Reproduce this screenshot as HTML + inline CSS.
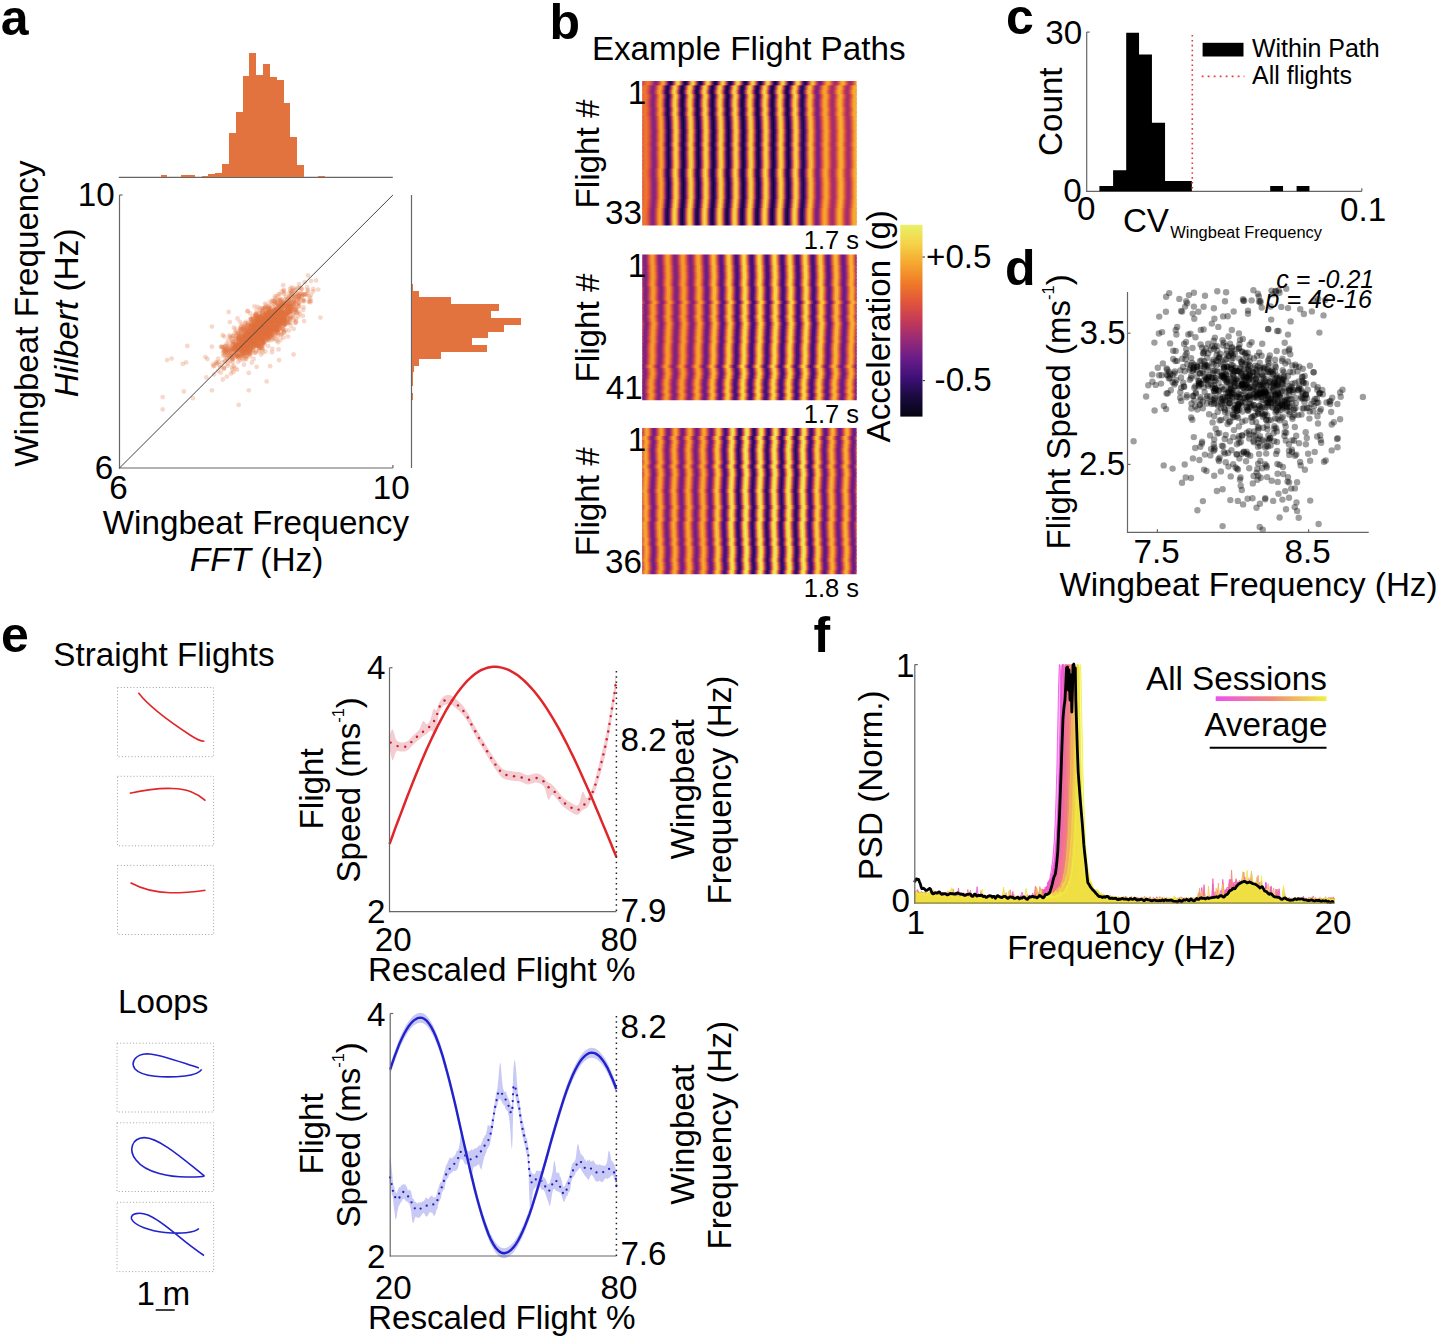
<!DOCTYPE html>
<html><head><meta charset="utf-8"><style>
html,body{margin:0;padding:0;background:#fff;width:1440px;height:1341px;overflow:hidden}
svg{display:block}
text{font-family:"Liberation Sans",sans-serif}
</style></head><body>
<svg width="1440" height="1341" viewBox="0 0 1440 1341" font-family='"Liberation Sans",sans-serif'>
<defs><linearGradient id="cb" x1="0" y1="0" x2="0" y2="1"><stop offset="0.00" stop-color="#e8f268"/><stop offset="0.05" stop-color="#eee258"/><stop offset="0.10" stop-color="#f5d248"/><stop offset="0.15" stop-color="#f5bd3c"/><stop offset="0.20" stop-color="#f5a830"/><stop offset="0.25" stop-color="#f2922c"/><stop offset="0.30" stop-color="#f07c28"/><stop offset="0.35" stop-color="#e96931"/><stop offset="0.40" stop-color="#e2563a"/><stop offset="0.45" stop-color="#d34849"/><stop offset="0.50" stop-color="#c43a58"/><stop offset="0.55" stop-color="#ad3267"/><stop offset="0.60" stop-color="#962a76"/><stop offset="0.65" stop-color="#7f237f"/><stop offset="0.70" stop-color="#681c88"/><stop offset="0.75" stop-color="#53167f"/><stop offset="0.80" stop-color="#3e1076"/><stop offset="0.85" stop-color="#2b0d5a"/><stop offset="0.90" stop-color="#190a3e"/><stop offset="0.95" stop-color="#0f0728"/><stop offset="1.00" stop-color="#050412"/></linearGradient><linearGradient id="hg1"><stop offset="0.0000" stop-color="#ef782a"/><stop offset="0.0079" stop-color="#e96931"/><stop offset="0.0157" stop-color="#d94e43"/><stop offset="0.0236" stop-color="#c23959"/><stop offset="0.0314" stop-color="#b63561"/><stop offset="0.0393" stop-color="#c73d55"/><stop offset="0.0472" stop-color="#df533d"/><stop offset="0.0550" stop-color="#eb6e2e"/><stop offset="0.0629" stop-color="#ee782a"/><stop offset="0.0708" stop-color="#e86533"/><stop offset="0.0786" stop-color="#d34849"/><stop offset="0.0865" stop-color="#a42f6d"/><stop offset="0.0943" stop-color="#81247e"/><stop offset="0.1022" stop-color="#912978"/><stop offset="0.1101" stop-color="#d0454c"/><stop offset="0.1179" stop-color="#f1842a"/><stop offset="0.1258" stop-color="#f5aa31"/><stop offset="0.1336" stop-color="#f18329"/><stop offset="0.1415" stop-color="#b63561"/><stop offset="0.1494" stop-color="#3d1075"/><stop offset="0.1572" stop-color="#140934"/><stop offset="0.1651" stop-color="#47137a"/><stop offset="0.1730" stop-color="#cf444d"/><stop offset="0.1808" stop-color="#f5b437"/><stop offset="0.1887" stop-color="#f1db51"/><stop offset="0.1965" stop-color="#f49e2e"/><stop offset="0.2044" stop-color="#b33463"/><stop offset="0.2123" stop-color="#330e66"/><stop offset="0.2201" stop-color="#130831"/><stop offset="0.2280" stop-color="#47137a"/><stop offset="0.2358" stop-color="#cf444d"/><stop offset="0.2437" stop-color="#f5b437"/><stop offset="0.2516" stop-color="#f1db51"/><stop offset="0.2594" stop-color="#f49e2e"/><stop offset="0.2673" stop-color="#b33463"/><stop offset="0.2752" stop-color="#330e66"/><stop offset="0.2830" stop-color="#130831"/><stop offset="0.2909" stop-color="#47137a"/><stop offset="0.2987" stop-color="#cf444d"/><stop offset="0.3066" stop-color="#f5b437"/><stop offset="0.3145" stop-color="#f1db51"/><stop offset="0.3223" stop-color="#f49e2e"/><stop offset="0.3302" stop-color="#b33463"/><stop offset="0.3381" stop-color="#330e66"/><stop offset="0.3459" stop-color="#130831"/><stop offset="0.3538" stop-color="#47137a"/><stop offset="0.3616" stop-color="#cf444d"/><stop offset="0.3695" stop-color="#f5b437"/><stop offset="0.3774" stop-color="#f1db51"/><stop offset="0.3852" stop-color="#f49e2e"/><stop offset="0.3931" stop-color="#b33463"/><stop offset="0.4009" stop-color="#330e66"/><stop offset="0.4088" stop-color="#130831"/><stop offset="0.4167" stop-color="#47137a"/><stop offset="0.4245" stop-color="#cf444d"/><stop offset="0.4324" stop-color="#f5b437"/><stop offset="0.4403" stop-color="#f1db51"/><stop offset="0.4481" stop-color="#f49e2e"/><stop offset="0.4560" stop-color="#b33463"/><stop offset="0.4638" stop-color="#330e66"/><stop offset="0.4717" stop-color="#130831"/><stop offset="0.4796" stop-color="#47137a"/><stop offset="0.4874" stop-color="#cf444d"/><stop offset="0.4953" stop-color="#f5b437"/><stop offset="0.5031" stop-color="#f1db51"/><stop offset="0.5110" stop-color="#f49e2e"/><stop offset="0.5189" stop-color="#b33463"/><stop offset="0.5267" stop-color="#330e66"/><stop offset="0.5346" stop-color="#130831"/><stop offset="0.5425" stop-color="#47137a"/><stop offset="0.5503" stop-color="#cf444d"/><stop offset="0.5582" stop-color="#f5b437"/><stop offset="0.5660" stop-color="#f1db51"/><stop offset="0.5739" stop-color="#f49e2e"/><stop offset="0.5818" stop-color="#b33463"/><stop offset="0.5896" stop-color="#330e66"/><stop offset="0.5975" stop-color="#130831"/><stop offset="0.6053" stop-color="#47137a"/><stop offset="0.6132" stop-color="#cf444d"/><stop offset="0.6211" stop-color="#f5b437"/><stop offset="0.6289" stop-color="#f1db51"/><stop offset="0.6368" stop-color="#f49e2e"/><stop offset="0.6447" stop-color="#b33463"/><stop offset="0.6525" stop-color="#330e66"/><stop offset="0.6604" stop-color="#130831"/><stop offset="0.6682" stop-color="#47137a"/><stop offset="0.6761" stop-color="#cf444d"/><stop offset="0.6840" stop-color="#f5b437"/><stop offset="0.6918" stop-color="#f1db51"/><stop offset="0.6997" stop-color="#f49e2e"/><stop offset="0.7075" stop-color="#b33463"/><stop offset="0.7154" stop-color="#370f6c"/><stop offset="0.7233" stop-color="#1d0b44"/><stop offset="0.7311" stop-color="#5c1983"/><stop offset="0.7390" stop-color="#d54a47"/><stop offset="0.7469" stop-color="#f5a730"/><stop offset="0.7547" stop-color="#f5c340"/><stop offset="0.7626" stop-color="#f2902c"/><stop offset="0.7704" stop-color="#ce434e"/><stop offset="0.7783" stop-color="#83247d"/><stop offset="0.7862" stop-color="#721f84"/><stop offset="0.7940" stop-color="#a42f6d"/><stop offset="0.8019" stop-color="#e25739"/><stop offset="0.8097" stop-color="#f2922c"/><stop offset="0.8176" stop-color="#f5aa31"/><stop offset="0.8255" stop-color="#f28e2b"/><stop offset="0.8333" stop-color="#e2563a"/><stop offset="0.8412" stop-color="#b33463"/><stop offset="0.8491" stop-color="#9d2d71"/><stop offset="0.8569" stop-color="#be385c"/><stop offset="0.8648" stop-color="#e76433"/><stop offset="0.8726" stop-color="#f49e2e"/><stop offset="0.8805" stop-color="#f5b236"/><stop offset="0.8884" stop-color="#f3932c"/><stop offset="0.8962" stop-color="#e25739"/><stop offset="0.9041" stop-color="#b33463"/><stop offset="0.9119" stop-color="#9d2d71"/><stop offset="0.9198" stop-color="#be385c"/><stop offset="0.9277" stop-color="#e76433"/><stop offset="0.9355" stop-color="#f49e2e"/><stop offset="0.9434" stop-color="#f5b236"/><stop offset="0.9513" stop-color="#f3932c"/><stop offset="0.9591" stop-color="#e25739"/><stop offset="0.9670" stop-color="#b33463"/><stop offset="0.9748" stop-color="#9d2d71"/><stop offset="0.9827" stop-color="#be385c"/><stop offset="0.9906" stop-color="#e76433"/><stop offset="0.9984" stop-color="#f49e2e"/></linearGradient><clipPath id="hc1"><rect x="642.2" y="81" width="214.5" height="144.5"/></clipPath><linearGradient id="hg2"><stop offset="0.0000" stop-color="#7f237f"/><stop offset="0.0080" stop-color="#b73561"/><stop offset="0.0160" stop-color="#e86632"/><stop offset="0.0240" stop-color="#f3992d"/><stop offset="0.0320" stop-color="#f39a2e"/><stop offset="0.0400" stop-color="#e96931"/><stop offset="0.0481" stop-color="#b9365f"/><stop offset="0.0561" stop-color="#81237e"/><stop offset="0.0641" stop-color="#7f237f"/><stop offset="0.0721" stop-color="#b73561"/><stop offset="0.0801" stop-color="#e86632"/><stop offset="0.0881" stop-color="#f3992d"/><stop offset="0.0961" stop-color="#f39a2e"/><stop offset="0.1041" stop-color="#e96931"/><stop offset="0.1121" stop-color="#b9365f"/><stop offset="0.1201" stop-color="#81237e"/><stop offset="0.1281" stop-color="#7f237f"/><stop offset="0.1361" stop-color="#b73561"/><stop offset="0.1442" stop-color="#e86632"/><stop offset="0.1522" stop-color="#f3992d"/><stop offset="0.1602" stop-color="#f39a2e"/><stop offset="0.1682" stop-color="#e96931"/><stop offset="0.1762" stop-color="#b9365f"/><stop offset="0.1842" stop-color="#81237e"/><stop offset="0.1922" stop-color="#7f237f"/><stop offset="0.2002" stop-color="#b73561"/><stop offset="0.2082" stop-color="#e86632"/><stop offset="0.2162" stop-color="#f3992d"/><stop offset="0.2242" stop-color="#f39a2e"/><stop offset="0.2322" stop-color="#e96931"/><stop offset="0.2403" stop-color="#b9365f"/><stop offset="0.2483" stop-color="#81237e"/><stop offset="0.2563" stop-color="#7e237f"/><stop offset="0.2643" stop-color="#b53562"/><stop offset="0.2723" stop-color="#e96931"/><stop offset="0.2803" stop-color="#f4a22f"/><stop offset="0.2883" stop-color="#f5a530"/><stop offset="0.2963" stop-color="#eb6e2f"/><stop offset="0.3043" stop-color="#b33463"/><stop offset="0.3123" stop-color="#6e1e86"/><stop offset="0.3203" stop-color="#6a1d87"/><stop offset="0.3283" stop-color="#ad3267"/><stop offset="0.3364" stop-color="#eb6f2e"/><stop offset="0.3444" stop-color="#f5b437"/><stop offset="0.3524" stop-color="#f5b739"/><stop offset="0.3604" stop-color="#ed742c"/><stop offset="0.3684" stop-color="#ab3168"/><stop offset="0.3764" stop-color="#5c1883"/><stop offset="0.3844" stop-color="#581781"/><stop offset="0.3924" stop-color="#a42f6d"/><stop offset="0.4004" stop-color="#ee752b"/><stop offset="0.4084" stop-color="#f5c541"/><stop offset="0.4164" stop-color="#f5c943"/><stop offset="0.4244" stop-color="#f07b28"/><stop offset="0.4325" stop-color="#a32f6d"/><stop offset="0.4405" stop-color="#4a137b"/><stop offset="0.4485" stop-color="#461279"/><stop offset="0.4565" stop-color="#9c2c72"/><stop offset="0.4645" stop-color="#f07b28"/><stop offset="0.4725" stop-color="#f4d349"/><stop offset="0.4805" stop-color="#f4d54b"/><stop offset="0.4885" stop-color="#f08029"/><stop offset="0.4965" stop-color="#a02d70"/><stop offset="0.5045" stop-color="#451279"/><stop offset="0.5125" stop-color="#431178"/><stop offset="0.5205" stop-color="#9b2c73"/><stop offset="0.5286" stop-color="#f07b28"/><stop offset="0.5366" stop-color="#f4d349"/><stop offset="0.5446" stop-color="#f4d54b"/><stop offset="0.5526" stop-color="#f08029"/><stop offset="0.5606" stop-color="#a02d70"/><stop offset="0.5686" stop-color="#451279"/><stop offset="0.5766" stop-color="#431178"/><stop offset="0.5846" stop-color="#9b2c73"/><stop offset="0.5926" stop-color="#f07b28"/><stop offset="0.6006" stop-color="#f4d349"/><stop offset="0.6086" stop-color="#f4d54b"/><stop offset="0.6166" stop-color="#f08029"/><stop offset="0.6247" stop-color="#a02d70"/><stop offset="0.6327" stop-color="#451279"/><stop offset="0.6407" stop-color="#431178"/><stop offset="0.6487" stop-color="#9b2c73"/><stop offset="0.6567" stop-color="#f07b28"/><stop offset="0.6647" stop-color="#f4d349"/><stop offset="0.6727" stop-color="#f4d54b"/><stop offset="0.6807" stop-color="#f08029"/><stop offset="0.6887" stop-color="#a02d70"/><stop offset="0.6967" stop-color="#451279"/><stop offset="0.7047" stop-color="#431178"/><stop offset="0.7127" stop-color="#9b2c73"/><stop offset="0.7208" stop-color="#f07b28"/><stop offset="0.7288" stop-color="#f4d349"/><stop offset="0.7368" stop-color="#f4d54b"/><stop offset="0.7448" stop-color="#f08029"/><stop offset="0.7528" stop-color="#a02d70"/><stop offset="0.7608" stop-color="#47127a"/><stop offset="0.7688" stop-color="#47137a"/><stop offset="0.7768" stop-color="#9f2d70"/><stop offset="0.7848" stop-color="#ef782a"/><stop offset="0.7928" stop-color="#f5c842"/><stop offset="0.8008" stop-color="#f5c742"/><stop offset="0.8088" stop-color="#ef792a"/><stop offset="0.8169" stop-color="#a8306a"/><stop offset="0.8249" stop-color="#5a1882"/><stop offset="0.8329" stop-color="#5b1883"/><stop offset="0.8409" stop-color="#a8306a"/><stop offset="0.8489" stop-color="#ec712d"/><stop offset="0.8569" stop-color="#f5b437"/><stop offset="0.8649" stop-color="#f5b336"/><stop offset="0.8729" stop-color="#ec712d"/><stop offset="0.8809" stop-color="#b13364"/><stop offset="0.8889" stop-color="#6b1d87"/><stop offset="0.8969" stop-color="#6a1d87"/><stop offset="0.9049" stop-color="#ae3267"/><stop offset="0.9130" stop-color="#eb6d2f"/><stop offset="0.9210" stop-color="#f5ad33"/><stop offset="0.9290" stop-color="#f5af34"/><stop offset="0.9370" stop-color="#ec702e"/><stop offset="0.9450" stop-color="#b13364"/><stop offset="0.9530" stop-color="#6b1d87"/><stop offset="0.9610" stop-color="#6a1d87"/><stop offset="0.9690" stop-color="#ae3267"/><stop offset="0.9770" stop-color="#eb6d2f"/><stop offset="0.9850" stop-color="#f5ad33"/><stop offset="0.9930" stop-color="#f5af34"/></linearGradient><clipPath id="hc2"><rect x="642.2" y="254.3" width="214.5" height="145.9"/></clipPath><linearGradient id="hg3"><stop offset="0.0000" stop-color="#f1882a"/><stop offset="0.0075" stop-color="#f5ac32"/><stop offset="0.0150" stop-color="#f2902c"/><stop offset="0.0225" stop-color="#da4e42"/><stop offset="0.0300" stop-color="#922977"/><stop offset="0.0375" stop-color="#6d1d86"/><stop offset="0.0450" stop-color="#8a267b"/><stop offset="0.0525" stop-color="#d2474a"/><stop offset="0.0600" stop-color="#f1882a"/><stop offset="0.0675" stop-color="#f5ac32"/><stop offset="0.0749" stop-color="#f2902c"/><stop offset="0.0824" stop-color="#da4e42"/><stop offset="0.0899" stop-color="#922977"/><stop offset="0.0974" stop-color="#6d1d86"/><stop offset="0.1049" stop-color="#8a267b"/><stop offset="0.1124" stop-color="#d2474a"/><stop offset="0.1199" stop-color="#f1882a"/><stop offset="0.1274" stop-color="#f5ac32"/><stop offset="0.1349" stop-color="#f2902c"/><stop offset="0.1424" stop-color="#da4e42"/><stop offset="0.1499" stop-color="#922977"/><stop offset="0.1574" stop-color="#6d1d86"/><stop offset="0.1649" stop-color="#8a267b"/><stop offset="0.1724" stop-color="#d2474a"/><stop offset="0.1799" stop-color="#f1882a"/><stop offset="0.1874" stop-color="#f5ac32"/><stop offset="0.1949" stop-color="#f2902c"/><stop offset="0.2024" stop-color="#da4e42"/><stop offset="0.2099" stop-color="#922977"/><stop offset="0.2173" stop-color="#6d1d86"/><stop offset="0.2248" stop-color="#8a267b"/><stop offset="0.2323" stop-color="#d2474a"/><stop offset="0.2398" stop-color="#f1882a"/><stop offset="0.2473" stop-color="#f5ac32"/><stop offset="0.2548" stop-color="#f2902c"/><stop offset="0.2623" stop-color="#da4e42"/><stop offset="0.2698" stop-color="#922977"/><stop offset="0.2773" stop-color="#6d1d86"/><stop offset="0.2848" stop-color="#8a267b"/><stop offset="0.2923" stop-color="#d2474a"/><stop offset="0.2998" stop-color="#f1882a"/><stop offset="0.3073" stop-color="#f5ac32"/><stop offset="0.3148" stop-color="#f2902c"/><stop offset="0.3223" stop-color="#da4e42"/><stop offset="0.3298" stop-color="#8b277a"/><stop offset="0.3373" stop-color="#5f1984"/><stop offset="0.3448" stop-color="#7c2280"/><stop offset="0.3523" stop-color="#d1474b"/><stop offset="0.3597" stop-color="#f49b2e"/><stop offset="0.3672" stop-color="#f5cb44"/><stop offset="0.3747" stop-color="#f5ab32"/><stop offset="0.3822" stop-color="#db5041"/><stop offset="0.3897" stop-color="#721f84"/><stop offset="0.3972" stop-color="#3c1073"/><stop offset="0.4047" stop-color="#601a85"/><stop offset="0.4122" stop-color="#d0454c"/><stop offset="0.4197" stop-color="#f5b336"/><stop offset="0.4272" stop-color="#ece85e"/><stop offset="0.4347" stop-color="#f5c541"/><stop offset="0.4422" stop-color="#dc5140"/><stop offset="0.4497" stop-color="#5d1983"/><stop offset="0.4572" stop-color="#260c52"/><stop offset="0.4647" stop-color="#51157e"/><stop offset="0.4722" stop-color="#d0454c"/><stop offset="0.4797" stop-color="#f5bb3b"/><stop offset="0.4872" stop-color="#eaed63"/><stop offset="0.4947" stop-color="#f5c842"/><stop offset="0.5021" stop-color="#dc5140"/><stop offset="0.5096" stop-color="#5d1983"/><stop offset="0.5171" stop-color="#260c52"/><stop offset="0.5246" stop-color="#51157e"/><stop offset="0.5321" stop-color="#d0454c"/><stop offset="0.5396" stop-color="#f5bb3b"/><stop offset="0.5471" stop-color="#eaed63"/><stop offset="0.5546" stop-color="#f5c842"/><stop offset="0.5621" stop-color="#dc5140"/><stop offset="0.5696" stop-color="#5d1983"/><stop offset="0.5771" stop-color="#260c52"/><stop offset="0.5846" stop-color="#51157e"/><stop offset="0.5921" stop-color="#d0454c"/><stop offset="0.5996" stop-color="#f5bb3b"/><stop offset="0.6071" stop-color="#eaed63"/><stop offset="0.6146" stop-color="#f5c842"/><stop offset="0.6221" stop-color="#dc5140"/><stop offset="0.6296" stop-color="#5d1983"/><stop offset="0.6371" stop-color="#260c52"/><stop offset="0.6445" stop-color="#51157e"/><stop offset="0.6520" stop-color="#d0454c"/><stop offset="0.6595" stop-color="#f5bb3b"/><stop offset="0.6670" stop-color="#eaed63"/><stop offset="0.6745" stop-color="#f5c842"/><stop offset="0.6820" stop-color="#dc5140"/><stop offset="0.6895" stop-color="#5d1983"/><stop offset="0.6970" stop-color="#260c52"/><stop offset="0.7045" stop-color="#51157e"/><stop offset="0.7120" stop-color="#d0454c"/><stop offset="0.7195" stop-color="#f5bb3b"/><stop offset="0.7270" stop-color="#eaed63"/><stop offset="0.7345" stop-color="#f5c742"/><stop offset="0.7420" stop-color="#dc5140"/><stop offset="0.7495" stop-color="#641b86"/><stop offset="0.7570" stop-color="#330e65"/><stop offset="0.7645" stop-color="#5f1984"/><stop offset="0.7720" stop-color="#d1464b"/><stop offset="0.7795" stop-color="#f5a830"/><stop offset="0.7869" stop-color="#f4d44a"/><stop offset="0.7944" stop-color="#f5ac32"/><stop offset="0.8019" stop-color="#db4f41"/><stop offset="0.8094" stop-color="#7e237f"/><stop offset="0.8169" stop-color="#551780"/><stop offset="0.8244" stop-color="#7b2280"/><stop offset="0.8319" stop-color="#d2474a"/><stop offset="0.8394" stop-color="#f2902c"/><stop offset="0.8469" stop-color="#f5b738"/><stop offset="0.8544" stop-color="#f3982d"/><stop offset="0.8619" stop-color="#da4f42"/><stop offset="0.8694" stop-color="#8b277a"/><stop offset="0.8769" stop-color="#621a85"/><stop offset="0.8844" stop-color="#82247e"/><stop offset="0.8919" stop-color="#d2474a"/><stop offset="0.8994" stop-color="#f2902c"/><stop offset="0.9069" stop-color="#f5b738"/><stop offset="0.9144" stop-color="#f3982d"/><stop offset="0.9219" stop-color="#da4f42"/><stop offset="0.9294" stop-color="#8b277a"/><stop offset="0.9368" stop-color="#621a85"/><stop offset="0.9443" stop-color="#82247e"/><stop offset="0.9518" stop-color="#d2474a"/><stop offset="0.9593" stop-color="#f2902c"/><stop offset="0.9668" stop-color="#f5b738"/><stop offset="0.9743" stop-color="#f3982d"/><stop offset="0.9818" stop-color="#da4f42"/><stop offset="0.9893" stop-color="#8b277a"/><stop offset="0.9968" stop-color="#621a85"/></linearGradient><clipPath id="hc3"><rect x="642.2" y="427.8" width="214.5" height="146.5"/></clipPath><linearGradient id="sg"><stop offset="0" stop-color="#f050f0"/><stop offset="0.5" stop-color="#f08a78"/><stop offset="1" stop-color="#f0f040"/></linearGradient></defs>
<rect width="1440" height="1341" fill="#fff"/>
<text x="0.7" y="34.5" font-size="50" font-weight="bold">a</text>
<text x="549.5" y="39" font-size="50" font-weight="bold">b</text>
<text x="1006" y="34" font-size="50" font-weight="bold">c</text>
<text x="1005" y="285" font-size="50" font-weight="bold">d</text>
<text x="1" y="652" font-size="50" font-weight="bold">e</text>
<text x="813.5" y="652" font-size="50" font-weight="bold">f</text>
<line x1="118.8" y1="177.3" x2="392.8" y2="177.3" stroke="#666" stroke-width="1.2"/>
<path d="M160.51 176.8V174.8H167.36V176.8ZM181.02 176.8V175.2H187.87V176.8ZM187.85 176.8V175.2H194.70V176.8ZM201.52 176.8V175.6H208.37V176.8ZM208.35 176.8V174.2H215.21V176.8ZM215.19 176.8V173.4H222.04V176.8ZM222.02 176.8V164.0H228.88V176.8ZM228.86 176.8V132.9H235.71V176.8ZM235.69 176.8V112.2H242.55V176.8ZM242.53 176.8V76.0H249.38V176.8ZM249.37 176.8V52.9H256.22V176.8ZM256.20 176.8V75.1H263.05V176.8ZM263.03 176.8V64.4H269.89V176.8ZM269.87 176.8V77.3H276.72V176.8ZM276.71 176.8V80.0H283.56V176.8ZM283.54 176.8V102.7H290.39V176.8ZM290.38 176.8V137.1H297.23V176.8ZM297.21 176.8V165.1H304.06V176.8ZM317.72 176.8V175.6H324.57V176.8Z" fill="#E2733F" shape-rendering="crispEdges"/>
<line x1="411.5" y1="195" x2="411.5" y2="468" stroke="#666" stroke-width="1.2"/>
<path d="M412.00 392.93H412.8V399.77H412.00ZM412.00 379.27H412.6V386.12H412.00ZM412.00 372.45H413.0V379.29H412.00ZM412.00 365.62H413.5V372.47H412.00ZM412.00 358.80H418.8V365.64H412.00ZM412.00 351.98H440.7V358.82H412.00ZM412.00 345.15H486.9V352.00H412.00ZM412.00 338.33H472.3V345.17H412.00ZM412.00 331.50H488.0V338.34H412.00ZM412.00 324.68H503.7V331.52H412.00ZM412.00 317.85H521.4V324.69H412.00ZM412.00 311.03H490.5V317.87H412.00ZM412.00 304.20H498.7V311.04H412.00ZM412.00 297.38H450.6V304.22H412.00ZM412.00 290.55H418.8V297.39H412.00ZM412.00 283.73H412.6V290.57H412.00Z" fill="#E2733F" shape-rendering="crispEdges"/>
<g fill="#E2733F" fill-opacity="0.27"><circle cx="263.1" cy="331.3" r="2.4"/><circle cx="268.3" cy="321.2" r="2.4"/><circle cx="258.2" cy="333.1" r="2.4"/><circle cx="247.2" cy="347.4" r="2.4"/><circle cx="255.0" cy="326.9" r="2.4"/><circle cx="245.4" cy="345.5" r="2.4"/><circle cx="264.1" cy="331.7" r="2.4"/><circle cx="286.9" cy="323.2" r="2.4"/><circle cx="254.3" cy="341.4" r="2.4"/><circle cx="252.0" cy="330.2" r="2.4"/><circle cx="271.7" cy="336.2" r="2.4"/><circle cx="269.4" cy="324.2" r="2.4"/><circle cx="264.9" cy="320.4" r="2.4"/><circle cx="246.5" cy="343.3" r="2.4"/><circle cx="262.5" cy="326.3" r="2.4"/><circle cx="275.4" cy="329.1" r="2.4"/><circle cx="239.1" cy="333.6" r="2.4"/><circle cx="254.9" cy="324.2" r="2.4"/><circle cx="229.2" cy="350.3" r="2.4"/><circle cx="240.1" cy="360.1" r="2.4"/><circle cx="230.3" cy="360.9" r="2.4"/><circle cx="258.9" cy="322.4" r="2.4"/><circle cx="240.5" cy="329.1" r="2.4"/><circle cx="267.9" cy="322.0" r="2.4"/><circle cx="265.8" cy="315.0" r="2.4"/><circle cx="259.7" cy="335.9" r="2.4"/><circle cx="218.3" cy="361.9" r="2.4"/><circle cx="253.5" cy="335.0" r="2.4"/><circle cx="262.2" cy="325.0" r="2.4"/><circle cx="265.0" cy="340.2" r="2.4"/><circle cx="235.8" cy="339.3" r="2.4"/><circle cx="254.5" cy="322.5" r="2.4"/><circle cx="245.6" cy="350.8" r="2.4"/><circle cx="248.7" cy="350.4" r="2.4"/><circle cx="281.9" cy="311.4" r="2.4"/><circle cx="248.7" cy="344.2" r="2.4"/><circle cx="262.5" cy="349.5" r="2.4"/><circle cx="278.8" cy="309.6" r="2.4"/><circle cx="252.7" cy="334.2" r="2.4"/><circle cx="261.0" cy="333.7" r="2.4"/><circle cx="265.0" cy="307.9" r="2.4"/><circle cx="264.2" cy="326.0" r="2.4"/><circle cx="241.3" cy="350.4" r="2.4"/><circle cx="264.4" cy="326.2" r="2.4"/><circle cx="287.2" cy="320.0" r="2.4"/><circle cx="235.5" cy="354.6" r="2.4"/><circle cx="278.3" cy="313.7" r="2.4"/><circle cx="265.2" cy="331.5" r="2.4"/><circle cx="251.6" cy="340.3" r="2.4"/><circle cx="298.6" cy="287.7" r="2.4"/><circle cx="276.6" cy="310.7" r="2.4"/><circle cx="241.7" cy="336.3" r="2.4"/><circle cx="264.4" cy="322.4" r="2.4"/><circle cx="273.3" cy="316.4" r="2.4"/><circle cx="259.7" cy="317.6" r="2.4"/><circle cx="275.2" cy="319.5" r="2.4"/><circle cx="261.9" cy="312.5" r="2.4"/><circle cx="274.9" cy="328.0" r="2.4"/><circle cx="288.6" cy="312.0" r="2.4"/><circle cx="251.0" cy="349.0" r="2.4"/><circle cx="266.6" cy="328.5" r="2.4"/><circle cx="254.8" cy="329.4" r="2.4"/><circle cx="265.3" cy="313.6" r="2.4"/><circle cx="241.9" cy="349.1" r="2.4"/><circle cx="252.7" cy="335.4" r="2.4"/><circle cx="259.5" cy="333.8" r="2.4"/><circle cx="279.0" cy="323.2" r="2.4"/><circle cx="283.4" cy="324.0" r="2.4"/><circle cx="239.5" cy="344.5" r="2.4"/><circle cx="248.9" cy="353.6" r="2.4"/><circle cx="274.5" cy="318.8" r="2.4"/><circle cx="227.6" cy="353.4" r="2.4"/><circle cx="254.8" cy="339.8" r="2.4"/><circle cx="261.3" cy="338.3" r="2.4"/><circle cx="285.4" cy="324.3" r="2.4"/><circle cx="275.3" cy="302.7" r="2.4"/><circle cx="257.2" cy="344.2" r="2.4"/><circle cx="256.5" cy="319.0" r="2.4"/><circle cx="258.6" cy="326.0" r="2.4"/><circle cx="290.1" cy="311.9" r="2.4"/><circle cx="255.4" cy="343.8" r="2.4"/><circle cx="257.6" cy="322.7" r="2.4"/><circle cx="269.3" cy="308.2" r="2.4"/><circle cx="260.9" cy="337.9" r="2.4"/><circle cx="259.5" cy="333.3" r="2.4"/><circle cx="243.2" cy="333.0" r="2.4"/><circle cx="262.8" cy="325.3" r="2.4"/><circle cx="255.2" cy="316.0" r="2.4"/><circle cx="283.8" cy="318.2" r="2.4"/><circle cx="274.6" cy="314.9" r="2.4"/><circle cx="262.6" cy="339.5" r="2.4"/><circle cx="274.9" cy="301.0" r="2.4"/><circle cx="257.0" cy="338.9" r="2.4"/><circle cx="281.7" cy="334.2" r="2.4"/><circle cx="262.9" cy="329.3" r="2.4"/><circle cx="273.4" cy="321.9" r="2.4"/><circle cx="240.1" cy="327.6" r="2.4"/><circle cx="269.2" cy="326.7" r="2.4"/><circle cx="233.0" cy="349.8" r="2.4"/><circle cx="226.9" cy="348.8" r="2.4"/><circle cx="257.6" cy="317.9" r="2.4"/><circle cx="247.0" cy="340.1" r="2.4"/><circle cx="266.0" cy="316.8" r="2.4"/><circle cx="302.9" cy="294.8" r="2.4"/><circle cx="248.3" cy="341.3" r="2.4"/><circle cx="251.9" cy="335.4" r="2.4"/><circle cx="266.7" cy="325.2" r="2.4"/><circle cx="271.8" cy="329.9" r="2.4"/><circle cx="259.9" cy="319.6" r="2.4"/><circle cx="259.4" cy="343.0" r="2.4"/><circle cx="275.5" cy="308.7" r="2.4"/><circle cx="272.3" cy="313.0" r="2.4"/><circle cx="244.7" cy="342.1" r="2.4"/><circle cx="261.6" cy="335.9" r="2.4"/><circle cx="263.7" cy="329.6" r="2.4"/><circle cx="244.3" cy="337.4" r="2.4"/><circle cx="267.7" cy="318.2" r="2.4"/><circle cx="247.8" cy="336.5" r="2.4"/><circle cx="280.3" cy="306.9" r="2.4"/><circle cx="266.5" cy="330.6" r="2.4"/><circle cx="264.6" cy="324.9" r="2.4"/><circle cx="252.5" cy="349.6" r="2.4"/><circle cx="260.9" cy="322.8" r="2.4"/><circle cx="227.5" cy="352.3" r="2.4"/><circle cx="242.9" cy="346.2" r="2.4"/><circle cx="269.5" cy="313.1" r="2.4"/><circle cx="225.2" cy="349.1" r="2.4"/><circle cx="278.1" cy="342.3" r="2.4"/><circle cx="232.0" cy="350.0" r="2.4"/><circle cx="276.5" cy="331.3" r="2.4"/><circle cx="248.0" cy="329.4" r="2.4"/><circle cx="276.9" cy="296.1" r="2.4"/><circle cx="265.4" cy="331.0" r="2.4"/><circle cx="235.7" cy="347.1" r="2.4"/><circle cx="285.2" cy="314.4" r="2.4"/><circle cx="288.7" cy="306.6" r="2.4"/><circle cx="261.9" cy="323.2" r="2.4"/><circle cx="258.2" cy="320.2" r="2.4"/><circle cx="260.2" cy="338.9" r="2.4"/><circle cx="245.7" cy="326.6" r="2.4"/><circle cx="282.6" cy="322.3" r="2.4"/><circle cx="253.4" cy="332.6" r="2.4"/><circle cx="262.1" cy="318.5" r="2.4"/><circle cx="248.9" cy="331.9" r="2.4"/><circle cx="251.9" cy="344.4" r="2.4"/><circle cx="240.3" cy="350.6" r="2.4"/><circle cx="285.4" cy="316.1" r="2.4"/><circle cx="260.3" cy="330.5" r="2.4"/><circle cx="280.2" cy="305.6" r="2.4"/><circle cx="263.3" cy="339.4" r="2.4"/><circle cx="250.7" cy="332.8" r="2.4"/><circle cx="257.2" cy="326.8" r="2.4"/><circle cx="253.1" cy="330.3" r="2.4"/><circle cx="263.2" cy="323.8" r="2.4"/><circle cx="256.4" cy="319.4" r="2.4"/><circle cx="257.7" cy="327.6" r="2.4"/><circle cx="238.5" cy="338.1" r="2.4"/><circle cx="248.7" cy="333.4" r="2.4"/><circle cx="292.4" cy="291.0" r="2.4"/><circle cx="251.1" cy="353.5" r="2.4"/><circle cx="244.3" cy="330.2" r="2.4"/><circle cx="269.0" cy="326.1" r="2.4"/><circle cx="288.0" cy="312.6" r="2.4"/><circle cx="237.2" cy="355.3" r="2.4"/><circle cx="259.3" cy="347.3" r="2.4"/><circle cx="251.8" cy="339.6" r="2.4"/><circle cx="231.7" cy="356.7" r="2.4"/><circle cx="276.1" cy="314.3" r="2.4"/><circle cx="262.6" cy="341.4" r="2.4"/><circle cx="264.3" cy="314.5" r="2.4"/><circle cx="249.7" cy="335.3" r="2.4"/><circle cx="271.1" cy="324.5" r="2.4"/><circle cx="253.5" cy="341.3" r="2.4"/><circle cx="260.5" cy="336.9" r="2.4"/><circle cx="243.3" cy="352.3" r="2.4"/><circle cx="241.4" cy="348.5" r="2.4"/><circle cx="286.8" cy="311.0" r="2.4"/><circle cx="254.0" cy="336.1" r="2.4"/><circle cx="268.2" cy="336.9" r="2.4"/><circle cx="262.4" cy="330.9" r="2.4"/><circle cx="255.2" cy="341.6" r="2.4"/><circle cx="254.0" cy="333.2" r="2.4"/><circle cx="274.2" cy="303.5" r="2.4"/><circle cx="257.7" cy="326.4" r="2.4"/><circle cx="260.3" cy="332.8" r="2.4"/><circle cx="263.4" cy="342.2" r="2.4"/><circle cx="283.9" cy="325.6" r="2.4"/><circle cx="275.1" cy="334.4" r="2.4"/><circle cx="269.8" cy="316.8" r="2.4"/><circle cx="253.0" cy="342.1" r="2.4"/><circle cx="238.5" cy="345.2" r="2.4"/><circle cx="279.9" cy="321.5" r="2.4"/><circle cx="280.2" cy="314.9" r="2.4"/><circle cx="260.5" cy="317.4" r="2.4"/><circle cx="272.7" cy="327.2" r="2.4"/><circle cx="276.9" cy="321.1" r="2.4"/><circle cx="277.8" cy="324.6" r="2.4"/><circle cx="279.4" cy="308.6" r="2.4"/><circle cx="254.9" cy="343.0" r="2.4"/><circle cx="290.0" cy="318.8" r="2.4"/><circle cx="240.9" cy="356.3" r="2.4"/><circle cx="278.3" cy="329.6" r="2.4"/><circle cx="271.8" cy="317.6" r="2.4"/><circle cx="278.6" cy="294.1" r="2.4"/><circle cx="296.4" cy="312.9" r="2.4"/><circle cx="289.4" cy="300.7" r="2.4"/><circle cx="242.7" cy="340.5" r="2.4"/><circle cx="233.0" cy="359.4" r="2.4"/><circle cx="277.6" cy="320.1" r="2.4"/><circle cx="245.0" cy="343.1" r="2.4"/><circle cx="262.8" cy="334.4" r="2.4"/><circle cx="278.0" cy="300.2" r="2.4"/><circle cx="233.8" cy="366.0" r="2.4"/><circle cx="225.5" cy="351.7" r="2.4"/><circle cx="267.6" cy="321.8" r="2.4"/><circle cx="263.8" cy="332.7" r="2.4"/><circle cx="258.7" cy="329.9" r="2.4"/><circle cx="263.7" cy="319.8" r="2.4"/><circle cx="247.7" cy="337.7" r="2.4"/><circle cx="236.1" cy="343.7" r="2.4"/><circle cx="260.1" cy="324.1" r="2.4"/><circle cx="245.8" cy="358.5" r="2.4"/><circle cx="233.8" cy="336.0" r="2.4"/><circle cx="272.0" cy="301.4" r="2.4"/><circle cx="261.9" cy="320.2" r="2.4"/><circle cx="270.3" cy="313.9" r="2.4"/><circle cx="245.5" cy="353.2" r="2.4"/><circle cx="251.3" cy="337.5" r="2.4"/><circle cx="245.3" cy="348.1" r="2.4"/><circle cx="247.3" cy="344.6" r="2.4"/><circle cx="266.5" cy="317.0" r="2.4"/><circle cx="249.1" cy="345.2" r="2.4"/><circle cx="269.4" cy="324.7" r="2.4"/><circle cx="269.1" cy="340.7" r="2.4"/><circle cx="299.0" cy="303.6" r="2.4"/><circle cx="238.3" cy="345.1" r="2.4"/><circle cx="278.8" cy="323.0" r="2.4"/><circle cx="261.4" cy="335.6" r="2.4"/><circle cx="262.8" cy="311.5" r="2.4"/><circle cx="237.3" cy="357.3" r="2.4"/><circle cx="254.9" cy="343.3" r="2.4"/><circle cx="276.2" cy="325.8" r="2.4"/><circle cx="261.6" cy="318.5" r="2.4"/><circle cx="264.5" cy="308.4" r="2.4"/><circle cx="257.9" cy="328.9" r="2.4"/><circle cx="283.6" cy="319.7" r="2.4"/><circle cx="262.7" cy="332.2" r="2.4"/><circle cx="223.9" cy="346.8" r="2.4"/><circle cx="250.7" cy="345.0" r="2.4"/><circle cx="228.0" cy="340.4" r="2.4"/><circle cx="205.3" cy="357.1" r="2.4"/><circle cx="253.6" cy="334.2" r="2.4"/><circle cx="286.7" cy="305.3" r="2.4"/><circle cx="263.9" cy="320.8" r="2.4"/><circle cx="242.2" cy="329.3" r="2.4"/><circle cx="246.3" cy="349.4" r="2.4"/><circle cx="283.1" cy="303.2" r="2.4"/><circle cx="265.8" cy="329.4" r="2.4"/><circle cx="263.9" cy="334.3" r="2.4"/><circle cx="262.1" cy="327.9" r="2.4"/><circle cx="263.7" cy="329.5" r="2.4"/><circle cx="277.3" cy="326.6" r="2.4"/><circle cx="272.9" cy="335.2" r="2.4"/><circle cx="266.9" cy="333.7" r="2.4"/><circle cx="244.5" cy="328.5" r="2.4"/><circle cx="272.1" cy="304.1" r="2.4"/><circle cx="250.9" cy="331.1" r="2.4"/><circle cx="282.5" cy="303.6" r="2.4"/><circle cx="240.4" cy="348.9" r="2.4"/><circle cx="260.6" cy="330.5" r="2.4"/><circle cx="262.9" cy="325.7" r="2.4"/><circle cx="239.5" cy="354.6" r="2.4"/><circle cx="293.6" cy="314.9" r="2.4"/><circle cx="289.0" cy="308.6" r="2.4"/><circle cx="254.8" cy="336.9" r="2.4"/><circle cx="276.7" cy="327.7" r="2.4"/><circle cx="269.8" cy="319.8" r="2.4"/><circle cx="216.6" cy="363.8" r="2.4"/><circle cx="267.5" cy="315.8" r="2.4"/><circle cx="261.9" cy="328.9" r="2.4"/><circle cx="264.5" cy="329.7" r="2.4"/><circle cx="243.9" cy="340.7" r="2.4"/><circle cx="258.2" cy="333.1" r="2.4"/><circle cx="259.9" cy="336.3" r="2.4"/><circle cx="284.1" cy="316.5" r="2.4"/><circle cx="269.0" cy="317.2" r="2.4"/><circle cx="262.9" cy="322.4" r="2.4"/><circle cx="290.2" cy="297.1" r="2.4"/><circle cx="253.2" cy="350.2" r="2.4"/><circle cx="256.1" cy="336.6" r="2.4"/><circle cx="230.7" cy="355.0" r="2.4"/><circle cx="290.9" cy="306.5" r="2.4"/><circle cx="280.2" cy="319.8" r="2.4"/><circle cx="279.3" cy="320.9" r="2.4"/><circle cx="274.9" cy="312.6" r="2.4"/><circle cx="265.0" cy="325.1" r="2.4"/><circle cx="266.9" cy="335.7" r="2.4"/><circle cx="258.6" cy="319.5" r="2.4"/><circle cx="259.4" cy="321.8" r="2.4"/><circle cx="264.0" cy="332.5" r="2.4"/><circle cx="289.9" cy="301.4" r="2.4"/><circle cx="272.9" cy="327.5" r="2.4"/><circle cx="262.0" cy="318.8" r="2.4"/><circle cx="252.7" cy="337.4" r="2.4"/><circle cx="251.8" cy="343.3" r="2.4"/><circle cx="291.5" cy="310.9" r="2.4"/><circle cx="272.0" cy="328.4" r="2.4"/><circle cx="264.2" cy="325.5" r="2.4"/><circle cx="256.9" cy="331.0" r="2.4"/><circle cx="243.3" cy="341.9" r="2.4"/><circle cx="261.8" cy="333.9" r="2.4"/><circle cx="278.6" cy="349.4" r="2.4"/><circle cx="256.1" cy="332.3" r="2.4"/><circle cx="259.0" cy="347.8" r="2.4"/><circle cx="259.1" cy="328.7" r="2.4"/><circle cx="265.0" cy="316.7" r="2.4"/><circle cx="234.7" cy="346.0" r="2.4"/><circle cx="258.9" cy="334.6" r="2.4"/><circle cx="247.9" cy="340.6" r="2.4"/><circle cx="278.8" cy="318.0" r="2.4"/><circle cx="249.3" cy="342.8" r="2.4"/><circle cx="273.3" cy="325.9" r="2.4"/><circle cx="290.1" cy="316.8" r="2.4"/><circle cx="257.5" cy="321.6" r="2.4"/><circle cx="252.3" cy="335.9" r="2.4"/><circle cx="266.4" cy="317.2" r="2.4"/><circle cx="263.0" cy="330.3" r="2.4"/><circle cx="245.4" cy="340.1" r="2.4"/><circle cx="271.2" cy="323.7" r="2.4"/><circle cx="298.9" cy="298.2" r="2.4"/><circle cx="258.4" cy="324.1" r="2.4"/><circle cx="259.4" cy="328.6" r="2.4"/><circle cx="244.5" cy="347.4" r="2.4"/><circle cx="268.7" cy="330.9" r="2.4"/><circle cx="240.9" cy="329.3" r="2.4"/><circle cx="243.4" cy="344.7" r="2.4"/><circle cx="285.8" cy="314.3" r="2.4"/><circle cx="246.9" cy="326.7" r="2.4"/><circle cx="282.3" cy="304.6" r="2.4"/><circle cx="290.1" cy="303.9" r="2.4"/><circle cx="267.6" cy="328.3" r="2.4"/><circle cx="272.9" cy="300.1" r="2.4"/><circle cx="297.7" cy="299.7" r="2.4"/><circle cx="259.5" cy="325.7" r="2.4"/><circle cx="252.5" cy="337.2" r="2.4"/><circle cx="239.0" cy="357.9" r="2.4"/><circle cx="263.8" cy="339.4" r="2.4"/><circle cx="289.3" cy="305.6" r="2.4"/><circle cx="280.1" cy="312.4" r="2.4"/><circle cx="246.3" cy="342.3" r="2.4"/><circle cx="247.8" cy="349.4" r="2.4"/><circle cx="254.1" cy="347.3" r="2.4"/><circle cx="268.2" cy="327.3" r="2.4"/><circle cx="259.4" cy="343.6" r="2.4"/><circle cx="266.8" cy="317.4" r="2.4"/><circle cx="268.3" cy="314.1" r="2.4"/><circle cx="257.7" cy="306.8" r="2.4"/><circle cx="262.3" cy="320.8" r="2.4"/><circle cx="266.7" cy="330.7" r="2.4"/><circle cx="261.5" cy="336.9" r="2.4"/><circle cx="272.0" cy="352.3" r="2.4"/><circle cx="296.3" cy="309.5" r="2.4"/><circle cx="273.6" cy="322.1" r="2.4"/><circle cx="264.0" cy="318.8" r="2.4"/><circle cx="233.1" cy="344.2" r="2.4"/><circle cx="269.9" cy="317.9" r="2.4"/><circle cx="228.4" cy="351.1" r="2.4"/><circle cx="238.0" cy="340.2" r="2.4"/><circle cx="278.2" cy="304.3" r="2.4"/><circle cx="275.6" cy="328.5" r="2.4"/><circle cx="260.4" cy="334.1" r="2.4"/><circle cx="232.6" cy="362.3" r="2.4"/><circle cx="256.4" cy="318.5" r="2.4"/><circle cx="251.0" cy="325.3" r="2.4"/><circle cx="274.4" cy="313.3" r="2.4"/><circle cx="303.2" cy="309.9" r="2.4"/><circle cx="266.9" cy="323.8" r="2.4"/><circle cx="249.2" cy="340.1" r="2.4"/><circle cx="242.2" cy="342.3" r="2.4"/><circle cx="262.0" cy="330.5" r="2.4"/><circle cx="259.9" cy="325.7" r="2.4"/><circle cx="242.6" cy="346.3" r="2.4"/><circle cx="265.1" cy="319.0" r="2.4"/><circle cx="242.6" cy="340.7" r="2.4"/><circle cx="282.8" cy="316.5" r="2.4"/><circle cx="281.9" cy="315.5" r="2.4"/><circle cx="282.3" cy="318.1" r="2.4"/><circle cx="254.6" cy="326.9" r="2.4"/><circle cx="272.2" cy="323.9" r="2.4"/><circle cx="260.7" cy="327.2" r="2.4"/><circle cx="256.1" cy="336.5" r="2.4"/><circle cx="257.0" cy="345.6" r="2.4"/><circle cx="239.9" cy="336.7" r="2.4"/><circle cx="237.4" cy="355.9" r="2.4"/><circle cx="277.2" cy="311.9" r="2.4"/><circle cx="259.6" cy="326.8" r="2.4"/><circle cx="266.9" cy="340.0" r="2.4"/><circle cx="280.8" cy="323.7" r="2.4"/><circle cx="232.2" cy="354.8" r="2.4"/><circle cx="249.1" cy="345.4" r="2.4"/><circle cx="266.2" cy="336.3" r="2.4"/><circle cx="270.0" cy="316.5" r="2.4"/><circle cx="256.3" cy="335.0" r="2.4"/><circle cx="281.3" cy="311.5" r="2.4"/><circle cx="266.8" cy="329.2" r="2.4"/><circle cx="241.5" cy="340.9" r="2.4"/><circle cx="246.5" cy="346.6" r="2.4"/><circle cx="277.3" cy="318.0" r="2.4"/><circle cx="271.3" cy="317.0" r="2.4"/><circle cx="229.3" cy="352.0" r="2.4"/><circle cx="287.0" cy="314.9" r="2.4"/><circle cx="273.7" cy="330.1" r="2.4"/><circle cx="286.9" cy="309.4" r="2.4"/><circle cx="256.2" cy="329.9" r="2.4"/><circle cx="257.8" cy="334.2" r="2.4"/><circle cx="243.0" cy="349.3" r="2.4"/><circle cx="308.1" cy="290.9" r="2.4"/><circle cx="259.9" cy="308.3" r="2.4"/><circle cx="291.2" cy="310.5" r="2.4"/><circle cx="251.5" cy="333.4" r="2.4"/><circle cx="265.9" cy="322.6" r="2.4"/><circle cx="233.3" cy="372.2" r="2.4"/><circle cx="256.2" cy="331.9" r="2.4"/><circle cx="280.5" cy="321.8" r="2.4"/><circle cx="240.8" cy="331.8" r="2.4"/><circle cx="282.1" cy="316.6" r="2.4"/><circle cx="269.0" cy="330.7" r="2.4"/><circle cx="244.5" cy="343.4" r="2.4"/><circle cx="254.1" cy="333.0" r="2.4"/><circle cx="254.9" cy="338.9" r="2.4"/><circle cx="262.2" cy="329.2" r="2.4"/><circle cx="253.5" cy="347.0" r="2.4"/><circle cx="248.3" cy="340.7" r="2.4"/><circle cx="257.6" cy="325.1" r="2.4"/><circle cx="244.8" cy="323.7" r="2.4"/><circle cx="240.1" cy="338.3" r="2.4"/><circle cx="262.2" cy="326.3" r="2.4"/><circle cx="278.7" cy="306.3" r="2.4"/><circle cx="235.9" cy="338.6" r="2.4"/><circle cx="263.1" cy="313.3" r="2.4"/><circle cx="251.5" cy="326.8" r="2.4"/><circle cx="245.7" cy="341.6" r="2.4"/><circle cx="278.2" cy="314.9" r="2.4"/><circle cx="253.8" cy="333.1" r="2.4"/><circle cx="289.7" cy="306.3" r="2.4"/><circle cx="249.2" cy="336.3" r="2.4"/><circle cx="269.9" cy="330.1" r="2.4"/><circle cx="259.0" cy="349.7" r="2.4"/><circle cx="249.6" cy="343.7" r="2.4"/><circle cx="273.5" cy="338.6" r="2.4"/><circle cx="260.3" cy="329.5" r="2.4"/><circle cx="273.8" cy="320.3" r="2.4"/><circle cx="262.2" cy="343.6" r="2.4"/><circle cx="243.7" cy="335.9" r="2.4"/><circle cx="261.2" cy="321.7" r="2.4"/><circle cx="264.0" cy="326.6" r="2.4"/><circle cx="280.1" cy="301.0" r="2.4"/><circle cx="246.9" cy="323.1" r="2.4"/><circle cx="262.3" cy="339.3" r="2.4"/><circle cx="232.4" cy="340.9" r="2.4"/><circle cx="274.6" cy="315.9" r="2.4"/><circle cx="243.8" cy="338.2" r="2.4"/><circle cx="230.9" cy="342.9" r="2.4"/><circle cx="262.0" cy="335.2" r="2.4"/><circle cx="282.7" cy="319.2" r="2.4"/><circle cx="235.9" cy="354.9" r="2.4"/><circle cx="243.7" cy="348.7" r="2.4"/><circle cx="249.8" cy="338.5" r="2.4"/><circle cx="243.0" cy="355.4" r="2.4"/><circle cx="269.8" cy="332.5" r="2.4"/><circle cx="248.7" cy="333.3" r="2.4"/><circle cx="250.2" cy="337.9" r="2.4"/><circle cx="273.4" cy="317.2" r="2.4"/><circle cx="249.6" cy="354.5" r="2.4"/><circle cx="270.7" cy="329.5" r="2.4"/><circle cx="245.8" cy="345.4" r="2.4"/><circle cx="241.5" cy="343.3" r="2.4"/><circle cx="230.4" cy="356.7" r="2.4"/><circle cx="296.1" cy="296.0" r="2.4"/><circle cx="257.3" cy="332.7" r="2.4"/><circle cx="267.4" cy="324.8" r="2.4"/><circle cx="262.5" cy="328.4" r="2.4"/><circle cx="265.9" cy="319.8" r="2.4"/><circle cx="263.9" cy="331.6" r="2.4"/><circle cx="296.9" cy="293.7" r="2.4"/><circle cx="244.6" cy="337.3" r="2.4"/><circle cx="235.4" cy="346.6" r="2.4"/><circle cx="245.1" cy="340.6" r="2.4"/><circle cx="239.3" cy="340.5" r="2.4"/><circle cx="276.3" cy="309.5" r="2.4"/><circle cx="277.6" cy="309.2" r="2.4"/><circle cx="246.0" cy="337.0" r="2.4"/><circle cx="238.3" cy="338.1" r="2.4"/><circle cx="256.7" cy="331.6" r="2.4"/><circle cx="287.8" cy="299.2" r="2.4"/><circle cx="212.9" cy="364.3" r="2.4"/><circle cx="272.4" cy="339.8" r="2.4"/><circle cx="243.9" cy="330.0" r="2.4"/><circle cx="281.5" cy="313.8" r="2.4"/><circle cx="243.9" cy="352.2" r="2.4"/><circle cx="258.0" cy="333.5" r="2.4"/><circle cx="236.3" cy="355.2" r="2.4"/><circle cx="245.7" cy="321.9" r="2.4"/><circle cx="287.7" cy="306.0" r="2.4"/><circle cx="277.6" cy="331.5" r="2.4"/><circle cx="255.9" cy="328.4" r="2.4"/><circle cx="247.6" cy="342.7" r="2.4"/><circle cx="229.4" cy="335.3" r="2.4"/><circle cx="256.0" cy="342.5" r="2.4"/><circle cx="262.5" cy="348.4" r="2.4"/><circle cx="261.5" cy="328.6" r="2.4"/><circle cx="261.4" cy="332.4" r="2.4"/><circle cx="243.1" cy="346.1" r="2.4"/><circle cx="261.9" cy="347.9" r="2.4"/><circle cx="262.3" cy="324.8" r="2.4"/><circle cx="286.0" cy="296.8" r="2.4"/><circle cx="296.2" cy="321.2" r="2.4"/><circle cx="260.6" cy="319.4" r="2.4"/><circle cx="249.4" cy="342.9" r="2.4"/><circle cx="261.9" cy="308.1" r="2.4"/><circle cx="252.2" cy="332.0" r="2.4"/><circle cx="249.8" cy="339.2" r="2.4"/><circle cx="262.0" cy="319.0" r="2.4"/><circle cx="244.5" cy="336.7" r="2.4"/><circle cx="273.8" cy="325.6" r="2.4"/><circle cx="261.2" cy="323.1" r="2.4"/><circle cx="267.5" cy="329.4" r="2.4"/><circle cx="259.8" cy="346.3" r="2.4"/><circle cx="250.1" cy="319.4" r="2.4"/><circle cx="246.2" cy="343.3" r="2.4"/><circle cx="258.8" cy="336.5" r="2.4"/><circle cx="253.3" cy="332.1" r="2.4"/><circle cx="267.2" cy="338.9" r="2.4"/><circle cx="263.0" cy="340.2" r="2.4"/><circle cx="238.8" cy="349.9" r="2.4"/><circle cx="264.2" cy="331.8" r="2.4"/><circle cx="239.2" cy="344.6" r="2.4"/><circle cx="252.1" cy="326.0" r="2.4"/><circle cx="257.8" cy="336.1" r="2.4"/><circle cx="226.2" cy="350.2" r="2.4"/><circle cx="264.7" cy="321.6" r="2.4"/><circle cx="265.7" cy="335.8" r="2.4"/><circle cx="260.2" cy="328.1" r="2.4"/><circle cx="255.5" cy="341.9" r="2.4"/><circle cx="256.4" cy="323.4" r="2.4"/><circle cx="245.7" cy="336.5" r="2.4"/><circle cx="258.2" cy="331.4" r="2.4"/><circle cx="253.2" cy="347.0" r="2.4"/><circle cx="264.7" cy="325.9" r="2.4"/><circle cx="241.6" cy="350.3" r="2.4"/><circle cx="267.2" cy="318.8" r="2.4"/><circle cx="265.6" cy="327.3" r="2.4"/><circle cx="260.5" cy="337.1" r="2.4"/><circle cx="255.2" cy="325.5" r="2.4"/><circle cx="272.9" cy="314.6" r="2.4"/><circle cx="233.5" cy="354.6" r="2.4"/><circle cx="271.2" cy="311.9" r="2.4"/><circle cx="267.4" cy="327.6" r="2.4"/><circle cx="268.1" cy="327.2" r="2.4"/><circle cx="269.8" cy="322.1" r="2.4"/><circle cx="251.4" cy="343.1" r="2.4"/><circle cx="258.4" cy="335.3" r="2.4"/><circle cx="274.4" cy="321.4" r="2.4"/><circle cx="270.7" cy="309.0" r="2.4"/><circle cx="266.7" cy="312.1" r="2.4"/><circle cx="236.1" cy="349.7" r="2.4"/><circle cx="272.6" cy="306.9" r="2.4"/><circle cx="283.8" cy="313.5" r="2.4"/><circle cx="281.0" cy="311.8" r="2.4"/><circle cx="267.2" cy="317.3" r="2.4"/><circle cx="235.4" cy="345.4" r="2.4"/><circle cx="279.8" cy="294.6" r="2.4"/><circle cx="260.4" cy="327.8" r="2.4"/><circle cx="218.0" cy="371.1" r="2.4"/><circle cx="269.7" cy="311.7" r="2.4"/><circle cx="236.5" cy="350.8" r="2.4"/><circle cx="240.0" cy="347.4" r="2.4"/><circle cx="251.8" cy="362.7" r="2.4"/><circle cx="285.7" cy="302.9" r="2.4"/><circle cx="256.4" cy="325.6" r="2.4"/><circle cx="267.9" cy="317.5" r="2.4"/><circle cx="294.1" cy="297.1" r="2.4"/><circle cx="291.4" cy="292.7" r="2.4"/><circle cx="261.2" cy="329.8" r="2.4"/><circle cx="258.7" cy="322.9" r="2.4"/><circle cx="240.6" cy="350.8" r="2.4"/><circle cx="250.7" cy="340.1" r="2.4"/><circle cx="270.6" cy="313.3" r="2.4"/><circle cx="270.1" cy="319.6" r="2.4"/><circle cx="265.0" cy="338.5" r="2.4"/><circle cx="280.7" cy="312.2" r="2.4"/><circle cx="249.3" cy="339.6" r="2.4"/><circle cx="262.0" cy="336.1" r="2.4"/><circle cx="276.0" cy="314.9" r="2.4"/><circle cx="273.4" cy="324.2" r="2.4"/><circle cx="282.1" cy="328.3" r="2.4"/><circle cx="270.1" cy="332.9" r="2.4"/><circle cx="257.5" cy="316.3" r="2.4"/><circle cx="269.5" cy="336.9" r="2.4"/><circle cx="245.2" cy="338.9" r="2.4"/><circle cx="233.9" cy="343.6" r="2.4"/><circle cx="273.4" cy="315.0" r="2.4"/><circle cx="262.1" cy="339.7" r="2.4"/><circle cx="268.5" cy="327.0" r="2.4"/><circle cx="232.9" cy="348.5" r="2.4"/><circle cx="256.5" cy="325.7" r="2.4"/><circle cx="252.4" cy="341.5" r="2.4"/><circle cx="247.7" cy="349.5" r="2.4"/><circle cx="223.0" cy="348.0" r="2.4"/><circle cx="257.1" cy="322.6" r="2.4"/><circle cx="279.0" cy="313.3" r="2.4"/><circle cx="269.8" cy="328.6" r="2.4"/><circle cx="252.4" cy="332.2" r="2.4"/><circle cx="262.8" cy="327.3" r="2.4"/><circle cx="276.5" cy="311.0" r="2.4"/><circle cx="214.0" cy="374.4" r="2.4"/><circle cx="260.8" cy="328.6" r="2.4"/><circle cx="272.7" cy="322.6" r="2.4"/><circle cx="275.2" cy="329.2" r="2.4"/><circle cx="293.3" cy="304.4" r="2.4"/><circle cx="283.2" cy="313.3" r="2.4"/><circle cx="268.6" cy="327.7" r="2.4"/><circle cx="268.4" cy="320.7" r="2.4"/><circle cx="277.0" cy="330.6" r="2.4"/><circle cx="253.5" cy="335.5" r="2.4"/><circle cx="262.3" cy="324.8" r="2.4"/><circle cx="279.1" cy="314.0" r="2.4"/><circle cx="297.8" cy="293.5" r="2.4"/><circle cx="260.2" cy="340.8" r="2.4"/><circle cx="262.2" cy="342.1" r="2.4"/><circle cx="266.6" cy="323.4" r="2.4"/><circle cx="286.9" cy="306.9" r="2.4"/><circle cx="262.5" cy="309.7" r="2.4"/><circle cx="289.1" cy="303.8" r="2.4"/><circle cx="245.9" cy="348.2" r="2.4"/><circle cx="259.7" cy="323.3" r="2.4"/><circle cx="259.5" cy="338.1" r="2.4"/><circle cx="277.0" cy="331.2" r="2.4"/><circle cx="281.6" cy="291.6" r="2.4"/><circle cx="236.2" cy="344.5" r="2.4"/><circle cx="246.8" cy="333.4" r="2.4"/><circle cx="269.0" cy="318.8" r="2.4"/><circle cx="251.3" cy="320.4" r="2.4"/><circle cx="236.0" cy="345.0" r="2.4"/><circle cx="281.5" cy="304.0" r="2.4"/><circle cx="271.8" cy="330.9" r="2.4"/><circle cx="271.8" cy="334.1" r="2.4"/><circle cx="254.6" cy="321.5" r="2.4"/><circle cx="281.3" cy="301.9" r="2.4"/><circle cx="258.8" cy="326.6" r="2.4"/><circle cx="282.5" cy="312.1" r="2.4"/><circle cx="246.8" cy="338.3" r="2.4"/><circle cx="247.9" cy="345.1" r="2.4"/><circle cx="266.7" cy="311.8" r="2.4"/><circle cx="250.6" cy="331.2" r="2.4"/><circle cx="275.0" cy="315.0" r="2.4"/><circle cx="267.7" cy="321.4" r="2.4"/><circle cx="246.6" cy="330.6" r="2.4"/><circle cx="264.3" cy="322.7" r="2.4"/><circle cx="256.8" cy="326.0" r="2.4"/><circle cx="279.3" cy="326.8" r="2.4"/><circle cx="251.8" cy="331.6" r="2.4"/><circle cx="255.2" cy="314.3" r="2.4"/><circle cx="284.6" cy="317.2" r="2.4"/><circle cx="302.8" cy="300.6" r="2.4"/><circle cx="298.6" cy="294.6" r="2.4"/><circle cx="264.2" cy="318.8" r="2.4"/><circle cx="266.9" cy="319.8" r="2.4"/><circle cx="290.3" cy="322.8" r="2.4"/><circle cx="260.8" cy="325.2" r="2.4"/><circle cx="245.7" cy="351.1" r="2.4"/><circle cx="265.1" cy="333.9" r="2.4"/><circle cx="271.1" cy="317.5" r="2.4"/><circle cx="248.3" cy="341.3" r="2.4"/><circle cx="233.8" cy="341.9" r="2.4"/><circle cx="237.5" cy="318.5" r="2.4"/><circle cx="274.9" cy="312.7" r="2.4"/><circle cx="249.6" cy="331.4" r="2.4"/><circle cx="260.5" cy="337.8" r="2.4"/><circle cx="266.8" cy="331.1" r="2.4"/><circle cx="274.0" cy="329.6" r="2.4"/><circle cx="257.1" cy="337.1" r="2.4"/><circle cx="271.9" cy="331.4" r="2.4"/><circle cx="247.2" cy="345.3" r="2.4"/><circle cx="256.6" cy="334.6" r="2.4"/><circle cx="244.8" cy="350.1" r="2.4"/><circle cx="283.1" cy="326.2" r="2.4"/><circle cx="262.6" cy="340.5" r="2.4"/><circle cx="249.9" cy="333.5" r="2.4"/><circle cx="256.8" cy="332.1" r="2.4"/><circle cx="259.1" cy="321.8" r="2.4"/><circle cx="275.5" cy="309.9" r="2.4"/><circle cx="234.7" cy="351.5" r="2.4"/><circle cx="244.6" cy="335.4" r="2.4"/><circle cx="256.3" cy="345.7" r="2.4"/><circle cx="308.0" cy="275.5" r="2.4"/><circle cx="280.0" cy="305.3" r="2.4"/><circle cx="261.1" cy="331.4" r="2.4"/><circle cx="275.7" cy="329.3" r="2.4"/><circle cx="299.6" cy="298.4" r="2.4"/><circle cx="258.9" cy="347.7" r="2.4"/><circle cx="256.5" cy="339.7" r="2.4"/><circle cx="284.6" cy="306.0" r="2.4"/><circle cx="271.8" cy="321.1" r="2.4"/><circle cx="275.0" cy="323.9" r="2.4"/><circle cx="254.0" cy="326.1" r="2.4"/><circle cx="297.2" cy="312.7" r="2.4"/><circle cx="293.4" cy="303.7" r="2.4"/><circle cx="273.1" cy="325.3" r="2.4"/><circle cx="275.2" cy="326.9" r="2.4"/><circle cx="227.0" cy="349.9" r="2.4"/><circle cx="274.4" cy="328.7" r="2.4"/><circle cx="259.6" cy="313.7" r="2.4"/><circle cx="270.7" cy="327.7" r="2.4"/><circle cx="275.2" cy="301.7" r="2.4"/><circle cx="257.0" cy="342.2" r="2.4"/><circle cx="233.0" cy="344.3" r="2.4"/><circle cx="269.6" cy="334.0" r="2.4"/><circle cx="249.9" cy="349.5" r="2.4"/><circle cx="257.2" cy="330.9" r="2.4"/><circle cx="252.3" cy="329.8" r="2.4"/><circle cx="257.0" cy="343.8" r="2.4"/><circle cx="222.0" cy="347.1" r="2.4"/><circle cx="284.7" cy="319.6" r="2.4"/><circle cx="267.5" cy="323.7" r="2.4"/><circle cx="282.8" cy="310.5" r="2.4"/><circle cx="298.2" cy="297.5" r="2.4"/><circle cx="263.4" cy="343.7" r="2.4"/><circle cx="231.0" cy="336.8" r="2.4"/><circle cx="247.1" cy="334.5" r="2.4"/><circle cx="241.6" cy="347.3" r="2.4"/><circle cx="254.1" cy="343.6" r="2.4"/><circle cx="264.5" cy="342.1" r="2.4"/><circle cx="227.5" cy="365.7" r="2.4"/><circle cx="269.1" cy="318.9" r="2.4"/><circle cx="236.2" cy="350.4" r="2.4"/><circle cx="268.3" cy="334.3" r="2.4"/><circle cx="261.1" cy="334.2" r="2.4"/><circle cx="257.5" cy="318.2" r="2.4"/><circle cx="261.7" cy="332.0" r="2.4"/><circle cx="253.4" cy="340.2" r="2.4"/><circle cx="252.2" cy="323.9" r="2.4"/><circle cx="233.1" cy="345.5" r="2.4"/><circle cx="262.5" cy="328.1" r="2.4"/><circle cx="295.8" cy="309.9" r="2.4"/><circle cx="298.2" cy="316.6" r="2.4"/><circle cx="286.5" cy="321.6" r="2.4"/><circle cx="275.6" cy="323.3" r="2.4"/><circle cx="251.0" cy="338.7" r="2.4"/><circle cx="288.7" cy="306.5" r="2.4"/><circle cx="262.0" cy="323.9" r="2.4"/><circle cx="261.8" cy="327.0" r="2.4"/><circle cx="257.9" cy="329.9" r="2.4"/><circle cx="264.7" cy="335.9" r="2.4"/><circle cx="255.3" cy="352.8" r="2.4"/><circle cx="261.5" cy="333.8" r="2.4"/><circle cx="243.8" cy="350.4" r="2.4"/><circle cx="256.4" cy="338.7" r="2.4"/><circle cx="303.6" cy="301.4" r="2.4"/><circle cx="261.8" cy="340.0" r="2.4"/><circle cx="258.8" cy="341.0" r="2.4"/><circle cx="272.5" cy="322.2" r="2.4"/><circle cx="275.6" cy="318.0" r="2.4"/><circle cx="243.2" cy="348.1" r="2.4"/><circle cx="259.4" cy="326.3" r="2.4"/><circle cx="279.4" cy="318.3" r="2.4"/><circle cx="267.8" cy="333.7" r="2.4"/><circle cx="265.2" cy="326.2" r="2.4"/><circle cx="290.7" cy="291.5" r="2.4"/><circle cx="251.0" cy="342.7" r="2.4"/><circle cx="264.5" cy="316.7" r="2.4"/><circle cx="253.8" cy="322.5" r="2.4"/><circle cx="289.5" cy="295.8" r="2.4"/><circle cx="228.3" cy="360.3" r="2.4"/><circle cx="251.1" cy="318.8" r="2.4"/><circle cx="253.6" cy="333.8" r="2.4"/><circle cx="274.8" cy="321.9" r="2.4"/><circle cx="273.8" cy="322.4" r="2.4"/><circle cx="287.8" cy="304.9" r="2.4"/><circle cx="235.1" cy="347.7" r="2.4"/><circle cx="276.4" cy="320.1" r="2.4"/><circle cx="257.8" cy="320.4" r="2.4"/><circle cx="251.2" cy="343.0" r="2.4"/><circle cx="272.6" cy="330.4" r="2.4"/><circle cx="246.7" cy="332.8" r="2.4"/><circle cx="226.1" cy="348.4" r="2.4"/><circle cx="256.5" cy="323.1" r="2.4"/><circle cx="236.4" cy="356.7" r="2.4"/><circle cx="251.5" cy="326.8" r="2.4"/><circle cx="269.6" cy="319.1" r="2.4"/><circle cx="268.6" cy="308.5" r="2.4"/><circle cx="291.2" cy="318.9" r="2.4"/><circle cx="259.5" cy="328.7" r="2.4"/><circle cx="235.8" cy="350.1" r="2.4"/><circle cx="249.6" cy="351.9" r="2.4"/><circle cx="246.7" cy="346.2" r="2.4"/><circle cx="241.4" cy="333.6" r="2.4"/><circle cx="270.8" cy="326.7" r="2.4"/><circle cx="251.6" cy="342.7" r="2.4"/><circle cx="227.9" cy="345.6" r="2.4"/><circle cx="275.4" cy="310.4" r="2.4"/><circle cx="261.1" cy="320.8" r="2.4"/><circle cx="269.4" cy="330.5" r="2.4"/><circle cx="264.9" cy="327.3" r="2.4"/><circle cx="274.3" cy="310.9" r="2.4"/><circle cx="263.7" cy="333.4" r="2.4"/><circle cx="285.0" cy="318.9" r="2.4"/><circle cx="270.6" cy="315.3" r="2.4"/><circle cx="270.0" cy="309.2" r="2.4"/><circle cx="270.3" cy="333.1" r="2.4"/><circle cx="237.1" cy="369.7" r="2.4"/><circle cx="260.1" cy="343.1" r="2.4"/><circle cx="258.4" cy="340.4" r="2.4"/><circle cx="266.7" cy="326.7" r="2.4"/><circle cx="238.9" cy="340.0" r="2.4"/><circle cx="292.1" cy="308.5" r="2.4"/><circle cx="264.9" cy="333.0" r="2.4"/><circle cx="241.5" cy="342.2" r="2.4"/><circle cx="232.7" cy="358.5" r="2.4"/><circle cx="258.0" cy="332.1" r="2.4"/><circle cx="261.4" cy="334.9" r="2.4"/><circle cx="250.3" cy="313.5" r="2.4"/><circle cx="264.7" cy="319.7" r="2.4"/><circle cx="251.6" cy="343.7" r="2.4"/><circle cx="272.8" cy="329.9" r="2.4"/><circle cx="250.2" cy="341.2" r="2.4"/><circle cx="262.4" cy="343.2" r="2.4"/><circle cx="280.4" cy="322.1" r="2.4"/><circle cx="308.7" cy="301.8" r="2.4"/><circle cx="245.1" cy="333.1" r="2.4"/><circle cx="254.8" cy="337.8" r="2.4"/><circle cx="248.1" cy="345.8" r="2.4"/><circle cx="277.0" cy="330.0" r="2.4"/><circle cx="242.6" cy="353.2" r="2.4"/><circle cx="254.4" cy="334.9" r="2.4"/><circle cx="262.5" cy="330.4" r="2.4"/><circle cx="245.6" cy="330.5" r="2.4"/><circle cx="246.0" cy="345.9" r="2.4"/><circle cx="254.6" cy="324.8" r="2.4"/><circle cx="225.7" cy="352.6" r="2.4"/><circle cx="237.3" cy="346.6" r="2.4"/><circle cx="255.7" cy="351.2" r="2.4"/><circle cx="265.7" cy="337.6" r="2.4"/><circle cx="259.7" cy="323.9" r="2.4"/><circle cx="231.5" cy="338.4" r="2.4"/><circle cx="254.8" cy="332.2" r="2.4"/><circle cx="277.2" cy="311.1" r="2.4"/><circle cx="272.9" cy="324.6" r="2.4"/><circle cx="261.6" cy="332.4" r="2.4"/><circle cx="247.3" cy="345.3" r="2.4"/><circle cx="274.3" cy="311.4" r="2.4"/><circle cx="252.7" cy="332.4" r="2.4"/><circle cx="242.3" cy="345.1" r="2.4"/><circle cx="248.8" cy="341.3" r="2.4"/><circle cx="288.8" cy="304.6" r="2.4"/><circle cx="266.9" cy="322.4" r="2.4"/><circle cx="283.6" cy="320.7" r="2.4"/><circle cx="254.5" cy="319.0" r="2.4"/><circle cx="279.7" cy="313.8" r="2.4"/><circle cx="252.3" cy="335.7" r="2.4"/><circle cx="260.2" cy="317.0" r="2.4"/><circle cx="307.2" cy="287.2" r="2.4"/><circle cx="276.7" cy="319.1" r="2.4"/><circle cx="254.1" cy="329.7" r="2.4"/><circle cx="261.5" cy="338.7" r="2.4"/><circle cx="268.8" cy="329.6" r="2.4"/><circle cx="284.5" cy="332.7" r="2.4"/><circle cx="254.3" cy="323.5" r="2.4"/><circle cx="232.1" cy="367.2" r="2.4"/><circle cx="258.1" cy="325.6" r="2.4"/><circle cx="263.3" cy="335.3" r="2.4"/><circle cx="265.0" cy="335.4" r="2.4"/><circle cx="286.4" cy="313.0" r="2.4"/><circle cx="268.7" cy="321.7" r="2.4"/><circle cx="277.5" cy="312.3" r="2.4"/><circle cx="243.5" cy="326.4" r="2.4"/><circle cx="278.5" cy="313.8" r="2.4"/><circle cx="300.3" cy="293.5" r="2.4"/><circle cx="276.8" cy="323.5" r="2.4"/><circle cx="267.5" cy="318.5" r="2.4"/><circle cx="265.8" cy="324.8" r="2.4"/><circle cx="294.8" cy="309.4" r="2.4"/><circle cx="246.6" cy="340.8" r="2.4"/><circle cx="261.1" cy="330.1" r="2.4"/><circle cx="271.2" cy="320.5" r="2.4"/><circle cx="276.3" cy="315.0" r="2.4"/><circle cx="255.3" cy="338.2" r="2.4"/><circle cx="268.5" cy="330.7" r="2.4"/><circle cx="258.1" cy="325.0" r="2.4"/><circle cx="265.2" cy="341.6" r="2.4"/><circle cx="260.7" cy="335.3" r="2.4"/><circle cx="242.7" cy="328.9" r="2.4"/><circle cx="262.7" cy="352.4" r="2.4"/><circle cx="278.6" cy="323.0" r="2.4"/><circle cx="245.9" cy="334.3" r="2.4"/><circle cx="258.8" cy="345.8" r="2.4"/><circle cx="274.8" cy="296.5" r="2.4"/><circle cx="244.0" cy="364.7" r="2.4"/><circle cx="266.3" cy="313.0" r="2.4"/><circle cx="244.2" cy="327.8" r="2.4"/><circle cx="283.2" cy="305.5" r="2.4"/><circle cx="304.1" cy="300.5" r="2.4"/><circle cx="299.0" cy="299.1" r="2.4"/><circle cx="259.1" cy="338.8" r="2.4"/><circle cx="276.2" cy="311.4" r="2.4"/><circle cx="265.2" cy="336.5" r="2.4"/><circle cx="264.8" cy="329.2" r="2.4"/><circle cx="290.5" cy="299.5" r="2.4"/><circle cx="239.6" cy="354.8" r="2.4"/><circle cx="281.8" cy="317.8" r="2.4"/><circle cx="262.2" cy="327.3" r="2.4"/><circle cx="288.1" cy="322.0" r="2.4"/><circle cx="266.4" cy="315.4" r="2.4"/><circle cx="251.1" cy="333.7" r="2.4"/><circle cx="268.0" cy="338.0" r="2.4"/><circle cx="276.1" cy="319.1" r="2.4"/><circle cx="263.7" cy="334.5" r="2.4"/><circle cx="271.7" cy="327.7" r="2.4"/><circle cx="253.8" cy="334.1" r="2.4"/><circle cx="225.1" cy="361.6" r="2.4"/><circle cx="279.0" cy="308.0" r="2.4"/><circle cx="275.5" cy="325.4" r="2.4"/><circle cx="265.7" cy="317.5" r="2.4"/><circle cx="264.3" cy="327.6" r="2.4"/><circle cx="281.5" cy="307.3" r="2.4"/><circle cx="254.9" cy="338.7" r="2.4"/><circle cx="250.5" cy="341.6" r="2.4"/><circle cx="259.7" cy="340.7" r="2.4"/><circle cx="284.2" cy="307.8" r="2.4"/><circle cx="238.4" cy="337.5" r="2.4"/><circle cx="284.2" cy="294.1" r="2.4"/><circle cx="251.7" cy="324.8" r="2.4"/><circle cx="243.5" cy="339.9" r="2.4"/><circle cx="285.4" cy="313.9" r="2.4"/><circle cx="261.3" cy="325.9" r="2.4"/><circle cx="239.9" cy="344.9" r="2.4"/><circle cx="256.7" cy="319.7" r="2.4"/><circle cx="279.6" cy="307.8" r="2.4"/><circle cx="284.2" cy="320.3" r="2.4"/><circle cx="255.4" cy="339.6" r="2.4"/><circle cx="270.3" cy="310.8" r="2.4"/><circle cx="275.7" cy="316.2" r="2.4"/><circle cx="251.6" cy="338.4" r="2.4"/><circle cx="269.3" cy="313.0" r="2.4"/><circle cx="262.5" cy="331.9" r="2.4"/><circle cx="253.5" cy="337.4" r="2.4"/><circle cx="254.3" cy="338.5" r="2.4"/><circle cx="264.2" cy="344.6" r="2.4"/><circle cx="263.6" cy="320.0" r="2.4"/><circle cx="253.0" cy="346.0" r="2.4"/><circle cx="255.5" cy="338.6" r="2.4"/><circle cx="282.8" cy="320.5" r="2.4"/><circle cx="266.8" cy="318.9" r="2.4"/><circle cx="278.8" cy="317.4" r="2.4"/><circle cx="284.4" cy="312.6" r="2.4"/><circle cx="273.5" cy="335.5" r="2.4"/><circle cx="303.4" cy="299.8" r="2.4"/><circle cx="248.4" cy="351.7" r="2.4"/><circle cx="277.4" cy="315.0" r="2.4"/><circle cx="257.4" cy="328.9" r="2.4"/><circle cx="296.0" cy="304.5" r="2.4"/><circle cx="293.3" cy="288.2" r="2.4"/><circle cx="228.3" cy="348.4" r="2.4"/><circle cx="245.8" cy="335.2" r="2.4"/><circle cx="274.8" cy="318.3" r="2.4"/><circle cx="277.1" cy="319.7" r="2.4"/><circle cx="276.1" cy="310.1" r="2.4"/><circle cx="261.8" cy="319.2" r="2.4"/><circle cx="271.1" cy="333.8" r="2.4"/><circle cx="274.6" cy="310.4" r="2.4"/><circle cx="261.7" cy="324.5" r="2.4"/><circle cx="281.3" cy="306.4" r="2.4"/><circle cx="222.9" cy="352.8" r="2.4"/><circle cx="274.3" cy="331.0" r="2.4"/><circle cx="244.7" cy="351.7" r="2.4"/><circle cx="280.1" cy="299.7" r="2.4"/><circle cx="259.0" cy="328.8" r="2.4"/><circle cx="247.2" cy="352.0" r="2.4"/><circle cx="269.7" cy="320.2" r="2.4"/><circle cx="246.8" cy="342.9" r="2.4"/><circle cx="246.8" cy="356.1" r="2.4"/><circle cx="235.2" cy="368.4" r="2.4"/><circle cx="262.6" cy="342.6" r="2.4"/><circle cx="271.9" cy="319.3" r="2.4"/><circle cx="281.2" cy="315.4" r="2.4"/><circle cx="260.5" cy="332.1" r="2.4"/><circle cx="281.7" cy="312.2" r="2.4"/><circle cx="263.4" cy="322.5" r="2.4"/><circle cx="261.4" cy="347.9" r="2.4"/><circle cx="273.2" cy="323.4" r="2.4"/><circle cx="281.8" cy="321.9" r="2.4"/><circle cx="257.0" cy="343.4" r="2.4"/><circle cx="258.7" cy="336.1" r="2.4"/><circle cx="260.2" cy="331.2" r="2.4"/><circle cx="264.5" cy="329.4" r="2.4"/><circle cx="247.0" cy="352.5" r="2.4"/><circle cx="281.3" cy="319.2" r="2.4"/><circle cx="255.9" cy="315.3" r="2.4"/><circle cx="271.3" cy="331.5" r="2.4"/><circle cx="248.4" cy="353.6" r="2.4"/><circle cx="269.4" cy="321.1" r="2.4"/><circle cx="270.0" cy="317.8" r="2.4"/><circle cx="255.6" cy="329.3" r="2.4"/><circle cx="298.9" cy="312.2" r="2.4"/><circle cx="269.6" cy="314.5" r="2.4"/><circle cx="294.6" cy="312.4" r="2.4"/><circle cx="280.1" cy="325.9" r="2.4"/><circle cx="251.3" cy="341.9" r="2.4"/><circle cx="256.2" cy="333.9" r="2.4"/><circle cx="270.8" cy="316.2" r="2.4"/><circle cx="264.1" cy="321.8" r="2.4"/><circle cx="263.9" cy="327.7" r="2.4"/><circle cx="257.9" cy="323.5" r="2.4"/><circle cx="230.9" cy="350.5" r="2.4"/><circle cx="259.0" cy="323.0" r="2.4"/><circle cx="223.6" cy="368.9" r="2.4"/><circle cx="269.6" cy="337.3" r="2.4"/><circle cx="250.1" cy="330.5" r="2.4"/><circle cx="250.3" cy="349.6" r="2.4"/><circle cx="259.1" cy="333.6" r="2.4"/><circle cx="267.9" cy="325.5" r="2.4"/><circle cx="237.6" cy="350.7" r="2.4"/><circle cx="232.0" cy="354.5" r="2.4"/><circle cx="244.1" cy="329.4" r="2.4"/><circle cx="226.8" cy="376.6" r="2.4"/><circle cx="245.9" cy="332.6" r="2.4"/><circle cx="291.3" cy="287.4" r="2.4"/><circle cx="244.3" cy="341.4" r="2.4"/><circle cx="274.6" cy="319.9" r="2.4"/><circle cx="238.7" cy="339.2" r="2.4"/><circle cx="268.4" cy="308.0" r="2.4"/><circle cx="257.4" cy="342.7" r="2.4"/><circle cx="262.0" cy="328.1" r="2.4"/><circle cx="273.1" cy="322.5" r="2.4"/><circle cx="294.2" cy="300.7" r="2.4"/><circle cx="266.5" cy="324.2" r="2.4"/><circle cx="265.2" cy="320.6" r="2.4"/><circle cx="245.7" cy="344.3" r="2.4"/><circle cx="273.4" cy="320.2" r="2.4"/><circle cx="258.7" cy="337.2" r="2.4"/><circle cx="277.8" cy="323.4" r="2.4"/><circle cx="262.3" cy="329.9" r="2.4"/><circle cx="294.0" cy="307.1" r="2.4"/><circle cx="227.8" cy="363.8" r="2.4"/><circle cx="257.8" cy="317.9" r="2.4"/><circle cx="278.7" cy="318.0" r="2.4"/><circle cx="256.8" cy="344.8" r="2.4"/><circle cx="249.0" cy="328.4" r="2.4"/><circle cx="258.3" cy="338.1" r="2.4"/><circle cx="238.5" cy="341.2" r="2.4"/><circle cx="265.1" cy="326.7" r="2.4"/><circle cx="306.4" cy="294.7" r="2.4"/><circle cx="283.4" cy="311.9" r="2.4"/><circle cx="243.3" cy="347.4" r="2.4"/><circle cx="247.5" cy="338.9" r="2.4"/><circle cx="255.8" cy="315.2" r="2.4"/><circle cx="280.9" cy="335.1" r="2.4"/><circle cx="248.4" cy="338.0" r="2.4"/><circle cx="250.8" cy="333.0" r="2.4"/><circle cx="278.8" cy="326.1" r="2.4"/><circle cx="278.4" cy="329.2" r="2.4"/><circle cx="256.4" cy="313.7" r="2.4"/><circle cx="243.2" cy="345.7" r="2.4"/><circle cx="235.5" cy="329.4" r="2.4"/><circle cx="250.6" cy="332.3" r="2.4"/><circle cx="223.4" cy="355.9" r="2.4"/><circle cx="276.4" cy="314.3" r="2.4"/><circle cx="251.8" cy="330.5" r="2.4"/><circle cx="271.6" cy="311.5" r="2.4"/><circle cx="296.2" cy="300.4" r="2.4"/><circle cx="283.9" cy="311.8" r="2.4"/><circle cx="242.6" cy="341.2" r="2.4"/><circle cx="278.5" cy="305.0" r="2.4"/><circle cx="283.6" cy="306.0" r="2.4"/><circle cx="249.8" cy="346.5" r="2.4"/><circle cx="246.1" cy="345.9" r="2.4"/><circle cx="261.1" cy="326.6" r="2.4"/><circle cx="234.6" cy="354.1" r="2.4"/><circle cx="289.2" cy="312.6" r="2.4"/><circle cx="220.3" cy="367.3" r="2.4"/><circle cx="243.4" cy="344.5" r="2.4"/><circle cx="258.2" cy="327.8" r="2.4"/><circle cx="259.0" cy="322.2" r="2.4"/><circle cx="266.0" cy="325.9" r="2.4"/><circle cx="267.9" cy="306.2" r="2.4"/><circle cx="259.2" cy="331.5" r="2.4"/><circle cx="283.2" cy="285.2" r="2.4"/><circle cx="225.0" cy="346.5" r="2.4"/><circle cx="263.0" cy="323.7" r="2.4"/><circle cx="250.3" cy="341.6" r="2.4"/><circle cx="265.4" cy="351.5" r="2.4"/><circle cx="267.0" cy="326.6" r="2.4"/><circle cx="246.8" cy="338.2" r="2.4"/><circle cx="251.6" cy="319.2" r="2.4"/><circle cx="277.1" cy="330.2" r="2.4"/><circle cx="269.2" cy="306.7" r="2.4"/><circle cx="250.9" cy="339.0" r="2.4"/><circle cx="299.3" cy="295.6" r="2.4"/><circle cx="304.1" cy="321.1" r="2.4"/><circle cx="237.0" cy="345.5" r="2.4"/><circle cx="268.4" cy="327.3" r="2.4"/><circle cx="307.6" cy="290.0" r="2.4"/><circle cx="277.0" cy="317.3" r="2.4"/><circle cx="267.0" cy="335.4" r="2.4"/><circle cx="259.3" cy="322.3" r="2.4"/><circle cx="253.4" cy="328.8" r="2.4"/><circle cx="259.3" cy="325.5" r="2.4"/><circle cx="253.2" cy="326.2" r="2.4"/><circle cx="276.3" cy="308.8" r="2.4"/><circle cx="256.0" cy="333.4" r="2.4"/><circle cx="255.2" cy="345.8" r="2.4"/><circle cx="241.7" cy="355.7" r="2.4"/><circle cx="262.2" cy="316.7" r="2.4"/><circle cx="247.1" cy="333.2" r="2.4"/><circle cx="259.8" cy="329.5" r="2.4"/><circle cx="281.5" cy="318.6" r="2.4"/><circle cx="269.5" cy="323.1" r="2.4"/><circle cx="272.0" cy="321.4" r="2.4"/><circle cx="269.4" cy="326.5" r="2.4"/><circle cx="264.1" cy="333.5" r="2.4"/><circle cx="260.8" cy="310.5" r="2.4"/><circle cx="257.6" cy="330.0" r="2.4"/><circle cx="276.5" cy="323.8" r="2.4"/><circle cx="243.8" cy="353.5" r="2.4"/><circle cx="286.9" cy="317.4" r="2.4"/><circle cx="263.6" cy="321.3" r="2.4"/><circle cx="249.7" cy="330.9" r="2.4"/><circle cx="254.3" cy="336.3" r="2.4"/><circle cx="251.0" cy="336.3" r="2.4"/><circle cx="265.9" cy="328.7" r="2.4"/><circle cx="250.3" cy="347.1" r="2.4"/><circle cx="283.3" cy="301.9" r="2.4"/><circle cx="249.1" cy="334.8" r="2.4"/><circle cx="222.7" cy="335.2" r="2.4"/><circle cx="250.0" cy="344.1" r="2.4"/><circle cx="227.3" cy="355.0" r="2.4"/><circle cx="262.3" cy="320.8" r="2.4"/><circle cx="281.9" cy="316.7" r="2.4"/><circle cx="274.5" cy="332.1" r="2.4"/><circle cx="239.3" cy="353.6" r="2.4"/><circle cx="249.5" cy="336.9" r="2.4"/><circle cx="294.6" cy="302.3" r="2.4"/><circle cx="268.7" cy="324.9" r="2.4"/><circle cx="263.1" cy="319.1" r="2.4"/><circle cx="281.8" cy="305.8" r="2.4"/><circle cx="306.6" cy="293.9" r="2.4"/><circle cx="286.1" cy="311.3" r="2.4"/><circle cx="265.5" cy="328.6" r="2.4"/><circle cx="269.3" cy="318.7" r="2.4"/><circle cx="274.0" cy="312.0" r="2.4"/><circle cx="252.1" cy="335.4" r="2.4"/><circle cx="244.2" cy="337.6" r="2.4"/><circle cx="264.0" cy="330.3" r="2.4"/><circle cx="246.2" cy="352.7" r="2.4"/><circle cx="261.9" cy="337.8" r="2.4"/><circle cx="264.7" cy="320.1" r="2.4"/><circle cx="304.6" cy="294.2" r="2.4"/><circle cx="247.9" cy="324.9" r="2.4"/><circle cx="260.9" cy="329.1" r="2.4"/><circle cx="260.1" cy="322.5" r="2.4"/><circle cx="270.8" cy="310.8" r="2.4"/><circle cx="281.6" cy="305.9" r="2.4"/><circle cx="254.3" cy="339.8" r="2.4"/><circle cx="248.4" cy="340.2" r="2.4"/><circle cx="233.9" cy="347.9" r="2.4"/><circle cx="246.6" cy="348.7" r="2.4"/><circle cx="272.6" cy="317.0" r="2.4"/><circle cx="263.8" cy="318.4" r="2.4"/><circle cx="245.0" cy="345.3" r="2.4"/><circle cx="256.4" cy="315.3" r="2.4"/><circle cx="263.6" cy="330.3" r="2.4"/><circle cx="272.0" cy="323.5" r="2.4"/><circle cx="252.5" cy="337.8" r="2.4"/><circle cx="258.6" cy="337.6" r="2.4"/><circle cx="230.7" cy="347.6" r="2.4"/><circle cx="242.6" cy="342.6" r="2.4"/><circle cx="291.8" cy="292.7" r="2.4"/><circle cx="224.1" cy="350.7" r="2.4"/><circle cx="257.0" cy="327.6" r="2.4"/><circle cx="266.9" cy="327.3" r="2.4"/><circle cx="256.4" cy="345.4" r="2.4"/><circle cx="248.7" cy="339.2" r="2.4"/><circle cx="261.9" cy="336.4" r="2.4"/><circle cx="262.9" cy="319.7" r="2.4"/><circle cx="261.6" cy="329.4" r="2.4"/><circle cx="229.7" cy="337.3" r="2.4"/><circle cx="260.4" cy="323.4" r="2.4"/><circle cx="247.8" cy="331.6" r="2.4"/><circle cx="253.3" cy="333.0" r="2.4"/><circle cx="267.1" cy="323.3" r="2.4"/><circle cx="274.4" cy="314.1" r="2.4"/><circle cx="279.0" cy="308.4" r="2.4"/><circle cx="254.2" cy="340.7" r="2.4"/><circle cx="279.5" cy="311.9" r="2.4"/><circle cx="283.9" cy="289.8" r="2.4"/><circle cx="283.2" cy="314.4" r="2.4"/><circle cx="287.7" cy="312.6" r="2.4"/><circle cx="260.4" cy="336.1" r="2.4"/><circle cx="259.9" cy="343.2" r="2.4"/><circle cx="277.7" cy="307.0" r="2.4"/><circle cx="238.8" cy="345.0" r="2.4"/><circle cx="266.8" cy="322.8" r="2.4"/><circle cx="253.6" cy="318.5" r="2.4"/><circle cx="256.5" cy="310.5" r="2.4"/><circle cx="232.1" cy="358.2" r="2.4"/><circle cx="247.2" cy="330.1" r="2.4"/><circle cx="262.7" cy="322.8" r="2.4"/><circle cx="278.8" cy="313.2" r="2.4"/><circle cx="280.6" cy="311.2" r="2.4"/><circle cx="261.6" cy="329.3" r="2.4"/><circle cx="259.7" cy="316.4" r="2.4"/><circle cx="248.3" cy="333.2" r="2.4"/><circle cx="270.2" cy="319.9" r="2.4"/><circle cx="258.6" cy="320.2" r="2.4"/><circle cx="273.8" cy="312.4" r="2.4"/><circle cx="294.2" cy="301.6" r="2.4"/><circle cx="262.5" cy="325.6" r="2.4"/><circle cx="236.4" cy="331.6" r="2.4"/><circle cx="247.7" cy="334.5" r="2.4"/><circle cx="237.1" cy="347.5" r="2.4"/><circle cx="241.8" cy="351.0" r="2.4"/><circle cx="286.2" cy="314.4" r="2.4"/><circle cx="267.1" cy="334.5" r="2.4"/><circle cx="236.0" cy="346.5" r="2.4"/><circle cx="274.7" cy="317.4" r="2.4"/><circle cx="285.4" cy="330.2" r="2.4"/><circle cx="256.6" cy="332.5" r="2.4"/><circle cx="251.0" cy="330.9" r="2.4"/><circle cx="257.0" cy="330.9" r="2.4"/><circle cx="268.1" cy="332.9" r="2.4"/><circle cx="274.4" cy="308.6" r="2.4"/><circle cx="284.0" cy="319.1" r="2.4"/><circle cx="284.6" cy="323.5" r="2.4"/><circle cx="284.1" cy="322.5" r="2.4"/><circle cx="287.2" cy="310.8" r="2.4"/><circle cx="274.8" cy="310.9" r="2.4"/><circle cx="235.8" cy="337.3" r="2.4"/><circle cx="260.7" cy="327.9" r="2.4"/><circle cx="268.6" cy="334.6" r="2.4"/><circle cx="256.2" cy="338.8" r="2.4"/><circle cx="279.2" cy="324.4" r="2.4"/><circle cx="256.6" cy="334.3" r="2.4"/><circle cx="246.6" cy="355.6" r="2.4"/><circle cx="288.7" cy="308.6" r="2.4"/><circle cx="274.9" cy="313.8" r="2.4"/><circle cx="266.9" cy="326.6" r="2.4"/><circle cx="279.5" cy="312.2" r="2.4"/><circle cx="281.9" cy="322.8" r="2.4"/><circle cx="269.1" cy="336.6" r="2.4"/><circle cx="219.4" cy="365.1" r="2.4"/><circle cx="251.0" cy="326.4" r="2.4"/><circle cx="254.9" cy="324.8" r="2.4"/><circle cx="245.5" cy="344.7" r="2.4"/><circle cx="266.6" cy="314.9" r="2.4"/><circle cx="284.2" cy="315.7" r="2.4"/><circle cx="254.4" cy="320.9" r="2.4"/><circle cx="242.9" cy="338.3" r="2.4"/><circle cx="299.1" cy="306.2" r="2.4"/><circle cx="255.0" cy="326.8" r="2.4"/><circle cx="241.1" cy="350.7" r="2.4"/><circle cx="267.3" cy="333.3" r="2.4"/><circle cx="270.6" cy="335.5" r="2.4"/><circle cx="250.5" cy="334.8" r="2.4"/><circle cx="277.1" cy="318.5" r="2.4"/><circle cx="254.4" cy="335.0" r="2.4"/><circle cx="246.6" cy="343.5" r="2.4"/><circle cx="266.2" cy="313.0" r="2.4"/><circle cx="276.7" cy="322.0" r="2.4"/><circle cx="251.8" cy="342.6" r="2.4"/><circle cx="268.9" cy="312.8" r="2.4"/><circle cx="261.4" cy="316.7" r="2.4"/><circle cx="313.2" cy="289.0" r="2.4"/><circle cx="250.4" cy="352.6" r="2.4"/><circle cx="287.6" cy="315.7" r="2.4"/><circle cx="262.1" cy="323.3" r="2.4"/><circle cx="260.8" cy="329.5" r="2.4"/><circle cx="275.9" cy="305.1" r="2.4"/><circle cx="278.9" cy="328.8" r="2.4"/><circle cx="285.6" cy="305.9" r="2.4"/><circle cx="268.9" cy="329.5" r="2.4"/><circle cx="252.4" cy="324.0" r="2.4"/><circle cx="253.5" cy="335.6" r="2.4"/><circle cx="272.1" cy="312.4" r="2.4"/><circle cx="273.4" cy="326.4" r="2.4"/><circle cx="287.9" cy="322.7" r="2.4"/><circle cx="270.5" cy="332.6" r="2.4"/><circle cx="281.9" cy="319.9" r="2.4"/><circle cx="290.0" cy="317.8" r="2.4"/><circle cx="266.0" cy="315.3" r="2.4"/><circle cx="236.6" cy="335.2" r="2.4"/><circle cx="242.1" cy="340.7" r="2.4"/><circle cx="237.5" cy="355.6" r="2.4"/><circle cx="291.3" cy="308.8" r="2.4"/><circle cx="248.0" cy="345.0" r="2.4"/><circle cx="284.9" cy="299.4" r="2.4"/><circle cx="273.4" cy="317.8" r="2.4"/><circle cx="293.5" cy="301.8" r="2.4"/><circle cx="280.9" cy="318.8" r="2.4"/><circle cx="261.2" cy="347.2" r="2.4"/><circle cx="259.5" cy="337.5" r="2.4"/><circle cx="264.5" cy="336.9" r="2.4"/><circle cx="266.1" cy="322.6" r="2.4"/><circle cx="253.6" cy="334.0" r="2.4"/><circle cx="262.5" cy="335.6" r="2.4"/><circle cx="291.6" cy="311.0" r="2.4"/><circle cx="232.8" cy="335.9" r="2.4"/><circle cx="267.6" cy="333.3" r="2.4"/><circle cx="246.9" cy="347.8" r="2.4"/><circle cx="266.4" cy="327.7" r="2.4"/><circle cx="278.0" cy="323.6" r="2.4"/><circle cx="262.0" cy="332.6" r="2.4"/><circle cx="276.8" cy="313.5" r="2.4"/><circle cx="234.8" cy="333.0" r="2.4"/><circle cx="282.7" cy="329.7" r="2.4"/><circle cx="252.3" cy="336.0" r="2.4"/><circle cx="274.1" cy="319.8" r="2.4"/><circle cx="266.3" cy="326.5" r="2.4"/><circle cx="217.1" cy="362.8" r="2.4"/><circle cx="249.6" cy="340.8" r="2.4"/><circle cx="267.0" cy="316.4" r="2.4"/><circle cx="290.7" cy="312.4" r="2.4"/><circle cx="268.1" cy="325.5" r="2.4"/><circle cx="267.6" cy="324.8" r="2.4"/><circle cx="237.9" cy="345.2" r="2.4"/><circle cx="288.5" cy="311.3" r="2.4"/><circle cx="295.1" cy="296.1" r="2.4"/><circle cx="263.5" cy="327.8" r="2.4"/><circle cx="259.1" cy="329.4" r="2.4"/><circle cx="234.3" cy="349.2" r="2.4"/><circle cx="278.7" cy="325.7" r="2.4"/><circle cx="311.1" cy="300.9" r="2.4"/><circle cx="275.8" cy="328.2" r="2.4"/><circle cx="285.5" cy="310.2" r="2.4"/><circle cx="272.7" cy="327.5" r="2.4"/><circle cx="245.5" cy="350.1" r="2.4"/><circle cx="286.8" cy="308.9" r="2.4"/><circle cx="241.1" cy="339.2" r="2.4"/><circle cx="259.3" cy="346.4" r="2.4"/><circle cx="268.0" cy="309.5" r="2.4"/><circle cx="278.7" cy="316.5" r="2.4"/><circle cx="270.4" cy="323.7" r="2.4"/><circle cx="269.9" cy="313.7" r="2.4"/><circle cx="249.5" cy="337.2" r="2.4"/><circle cx="240.1" cy="349.9" r="2.4"/><circle cx="264.1" cy="307.8" r="2.4"/><circle cx="250.4" cy="346.7" r="2.4"/><circle cx="239.8" cy="345.7" r="2.4"/><circle cx="240.5" cy="336.7" r="2.4"/><circle cx="254.3" cy="343.8" r="2.4"/><circle cx="230.1" cy="352.7" r="2.4"/><circle cx="239.1" cy="341.9" r="2.4"/><circle cx="234.0" cy="327.7" r="2.4"/><circle cx="266.3" cy="333.7" r="2.4"/><circle cx="270.3" cy="323.3" r="2.4"/><circle cx="298.7" cy="296.6" r="2.4"/><circle cx="236.4" cy="346.5" r="2.4"/><circle cx="251.0" cy="347.4" r="2.4"/><circle cx="279.3" cy="312.8" r="2.4"/><circle cx="259.2" cy="329.9" r="2.4"/><circle cx="257.2" cy="328.3" r="2.4"/><circle cx="293.4" cy="296.2" r="2.4"/><circle cx="257.0" cy="323.4" r="2.4"/><circle cx="242.5" cy="339.2" r="2.4"/><circle cx="239.6" cy="342.2" r="2.4"/><circle cx="269.0" cy="333.5" r="2.4"/><circle cx="268.5" cy="325.4" r="2.4"/><circle cx="238.7" cy="343.7" r="2.4"/><circle cx="245.5" cy="344.2" r="2.4"/><circle cx="272.5" cy="320.4" r="2.4"/><circle cx="273.3" cy="328.0" r="2.4"/><circle cx="251.6" cy="322.7" r="2.4"/><circle cx="274.1" cy="301.0" r="2.4"/><circle cx="273.2" cy="324.2" r="2.4"/><circle cx="231.3" cy="347.3" r="2.4"/><circle cx="257.5" cy="334.2" r="2.4"/><circle cx="270.4" cy="311.6" r="2.4"/><circle cx="252.9" cy="331.5" r="2.4"/><circle cx="225.0" cy="354.7" r="2.4"/><circle cx="258.0" cy="333.7" r="2.4"/><circle cx="276.4" cy="317.4" r="2.4"/><circle cx="291.1" cy="316.8" r="2.4"/><circle cx="224.1" cy="350.1" r="2.4"/><circle cx="309.5" cy="301.0" r="2.4"/><circle cx="243.0" cy="337.7" r="2.4"/><circle cx="280.0" cy="314.7" r="2.4"/><circle cx="285.0" cy="302.6" r="2.4"/><circle cx="280.5" cy="315.7" r="2.4"/><circle cx="265.7" cy="317.1" r="2.4"/><circle cx="242.4" cy="351.1" r="2.4"/><circle cx="274.2" cy="314.7" r="2.4"/><circle cx="250.3" cy="339.2" r="2.4"/><circle cx="218.2" cy="358.6" r="2.4"/><circle cx="313.3" cy="291.3" r="2.4"/><circle cx="275.6" cy="310.7" r="2.4"/><circle cx="295.3" cy="322.8" r="2.4"/><circle cx="246.8" cy="336.9" r="2.4"/><circle cx="289.1" cy="322.6" r="2.4"/><circle cx="291.3" cy="297.1" r="2.4"/><circle cx="290.7" cy="325.7" r="2.4"/><circle cx="262.7" cy="337.3" r="2.4"/><circle cx="241.7" cy="358.3" r="2.4"/><circle cx="259.9" cy="315.8" r="2.4"/><circle cx="223.9" cy="367.7" r="2.4"/><circle cx="232.8" cy="348.8" r="2.4"/><circle cx="264.7" cy="331.7" r="2.4"/><circle cx="245.4" cy="356.7" r="2.4"/><circle cx="260.1" cy="333.2" r="2.4"/><circle cx="261.1" cy="323.6" r="2.4"/><circle cx="297.3" cy="305.1" r="2.4"/><circle cx="286.1" cy="303.2" r="2.4"/><circle cx="262.2" cy="331.9" r="2.4"/><circle cx="284.5" cy="312.6" r="2.4"/><circle cx="249.2" cy="341.5" r="2.4"/><circle cx="257.0" cy="329.3" r="2.4"/><circle cx="279.2" cy="299.6" r="2.4"/><circle cx="241.0" cy="340.7" r="2.4"/><circle cx="258.1" cy="329.9" r="2.4"/><circle cx="239.6" cy="350.5" r="2.4"/><circle cx="265.1" cy="333.3" r="2.4"/><circle cx="292.0" cy="294.2" r="2.4"/><circle cx="249.7" cy="347.6" r="2.4"/><circle cx="267.0" cy="333.3" r="2.4"/><circle cx="247.1" cy="340.4" r="2.4"/><circle cx="242.6" cy="346.6" r="2.4"/><circle cx="241.1" cy="326.5" r="2.4"/><circle cx="288.9" cy="330.5" r="2.4"/><circle cx="305.0" cy="294.7" r="2.4"/><circle cx="271.6" cy="315.6" r="2.4"/><circle cx="250.3" cy="347.2" r="2.4"/><circle cx="275.6" cy="324.8" r="2.4"/><circle cx="257.1" cy="328.5" r="2.4"/><circle cx="277.3" cy="303.4" r="2.4"/><circle cx="268.2" cy="332.5" r="2.4"/><circle cx="268.0" cy="338.5" r="2.4"/><circle cx="273.8" cy="311.7" r="2.4"/><circle cx="252.7" cy="322.0" r="2.4"/><circle cx="255.8" cy="336.2" r="2.4"/><circle cx="232.4" cy="369.7" r="2.4"/><circle cx="255.2" cy="320.9" r="2.4"/><circle cx="237.8" cy="348.0" r="2.4"/><circle cx="260.5" cy="320.0" r="2.4"/><circle cx="246.0" cy="340.7" r="2.4"/><circle cx="264.8" cy="330.1" r="2.4"/><circle cx="271.1" cy="326.3" r="2.4"/><circle cx="237.8" cy="333.2" r="2.4"/><circle cx="248.6" cy="325.8" r="2.4"/><circle cx="246.3" cy="359.1" r="2.4"/><circle cx="276.3" cy="326.9" r="2.4"/><circle cx="293.4" cy="290.5" r="2.4"/><circle cx="278.2" cy="320.5" r="2.4"/><circle cx="256.8" cy="344.6" r="2.4"/><circle cx="289.1" cy="309.3" r="2.4"/><circle cx="236.1" cy="348.4" r="2.4"/><circle cx="289.7" cy="309.8" r="2.4"/><circle cx="251.4" cy="340.7" r="2.4"/><circle cx="213.6" cy="366.4" r="2.4"/><circle cx="310.1" cy="298.3" r="2.4"/><circle cx="291.1" cy="305.0" r="2.4"/><circle cx="244.7" cy="348.5" r="2.4"/><circle cx="266.0" cy="328.5" r="2.4"/><circle cx="259.2" cy="332.1" r="2.4"/><circle cx="264.9" cy="315.2" r="2.4"/><circle cx="236.7" cy="343.7" r="2.4"/><circle cx="250.9" cy="337.8" r="2.4"/><circle cx="271.4" cy="317.4" r="2.4"/><circle cx="267.0" cy="321.6" r="2.4"/><circle cx="284.3" cy="303.1" r="2.4"/><circle cx="264.5" cy="322.6" r="2.4"/><circle cx="304.8" cy="282.2" r="2.4"/><circle cx="250.3" cy="325.3" r="2.4"/><circle cx="267.6" cy="325.1" r="2.4"/><circle cx="229.0" cy="356.2" r="2.4"/><circle cx="240.8" cy="336.3" r="2.4"/><circle cx="286.6" cy="306.5" r="2.4"/><circle cx="246.3" cy="341.0" r="2.4"/><circle cx="272.5" cy="334.4" r="2.4"/><circle cx="261.9" cy="345.1" r="2.4"/><circle cx="244.5" cy="338.3" r="2.4"/><circle cx="256.8" cy="325.7" r="2.4"/><circle cx="253.9" cy="327.5" r="2.4"/><circle cx="254.4" cy="345.7" r="2.4"/><circle cx="276.4" cy="309.3" r="2.4"/><circle cx="274.6" cy="324.5" r="2.4"/><circle cx="252.8" cy="332.0" r="2.4"/><circle cx="246.9" cy="336.0" r="2.4"/><circle cx="268.1" cy="331.6" r="2.4"/><circle cx="261.3" cy="334.6" r="2.4"/><circle cx="281.3" cy="333.3" r="2.4"/><circle cx="310.2" cy="302.3" r="2.4"/><circle cx="278.0" cy="333.3" r="2.4"/><circle cx="262.4" cy="324.7" r="2.4"/><circle cx="260.0" cy="329.7" r="2.4"/><circle cx="247.8" cy="330.9" r="2.4"/><circle cx="246.9" cy="336.5" r="2.4"/><circle cx="245.2" cy="346.5" r="2.4"/><circle cx="256.0" cy="330.1" r="2.4"/><circle cx="255.4" cy="337.0" r="2.4"/><circle cx="276.3" cy="313.2" r="2.4"/><circle cx="255.9" cy="330.4" r="2.4"/><circle cx="259.5" cy="339.4" r="2.4"/><circle cx="241.4" cy="343.6" r="2.4"/><circle cx="292.3" cy="306.6" r="2.4"/><circle cx="272.0" cy="324.3" r="2.4"/><circle cx="294.8" cy="297.3" r="2.4"/><circle cx="277.2" cy="302.7" r="2.4"/><circle cx="289.5" cy="312.3" r="2.4"/><circle cx="258.6" cy="334.4" r="2.4"/><circle cx="275.8" cy="338.9" r="2.4"/><circle cx="311.1" cy="294.7" r="2.4"/><circle cx="241.3" cy="347.6" r="2.4"/><circle cx="283.9" cy="332.2" r="2.4"/><circle cx="293.2" cy="303.8" r="2.4"/><circle cx="270.5" cy="317.5" r="2.4"/><circle cx="276.6" cy="324.8" r="2.4"/><circle cx="285.8" cy="315.0" r="2.4"/><circle cx="251.1" cy="345.2" r="2.4"/><circle cx="270.5" cy="316.0" r="2.4"/><circle cx="247.3" cy="352.9" r="2.4"/><circle cx="250.8" cy="339.7" r="2.4"/><circle cx="251.8" cy="318.8" r="2.4"/><circle cx="260.4" cy="329.5" r="2.4"/><circle cx="265.7" cy="322.0" r="2.4"/><circle cx="271.3" cy="323.5" r="2.4"/><circle cx="237.3" cy="357.0" r="2.4"/><circle cx="299.1" cy="302.5" r="2.4"/><circle cx="284.1" cy="309.4" r="2.4"/><circle cx="276.2" cy="327.7" r="2.4"/><circle cx="256.5" cy="329.7" r="2.4"/><circle cx="261.4" cy="318.2" r="2.4"/><circle cx="273.0" cy="311.4" r="2.4"/><circle cx="270.5" cy="336.7" r="2.4"/><circle cx="232.4" cy="358.7" r="2.4"/><circle cx="276.5" cy="332.7" r="2.4"/><circle cx="316.1" cy="280.4" r="2.4"/><circle cx="229.4" cy="346.9" r="2.4"/><circle cx="281.2" cy="308.8" r="2.4"/><circle cx="269.8" cy="331.0" r="2.4"/><circle cx="261.0" cy="339.9" r="2.4"/><circle cx="288.0" cy="309.4" r="2.4"/><circle cx="241.5" cy="342.7" r="2.4"/><circle cx="266.0" cy="333.5" r="2.4"/><circle cx="289.7" cy="307.6" r="2.4"/><circle cx="259.4" cy="325.0" r="2.4"/><circle cx="255.4" cy="331.5" r="2.4"/><circle cx="265.1" cy="335.8" r="2.4"/><circle cx="254.9" cy="352.7" r="2.4"/><circle cx="291.3" cy="310.1" r="2.4"/><circle cx="246.5" cy="338.5" r="2.4"/><circle cx="279.0" cy="318.9" r="2.4"/><circle cx="240.2" cy="348.3" r="2.4"/><circle cx="275.3" cy="325.4" r="2.4"/><circle cx="261.1" cy="323.1" r="2.4"/><circle cx="215.9" cy="362.5" r="2.4"/><circle cx="262.9" cy="327.1" r="2.4"/><circle cx="243.5" cy="350.7" r="2.4"/><circle cx="254.9" cy="339.4" r="2.4"/><circle cx="291.1" cy="306.4" r="2.4"/><circle cx="242.6" cy="351.7" r="2.4"/><circle cx="243.7" cy="353.2" r="2.4"/><circle cx="289.4" cy="312.1" r="2.4"/><circle cx="265.2" cy="315.9" r="2.4"/><circle cx="291.2" cy="306.1" r="2.4"/><circle cx="268.9" cy="310.9" r="2.4"/><circle cx="246.9" cy="340.8" r="2.4"/><circle cx="261.8" cy="331.7" r="2.4"/><circle cx="285.5" cy="324.3" r="2.4"/><circle cx="280.2" cy="320.8" r="2.4"/><circle cx="263.1" cy="315.3" r="2.4"/><circle cx="263.9" cy="324.5" r="2.4"/><circle cx="261.0" cy="323.1" r="2.4"/><circle cx="252.5" cy="329.4" r="2.4"/><circle cx="298.3" cy="302.8" r="2.4"/><circle cx="263.2" cy="329.8" r="2.4"/><circle cx="242.4" cy="341.9" r="2.4"/><circle cx="254.3" cy="328.4" r="2.4"/><circle cx="276.3" cy="314.5" r="2.4"/><circle cx="274.8" cy="315.3" r="2.4"/><circle cx="260.5" cy="328.5" r="2.4"/><circle cx="250.8" cy="343.7" r="2.4"/><circle cx="263.5" cy="330.1" r="2.4"/><circle cx="232.5" cy="358.4" r="2.4"/><circle cx="239.2" cy="336.3" r="2.4"/><circle cx="277.6" cy="336.2" r="2.4"/><circle cx="254.3" cy="336.3" r="2.4"/><circle cx="269.9" cy="302.0" r="2.4"/><circle cx="285.3" cy="315.1" r="2.4"/><circle cx="274.9" cy="329.6" r="2.4"/><circle cx="263.4" cy="328.0" r="2.4"/><circle cx="301.9" cy="288.7" r="2.4"/><circle cx="275.2" cy="320.7" r="2.4"/><circle cx="256.6" cy="327.3" r="2.4"/><circle cx="276.4" cy="317.6" r="2.4"/><circle cx="270.5" cy="326.0" r="2.4"/><circle cx="247.4" cy="311.4" r="2.4"/><circle cx="264.4" cy="326.5" r="2.4"/><circle cx="260.0" cy="335.0" r="2.4"/><circle cx="227.1" cy="358.3" r="2.4"/><circle cx="259.9" cy="327.0" r="2.4"/><circle cx="257.9" cy="328.2" r="2.4"/><circle cx="255.0" cy="327.0" r="2.4"/><circle cx="233.0" cy="348.4" r="2.4"/><circle cx="256.6" cy="345.4" r="2.4"/><circle cx="262.3" cy="323.9" r="2.4"/><circle cx="264.9" cy="329.5" r="2.4"/><circle cx="242.3" cy="345.5" r="2.4"/><circle cx="274.6" cy="332.9" r="2.4"/><circle cx="240.8" cy="349.1" r="2.4"/><circle cx="258.9" cy="337.5" r="2.4"/><circle cx="286.9" cy="311.3" r="2.4"/><circle cx="250.4" cy="350.1" r="2.4"/><circle cx="253.7" cy="334.3" r="2.4"/><circle cx="282.6" cy="312.9" r="2.4"/><circle cx="256.0" cy="343.1" r="2.4"/><circle cx="257.6" cy="337.5" r="2.4"/><circle cx="267.1" cy="332.8" r="2.4"/><circle cx="282.2" cy="306.3" r="2.4"/><circle cx="222.8" cy="379.5" r="2.4"/><circle cx="247.9" cy="342.0" r="2.4"/><circle cx="244.6" cy="356.0" r="2.4"/><circle cx="243.2" cy="346.2" r="2.4"/><circle cx="247.4" cy="331.8" r="2.4"/><circle cx="247.7" cy="344.7" r="2.4"/><circle cx="268.5" cy="322.9" r="2.4"/><circle cx="246.8" cy="347.2" r="2.4"/><circle cx="265.3" cy="309.3" r="2.4"/><circle cx="270.3" cy="314.7" r="2.4"/><circle cx="249.7" cy="327.6" r="2.4"/><circle cx="265.4" cy="338.2" r="2.4"/><circle cx="292.8" cy="316.4" r="2.4"/><circle cx="268.9" cy="314.3" r="2.4"/><circle cx="251.4" cy="338.2" r="2.4"/><circle cx="261.9" cy="331.2" r="2.4"/><circle cx="246.4" cy="337.1" r="2.4"/><circle cx="268.0" cy="335.7" r="2.4"/><circle cx="278.7" cy="310.0" r="2.4"/><circle cx="248.1" cy="338.6" r="2.4"/><circle cx="259.2" cy="326.6" r="2.4"/><circle cx="283.2" cy="319.5" r="2.4"/><circle cx="254.0" cy="330.0" r="2.4"/><circle cx="266.4" cy="331.9" r="2.4"/><circle cx="244.4" cy="333.0" r="2.4"/><circle cx="248.2" cy="328.8" r="2.4"/><circle cx="253.7" cy="326.7" r="2.4"/><circle cx="301.7" cy="295.7" r="2.4"/><circle cx="255.8" cy="327.7" r="2.4"/><circle cx="253.6" cy="358.9" r="2.4"/><circle cx="253.0" cy="327.9" r="2.4"/><circle cx="260.1" cy="332.6" r="2.4"/><circle cx="274.7" cy="318.9" r="2.4"/><circle cx="266.4" cy="328.2" r="2.4"/><circle cx="299.6" cy="314.1" r="2.4"/><circle cx="266.8" cy="330.1" r="2.4"/><circle cx="288.8" cy="303.8" r="2.4"/><circle cx="268.0" cy="312.0" r="2.4"/><circle cx="273.8" cy="325.9" r="2.4"/><circle cx="237.4" cy="354.6" r="2.4"/><circle cx="260.8" cy="316.8" r="2.4"/><circle cx="261.8" cy="336.8" r="2.4"/><circle cx="258.7" cy="312.8" r="2.4"/><circle cx="224.8" cy="355.1" r="2.4"/><circle cx="278.7" cy="324.7" r="2.4"/><circle cx="256.2" cy="324.3" r="2.4"/><circle cx="255.3" cy="318.7" r="2.4"/><circle cx="258.5" cy="344.1" r="2.4"/><circle cx="259.0" cy="317.2" r="2.4"/><circle cx="270.3" cy="325.4" r="2.4"/><circle cx="240.4" cy="331.1" r="2.4"/><circle cx="246.5" cy="343.4" r="2.4"/><circle cx="268.2" cy="338.4" r="2.4"/><circle cx="265.6" cy="321.8" r="2.4"/><circle cx="256.3" cy="324.7" r="2.4"/><circle cx="252.8" cy="316.8" r="2.4"/><circle cx="248.2" cy="323.5" r="2.4"/><circle cx="262.0" cy="322.7" r="2.4"/><circle cx="284.0" cy="315.1" r="2.4"/><circle cx="244.2" cy="346.2" r="2.4"/><circle cx="290.1" cy="311.2" r="2.4"/><circle cx="278.0" cy="324.7" r="2.4"/><circle cx="255.0" cy="336.3" r="2.4"/><circle cx="277.0" cy="340.7" r="2.4"/><circle cx="237.0" cy="345.2" r="2.4"/><circle cx="232.3" cy="350.5" r="2.4"/><circle cx="240.1" cy="321.8" r="2.4"/><circle cx="255.8" cy="326.6" r="2.4"/><circle cx="257.3" cy="336.5" r="2.4"/><circle cx="253.9" cy="329.7" r="2.4"/><circle cx="264.8" cy="337.7" r="2.4"/><circle cx="225.1" cy="360.7" r="2.4"/><circle cx="271.8" cy="338.3" r="2.4"/><circle cx="237.8" cy="333.5" r="2.4"/><circle cx="251.3" cy="331.3" r="2.4"/><circle cx="255.7" cy="343.8" r="2.4"/><circle cx="242.5" cy="343.4" r="2.4"/><circle cx="238.7" cy="337.2" r="2.4"/><circle cx="245.2" cy="336.5" r="2.4"/><circle cx="262.8" cy="324.8" r="2.4"/><circle cx="273.5" cy="328.2" r="2.4"/><circle cx="273.1" cy="326.5" r="2.4"/><circle cx="245.4" cy="339.9" r="2.4"/><circle cx="249.0" cy="330.0" r="2.4"/><circle cx="246.7" cy="347.2" r="2.4"/><circle cx="271.0" cy="332.3" r="2.4"/><circle cx="226.8" cy="344.0" r="2.4"/><circle cx="285.0" cy="320.5" r="2.4"/><circle cx="254.4" cy="324.7" r="2.4"/><circle cx="249.1" cy="335.9" r="2.4"/><circle cx="269.1" cy="315.9" r="2.4"/><circle cx="281.4" cy="299.4" r="2.4"/><circle cx="269.1" cy="317.6" r="2.4"/><circle cx="281.7" cy="307.8" r="2.4"/><circle cx="265.4" cy="334.5" r="2.4"/><circle cx="284.9" cy="318.5" r="2.4"/><circle cx="285.2" cy="306.5" r="2.4"/><circle cx="261.3" cy="315.7" r="2.4"/><circle cx="288.6" cy="297.3" r="2.4"/><circle cx="266.0" cy="305.4" r="2.4"/><circle cx="264.6" cy="324.2" r="2.4"/><circle cx="246.7" cy="338.1" r="2.4"/><circle cx="257.9" cy="322.8" r="2.4"/><circle cx="276.9" cy="318.0" r="2.4"/><circle cx="239.7" cy="345.4" r="2.4"/><circle cx="274.6" cy="329.1" r="2.4"/><circle cx="269.2" cy="314.8" r="2.4"/><circle cx="268.0" cy="334.1" r="2.4"/><circle cx="223.8" cy="351.7" r="2.4"/><circle cx="261.2" cy="342.0" r="2.4"/><circle cx="274.6" cy="310.1" r="2.4"/><circle cx="249.5" cy="347.0" r="2.4"/><circle cx="264.6" cy="319.4" r="2.4"/><circle cx="220.8" cy="372.6" r="2.4"/><circle cx="275.0" cy="323.4" r="2.4"/><circle cx="251.3" cy="326.1" r="2.4"/><circle cx="278.5" cy="324.1" r="2.4"/><circle cx="230.3" cy="351.0" r="2.4"/><circle cx="275.3" cy="323.5" r="2.4"/><circle cx="258.8" cy="351.6" r="2.4"/><circle cx="277.4" cy="315.0" r="2.4"/><circle cx="246.6" cy="336.1" r="2.4"/><circle cx="252.0" cy="345.8" r="2.4"/><circle cx="302.9" cy="294.3" r="2.4"/><circle cx="248.3" cy="345.8" r="2.4"/><circle cx="250.5" cy="346.0" r="2.4"/><circle cx="258.1" cy="331.6" r="2.4"/><circle cx="244.9" cy="347.2" r="2.4"/><circle cx="284.2" cy="292.5" r="2.4"/><circle cx="293.7" cy="319.8" r="2.4"/><circle cx="250.5" cy="330.5" r="2.4"/><circle cx="232.4" cy="341.4" r="2.4"/><circle cx="283.9" cy="330.7" r="2.4"/><circle cx="282.7" cy="329.3" r="2.4"/><circle cx="277.6" cy="312.6" r="2.4"/><circle cx="283.6" cy="317.6" r="2.4"/><circle cx="247.6" cy="335.8" r="2.4"/><circle cx="260.0" cy="320.1" r="2.4"/><circle cx="238.4" cy="349.1" r="2.4"/><circle cx="237.8" cy="355.6" r="2.4"/><circle cx="280.5" cy="339.8" r="2.4"/><circle cx="251.1" cy="334.9" r="2.4"/><circle cx="303.5" cy="307.2" r="2.4"/><circle cx="264.4" cy="324.4" r="2.4"/><circle cx="251.7" cy="334.2" r="2.4"/><circle cx="277.2" cy="330.2" r="2.4"/><circle cx="295.0" cy="289.8" r="2.4"/><circle cx="271.7" cy="312.3" r="2.4"/><circle cx="241.4" cy="336.1" r="2.4"/><circle cx="269.6" cy="333.9" r="2.4"/><circle cx="287.5" cy="314.1" r="2.4"/><circle cx="254.3" cy="339.2" r="2.4"/><circle cx="249.3" cy="341.7" r="2.4"/><circle cx="281.1" cy="325.1" r="2.4"/><circle cx="265.5" cy="322.4" r="2.4"/><circle cx="243.4" cy="340.1" r="2.4"/><circle cx="256.3" cy="329.7" r="2.4"/><circle cx="249.6" cy="342.2" r="2.4"/><circle cx="268.3" cy="312.8" r="2.4"/><circle cx="265.0" cy="325.0" r="2.4"/><circle cx="283.5" cy="337.7" r="2.4"/><circle cx="275.6" cy="324.7" r="2.4"/><circle cx="235.2" cy="348.6" r="2.4"/><circle cx="270.3" cy="314.3" r="2.4"/><circle cx="279.0" cy="319.3" r="2.4"/><circle cx="271.1" cy="324.5" r="2.4"/><circle cx="281.3" cy="320.8" r="2.4"/><circle cx="253.3" cy="329.2" r="2.4"/><circle cx="246.1" cy="344.2" r="2.4"/><circle cx="279.6" cy="321.6" r="2.4"/><circle cx="244.1" cy="348.3" r="2.4"/><circle cx="224.7" cy="350.7" r="2.4"/><circle cx="281.3" cy="319.7" r="2.4"/><circle cx="250.2" cy="352.2" r="2.4"/><circle cx="257.6" cy="326.5" r="2.4"/><circle cx="238.2" cy="352.2" r="2.4"/><circle cx="239.5" cy="341.9" r="2.4"/><circle cx="242.5" cy="339.5" r="2.4"/><circle cx="256.6" cy="322.0" r="2.4"/><circle cx="269.6" cy="314.1" r="2.4"/><circle cx="222.2" cy="362.5" r="2.4"/><circle cx="276.4" cy="320.0" r="2.4"/><circle cx="242.0" cy="354.6" r="2.4"/><circle cx="244.1" cy="326.8" r="2.4"/><circle cx="275.1" cy="315.5" r="2.4"/><circle cx="261.7" cy="316.7" r="2.4"/><circle cx="235.7" cy="350.5" r="2.4"/><circle cx="295.8" cy="322.7" r="2.4"/><circle cx="247.7" cy="325.5" r="2.4"/><circle cx="267.4" cy="324.1" r="2.4"/><circle cx="266.6" cy="324.4" r="2.4"/><circle cx="288.1" cy="309.6" r="2.4"/><circle cx="254.9" cy="328.2" r="2.4"/><circle cx="280.9" cy="310.5" r="2.4"/><circle cx="249.9" cy="351.7" r="2.4"/><circle cx="283.0" cy="304.1" r="2.4"/><circle cx="249.5" cy="342.5" r="2.4"/><circle cx="256.6" cy="336.9" r="2.4"/><circle cx="296.7" cy="288.5" r="2.4"/><circle cx="268.7" cy="315.9" r="2.4"/><circle cx="265.0" cy="329.7" r="2.4"/><circle cx="302.9" cy="315.9" r="2.4"/><circle cx="269.5" cy="322.0" r="2.4"/><circle cx="248.5" cy="333.7" r="2.4"/><circle cx="276.1" cy="319.4" r="2.4"/><circle cx="242.0" cy="354.2" r="2.4"/><circle cx="283.1" cy="320.7" r="2.4"/><circle cx="284.5" cy="323.8" r="2.4"/><circle cx="252.9" cy="333.5" r="2.4"/><circle cx="251.9" cy="328.8" r="2.4"/><circle cx="266.2" cy="316.7" r="2.4"/><circle cx="263.3" cy="334.4" r="2.4"/><circle cx="245.7" cy="338.5" r="2.4"/><circle cx="273.1" cy="315.9" r="2.4"/><circle cx="226.7" cy="358.7" r="2.4"/><circle cx="255.3" cy="334.9" r="2.4"/><circle cx="255.9" cy="314.4" r="2.4"/><circle cx="258.2" cy="329.8" r="2.4"/><circle cx="268.5" cy="316.3" r="2.4"/><circle cx="241.2" cy="347.6" r="2.4"/><circle cx="273.5" cy="320.2" r="2.4"/><circle cx="259.8" cy="345.6" r="2.4"/><circle cx="251.5" cy="336.6" r="2.4"/><circle cx="238.7" cy="335.0" r="2.4"/><circle cx="242.0" cy="324.6" r="2.4"/><circle cx="269.4" cy="312.9" r="2.4"/><circle cx="245.9" cy="334.3" r="2.4"/><circle cx="264.2" cy="326.8" r="2.4"/><circle cx="281.9" cy="319.8" r="2.4"/><circle cx="281.4" cy="316.3" r="2.4"/><circle cx="290.8" cy="302.7" r="2.4"/><circle cx="257.8" cy="338.8" r="2.4"/><circle cx="243.8" cy="333.7" r="2.4"/><circle cx="281.2" cy="323.8" r="2.4"/><circle cx="268.5" cy="339.9" r="2.4"/><circle cx="283.0" cy="322.7" r="2.4"/><circle cx="263.2" cy="342.7" r="2.4"/><circle cx="284.3" cy="325.0" r="2.4"/><circle cx="278.1" cy="307.2" r="2.4"/><circle cx="275.8" cy="320.7" r="2.4"/><circle cx="272.0" cy="319.7" r="2.4"/><circle cx="270.1" cy="312.7" r="2.4"/><circle cx="267.2" cy="313.9" r="2.4"/><circle cx="267.0" cy="329.7" r="2.4"/><circle cx="280.6" cy="303.6" r="2.4"/><circle cx="253.9" cy="331.2" r="2.4"/><circle cx="293.9" cy="305.9" r="2.4"/><circle cx="261.1" cy="325.5" r="2.4"/><circle cx="280.5" cy="328.1" r="2.4"/><circle cx="261.4" cy="336.2" r="2.4"/><circle cx="258.7" cy="332.2" r="2.4"/><circle cx="299.1" cy="296.7" r="2.4"/><circle cx="257.5" cy="335.3" r="2.4"/><circle cx="240.3" cy="345.5" r="2.4"/><circle cx="250.3" cy="328.6" r="2.4"/><circle cx="257.4" cy="319.6" r="2.4"/><circle cx="301.3" cy="293.7" r="2.4"/><circle cx="266.7" cy="314.2" r="2.4"/><circle cx="279.6" cy="319.7" r="2.4"/><circle cx="245.2" cy="343.6" r="2.4"/><circle cx="269.3" cy="320.8" r="2.4"/><circle cx="275.0" cy="322.2" r="2.4"/><circle cx="295.1" cy="309.6" r="2.4"/><circle cx="250.7" cy="322.3" r="2.4"/><circle cx="273.8" cy="322.2" r="2.4"/><circle cx="268.4" cy="332.8" r="2.4"/><circle cx="244.9" cy="336.8" r="2.4"/><circle cx="262.7" cy="312.0" r="2.4"/><circle cx="258.4" cy="330.7" r="2.4"/><circle cx="221.7" cy="346.9" r="2.4"/><circle cx="273.7" cy="324.3" r="2.4"/><circle cx="272.6" cy="325.5" r="2.4"/><circle cx="255.2" cy="339.8" r="2.4"/><circle cx="239.2" cy="346.5" r="2.4"/><circle cx="289.3" cy="292.9" r="2.4"/><circle cx="267.8" cy="334.9" r="2.4"/><circle cx="281.1" cy="300.6" r="2.4"/><circle cx="288.1" cy="319.0" r="2.4"/><circle cx="253.8" cy="336.8" r="2.4"/><circle cx="277.5" cy="310.3" r="2.4"/><circle cx="258.7" cy="325.6" r="2.4"/><circle cx="261.9" cy="326.4" r="2.4"/><circle cx="261.5" cy="343.8" r="2.4"/><circle cx="263.0" cy="324.9" r="2.4"/><circle cx="282.8" cy="322.9" r="2.4"/><circle cx="265.2" cy="303.7" r="2.4"/><circle cx="260.3" cy="331.9" r="2.4"/><circle cx="258.1" cy="329.9" r="2.4"/><circle cx="269.1" cy="333.9" r="2.4"/><circle cx="247.1" cy="343.8" r="2.4"/><circle cx="254.1" cy="346.0" r="2.4"/><circle cx="262.1" cy="320.0" r="2.4"/><circle cx="253.0" cy="337.6" r="2.4"/><circle cx="260.9" cy="324.6" r="2.4"/><circle cx="252.2" cy="342.0" r="2.4"/><circle cx="298.6" cy="306.9" r="2.4"/><circle cx="286.7" cy="299.7" r="2.4"/><circle cx="271.0" cy="331.0" r="2.4"/><circle cx="262.1" cy="344.8" r="2.4"/><circle cx="302.0" cy="296.5" r="2.4"/><circle cx="268.8" cy="334.1" r="2.4"/><circle cx="261.5" cy="333.1" r="2.4"/><circle cx="268.4" cy="316.1" r="2.4"/><circle cx="268.5" cy="331.4" r="2.4"/><circle cx="288.1" cy="302.3" r="2.4"/><circle cx="262.7" cy="334.4" r="2.4"/><circle cx="300.3" cy="288.0" r="2.4"/><circle cx="247.4" cy="327.6" r="2.4"/><circle cx="275.4" cy="323.4" r="2.4"/><circle cx="245.2" cy="342.8" r="2.4"/><circle cx="295.3" cy="312.3" r="2.4"/><circle cx="257.2" cy="330.5" r="2.4"/><circle cx="262.0" cy="318.6" r="2.4"/><circle cx="279.5" cy="329.1" r="2.4"/><circle cx="285.3" cy="303.9" r="2.4"/><circle cx="243.3" cy="354.0" r="2.4"/><circle cx="256.9" cy="340.1" r="2.4"/><circle cx="238.2" cy="361.8" r="2.4"/><circle cx="265.5" cy="307.7" r="2.4"/><circle cx="261.2" cy="328.9" r="2.4"/><circle cx="256.8" cy="330.4" r="2.4"/><circle cx="250.9" cy="342.8" r="2.4"/><circle cx="256.2" cy="323.6" r="2.4"/><circle cx="249.8" cy="356.3" r="2.4"/><circle cx="272.4" cy="321.1" r="2.4"/><circle cx="290.0" cy="289.1" r="2.4"/><circle cx="228.7" cy="356.1" r="2.4"/><circle cx="261.0" cy="329.4" r="2.4"/><circle cx="255.6" cy="327.5" r="2.4"/><circle cx="271.8" cy="329.0" r="2.4"/><circle cx="246.1" cy="340.0" r="2.4"/><circle cx="260.4" cy="321.4" r="2.4"/><circle cx="244.6" cy="339.6" r="2.4"/><circle cx="275.4" cy="315.9" r="2.4"/><circle cx="264.8" cy="329.9" r="2.4"/><circle cx="260.2" cy="327.4" r="2.4"/><circle cx="269.6" cy="322.9" r="2.4"/><circle cx="258.7" cy="318.3" r="2.4"/><circle cx="235.4" cy="341.5" r="2.4"/><circle cx="273.6" cy="322.6" r="2.4"/><circle cx="268.2" cy="346.1" r="2.4"/><circle cx="260.3" cy="323.7" r="2.4"/><circle cx="280.5" cy="308.8" r="2.4"/><circle cx="284.7" cy="320.7" r="2.4"/><circle cx="243.6" cy="359.8" r="2.4"/><circle cx="249.2" cy="348.2" r="2.4"/><circle cx="290.5" cy="300.1" r="2.4"/><circle cx="288.2" cy="319.4" r="2.4"/><circle cx="249.9" cy="341.6" r="2.4"/><circle cx="242.1" cy="341.2" r="2.4"/><circle cx="251.7" cy="325.4" r="2.4"/><circle cx="254.2" cy="334.6" r="2.4"/><circle cx="234.9" cy="349.2" r="2.4"/><circle cx="263.6" cy="332.6" r="2.4"/><circle cx="240.3" cy="330.0" r="2.4"/><circle cx="241.5" cy="334.1" r="2.4"/><circle cx="279.3" cy="317.2" r="2.4"/><circle cx="250.9" cy="349.2" r="2.4"/><circle cx="261.8" cy="336.0" r="2.4"/><circle cx="274.2" cy="314.9" r="2.4"/><circle cx="277.5" cy="324.1" r="2.4"/><circle cx="257.0" cy="324.5" r="2.4"/><circle cx="263.8" cy="324.3" r="2.4"/><circle cx="248.4" cy="336.0" r="2.4"/><circle cx="294.1" cy="300.0" r="2.4"/><circle cx="274.6" cy="315.4" r="2.4"/><circle cx="243.4" cy="349.8" r="2.4"/><circle cx="263.1" cy="330.9" r="2.4"/><circle cx="275.7" cy="298.2" r="2.4"/><circle cx="271.6" cy="332.7" r="2.4"/><circle cx="295.5" cy="308.9" r="2.4"/><circle cx="287.4" cy="301.1" r="2.4"/><circle cx="253.5" cy="336.4" r="2.4"/><circle cx="261.5" cy="336.4" r="2.4"/><circle cx="240.3" cy="356.2" r="2.4"/><circle cx="267.5" cy="320.1" r="2.4"/><circle cx="265.7" cy="317.1" r="2.4"/><circle cx="311.1" cy="281.1" r="2.4"/><circle cx="264.8" cy="326.4" r="2.4"/><circle cx="225.8" cy="345.6" r="2.4"/><circle cx="251.1" cy="345.8" r="2.4"/><circle cx="265.0" cy="325.2" r="2.4"/><circle cx="240.7" cy="350.1" r="2.4"/><circle cx="247.6" cy="337.6" r="2.4"/><circle cx="162.7" cy="397.1" r="2.4"/><circle cx="162.7" cy="409.4" r="2.4"/><circle cx="167.1" cy="360.1" r="2.4"/><circle cx="171.6" cy="358.6" r="2.4"/><circle cx="182.8" cy="363.9" r="2.4"/><circle cx="186.1" cy="362.4" r="2.4"/><circle cx="187.3" cy="346.0" r="2.4"/><circle cx="183.9" cy="391.5" r="2.4"/><circle cx="192.9" cy="398.2" r="2.4"/><circle cx="206.3" cy="377.4" r="2.4"/><circle cx="207.4" cy="359.0" r="2.4"/><circle cx="211.9" cy="326.6" r="2.4"/><circle cx="211.9" cy="346.7" r="2.4"/><circle cx="211.9" cy="390.3" r="2.4"/><circle cx="214.1" cy="365.7" r="2.4"/><circle cx="220.8" cy="346.7" r="2.4"/><circle cx="224.2" cy="368.0" r="2.4"/><circle cx="228.7" cy="312.0" r="2.4"/><circle cx="229.8" cy="322.1" r="2.4"/><circle cx="230.9" cy="373.6" r="2.4"/><circle cx="238.7" cy="404.9" r="2.4"/><circle cx="247.7" cy="310.9" r="2.4"/><circle cx="248.8" cy="390.3" r="2.4"/><circle cx="248.8" cy="372.9" r="2.4"/><circle cx="256.6" cy="366.8" r="2.4"/><circle cx="266.7" cy="381.4" r="2.4"/><circle cx="270.1" cy="366.2" r="2.4"/><circle cx="272.3" cy="348.9" r="2.4"/><circle cx="277.9" cy="333.3" r="2.4"/><circle cx="279.0" cy="360.1" r="2.4"/><circle cx="293.6" cy="354.5" r="2.4"/><circle cx="293.6" cy="328.8" r="2.4"/><circle cx="295.8" cy="318.7" r="2.4"/><circle cx="299.1" cy="284.1" r="2.4"/><circle cx="309.2" cy="296.4" r="2.4"/><circle cx="318.2" cy="289.6" r="2.4"/><circle cx="320.4" cy="317.6" r="2.4"/><circle cx="301.4" cy="289.6" r="2.4"/><circle cx="283.5" cy="290.8" r="2.4"/><circle cx="254.4" cy="306.4" r="2.4"/><circle cx="224.2" cy="336.6" r="2.4"/><circle cx="234.3" cy="350.1" r="2.4"/><circle cx="261.1" cy="354.5" r="2.4"/><circle cx="288.0" cy="336.6" r="2.4"/></g>
<line x1="119.5" y1="195" x2="119.5" y2="468.5" stroke="#666" stroke-width="1.2"/>
<line x1="119" y1="468" x2="392.9" y2="468" stroke="#666" stroke-width="1.2"/>
<line x1="119.5" y1="195" x2="122.5" y2="195" stroke="#666" stroke-width="1.2"/>
<line x1="392.9" y1="468" x2="392.9" y2="465" stroke="#666" stroke-width="1.2"/>
<line x1="119.5" y1="468" x2="392.9" y2="195" stroke="#444" stroke-width="1"/>
<text x="77.7" y="206.3" font-size="33.2">10</text>
<text x="94.8" y="478.7" font-size="33.2">6</text>
<text x="109.3" y="499.2" font-size="33.2">6</text>
<text x="372.7" y="499.4" font-size="33.2">10</text>
<text x="102.8" y="534.4" font-size="33.2">Wingbeat Frequency</text>
<text x="189.8" y="571" font-size="33.4"><tspan font-style="italic">FFT</tspan> (Hz)</text>
<text x="38.3" y="466.7" font-size="33.2" transform="rotate(-90 38.3 466.7)">Wingbeat Frequency</text>
<text x="78.3" y="397.3" font-size="33.4" transform="rotate(-90 78.3 397.3)"><tspan font-style="italic">Hilbert</tspan> (Hz)</text>
<rect x="900.3" y="224.8" width="22.2" height="191.8" fill="url(#cb)"/>
<line x1="922.5" y1="257" x2="925" y2="257" stroke="#333" stroke-width="1"/>
<line x1="922.5" y1="380.6" x2="925" y2="380.6" stroke="#333" stroke-width="1"/>
<text x="926" y="268.1" font-size="33.2">+0.5</text>
<text x="934.6" y="391.2" font-size="33.2">-0.5</text>
<text x="889.5" y="442.5" font-size="33.2" transform="rotate(-90 889.5 442.5)">Acceleration (g)</text>
<g clip-path="url(#hc1)" fill="url(#hg1)"><rect x="633.0" y="81.00" width="238.5" height="5.38"/><rect x="630.2" y="85.38" width="238.5" height="5.38"/><rect x="629.6" y="89.76" width="238.5" height="5.38"/><rect x="630.6" y="94.14" width="238.5" height="5.38"/><rect x="630.1" y="98.52" width="238.5" height="5.38"/><rect x="630.0" y="102.89" width="238.5" height="5.38"/><rect x="630.5" y="107.27" width="238.5" height="5.38"/><rect x="630.1" y="111.65" width="238.5" height="5.38"/><rect x="630.7" y="116.03" width="238.5" height="5.38"/><rect x="630.9" y="120.41" width="238.5" height="5.38"/><rect x="630.9" y="124.79" width="238.5" height="5.38"/><rect x="631.2" y="129.17" width="238.5" height="5.38"/><rect x="631.0" y="133.55" width="238.5" height="5.38"/><rect x="631.1" y="137.92" width="238.5" height="5.38"/><rect x="630.7" y="142.30" width="238.5" height="5.38"/><rect x="631.2" y="146.68" width="238.5" height="5.38"/><rect x="630.9" y="151.06" width="238.5" height="5.38"/><rect x="631.0" y="155.44" width="238.5" height="5.38"/><rect x="631.2" y="159.82" width="238.5" height="5.38"/><rect x="631.2" y="164.20" width="238.5" height="5.38"/><rect x="630.5" y="168.58" width="238.5" height="5.38"/><rect x="630.5" y="172.95" width="238.5" height="5.38"/><rect x="630.9" y="177.33" width="238.5" height="5.38"/><rect x="631.1" y="181.71" width="238.5" height="5.38"/><rect x="631.0" y="186.09" width="238.5" height="5.38"/><rect x="631.0" y="190.47" width="238.5" height="5.38"/><rect x="631.1" y="194.85" width="238.5" height="5.38"/><rect x="630.7" y="199.23" width="238.5" height="5.38"/><rect x="630.4" y="203.61" width="238.5" height="5.38"/><rect x="629.9" y="207.98" width="238.5" height="5.38"/><rect x="629.8" y="212.36" width="238.5" height="5.38"/><rect x="629.8" y="216.74" width="238.5" height="5.38"/><rect x="629.9" y="221.12" width="238.5" height="5.38"/></g>
<g clip-path="url(#hc2)" fill="url(#hg2)"><rect x="630.3" y="254.30" width="238.5" height="4.56"/><rect x="630.3" y="257.86" width="238.5" height="4.56"/><rect x="630.4" y="261.42" width="238.5" height="4.56"/><rect x="630.8" y="264.98" width="238.5" height="4.56"/><rect x="630.7" y="268.53" width="238.5" height="4.56"/><rect x="630.9" y="272.09" width="238.5" height="4.56"/><rect x="631.0" y="275.65" width="238.5" height="4.56"/><rect x="630.7" y="279.21" width="238.5" height="4.56"/><rect x="630.5" y="282.77" width="238.5" height="4.56"/><rect x="631.3" y="286.33" width="238.5" height="4.56"/><rect x="631.3" y="289.89" width="238.5" height="4.56"/><rect x="631.1" y="293.44" width="238.5" height="4.56"/><rect x="631.0" y="297.00" width="238.5" height="4.56"/><rect x="632.2" y="300.56" width="238.5" height="4.56"/><rect x="630.9" y="304.12" width="238.5" height="4.56"/><rect x="631.1" y="307.68" width="238.5" height="4.56"/><rect x="631.3" y="311.24" width="238.5" height="4.56"/><rect x="630.6" y="314.80" width="238.5" height="4.56"/><rect x="631.1" y="318.35" width="238.5" height="4.56"/><rect x="631.8" y="321.91" width="238.5" height="4.56"/><rect x="631.4" y="325.47" width="238.5" height="4.56"/><rect x="631.1" y="329.03" width="238.5" height="4.56"/><rect x="631.0" y="332.59" width="238.5" height="4.56"/><rect x="630.7" y="336.15" width="238.5" height="4.56"/><rect x="631.0" y="339.70" width="238.5" height="4.56"/><rect x="630.4" y="343.26" width="238.5" height="4.56"/><rect x="630.2" y="346.82" width="238.5" height="4.56"/><rect x="630.3" y="350.38" width="238.5" height="4.56"/><rect x="630.5" y="353.94" width="238.5" height="4.56"/><rect x="630.2" y="357.50" width="238.5" height="4.56"/><rect x="630.2" y="361.06" width="238.5" height="4.56"/><rect x="628.9" y="364.61" width="238.5" height="4.56"/><rect x="630.2" y="368.17" width="238.5" height="4.56"/><rect x="630.6" y="371.73" width="238.5" height="4.56"/><rect x="630.1" y="375.29" width="238.5" height="4.56"/><rect x="629.3" y="378.85" width="238.5" height="4.56"/><rect x="629.0" y="382.41" width="238.5" height="4.56"/><rect x="629.4" y="385.97" width="238.5" height="4.56"/><rect x="628.8" y="389.52" width="238.5" height="4.56"/><rect x="629.6" y="393.08" width="238.5" height="4.56"/><rect x="629.0" y="396.64" width="238.5" height="4.56"/></g>
<g clip-path="url(#hc3)" fill="url(#hg3)"><rect x="630.6" y="427.80" width="238.5" height="5.07"/><rect x="630.7" y="431.87" width="238.5" height="5.07"/><rect x="629.2" y="435.94" width="238.5" height="5.07"/><rect x="630.1" y="440.01" width="238.5" height="5.07"/><rect x="629.6" y="444.08" width="238.5" height="5.07"/><rect x="629.2" y="448.15" width="238.5" height="5.07"/><rect x="629.5" y="452.22" width="238.5" height="5.07"/><rect x="629.5" y="456.29" width="238.5" height="5.07"/><rect x="630.0" y="460.36" width="238.5" height="5.07"/><rect x="628.9" y="464.43" width="238.5" height="5.07"/><rect x="629.9" y="468.49" width="238.5" height="5.07"/><rect x="630.2" y="472.56" width="238.5" height="5.07"/><rect x="629.6" y="476.63" width="238.5" height="5.07"/><rect x="629.5" y="480.70" width="238.5" height="5.07"/><rect x="629.3" y="484.77" width="238.5" height="5.07"/><rect x="628.8" y="488.84" width="238.5" height="5.07"/><rect x="629.4" y="492.91" width="238.5" height="5.07"/><rect x="629.4" y="496.98" width="238.5" height="5.07"/><rect x="629.5" y="501.05" width="238.5" height="5.07"/><rect x="630.2" y="505.12" width="238.5" height="5.07"/><rect x="629.5" y="509.19" width="238.5" height="5.07"/><rect x="629.4" y="513.26" width="238.5" height="5.07"/><rect x="629.9" y="517.33" width="238.5" height="5.07"/><rect x="628.8" y="521.40" width="238.5" height="5.07"/><rect x="628.9" y="525.47" width="238.5" height="5.07"/><rect x="629.2" y="529.54" width="238.5" height="5.07"/><rect x="629.2" y="533.61" width="238.5" height="5.07"/><rect x="629.8" y="537.67" width="238.5" height="5.07"/><rect x="629.4" y="541.74" width="238.5" height="5.07"/><rect x="630.3" y="545.81" width="238.5" height="5.07"/><rect x="630.3" y="549.88" width="238.5" height="5.07"/><rect x="630.1" y="553.95" width="238.5" height="5.07"/><rect x="629.7" y="558.02" width="238.5" height="5.07"/><rect x="630.2" y="562.09" width="238.5" height="5.07"/><rect x="630.4" y="566.16" width="238.5" height="5.07"/><rect x="629.7" y="570.23" width="238.5" height="5.07"/></g>
<text x="591.9" y="60.2" font-size="33.2">Example Flight Paths</text>
<text x="627.8" y="103.7" font-size="33.2">1</text>
<text x="605.1" y="224.3" font-size="33.2">33</text>
<text x="598.7" y="208.4" font-size="33.2" transform="rotate(-90 598.7 208.4)">Flight #</text>
<text x="627.8" y="277" font-size="33.2">1</text>
<text x="605.7" y="399" font-size="33.2">41</text>
<text x="598.7" y="382.4" font-size="33.2" transform="rotate(-90 598.7 382.4)">Flight #</text>
<text x="627.8" y="450.5" font-size="33.2">1</text>
<text x="605.1" y="573.1" font-size="33.2">36</text>
<text x="598.7" y="556.2" font-size="33.2" transform="rotate(-90 598.7 556.2)">Flight #</text>
<text x="803.8" y="248.6" font-size="25.5">1.7 s</text>
<text x="803.8" y="422.5" font-size="25.5">1.7 s</text>
<text x="803.8" y="596.7" font-size="25.5">1.8 s</text>
<line x1="1086.7" y1="32.1" x2="1086.7" y2="191.8" stroke="#666" stroke-width="1.2"/>
<line x1="1086.2" y1="191.3" x2="1361.8" y2="191.3" stroke="#666" stroke-width="1.2"/>
<line x1="1086.7" y1="32.1" x2="1089.7" y2="32.1" stroke="#666" stroke-width="1.2"/>
<line x1="1361.8" y1="191.3" x2="1361.8" y2="188.3" stroke="#666" stroke-width="1.2"/>
<path d="M1099.4 191.3V186H1113.15V191.3ZM1113.1 191.3V170.2H1126.25V191.3ZM1126.2 191.3V32.7H1139.05V191.3ZM1139 191.3V54.4H1151.95V191.3ZM1151.9 191.3V122.8H1165.05V191.3ZM1165 191.3V180.9H1191.85V191.3ZM1270.2 191.3V186H1283.05V191.3ZM1296.6 191.3V186H1309.45V191.3Z" fill="#000"/>
<line x1="1192.3" y1="35" x2="1192.3" y2="191" stroke="#e83a3a" stroke-width="1.6" stroke-dasharray="1.6 3.3"/>
<rect x="1202.6" y="42.8" width="40.9" height="13.7" fill="#000"/>
<line x1="1201.7" y1="76.4" x2="1244.4" y2="76.4" stroke="#e83a3a" stroke-width="1.8" stroke-dasharray="1.8 4.2"/>
<text x="1251.9" y="57.1" font-size="25">Within Path</text>
<text x="1252" y="84" font-size="25">All flights</text>
<text x="1045.2" y="43.7" font-size="33.2">30</text>
<text x="1063.3" y="201.6" font-size="33.2">0</text>
<text x="1077" y="220" font-size="33.2">0</text>
<text x="1340" y="220.5" font-size="33.2">0.1</text>
<text x="1122.9" y="231.5" font-size="33.2">CV</text>
<text x="1170.3" y="237.5" font-size="16.45">Wingbeat Frequency</text>
<text x="1061.5" y="156" font-size="33.2" transform="rotate(-90 1061.5 156)">Count</text>
<g fill="#000" fill-opacity="0.38"><circle cx="1261.8" cy="413.6" r="3.2"/><circle cx="1275.9" cy="367.1" r="3.2"/><circle cx="1256.6" cy="391.9" r="3.2"/><circle cx="1309.9" cy="365.8" r="3.2"/><circle cx="1295.9" cy="403.1" r="3.2"/><circle cx="1215.7" cy="428.8" r="3.2"/><circle cx="1253.0" cy="372.2" r="3.2"/><circle cx="1215.3" cy="388.4" r="3.2"/><circle cx="1270.9" cy="398.3" r="3.2"/><circle cx="1214.0" cy="348.7" r="3.2"/><circle cx="1284.4" cy="401.8" r="3.2"/><circle cx="1263.4" cy="368.1" r="3.2"/><circle cx="1286.3" cy="397.0" r="3.2"/><circle cx="1242.4" cy="402.3" r="3.2"/><circle cx="1190.9" cy="365.1" r="3.2"/><circle cx="1317.5" cy="416.2" r="3.2"/><circle cx="1241.3" cy="361.8" r="3.2"/><circle cx="1302.2" cy="381.0" r="3.2"/><circle cx="1265.0" cy="390.8" r="3.2"/><circle cx="1274.6" cy="381.9" r="3.2"/><circle cx="1320.1" cy="393.1" r="3.2"/><circle cx="1261.5" cy="396.9" r="3.2"/><circle cx="1303.2" cy="382.5" r="3.2"/><circle cx="1189.8" cy="379.8" r="3.2"/><circle cx="1282.4" cy="383.5" r="3.2"/><circle cx="1238.6" cy="405.5" r="3.2"/><circle cx="1242.8" cy="385.0" r="3.2"/><circle cx="1248.5" cy="379.9" r="3.2"/><circle cx="1261.7" cy="407.4" r="3.2"/><circle cx="1313.3" cy="411.4" r="3.2"/><circle cx="1175.2" cy="382.7" r="3.2"/><circle cx="1249.9" cy="373.8" r="3.2"/><circle cx="1220.0" cy="396.5" r="3.2"/><circle cx="1294.0" cy="389.7" r="3.2"/><circle cx="1231.5" cy="353.5" r="3.2"/><circle cx="1266.1" cy="385.0" r="3.2"/><circle cx="1232.5" cy="417.5" r="3.2"/><circle cx="1274.4" cy="391.6" r="3.2"/><circle cx="1288.0" cy="376.0" r="3.2"/><circle cx="1232.5" cy="390.5" r="3.2"/><circle cx="1250.0" cy="366.0" r="3.2"/><circle cx="1192.3" cy="363.0" r="3.2"/><circle cx="1260.1" cy="382.3" r="3.2"/><circle cx="1281.8" cy="401.1" r="3.2"/><circle cx="1226.3" cy="393.6" r="3.2"/><circle cx="1292.2" cy="403.3" r="3.2"/><circle cx="1166.6" cy="368.5" r="3.2"/><circle cx="1175.3" cy="361.1" r="3.2"/><circle cx="1193.5" cy="367.3" r="3.2"/><circle cx="1229.1" cy="389.9" r="3.2"/><circle cx="1248.9" cy="386.9" r="3.2"/><circle cx="1245.0" cy="379.5" r="3.2"/><circle cx="1245.5" cy="420.5" r="3.2"/><circle cx="1276.6" cy="410.1" r="3.2"/><circle cx="1229.6" cy="400.1" r="3.2"/><circle cx="1198.4" cy="381.0" r="3.2"/><circle cx="1199.2" cy="382.6" r="3.2"/><circle cx="1331.2" cy="412.0" r="3.2"/><circle cx="1155.7" cy="384.9" r="3.2"/><circle cx="1241.2" cy="372.8" r="3.2"/><circle cx="1305.4" cy="395.3" r="3.2"/><circle cx="1267.1" cy="425.7" r="3.2"/><circle cx="1215.5" cy="380.4" r="3.2"/><circle cx="1248.2" cy="410.9" r="3.2"/><circle cx="1282.1" cy="361.0" r="3.2"/><circle cx="1295.6" cy="408.0" r="3.2"/><circle cx="1212.8" cy="388.0" r="3.2"/><circle cx="1278.0" cy="393.0" r="3.2"/><circle cx="1258.0" cy="394.3" r="3.2"/><circle cx="1291.5" cy="399.0" r="3.2"/><circle cx="1302.8" cy="368.8" r="3.2"/><circle cx="1234.6" cy="380.3" r="3.2"/><circle cx="1191.1" cy="358.1" r="3.2"/><circle cx="1263.7" cy="368.6" r="3.2"/><circle cx="1318.0" cy="423.5" r="3.2"/><circle cx="1275.1" cy="359.7" r="3.2"/><circle cx="1257.2" cy="376.0" r="3.2"/><circle cx="1342.5" cy="389.8" r="3.2"/><circle cx="1207.2" cy="396.3" r="3.2"/><circle cx="1283.6" cy="379.3" r="3.2"/><circle cx="1225.7" cy="374.5" r="3.2"/><circle cx="1250.1" cy="399.3" r="3.2"/><circle cx="1251.6" cy="342.3" r="3.2"/><circle cx="1307.7" cy="389.8" r="3.2"/><circle cx="1211.3" cy="384.5" r="3.2"/><circle cx="1227.1" cy="379.2" r="3.2"/><circle cx="1185.5" cy="355.3" r="3.2"/><circle cx="1267.3" cy="369.3" r="3.2"/><circle cx="1230.1" cy="372.0" r="3.2"/><circle cx="1264.7" cy="366.9" r="3.2"/><circle cx="1205.9" cy="348.5" r="3.2"/><circle cx="1234.0" cy="409.8" r="3.2"/><circle cx="1289.0" cy="407.0" r="3.2"/><circle cx="1241.3" cy="405.5" r="3.2"/><circle cx="1272.7" cy="391.5" r="3.2"/><circle cx="1268.9" cy="363.2" r="3.2"/><circle cx="1234.2" cy="371.5" r="3.2"/><circle cx="1186.8" cy="395.3" r="3.2"/><circle cx="1286.9" cy="402.6" r="3.2"/><circle cx="1254.8" cy="368.5" r="3.2"/><circle cx="1286.8" cy="407.4" r="3.2"/><circle cx="1169.0" cy="372.0" r="3.2"/><circle cx="1183.1" cy="367.0" r="3.2"/><circle cx="1163.9" cy="405.9" r="3.2"/><circle cx="1213.6" cy="364.3" r="3.2"/><circle cx="1289.1" cy="390.2" r="3.2"/><circle cx="1270.4" cy="381.4" r="3.2"/><circle cx="1246.8" cy="407.5" r="3.2"/><circle cx="1253.3" cy="404.7" r="3.2"/><circle cx="1278.0" cy="406.8" r="3.2"/><circle cx="1236.2" cy="380.1" r="3.2"/><circle cx="1263.7" cy="390.0" r="3.2"/><circle cx="1253.6" cy="386.5" r="3.2"/><circle cx="1162.1" cy="332.1" r="3.2"/><circle cx="1233.0" cy="357.9" r="3.2"/><circle cx="1301.5" cy="414.6" r="3.2"/><circle cx="1232.6" cy="397.7" r="3.2"/><circle cx="1242.5" cy="351.7" r="3.2"/><circle cx="1224.3" cy="389.0" r="3.2"/><circle cx="1229.1" cy="355.6" r="3.2"/><circle cx="1292.3" cy="365.4" r="3.2"/><circle cx="1237.6" cy="396.5" r="3.2"/><circle cx="1207.9" cy="384.3" r="3.2"/><circle cx="1225.6" cy="400.4" r="3.2"/><circle cx="1170.8" cy="390.3" r="3.2"/><circle cx="1176.4" cy="379.9" r="3.2"/><circle cx="1279.4" cy="377.6" r="3.2"/><circle cx="1276.0" cy="403.3" r="3.2"/><circle cx="1172.8" cy="375.1" r="3.2"/><circle cx="1281.6" cy="404.9" r="3.2"/><circle cx="1266.2" cy="419.7" r="3.2"/><circle cx="1217.3" cy="350.8" r="3.2"/><circle cx="1277.0" cy="442.0" r="3.2"/><circle cx="1184.2" cy="386.8" r="3.2"/><circle cx="1200.8" cy="365.9" r="3.2"/><circle cx="1191.5" cy="403.5" r="3.2"/><circle cx="1204.4" cy="365.7" r="3.2"/><circle cx="1282.7" cy="370.2" r="3.2"/><circle cx="1195.7" cy="393.6" r="3.2"/><circle cx="1202.9" cy="373.4" r="3.2"/><circle cx="1210.7" cy="402.0" r="3.2"/><circle cx="1255.8" cy="379.3" r="3.2"/><circle cx="1234.8" cy="383.1" r="3.2"/><circle cx="1282.0" cy="391.2" r="3.2"/><circle cx="1220.2" cy="353.8" r="3.2"/><circle cx="1197.4" cy="366.9" r="3.2"/><circle cx="1228.3" cy="356.1" r="3.2"/><circle cx="1249.5" cy="375.3" r="3.2"/><circle cx="1211.4" cy="404.0" r="3.2"/><circle cx="1258.9" cy="385.0" r="3.2"/><circle cx="1319.3" cy="394.0" r="3.2"/><circle cx="1225.0" cy="412.1" r="3.2"/><circle cx="1249.5" cy="361.1" r="3.2"/><circle cx="1300.9" cy="398.4" r="3.2"/><circle cx="1222.3" cy="374.6" r="3.2"/><circle cx="1214.4" cy="398.5" r="3.2"/><circle cx="1204.7" cy="376.6" r="3.2"/><circle cx="1263.3" cy="385.2" r="3.2"/><circle cx="1267.8" cy="399.0" r="3.2"/><circle cx="1241.7" cy="384.8" r="3.2"/><circle cx="1249.2" cy="431.3" r="3.2"/><circle cx="1297.5" cy="371.4" r="3.2"/><circle cx="1281.5" cy="418.1" r="3.2"/><circle cx="1192.3" cy="419.7" r="3.2"/><circle cx="1247.0" cy="407.2" r="3.2"/><circle cx="1251.4" cy="405.6" r="3.2"/><circle cx="1275.6" cy="383.1" r="3.2"/><circle cx="1238.4" cy="404.3" r="3.2"/><circle cx="1221.8" cy="376.2" r="3.2"/><circle cx="1229.1" cy="403.2" r="3.2"/><circle cx="1177.2" cy="327.0" r="3.2"/><circle cx="1246.1" cy="376.4" r="3.2"/><circle cx="1223.6" cy="342.6" r="3.2"/><circle cx="1265.4" cy="412.5" r="3.2"/><circle cx="1206.6" cy="365.1" r="3.2"/><circle cx="1229.8" cy="403.3" r="3.2"/><circle cx="1208.4" cy="367.2" r="3.2"/><circle cx="1205.0" cy="364.4" r="3.2"/><circle cx="1274.4" cy="426.3" r="3.2"/><circle cx="1228.5" cy="406.6" r="3.2"/><circle cx="1264.2" cy="415.3" r="3.2"/><circle cx="1202.8" cy="408.3" r="3.2"/><circle cx="1250.5" cy="403.4" r="3.2"/><circle cx="1180.3" cy="392.2" r="3.2"/><circle cx="1227.9" cy="412.8" r="3.2"/><circle cx="1226.9" cy="381.2" r="3.2"/><circle cx="1269.5" cy="381.7" r="3.2"/><circle cx="1253.6" cy="416.0" r="3.2"/><circle cx="1239.7" cy="397.4" r="3.2"/><circle cx="1279.4" cy="394.9" r="3.2"/><circle cx="1254.0" cy="394.1" r="3.2"/><circle cx="1267.6" cy="406.7" r="3.2"/><circle cx="1276.6" cy="378.0" r="3.2"/><circle cx="1243.8" cy="369.8" r="3.2"/><circle cx="1234.9" cy="371.2" r="3.2"/><circle cx="1259.3" cy="394.8" r="3.2"/><circle cx="1230.0" cy="343.6" r="3.2"/><circle cx="1261.6" cy="355.7" r="3.2"/><circle cx="1289.9" cy="405.7" r="3.2"/><circle cx="1279.9" cy="397.7" r="3.2"/><circle cx="1231.4" cy="360.1" r="3.2"/><circle cx="1195.9" cy="392.5" r="3.2"/><circle cx="1244.2" cy="379.1" r="3.2"/><circle cx="1241.4" cy="385.6" r="3.2"/><circle cx="1289.7" cy="411.8" r="3.2"/><circle cx="1231.3" cy="389.0" r="3.2"/><circle cx="1238.1" cy="417.8" r="3.2"/><circle cx="1275.2" cy="405.2" r="3.2"/><circle cx="1227.6" cy="424.0" r="3.2"/><circle cx="1240.0" cy="339.9" r="3.2"/><circle cx="1313.6" cy="372.2" r="3.2"/><circle cx="1304.7" cy="375.9" r="3.2"/><circle cx="1271.0" cy="387.1" r="3.2"/><circle cx="1256.8" cy="369.8" r="3.2"/><circle cx="1208.2" cy="353.3" r="3.2"/><circle cx="1268.2" cy="372.0" r="3.2"/><circle cx="1248.5" cy="369.6" r="3.2"/><circle cx="1254.9" cy="408.2" r="3.2"/><circle cx="1225.9" cy="374.4" r="3.2"/><circle cx="1245.8" cy="398.5" r="3.2"/><circle cx="1239.0" cy="410.1" r="3.2"/><circle cx="1258.6" cy="413.8" r="3.2"/><circle cx="1302.3" cy="391.7" r="3.2"/><circle cx="1260.4" cy="369.6" r="3.2"/><circle cx="1181.2" cy="400.9" r="3.2"/><circle cx="1208.2" cy="343.7" r="3.2"/><circle cx="1184.1" cy="343.9" r="3.2"/><circle cx="1215.1" cy="388.5" r="3.2"/><circle cx="1268.2" cy="402.2" r="3.2"/><circle cx="1262.0" cy="392.8" r="3.2"/><circle cx="1222.7" cy="362.5" r="3.2"/><circle cx="1256.7" cy="398.0" r="3.2"/><circle cx="1216.5" cy="403.6" r="3.2"/><circle cx="1190.5" cy="368.3" r="3.2"/><circle cx="1191.1" cy="417.4" r="3.2"/><circle cx="1212.5" cy="377.4" r="3.2"/><circle cx="1302.0" cy="376.8" r="3.2"/><circle cx="1193.6" cy="369.8" r="3.2"/><circle cx="1295.0" cy="383.0" r="3.2"/><circle cx="1298.3" cy="389.6" r="3.2"/><circle cx="1239.1" cy="371.4" r="3.2"/><circle cx="1244.3" cy="384.5" r="3.2"/><circle cx="1222.1" cy="399.3" r="3.2"/><circle cx="1245.2" cy="392.2" r="3.2"/><circle cx="1272.0" cy="395.2" r="3.2"/><circle cx="1246.5" cy="362.3" r="3.2"/><circle cx="1285.3" cy="363.6" r="3.2"/><circle cx="1292.7" cy="389.8" r="3.2"/><circle cx="1259.6" cy="406.2" r="3.2"/><circle cx="1259.0" cy="405.6" r="3.2"/><circle cx="1243.7" cy="391.1" r="3.2"/><circle cx="1259.7" cy="362.7" r="3.2"/><circle cx="1202.4" cy="371.2" r="3.2"/><circle cx="1262.0" cy="392.6" r="3.2"/><circle cx="1254.1" cy="405.2" r="3.2"/><circle cx="1212.3" cy="362.3" r="3.2"/><circle cx="1330.5" cy="401.0" r="3.2"/><circle cx="1208.0" cy="380.3" r="3.2"/><circle cx="1212.0" cy="378.1" r="3.2"/><circle cx="1257.0" cy="356.0" r="3.2"/><circle cx="1170.1" cy="374.0" r="3.2"/><circle cx="1215.0" cy="346.5" r="3.2"/><circle cx="1186.2" cy="349.1" r="3.2"/><circle cx="1208.1" cy="378.2" r="3.2"/><circle cx="1240.8" cy="368.7" r="3.2"/><circle cx="1258.6" cy="393.2" r="3.2"/><circle cx="1289.3" cy="414.5" r="3.2"/><circle cx="1277.7" cy="400.4" r="3.2"/><circle cx="1292.5" cy="416.8" r="3.2"/><circle cx="1269.1" cy="382.6" r="3.2"/><circle cx="1227.6" cy="383.4" r="3.2"/><circle cx="1289.8" cy="386.2" r="3.2"/><circle cx="1226.9" cy="366.7" r="3.2"/><circle cx="1221.9" cy="445.8" r="3.2"/><circle cx="1306.0" cy="395.0" r="3.2"/><circle cx="1276.9" cy="431.4" r="3.2"/><circle cx="1254.6" cy="386.4" r="3.2"/><circle cx="1275.5" cy="412.3" r="3.2"/><circle cx="1280.5" cy="393.5" r="3.2"/><circle cx="1192.5" cy="348.0" r="3.2"/><circle cx="1242.3" cy="421.7" r="3.2"/><circle cx="1199.7" cy="373.5" r="3.2"/><circle cx="1250.8" cy="390.5" r="3.2"/><circle cx="1219.6" cy="420.4" r="3.2"/><circle cx="1299.3" cy="386.7" r="3.2"/><circle cx="1266.3" cy="391.7" r="3.2"/><circle cx="1214.1" cy="391.0" r="3.2"/><circle cx="1245.2" cy="402.3" r="3.2"/><circle cx="1198.4" cy="311.8" r="3.2"/><circle cx="1247.5" cy="396.2" r="3.2"/><circle cx="1267.4" cy="429.3" r="3.2"/><circle cx="1256.3" cy="409.1" r="3.2"/><circle cx="1170.1" cy="378.2" r="3.2"/><circle cx="1232.8" cy="392.7" r="3.2"/><circle cx="1265.9" cy="393.9" r="3.2"/><circle cx="1257.9" cy="411.8" r="3.2"/><circle cx="1291.4" cy="387.1" r="3.2"/><circle cx="1195.4" cy="386.3" r="3.2"/><circle cx="1266.5" cy="420.1" r="3.2"/><circle cx="1220.3" cy="398.6" r="3.2"/><circle cx="1253.6" cy="397.4" r="3.2"/><circle cx="1261.8" cy="374.1" r="3.2"/><circle cx="1272.9" cy="384.0" r="3.2"/><circle cx="1223.2" cy="389.6" r="3.2"/><circle cx="1253.1" cy="389.0" r="3.2"/><circle cx="1200.0" cy="373.1" r="3.2"/><circle cx="1190.5" cy="333.8" r="3.2"/><circle cx="1267.7" cy="405.3" r="3.2"/><circle cx="1243.7" cy="377.8" r="3.2"/><circle cx="1182.3" cy="358.7" r="3.2"/><circle cx="1212.5" cy="399.6" r="3.2"/><circle cx="1246.6" cy="384.1" r="3.2"/><circle cx="1307.0" cy="398.3" r="3.2"/><circle cx="1286.9" cy="406.6" r="3.2"/><circle cx="1277.2" cy="383.3" r="3.2"/><circle cx="1175.7" cy="351.0" r="3.2"/><circle cx="1242.0" cy="363.9" r="3.2"/><circle cx="1264.6" cy="395.9" r="3.2"/><circle cx="1261.3" cy="387.4" r="3.2"/><circle cx="1262.2" cy="343.7" r="3.2"/><circle cx="1236.7" cy="408.2" r="3.2"/><circle cx="1314.9" cy="398.9" r="3.2"/><circle cx="1303.8" cy="382.8" r="3.2"/><circle cx="1242.1" cy="383.9" r="3.2"/><circle cx="1207.3" cy="365.8" r="3.2"/><circle cx="1326.5" cy="402.5" r="3.2"/><circle cx="1224.1" cy="367.6" r="3.2"/><circle cx="1292.9" cy="372.3" r="3.2"/><circle cx="1320.9" cy="409.2" r="3.2"/><circle cx="1208.7" cy="375.4" r="3.2"/><circle cx="1257.2" cy="391.5" r="3.2"/><circle cx="1232.2" cy="392.9" r="3.2"/><circle cx="1266.1" cy="392.7" r="3.2"/><circle cx="1258.4" cy="413.6" r="3.2"/><circle cx="1322.3" cy="389.9" r="3.2"/><circle cx="1269.0" cy="358.4" r="3.2"/><circle cx="1245.5" cy="353.0" r="3.2"/><circle cx="1290.1" cy="371.8" r="3.2"/><circle cx="1235.1" cy="405.0" r="3.2"/><circle cx="1231.5" cy="353.6" r="3.2"/><circle cx="1333.8" cy="422.2" r="3.2"/><circle cx="1213.5" cy="381.6" r="3.2"/><circle cx="1226.6" cy="345.9" r="3.2"/><circle cx="1247.5" cy="410.0" r="3.2"/><circle cx="1204.3" cy="361.3" r="3.2"/><circle cx="1162.9" cy="363.4" r="3.2"/><circle cx="1287.3" cy="400.2" r="3.2"/><circle cx="1215.0" cy="398.6" r="3.2"/><circle cx="1224.5" cy="374.4" r="3.2"/><circle cx="1231.2" cy="393.9" r="3.2"/><circle cx="1207.2" cy="357.8" r="3.2"/><circle cx="1203.6" cy="353.4" r="3.2"/><circle cx="1252.1" cy="417.3" r="3.2"/><circle cx="1340.1" cy="419.3" r="3.2"/><circle cx="1274.8" cy="400.8" r="3.2"/><circle cx="1275.2" cy="418.4" r="3.2"/><circle cx="1186.6" cy="397.2" r="3.2"/><circle cx="1244.9" cy="385.8" r="3.2"/><circle cx="1199.3" cy="381.5" r="3.2"/><circle cx="1276.2" cy="428.2" r="3.2"/><circle cx="1236.8" cy="396.7" r="3.2"/><circle cx="1247.3" cy="377.6" r="3.2"/><circle cx="1242.3" cy="411.5" r="3.2"/><circle cx="1222.9" cy="401.4" r="3.2"/><circle cx="1186.0" cy="342.0" r="3.2"/><circle cx="1268.6" cy="366.1" r="3.2"/><circle cx="1191.4" cy="408.5" r="3.2"/><circle cx="1199.4" cy="404.8" r="3.2"/><circle cx="1234.1" cy="377.5" r="3.2"/><circle cx="1218.0" cy="405.7" r="3.2"/><circle cx="1256.1" cy="395.2" r="3.2"/><circle cx="1285.5" cy="405.9" r="3.2"/><circle cx="1255.6" cy="378.6" r="3.2"/><circle cx="1253.5" cy="441.0" r="3.2"/><circle cx="1246.7" cy="432.8" r="3.2"/><circle cx="1279.5" cy="420.3" r="3.2"/><circle cx="1173.2" cy="350.8" r="3.2"/><circle cx="1260.2" cy="394.2" r="3.2"/><circle cx="1209.1" cy="414.2" r="3.2"/><circle cx="1197.3" cy="366.8" r="3.2"/><circle cx="1246.0" cy="373.4" r="3.2"/><circle cx="1230.6" cy="389.3" r="3.2"/><circle cx="1268.7" cy="399.7" r="3.2"/><circle cx="1289.1" cy="388.6" r="3.2"/><circle cx="1154.4" cy="342.6" r="3.2"/><circle cx="1243.0" cy="384.0" r="3.2"/><circle cx="1322.8" cy="394.3" r="3.2"/><circle cx="1279.9" cy="396.5" r="3.2"/><circle cx="1302.7" cy="408.4" r="3.2"/><circle cx="1249.8" cy="407.3" r="3.2"/><circle cx="1189.4" cy="369.8" r="3.2"/><circle cx="1201.6" cy="383.9" r="3.2"/><circle cx="1273.8" cy="399.0" r="3.2"/><circle cx="1283.5" cy="377.4" r="3.2"/><circle cx="1217.0" cy="371.4" r="3.2"/><circle cx="1235.3" cy="367.7" r="3.2"/><circle cx="1256.1" cy="422.1" r="3.2"/><circle cx="1177.0" cy="360.9" r="3.2"/><circle cx="1232.0" cy="396.7" r="3.2"/><circle cx="1309.4" cy="418.6" r="3.2"/><circle cx="1331.7" cy="424.5" r="3.2"/><circle cx="1241.5" cy="362.2" r="3.2"/><circle cx="1317.8" cy="387.2" r="3.2"/><circle cx="1225.2" cy="397.7" r="3.2"/><circle cx="1214.0" cy="403.7" r="3.2"/><circle cx="1157.8" cy="367.7" r="3.2"/><circle cx="1283.4" cy="405.6" r="3.2"/><circle cx="1231.1" cy="350.7" r="3.2"/><circle cx="1337.8" cy="438.3" r="3.2"/><circle cx="1258.8" cy="427.9" r="3.2"/><circle cx="1253.2" cy="394.7" r="3.2"/><circle cx="1174.8" cy="371.5" r="3.2"/><circle cx="1304.8" cy="398.4" r="3.2"/><circle cx="1231.6" cy="369.2" r="3.2"/><circle cx="1239.5" cy="344.2" r="3.2"/><circle cx="1159.1" cy="375.2" r="3.2"/><circle cx="1282.3" cy="407.1" r="3.2"/><circle cx="1284.7" cy="432.3" r="3.2"/><circle cx="1222.0" cy="377.5" r="3.2"/><circle cx="1249.5" cy="371.3" r="3.2"/><circle cx="1261.3" cy="396.6" r="3.2"/><circle cx="1283.7" cy="372.3" r="3.2"/><circle cx="1250.0" cy="388.1" r="3.2"/><circle cx="1313.6" cy="372.3" r="3.2"/><circle cx="1236.4" cy="378.9" r="3.2"/><circle cx="1222.1" cy="403.9" r="3.2"/><circle cx="1227.5" cy="396.6" r="3.2"/><circle cx="1146.1" cy="396.5" r="3.2"/><circle cx="1214.2" cy="416.0" r="3.2"/><circle cx="1285.5" cy="391.3" r="3.2"/><circle cx="1256.3" cy="372.5" r="3.2"/><circle cx="1213.7" cy="340.8" r="3.2"/><circle cx="1259.7" cy="392.0" r="3.2"/><circle cx="1166.6" cy="374.7" r="3.2"/><circle cx="1234.8" cy="407.8" r="3.2"/><circle cx="1266.6" cy="372.4" r="3.2"/><circle cx="1273.4" cy="386.1" r="3.2"/><circle cx="1215.5" cy="393.1" r="3.2"/><circle cx="1281.9" cy="381.9" r="3.2"/><circle cx="1319.5" cy="393.0" r="3.2"/><circle cx="1229.2" cy="422.1" r="3.2"/><circle cx="1275.1" cy="379.3" r="3.2"/><circle cx="1184.8" cy="371.2" r="3.2"/><circle cx="1168.9" cy="378.4" r="3.2"/><circle cx="1270.1" cy="401.7" r="3.2"/><circle cx="1247.7" cy="352.7" r="3.2"/><circle cx="1253.9" cy="358.4" r="3.2"/><circle cx="1223.1" cy="345.5" r="3.2"/><circle cx="1234.5" cy="408.6" r="3.2"/><circle cx="1277.9" cy="408.3" r="3.2"/><circle cx="1313.6" cy="384.7" r="3.2"/><circle cx="1237.5" cy="410.5" r="3.2"/><circle cx="1181.2" cy="387.8" r="3.2"/><circle cx="1296.2" cy="435.8" r="3.2"/><circle cx="1269.8" cy="355.5" r="3.2"/><circle cx="1272.9" cy="372.3" r="3.2"/><circle cx="1253.2" cy="380.1" r="3.2"/><circle cx="1337.4" cy="404.0" r="3.2"/><circle cx="1249.1" cy="397.0" r="3.2"/><circle cx="1266.3" cy="400.5" r="3.2"/><circle cx="1173.2" cy="358.9" r="3.2"/><circle cx="1223.3" cy="397.2" r="3.2"/><circle cx="1219.1" cy="356.8" r="3.2"/><circle cx="1244.9" cy="397.6" r="3.2"/><circle cx="1259.8" cy="408.7" r="3.2"/><circle cx="1216.6" cy="354.8" r="3.2"/><circle cx="1314.2" cy="406.1" r="3.2"/><circle cx="1204.2" cy="367.1" r="3.2"/><circle cx="1228.4" cy="392.3" r="3.2"/><circle cx="1255.5" cy="435.7" r="3.2"/><circle cx="1196.9" cy="365.6" r="3.2"/><circle cx="1268.6" cy="420.3" r="3.2"/><circle cx="1271.0" cy="371.5" r="3.2"/><circle cx="1234.6" cy="416.8" r="3.2"/><circle cx="1321.2" cy="442.7" r="3.2"/><circle cx="1249.3" cy="382.3" r="3.2"/><circle cx="1257.2" cy="381.7" r="3.2"/><circle cx="1208.3" cy="377.2" r="3.2"/><circle cx="1180.2" cy="397.7" r="3.2"/><circle cx="1221.3" cy="364.2" r="3.2"/><circle cx="1233.5" cy="414.8" r="3.2"/><circle cx="1228.2" cy="393.2" r="3.2"/><circle cx="1276.3" cy="410.7" r="3.2"/><circle cx="1152.2" cy="374.4" r="3.2"/><circle cx="1201.5" cy="360.4" r="3.2"/><circle cx="1174.3" cy="384.5" r="3.2"/><circle cx="1298.9" cy="388.3" r="3.2"/><circle cx="1223.9" cy="368.7" r="3.2"/><circle cx="1225.9" cy="418.1" r="3.2"/><circle cx="1202.8" cy="401.8" r="3.2"/><circle cx="1281.5" cy="403.6" r="3.2"/><circle cx="1229.9" cy="396.2" r="3.2"/><circle cx="1254.9" cy="383.6" r="3.2"/><circle cx="1166.1" cy="409.1" r="3.2"/><circle cx="1292.2" cy="383.6" r="3.2"/><circle cx="1261.7" cy="376.2" r="3.2"/><circle cx="1267.8" cy="396.2" r="3.2"/><circle cx="1294.8" cy="427.0" r="3.2"/><circle cx="1238.5" cy="386.0" r="3.2"/><circle cx="1239.6" cy="397.3" r="3.2"/><circle cx="1274.4" cy="382.7" r="3.2"/><circle cx="1263.0" cy="393.4" r="3.2"/><circle cx="1236.5" cy="370.9" r="3.2"/><circle cx="1247.9" cy="397.1" r="3.2"/><circle cx="1226.3" cy="354.0" r="3.2"/><circle cx="1274.3" cy="441.1" r="3.2"/><circle cx="1282.9" cy="416.8" r="3.2"/><circle cx="1246.4" cy="377.9" r="3.2"/><circle cx="1320.2" cy="435.3" r="3.2"/><circle cx="1185.6" cy="359.2" r="3.2"/><circle cx="1237.0" cy="410.5" r="3.2"/><circle cx="1313.6" cy="401.2" r="3.2"/><circle cx="1229.6" cy="402.7" r="3.2"/><circle cx="1183.2" cy="382.6" r="3.2"/><circle cx="1301.2" cy="396.7" r="3.2"/><circle cx="1267.7" cy="394.9" r="3.2"/><circle cx="1199.2" cy="385.0" r="3.2"/><circle cx="1276.7" cy="351.0" r="3.2"/><circle cx="1205.9" cy="378.6" r="3.2"/><circle cx="1193.4" cy="395.7" r="3.2"/><circle cx="1240.2" cy="367.7" r="3.2"/><circle cx="1227.3" cy="366.9" r="3.2"/><circle cx="1203.0" cy="353.3" r="3.2"/><circle cx="1231.8" cy="348.3" r="3.2"/><circle cx="1206.7" cy="398.1" r="3.2"/><circle cx="1248.6" cy="366.9" r="3.2"/><circle cx="1245.3" cy="364.5" r="3.2"/><circle cx="1275.6" cy="394.5" r="3.2"/><circle cx="1228.3" cy="378.9" r="3.2"/><circle cx="1193.8" cy="437.1" r="3.2"/><circle cx="1194.3" cy="387.8" r="3.2"/><circle cx="1236.6" cy="349.3" r="3.2"/><circle cx="1306.8" cy="437.9" r="3.2"/><circle cx="1279.7" cy="406.3" r="3.2"/><circle cx="1221.0" cy="376.3" r="3.2"/><circle cx="1283.4" cy="384.6" r="3.2"/><circle cx="1200.6" cy="344.4" r="3.2"/><circle cx="1286.2" cy="432.7" r="3.2"/><circle cx="1231.2" cy="383.6" r="3.2"/><circle cx="1276.6" cy="377.2" r="3.2"/><circle cx="1270.8" cy="420.1" r="3.2"/><circle cx="1235.3" cy="386.2" r="3.2"/><circle cx="1259.2" cy="352.5" r="3.2"/><circle cx="1204.2" cy="351.6" r="3.2"/><circle cx="1243.4" cy="376.3" r="3.2"/><circle cx="1289.0" cy="450.7" r="3.2"/><circle cx="1274.0" cy="386.3" r="3.2"/><circle cx="1249.8" cy="394.9" r="3.2"/><circle cx="1206.4" cy="380.2" r="3.2"/><circle cx="1288.0" cy="334.6" r="3.2"/><circle cx="1181.0" cy="377.5" r="3.2"/><circle cx="1214.6" cy="400.5" r="3.2"/><circle cx="1260.4" cy="386.1" r="3.2"/><circle cx="1198.8" cy="383.6" r="3.2"/><circle cx="1307.0" cy="407.9" r="3.2"/><circle cx="1289.4" cy="399.4" r="3.2"/><circle cx="1223.9" cy="367.1" r="3.2"/><circle cx="1224.4" cy="378.1" r="3.2"/><circle cx="1194.3" cy="400.6" r="3.2"/><circle cx="1191.1" cy="378.1" r="3.2"/><circle cx="1263.8" cy="382.2" r="3.2"/><circle cx="1270.9" cy="403.0" r="3.2"/><circle cx="1260.2" cy="367.7" r="3.2"/><circle cx="1256.8" cy="374.5" r="3.2"/><circle cx="1224.2" cy="403.1" r="3.2"/><circle cx="1260.5" cy="384.6" r="3.2"/><circle cx="1188.3" cy="334.5" r="3.2"/><circle cx="1246.6" cy="356.2" r="3.2"/><circle cx="1304.4" cy="402.2" r="3.2"/><circle cx="1298.5" cy="381.4" r="3.2"/><circle cx="1228.0" cy="397.5" r="3.2"/><circle cx="1233.1" cy="414.4" r="3.2"/><circle cx="1300.7" cy="388.9" r="3.2"/><circle cx="1316.8" cy="398.8" r="3.2"/><circle cx="1187.3" cy="364.1" r="3.2"/><circle cx="1229.5" cy="384.6" r="3.2"/><circle cx="1255.6" cy="383.4" r="3.2"/><circle cx="1294.4" cy="409.2" r="3.2"/><circle cx="1213.3" cy="370.8" r="3.2"/><circle cx="1271.7" cy="376.7" r="3.2"/><circle cx="1234.5" cy="386.4" r="3.2"/><circle cx="1340.1" cy="392.5" r="3.2"/><circle cx="1263.3" cy="427.7" r="3.2"/><circle cx="1241.0" cy="402.7" r="3.2"/><circle cx="1233.1" cy="355.5" r="3.2"/><circle cx="1288.0" cy="361.5" r="3.2"/><circle cx="1273.1" cy="388.9" r="3.2"/><circle cx="1203.6" cy="380.4" r="3.2"/><circle cx="1254.9" cy="415.6" r="3.2"/><circle cx="1193.5" cy="368.6" r="3.2"/><circle cx="1216.5" cy="365.3" r="3.2"/><circle cx="1195.2" cy="406.5" r="3.2"/><circle cx="1194.0" cy="364.7" r="3.2"/><circle cx="1219.2" cy="371.8" r="3.2"/><circle cx="1207.7" cy="370.2" r="3.2"/><circle cx="1267.2" cy="415.5" r="3.2"/><circle cx="1277.8" cy="384.0" r="3.2"/><circle cx="1236.9" cy="416.2" r="3.2"/><circle cx="1202.2" cy="347.7" r="3.2"/><circle cx="1278.1" cy="392.3" r="3.2"/><circle cx="1166.5" cy="393.5" r="3.2"/><circle cx="1170.1" cy="343.4" r="3.2"/><circle cx="1275.1" cy="370.9" r="3.2"/><circle cx="1272.3" cy="407.0" r="3.2"/><circle cx="1284.8" cy="351.8" r="3.2"/><circle cx="1237.8" cy="406.4" r="3.2"/><circle cx="1196.6" cy="370.3" r="3.2"/><circle cx="1226.3" cy="359.3" r="3.2"/><circle cx="1268.7" cy="439.1" r="3.2"/><circle cx="1216.1" cy="360.7" r="3.2"/><circle cx="1218.6" cy="383.0" r="3.2"/><circle cx="1191.3" cy="375.8" r="3.2"/><circle cx="1200.4" cy="399.4" r="3.2"/><circle cx="1279.6" cy="388.7" r="3.2"/><circle cx="1264.3" cy="414.5" r="3.2"/><circle cx="1200.5" cy="397.3" r="3.2"/><circle cx="1203.7" cy="387.4" r="3.2"/><circle cx="1224.2" cy="407.9" r="3.2"/><circle cx="1268.0" cy="360.8" r="3.2"/><circle cx="1200.2" cy="404.5" r="3.2"/><circle cx="1239.7" cy="401.8" r="3.2"/><circle cx="1161.7" cy="375.2" r="3.2"/><circle cx="1196.7" cy="376.6" r="3.2"/><circle cx="1263.0" cy="375.5" r="3.2"/><circle cx="1281.8" cy="379.3" r="3.2"/><circle cx="1200.7" cy="383.8" r="3.2"/><circle cx="1215.8" cy="388.8" r="3.2"/><circle cx="1277.9" cy="394.3" r="3.2"/><circle cx="1231.0" cy="367.7" r="3.2"/><circle cx="1225.0" cy="368.9" r="3.2"/><circle cx="1266.9" cy="403.0" r="3.2"/><circle cx="1254.1" cy="431.5" r="3.2"/><circle cx="1290.3" cy="354.2" r="3.2"/><circle cx="1277.7" cy="375.6" r="3.2"/><circle cx="1223.6" cy="377.4" r="3.2"/><circle cx="1241.7" cy="379.9" r="3.2"/><circle cx="1244.0" cy="398.0" r="3.2"/><circle cx="1192.9" cy="396.2" r="3.2"/><circle cx="1208.0" cy="386.0" r="3.2"/><circle cx="1284.8" cy="401.1" r="3.2"/><circle cx="1183.8" cy="386.5" r="3.2"/><circle cx="1285.7" cy="426.4" r="3.2"/><circle cx="1257.7" cy="396.8" r="3.2"/><circle cx="1240.9" cy="375.0" r="3.2"/><circle cx="1267.7" cy="402.8" r="3.2"/><circle cx="1265.2" cy="391.7" r="3.2"/><circle cx="1294.1" cy="440.8" r="3.2"/><circle cx="1230.6" cy="388.6" r="3.2"/><circle cx="1237.4" cy="388.4" r="3.2"/><circle cx="1236.7" cy="410.7" r="3.2"/><circle cx="1320.7" cy="439.9" r="3.2"/><circle cx="1283.8" cy="388.0" r="3.2"/><circle cx="1210.0" cy="396.2" r="3.2"/><circle cx="1233.3" cy="375.0" r="3.2"/><circle cx="1218.6" cy="390.2" r="3.2"/><circle cx="1247.0" cy="375.4" r="3.2"/><circle cx="1254.9" cy="396.7" r="3.2"/><circle cx="1337.0" cy="439.0" r="3.2"/><circle cx="1174.5" cy="373.5" r="3.2"/><circle cx="1287.1" cy="403.8" r="3.2"/><circle cx="1263.7" cy="378.5" r="3.2"/><circle cx="1218.8" cy="390.9" r="3.2"/><circle cx="1240.6" cy="394.6" r="3.2"/><circle cx="1227.0" cy="366.1" r="3.2"/><circle cx="1248.5" cy="364.7" r="3.2"/><circle cx="1286.3" cy="381.5" r="3.2"/><circle cx="1186.7" cy="353.3" r="3.2"/><circle cx="1298.4" cy="390.4" r="3.2"/><circle cx="1231.9" cy="369.0" r="3.2"/><circle cx="1305.9" cy="383.5" r="3.2"/><circle cx="1262.9" cy="383.4" r="3.2"/><circle cx="1295.3" cy="397.7" r="3.2"/><circle cx="1269.0" cy="390.1" r="3.2"/><circle cx="1289.4" cy="348.7" r="3.2"/><circle cx="1248.9" cy="388.2" r="3.2"/><circle cx="1213.9" cy="385.4" r="3.2"/><circle cx="1273.2" cy="401.4" r="3.2"/><circle cx="1274.7" cy="395.0" r="3.2"/><circle cx="1329.4" cy="401.7" r="3.2"/><circle cx="1167.7" cy="393.2" r="3.2"/><circle cx="1238.9" cy="426.5" r="3.2"/><circle cx="1288.6" cy="391.4" r="3.2"/><circle cx="1197.3" cy="409.5" r="3.2"/><circle cx="1237.8" cy="380.7" r="3.2"/><circle cx="1330.2" cy="404.0" r="3.2"/><circle cx="1302.6" cy="377.2" r="3.2"/><circle cx="1212.1" cy="346.2" r="3.2"/><circle cx="1303.0" cy="393.2" r="3.2"/><circle cx="1293.5" cy="409.8" r="3.2"/><circle cx="1277.5" cy="418.8" r="3.2"/><circle cx="1261.9" cy="407.5" r="3.2"/><circle cx="1256.2" cy="389.3" r="3.2"/><circle cx="1212.6" cy="422.4" r="3.2"/><circle cx="1226.5" cy="381.9" r="3.2"/><circle cx="1275.8" cy="394.8" r="3.2"/><circle cx="1252.4" cy="376.2" r="3.2"/><circle cx="1319.8" cy="411.3" r="3.2"/><circle cx="1233.8" cy="383.0" r="3.2"/><circle cx="1152.4" cy="381.7" r="3.2"/><circle cx="1233.8" cy="394.5" r="3.2"/><circle cx="1257.9" cy="426.6" r="3.2"/><circle cx="1262.0" cy="388.9" r="3.2"/><circle cx="1249.6" cy="357.2" r="3.2"/><circle cx="1214.6" cy="377.4" r="3.2"/><circle cx="1305.8" cy="393.9" r="3.2"/><circle cx="1220.8" cy="402.1" r="3.2"/><circle cx="1275.0" cy="365.3" r="3.2"/><circle cx="1235.7" cy="401.1" r="3.2"/><circle cx="1199.9" cy="361.1" r="3.2"/><circle cx="1302.7" cy="398.4" r="3.2"/><circle cx="1148.3" cy="385.3" r="3.2"/><circle cx="1213.5" cy="359.6" r="3.2"/><circle cx="1264.1" cy="391.6" r="3.2"/><circle cx="1233.1" cy="381.3" r="3.2"/><circle cx="1276.6" cy="385.5" r="3.2"/><circle cx="1243.2" cy="387.6" r="3.2"/><circle cx="1229.3" cy="391.8" r="3.2"/><circle cx="1332.2" cy="397.8" r="3.2"/><circle cx="1238.5" cy="394.4" r="3.2"/><circle cx="1241.0" cy="385.4" r="3.2"/><circle cx="1204.6" cy="392.1" r="3.2"/><circle cx="1217.8" cy="411.8" r="3.2"/><circle cx="1272.8" cy="407.6" r="3.2"/><circle cx="1269.4" cy="403.2" r="3.2"/><circle cx="1247.3" cy="387.8" r="3.2"/><circle cx="1219.7" cy="357.8" r="3.2"/><circle cx="1274.3" cy="428.6" r="3.2"/><circle cx="1180.3" cy="370.4" r="3.2"/><circle cx="1233.9" cy="430.1" r="3.2"/><circle cx="1237.4" cy="407.2" r="3.2"/><circle cx="1214.1" cy="390.9" r="3.2"/><circle cx="1253.4" cy="435.3" r="3.2"/><circle cx="1221.1" cy="420.0" r="3.2"/><circle cx="1215.8" cy="377.9" r="3.2"/><circle cx="1318.3" cy="402.6" r="3.2"/><circle cx="1276.6" cy="397.0" r="3.2"/><circle cx="1294.7" cy="415.1" r="3.2"/><circle cx="1249.5" cy="344.8" r="3.2"/><circle cx="1285.5" cy="400.0" r="3.2"/><circle cx="1278.3" cy="412.6" r="3.2"/><circle cx="1295.3" cy="364.8" r="3.2"/><circle cx="1340.7" cy="396.7" r="3.2"/><circle cx="1238.7" cy="393.7" r="3.2"/><circle cx="1257.8" cy="366.2" r="3.2"/><circle cx="1245.7" cy="384.6" r="3.2"/><circle cx="1192.8" cy="371.1" r="3.2"/><circle cx="1248.5" cy="409.3" r="3.2"/><circle cx="1272.7" cy="374.1" r="3.2"/><circle cx="1225.1" cy="379.9" r="3.2"/><circle cx="1292.5" cy="418.8" r="3.2"/><circle cx="1298.3" cy="415.1" r="3.2"/><circle cx="1231.6" cy="365.1" r="3.2"/><circle cx="1303.9" cy="408.4" r="3.2"/><circle cx="1316.8" cy="402.8" r="3.2"/><circle cx="1266.2" cy="379.1" r="3.2"/><circle cx="1209.3" cy="376.9" r="3.2"/><circle cx="1305.7" cy="432.3" r="3.2"/><circle cx="1241.5" cy="373.9" r="3.2"/><circle cx="1233.1" cy="365.8" r="3.2"/><circle cx="1252.6" cy="371.7" r="3.2"/><circle cx="1226.9" cy="350.6" r="3.2"/><circle cx="1290.2" cy="390.4" r="3.2"/><circle cx="1278.6" cy="379.4" r="3.2"/><circle cx="1296.0" cy="366.8" r="3.2"/><circle cx="1270.9" cy="399.4" r="3.2"/><circle cx="1216.9" cy="345.9" r="3.2"/><circle cx="1241.8" cy="351.6" r="3.2"/><circle cx="1282.5" cy="380.1" r="3.2"/><circle cx="1232.1" cy="347.3" r="3.2"/><circle cx="1362.9" cy="396.9" r="3.2"/><circle cx="1238.6" cy="404.1" r="3.2"/><circle cx="1225.1" cy="360.0" r="3.2"/><circle cx="1293.3" cy="391.9" r="3.2"/><circle cx="1277.5" cy="386.5" r="3.2"/><circle cx="1247.0" cy="384.9" r="3.2"/><circle cx="1239.1" cy="358.6" r="3.2"/><circle cx="1264.9" cy="380.9" r="3.2"/><circle cx="1281.0" cy="409.9" r="3.2"/><circle cx="1278.1" cy="385.2" r="3.2"/><circle cx="1236.3" cy="370.8" r="3.2"/><circle cx="1265.1" cy="406.9" r="3.2"/><circle cx="1281.3" cy="404.6" r="3.2"/><circle cx="1278.2" cy="402.9" r="3.2"/><circle cx="1213.1" cy="373.3" r="3.2"/><circle cx="1217.6" cy="360.7" r="3.2"/><circle cx="1239.1" cy="347.8" r="3.2"/><circle cx="1255.2" cy="365.6" r="3.2"/><circle cx="1284.3" cy="375.7" r="3.2"/><circle cx="1272.4" cy="370.5" r="3.2"/><circle cx="1243.1" cy="360.0" r="3.2"/><circle cx="1249.0" cy="396.2" r="3.2"/><circle cx="1317.3" cy="389.8" r="3.2"/><circle cx="1224.0" cy="376.3" r="3.2"/><circle cx="1260.1" cy="393.6" r="3.2"/><circle cx="1309.7" cy="411.4" r="3.2"/><circle cx="1261.7" cy="401.6" r="3.2"/><circle cx="1167.8" cy="375.6" r="3.2"/><circle cx="1262.9" cy="416.7" r="3.2"/><circle cx="1232.9" cy="374.3" r="3.2"/><circle cx="1243.7" cy="387.7" r="3.2"/><circle cx="1289.4" cy="395.5" r="3.2"/><circle cx="1266.6" cy="385.6" r="3.2"/><circle cx="1237.7" cy="371.2" r="3.2"/><circle cx="1283.2" cy="408.2" r="3.2"/><circle cx="1265.2" cy="394.3" r="3.2"/><circle cx="1252.3" cy="421.9" r="3.2"/><circle cx="1260.0" cy="436.1" r="3.2"/><circle cx="1258.1" cy="430.0" r="3.2"/><circle cx="1234.8" cy="354.0" r="3.2"/><circle cx="1230.1" cy="421.4" r="3.2"/><circle cx="1249.1" cy="378.9" r="3.2"/><circle cx="1210.6" cy="349.8" r="3.2"/><circle cx="1198.6" cy="386.4" r="3.2"/><circle cx="1299.3" cy="366.7" r="3.2"/><circle cx="1238.7" cy="348.6" r="3.2"/><circle cx="1247.2" cy="368.9" r="3.2"/><circle cx="1242.8" cy="338.9" r="3.2"/><circle cx="1249.0" cy="375.8" r="3.2"/><circle cx="1249.0" cy="403.3" r="3.2"/><circle cx="1250.7" cy="378.2" r="3.2"/><circle cx="1216.5" cy="390.1" r="3.2"/><circle cx="1284.8" cy="423.0" r="3.2"/><circle cx="1220.9" cy="408.0" r="3.2"/><circle cx="1288.8" cy="350.4" r="3.2"/><circle cx="1172.7" cy="382.2" r="3.2"/><circle cx="1206.4" cy="379.3" r="3.2"/><circle cx="1287.1" cy="410.5" r="3.2"/><circle cx="1242.3" cy="384.0" r="3.2"/><circle cx="1221.7" cy="387.0" r="3.2"/><circle cx="1262.9" cy="399.8" r="3.2"/><circle cx="1207.0" cy="403.5" r="3.2"/><circle cx="1251.1" cy="417.5" r="3.2"/><circle cx="1161.0" cy="383.6" r="3.2"/><circle cx="1230.3" cy="378.1" r="3.2"/><circle cx="1222.6" cy="340.1" r="3.2"/><circle cx="1269.3" cy="371.4" r="3.2"/><circle cx="1282.5" cy="358.7" r="3.2"/><circle cx="1214.5" cy="370.6" r="3.2"/><circle cx="1311.4" cy="404.0" r="3.2"/><circle cx="1224.8" cy="409.7" r="3.2"/><circle cx="1167.3" cy="369.7" r="3.2"/><circle cx="1154.6" cy="410.5" r="3.2"/><circle cx="1308.6" cy="407.7" r="3.2"/><circle cx="1244.7" cy="354.1" r="3.2"/><circle cx="1222.7" cy="375.5" r="3.2"/><circle cx="1218.7" cy="358.4" r="3.2"/><circle cx="1226.1" cy="292.2" r="3.2"/><circle cx="1176.4" cy="334.5" r="3.2"/><circle cx="1188.9" cy="295.1" r="3.2"/><circle cx="1248.0" cy="310.6" r="3.2"/><circle cx="1279.5" cy="292.7" r="3.2"/><circle cx="1278.7" cy="290.3" r="3.2"/><circle cx="1271.2" cy="319.6" r="3.2"/><circle cx="1271.5" cy="290.6" r="3.2"/><circle cx="1158.9" cy="333.5" r="3.2"/><circle cx="1194.3" cy="318.7" r="3.2"/><circle cx="1214.4" cy="318.7" r="3.2"/><circle cx="1200.8" cy="329.9" r="3.2"/><circle cx="1223.1" cy="316.4" r="3.2"/><circle cx="1225.0" cy="301.2" r="3.2"/><circle cx="1214.9" cy="337.6" r="3.2"/><circle cx="1159.2" cy="316.6" r="3.2"/><circle cx="1303.9" cy="314.0" r="3.2"/><circle cx="1319.4" cy="332.6" r="3.2"/><circle cx="1261.7" cy="307.5" r="3.2"/><circle cx="1203.6" cy="329.4" r="3.2"/><circle cx="1233.7" cy="311.5" r="3.2"/><circle cx="1311.9" cy="311.4" r="3.2"/><circle cx="1259.0" cy="301.5" r="3.2"/><circle cx="1275.4" cy="291.0" r="3.2"/><circle cx="1275.9" cy="291.4" r="3.2"/><circle cx="1323.5" cy="315.4" r="3.2"/><circle cx="1268.3" cy="328.9" r="3.2"/><circle cx="1175.7" cy="330.0" r="3.2"/><circle cx="1243.0" cy="299.3" r="3.2"/><circle cx="1313.6" cy="300.8" r="3.2"/><circle cx="1179.3" cy="298.9" r="3.2"/><circle cx="1166.1" cy="296.7" r="3.2"/><circle cx="1165.9" cy="311.8" r="3.2"/><circle cx="1169.2" cy="293.1" r="3.2"/><circle cx="1185.1" cy="306.6" r="3.2"/><circle cx="1288.0" cy="308.1" r="3.2"/><circle cx="1258.9" cy="296.5" r="3.2"/><circle cx="1281.3" cy="306.9" r="3.2"/><circle cx="1251.6" cy="300.4" r="3.2"/><circle cx="1217.3" cy="291.2" r="3.2"/><circle cx="1290.6" cy="321.4" r="3.2"/><circle cx="1186.2" cy="301.3" r="3.2"/><circle cx="1218.3" cy="326.9" r="3.2"/><circle cx="1227.7" cy="316.3" r="3.2"/><circle cx="1272.6" cy="294.4" r="3.2"/><circle cx="1286.3" cy="288.8" r="3.2"/><circle cx="1253.4" cy="290.2" r="3.2"/><circle cx="1260.4" cy="301.0" r="3.2"/><circle cx="1205.0" cy="295.8" r="3.2"/><circle cx="1257.9" cy="293.8" r="3.2"/><circle cx="1300.2" cy="309.3" r="3.2"/><circle cx="1231.8" cy="330.0" r="3.2"/><circle cx="1284.7" cy="342.7" r="3.2"/><circle cx="1243.4" cy="300.8" r="3.2"/><circle cx="1244.2" cy="300.8" r="3.2"/><circle cx="1260.4" cy="302.5" r="3.2"/><circle cx="1181.1" cy="311.0" r="3.2"/><circle cx="1193.9" cy="306.6" r="3.2"/><circle cx="1187.1" cy="303.2" r="3.2"/><circle cx="1248.0" cy="313.7" r="3.2"/><circle cx="1270.7" cy="306.5" r="3.2"/><circle cx="1277.2" cy="331.0" r="3.2"/><circle cx="1192.7" cy="313.6" r="3.2"/><circle cx="1213.9" cy="308.2" r="3.2"/><circle cx="1182.1" cy="311.6" r="3.2"/><circle cx="1268.1" cy="329.2" r="3.2"/><circle cx="1228.6" cy="336.5" r="3.2"/><circle cx="1203.6" cy="306.8" r="3.2"/><circle cx="1195.5" cy="337.3" r="3.2"/><circle cx="1318.1" cy="298.9" r="3.2"/><circle cx="1239.0" cy="333.4" r="3.2"/><circle cx="1325.2" cy="300.1" r="3.2"/><circle cx="1211.8" cy="323.6" r="3.2"/><circle cx="1193.9" cy="292.8" r="3.2"/><circle cx="1278.6" cy="331.0" r="3.2"/><circle cx="1229.9" cy="441.2" r="3.2"/><circle cx="1214.6" cy="449.4" r="3.2"/><circle cx="1268.4" cy="435.5" r="3.2"/><circle cx="1195.2" cy="448.0" r="3.2"/><circle cx="1172.6" cy="468.6" r="3.2"/><circle cx="1237.0" cy="468.6" r="3.2"/><circle cx="1228.1" cy="453.0" r="3.2"/><circle cx="1243.1" cy="504.4" r="3.2"/><circle cx="1233.2" cy="464.1" r="3.2"/><circle cx="1265.3" cy="447.5" r="3.2"/><circle cx="1231.5" cy="450.2" r="3.2"/><circle cx="1236.6" cy="454.5" r="3.2"/><circle cx="1276.1" cy="453.9" r="3.2"/><circle cx="1288.0" cy="477.2" r="3.2"/><circle cx="1286.0" cy="509.2" r="3.2"/><circle cx="1278.5" cy="493.7" r="3.2"/><circle cx="1133.6" cy="441.2" r="3.2"/><circle cx="1216.9" cy="491.0" r="3.2"/><circle cx="1241.8" cy="490.0" r="3.2"/><circle cx="1260.7" cy="477.8" r="3.2"/><circle cx="1304.9" cy="469.7" r="3.2"/><circle cx="1264.3" cy="441.5" r="3.2"/><circle cx="1230.7" cy="476.4" r="3.2"/><circle cx="1259.2" cy="438.6" r="3.2"/><circle cx="1240.7" cy="485.7" r="3.2"/><circle cx="1225.7" cy="435.0" r="3.2"/><circle cx="1271.7" cy="480.7" r="3.2"/><circle cx="1236.9" cy="444.2" r="3.2"/><circle cx="1202.1" cy="441.7" r="3.2"/><circle cx="1230.3" cy="500.1" r="3.2"/><circle cx="1249.2" cy="468.2" r="3.2"/><circle cx="1214.2" cy="475.8" r="3.2"/><circle cx="1299.1" cy="443.3" r="3.2"/><circle cx="1213.8" cy="444.2" r="3.2"/><circle cx="1317.1" cy="436.5" r="3.2"/><circle cx="1285.8" cy="440.5" r="3.2"/><circle cx="1219.2" cy="433.0" r="3.2"/><circle cx="1258.1" cy="463.6" r="3.2"/><circle cx="1296.3" cy="454.6" r="3.2"/><circle cx="1246.5" cy="453.6" r="3.2"/><circle cx="1210.1" cy="435.4" r="3.2"/><circle cx="1257.5" cy="479.7" r="3.2"/><circle cx="1325.7" cy="460.5" r="3.2"/><circle cx="1199.4" cy="460.0" r="3.2"/><circle cx="1273.6" cy="433.3" r="3.2"/><circle cx="1253.8" cy="442.3" r="3.2"/><circle cx="1249.2" cy="438.6" r="3.2"/><circle cx="1239.4" cy="458.5" r="3.2"/><circle cx="1241.9" cy="435.5" r="3.2"/><circle cx="1291.2" cy="488.6" r="3.2"/><circle cx="1217.4" cy="433.5" r="3.2"/><circle cx="1310.2" cy="500.6" r="3.2"/><circle cx="1206.5" cy="471.0" r="3.2"/><circle cx="1277.7" cy="481.9" r="3.2"/><circle cx="1260.3" cy="460.9" r="3.2"/><circle cx="1297.1" cy="482.2" r="3.2"/><circle cx="1266.6" cy="446.0" r="3.2"/><circle cx="1292.0" cy="452.0" r="3.2"/><circle cx="1252.8" cy="483.4" r="3.2"/><circle cx="1289.0" cy="497.7" r="3.2"/><circle cx="1266.2" cy="453.6" r="3.2"/><circle cx="1331.7" cy="450.4" r="3.2"/><circle cx="1228.5" cy="466.6" r="3.2"/><circle cx="1297.1" cy="510.9" r="3.2"/><circle cx="1270.6" cy="445.4" r="3.2"/><circle cx="1260.1" cy="445.8" r="3.2"/><circle cx="1233.2" cy="437.1" r="3.2"/><circle cx="1270.0" cy="438.3" r="3.2"/><circle cx="1200.3" cy="446.7" r="3.2"/><circle cx="1204.1" cy="469.6" r="3.2"/><circle cx="1279.6" cy="517.5" r="3.2"/><circle cx="1197.4" cy="510.3" r="3.2"/><circle cx="1305.9" cy="444.3" r="3.2"/><circle cx="1243.9" cy="452.2" r="3.2"/><circle cx="1262.9" cy="439.9" r="3.2"/><circle cx="1256.6" cy="472.6" r="3.2"/><circle cx="1269.1" cy="440.4" r="3.2"/><circle cx="1243.7" cy="451.7" r="3.2"/><circle cx="1240.5" cy="477.5" r="3.2"/><circle cx="1249.3" cy="434.4" r="3.2"/><circle cx="1291.9" cy="449.6" r="3.2"/><circle cx="1295.0" cy="455.7" r="3.2"/><circle cx="1300.1" cy="461.9" r="3.2"/><circle cx="1267.1" cy="477.1" r="3.2"/><circle cx="1246.6" cy="451.6" r="3.2"/><circle cx="1192.9" cy="458.4" r="3.2"/><circle cx="1277.2" cy="451.0" r="3.2"/><circle cx="1284.4" cy="435.9" r="3.2"/><circle cx="1239.3" cy="443.1" r="3.2"/><circle cx="1283.2" cy="474.0" r="3.2"/><circle cx="1300.7" cy="465.4" r="3.2"/><circle cx="1257.3" cy="468.9" r="3.2"/><circle cx="1292.3" cy="440.1" r="3.2"/><circle cx="1265.1" cy="464.1" r="3.2"/><circle cx="1191.0" cy="478.0" r="3.2"/><circle cx="1236.8" cy="454.1" r="3.2"/><circle cx="1239.0" cy="436.3" r="3.2"/><circle cx="1273.1" cy="500.9" r="3.2"/><circle cx="1222.6" cy="526.1" r="3.2"/><circle cx="1238.0" cy="469.5" r="3.2"/><circle cx="1219.0" cy="461.1" r="3.2"/><circle cx="1252.5" cy="498.3" r="3.2"/><circle cx="1256.5" cy="507.8" r="3.2"/><circle cx="1289.3" cy="454.9" r="3.2"/><circle cx="1282.9" cy="467.0" r="3.2"/><circle cx="1259.9" cy="503.8" r="3.2"/><circle cx="1262.7" cy="529.7" r="3.2"/><circle cx="1257.9" cy="439.6" r="3.2"/><circle cx="1258.0" cy="446.8" r="3.2"/><circle cx="1310.1" cy="460.7" r="3.2"/><circle cx="1163.7" cy="465.4" r="3.2"/><circle cx="1247.6" cy="498.7" r="3.2"/><circle cx="1265.3" cy="498.1" r="3.2"/><circle cx="1294.9" cy="488.4" r="3.2"/><circle cx="1214.2" cy="439.5" r="3.2"/><circle cx="1266.5" cy="465.8" r="3.2"/><circle cx="1285.2" cy="491.1" r="3.2"/><circle cx="1237.8" cy="500.9" r="3.2"/><circle cx="1184.7" cy="464.5" r="3.2"/><circle cx="1240.9" cy="441.9" r="3.2"/><circle cx="1210.4" cy="455.4" r="3.2"/><circle cx="1277.6" cy="473.8" r="3.2"/><circle cx="1223.1" cy="446.2" r="3.2"/><circle cx="1318.6" cy="524.0" r="3.2"/><circle cx="1259.1" cy="454.0" r="3.2"/><circle cx="1224.7" cy="439.0" r="3.2"/><circle cx="1235.6" cy="467.5" r="3.2"/><circle cx="1214.3" cy="447.4" r="3.2"/><circle cx="1268.1" cy="446.5" r="3.2"/><circle cx="1308.1" cy="453.7" r="3.2"/><circle cx="1246.1" cy="461.3" r="3.2"/><circle cx="1287.5" cy="481.6" r="3.2"/><circle cx="1219.7" cy="457.6" r="3.2"/><circle cx="1265.1" cy="499.2" r="3.2"/><circle cx="1337.5" cy="447.3" r="3.2"/><circle cx="1202.9" cy="501.1" r="3.2"/><circle cx="1298.7" cy="517.7" r="3.2"/><circle cx="1296.5" cy="502.4" r="3.2"/><circle cx="1185.7" cy="477.5" r="3.2"/><circle cx="1201.9" cy="443.5" r="3.2"/><circle cx="1218.5" cy="459.2" r="3.2"/><circle cx="1289.1" cy="482.4" r="3.2"/><circle cx="1238.4" cy="438.7" r="3.2"/><circle cx="1247.9" cy="454.5" r="3.2"/><circle cx="1279.6" cy="464.9" r="3.2"/><circle cx="1258.2" cy="475.7" r="3.2"/><circle cx="1262.1" cy="468.2" r="3.2"/><circle cx="1242.3" cy="435.5" r="3.2"/><circle cx="1294.7" cy="507.2" r="3.2"/><circle cx="1225.7" cy="462.3" r="3.2"/><circle cx="1314.7" cy="451.9" r="3.2"/><circle cx="1241.6" cy="453.7" r="3.2"/><circle cx="1225.0" cy="453.6" r="3.2"/><circle cx="1277.4" cy="463.9" r="3.2"/><circle cx="1270.3" cy="438.0" r="3.2"/><circle cx="1182.0" cy="482.8" r="3.2"/><circle cx="1204.9" cy="454.6" r="3.2"/><circle cx="1223.8" cy="452.0" r="3.2"/><circle cx="1282.4" cy="499.6" r="3.2"/><circle cx="1222.6" cy="489.3" r="3.2"/><circle cx="1266.7" cy="467.5" r="3.2"/><circle cx="1240.0" cy="479.7" r="3.2"/><circle cx="1324.0" cy="461.7" r="3.2"/><circle cx="1250.3" cy="455.8" r="3.2"/><circle cx="1211.1" cy="449.0" r="3.2"/><circle cx="1213.7" cy="450.7" r="3.2"/><circle cx="1220.9" cy="471.4" r="3.2"/><circle cx="1258.4" cy="443.1" r="3.2"/><circle cx="1253.6" cy="476.0" r="3.2"/><circle cx="1288.9" cy="444.3" r="3.2"/><circle cx="1259.7" cy="526.9" r="3.2"/></g>
<line x1="1127.5" y1="292" x2="1127.5" y2="532.8" stroke="#666" stroke-width="1.2"/>
<line x1="1127" y1="532.3" x2="1368.7" y2="532.3" stroke="#666" stroke-width="1.2"/>
<line x1="1127.5" y1="464.4" x2="1130.5" y2="464.4" stroke="#666" stroke-width="1.2"/>
<line x1="1127.5" y1="333.2" x2="1130.5" y2="333.2" stroke="#666" stroke-width="1.2"/>
<line x1="1157.4" y1="532.3" x2="1157.4" y2="529.3" stroke="#666" stroke-width="1.2"/>
<line x1="1308.6" y1="532.3" x2="1308.6" y2="529.3" stroke="#666" stroke-width="1.2"/>
<text x="1079.5" y="344" font-size="33.2">3.5</text>
<text x="1079.1" y="474.6" font-size="33.2">2.5</text>
<text x="1133.6" y="563" font-size="33.2">7.5</text>
<text x="1284.6" y="563" font-size="33.2">8.5</text>
<text x="1059.4" y="595.5" font-size="33.2">Wingbeat Frequency (Hz)</text>
<text x="1070.3" y="549.4" font-size="33" transform="rotate(-90 1070.3 549.4)">Flight Speed (ms<tspan font-size="16.5" dy="-16">-1</tspan><tspan dy="16">)</tspan></text>
<text x="1276.3" y="287.6" font-size="25" font-style="italic">c = -0.21</text>
<text x="1265.6" y="308" font-size="25" font-style="italic">p = 4e-16</text>
<text x="53.3" y="666" font-size="33.2">Straight Flights</text>
<text x="118" y="1012.6" font-size="33.2">Loops</text>
<text x="136.5" y="1305.2" font-size="33.2">1</text>
<text x="162.6" y="1305.2" font-size="33.2">m</text>
<line x1="155.7" y1="1310" x2="174.7" y2="1310" stroke="#000" stroke-width="1.5"/>
<rect x="117.5" y="687.5" width="96.1" height="69.2" fill="none" stroke="#999" stroke-width="0.9" stroke-dasharray="1 2.2"/>
<rect x="117.5" y="776.3" width="96.1" height="69.5" fill="none" stroke="#999" stroke-width="0.9" stroke-dasharray="1 2.2"/>
<rect x="117.5" y="865.4" width="96.1" height="69.1" fill="none" stroke="#999" stroke-width="0.9" stroke-dasharray="1 2.2"/>
<rect x="117" y="1043.2" width="96.6" height="68.8" fill="none" stroke="#999" stroke-width="0.9" stroke-dasharray="1 2.2"/>
<rect x="117" y="1122.8" width="96.6" height="68.7" fill="none" stroke="#999" stroke-width="0.9" stroke-dasharray="1 2.2"/>
<rect x="117" y="1202.3" width="96.6" height="69.3" fill="none" stroke="#999" stroke-width="0.9" stroke-dasharray="1 2.2"/>
<path d="M138.4 692.8 C150 708, 170 722, 190 735 C196 739, 200 741, 204.4 741.3" stroke="#E0262A" fill="none" stroke-width="1.6"/>
<path d="M129.8 793.3 C145 790, 160 788, 172 788.5 C188 789, 197 793, 205.5 800.6" stroke="#E0262A" fill="none" stroke-width="1.6"/>
<path d="M130.5 882.8 C142 889, 155 892.5, 170 892.8 C185 893, 196 891.5, 205.5 890.2" stroke="#E0262A" fill="none" stroke-width="1.6"/>
<path d="M198.9 1068 C180 1062, 160 1054, 147 1053.7 C136 1054, 130 1062, 135 1069 C142 1077, 165 1078, 185 1076 C195 1075, 200 1072, 201.7 1069.4" stroke="#2222CC" fill="none" stroke-width="1.6"/>
<path d="M204.5 1175.9 C190 1165, 160 1137, 144 1137.6 C132 1138, 128 1150, 136 1160 C146 1173, 170 1177.5, 190 1177 C198 1177, 203 1176.5, 204.5 1175.9" stroke="#2222CC" fill="none" stroke-width="1.6"/>
<path d="M198.9 1228.5 C195 1233, 180 1234, 165 1232.5 C150 1231, 135 1226, 131.5 1219 C130 1213, 140 1212, 148 1215 C165 1222, 180 1240, 204 1255.5" stroke="#2222CC" fill="none" stroke-width="1.6"/>
<path d="M388.8 736.1 L389.3 735.7 L389.9 734.6 L390.6 732.8 L391.4 730.6 L392.2 729.2 L393.1 729.9 L394 732.7 L394.9 736 L395.7 738.5 L396.4 740 L397 740.8 L397.6 741.3 L398.2 741.6 L398.8 741.9 L399.3 742 L399.8 742.2 L400.4 742.3 L400.9 742.3 L401.4 742.4 L402 742.4 L402.6 742.4 L403.1 742.4 L403.7 742.3 L404.3 742.3 L404.9 742.1 L405.5 742 L406.1 741.8 L406.6 741.6 L407.2 741.3 L407.8 741 L408.4 740.6 L408.9 740.1 L409.5 739.6 L410 739 L410.5 738.4 L411.1 737.8 L411.7 737.1 L412.2 736.5 L412.9 735.8 L413.5 735.2 L414.2 734.6 L414.9 733.9 L415.6 733.2 L416.4 732.6 L417.2 731.9 L418 731.1 L418.8 730.2 L419.5 729 L420.3 727.3 L421.1 725.2 L421.9 723.1 L422.6 721.6 L423.4 721.1 L424.2 721.6 L425 722.6 L425.7 723.5 L426.5 723.9 L427.2 723.9 L428 723.4 L428.7 722.7 L429.4 721.6 L430.1 720.1 L430.9 718 L431.6 715.4 L432.3 712.6 L433 710.4 L433.6 709.2 L434.3 709 L434.9 709.3 L435.4 709.8 L435.9 710.1 L436.3 709.9 L436.7 709.4 L437.1 708.7 L437.4 707.8 L437.8 706.8 L438.1 705.8 L438.4 704.8 L438.8 703.8 L439.2 702.9 L439.6 702 L440.1 701.2 L440.5 700.4 L440.9 699.6 L441.4 698.9 L441.8 698.3 L442.3 697.7 L442.8 697.2 L443.3 696.7 L443.9 696.3 L444.5 695.9 L445.1 695.6 L445.8 695.4 L446.4 695.2 L447.1 695.1 L447.8 695 L448.5 695 L449.2 695 L449.9 695.1 L450.6 695.3 L451.3 695.5 L451.9 695.9 L452.6 696.3 L453.3 696.8 L454 697.3 L454.6 697.8 L455.3 698.4 L455.9 699 L456.6 699.6 L457.2 700.1 L457.8 700.6 L458.4 701.1 L459 701.7 L459.5 702.2 L460.1 702.7 L460.7 703.3 L461.2 703.9 L461.8 704.5 L462.3 705.1 L462.9 705.8 L463.5 706.5 L464.1 707.3 L464.7 708.2 L465.3 709 L465.9 709.9 L466.5 710.8 L467.1 711.7 L467.7 712.6 L468.2 713.5 L468.7 714.3 L469.2 715.1 L469.6 715.9 L470 716.7 L470.4 717.4 L470.7 718.2 L471.1 719 L471.4 719.7 L471.8 720.5 L472.1 721.2 L472.5 721.9 L472.9 722.6 L473.3 723.3 L473.6 724 L474 724.6 L474.4 725.3 L474.8 726 L475.2 726.6 L475.5 727.3 L475.9 727.9 L476.3 728.6 L476.7 729.3 L477 729.9 L477.4 730.6 L477.8 731.2 L478.1 731.8 L478.5 732.5 L478.9 733.1 L479.3 733.8 L479.7 734.5 L480.1 735.2 L480.5 735.9 L481 736.6 L481.4 737.4 L481.9 738.1 L482.3 738.9 L482.8 739.6 L483.3 740.4 L483.8 741.2 L484.3 742.1 L484.8 742.9 L485.3 743.8 L485.8 744.7 L486.4 745.6 L486.9 746.5 L487.5 747.4 L488 748.4 L488.6 749.4 L489.2 750.3 L489.8 751.4 L490.5 752.4 L491.2 753.5 L491.9 754.6 L492.7 755.9 L493.5 757.1 L494.3 758.3 L495.1 759.6 L495.9 760.7 L496.7 761.9 L497.4 762.9 L498.1 763.8 L498.7 764.6 L499.3 765.4 L499.9 766 L500.4 766.7 L500.9 767.2 L501.4 767.8 L501.9 768.2 L502.5 768.7 L503.1 769.1 L503.8 769.5 L504.5 769.8 L505.4 770.1 L506.2 770.4 L507.1 770.6 L508 770.8 L508.9 770.9 L509.8 771 L510.7 771.1 L511.6 771.3 L512.4 771.4 L513.2 771.5 L514 771.6 L514.8 771.7 L515.5 771.7 L516.3 771.8 L517 771.8 L517.8 771.9 L518.5 772 L519.2 772.1 L520 772.3 L520.8 772.5 L521.5 772.8 L522.3 773.2 L523 773.5 L523.7 773.9 L524.5 774.3 L525.3 774.6 L526 774.9 L526.8 775.1 L527.6 775.2 L528.4 775.2 L529.3 775.1 L530.1 774.8 L531 774.6 L531.9 774.3 L532.8 774 L533.7 773.7 L534.5 773.5 L535.3 773.3 L536.1 773.3 L536.9 773.4 L537.6 773.5 L538.3 773.7 L539 773.9 L539.7 774.2 L540.4 774.5 L541 774.9 L541.6 775.3 L542.2 775.7 L542.8 776.1 L543.4 776.6 L543.9 777.1 L544.4 777.7 L544.8 778.3 L545.3 778.9 L545.7 779.6 L546.1 780.2 L546.6 780.8 L547 781.3 L547.5 781.8 L548 782.2 L548.4 782.5 L548.9 782.8 L549.4 783 L549.8 783.2 L550.3 783.4 L550.8 783.6 L551.3 783.9 L551.8 784.3 L552.3 784.7 L552.8 785.2 L553.4 785.8 L554 786.4 L554.6 787.1 L555.1 787.8 L555.7 788.5 L556.3 789.3 L556.9 790 L557.5 790.7 L558 791.3 L558.5 791.9 L559 792.5 L559.4 793.1 L559.9 793.7 L560.3 794.3 L560.8 794.8 L561.3 795.4 L561.7 795.9 L562.3 796.5 L562.8 797 L563.4 797.5 L564 798 L564.6 798.5 L565.3 799 L565.9 799.5 L566.6 800 L567.3 800.5 L568 800.9 L568.7 801.4 L569.4 801.8 L570.1 802.3 L570.9 802.8 L571.7 803.3 L572.5 803.8 L573.3 804.3 L574 804.7 L574.8 805.1 L575.6 805.4 L576.3 805.6 L577 805.6 L577.7 805.3 L578.3 804.8 L578.9 803.9 L579.5 802.5 L580 800.7 L580.6 798.6 L581.1 796.3 L581.6 794.2 L582.2 792.6 L582.7 791.8 L583.2 791.8 L583.7 792.6 L584.2 793.8 L584.7 795.1 L585.2 796.3 L585.7 797.2 L586.2 797.8 L586.6 798.1 L587.1 798 L587.5 797.8 L587.9 797.3 L588.3 796.8 L588.7 796.1 L589.1 795.4 L589.5 794.6 L589.8 793.8 L590.2 793 L590.6 792.1 L590.9 791.3 L591.3 790.4 L591.7 789.6 L592 788.7 L592.4 787.8 L592.8 786.8 L593.1 785.8 L593.5 784.7 L593.9 783.6 L594.3 782.4 L594.7 781.1 L595.1 779.7 L595.5 778.1 L596 776.4 L596.4 774.6 L596.9 772.7 L597.4 770.8 L597.9 768.8 L598.4 766.8 L598.8 764.7 L599.3 762.7 L599.8 760.7 L600.3 758.7 L600.8 756.6 L601.3 754.5 L601.8 752.4 L602.3 750.4 L602.7 748.5 L603.2 746.6 L603.7 744.6 L604.2 742.7 L604.6 740.8 L605 738.9 L605.4 737 L605.8 735 L606.2 733.1 L606.6 731.1 L607 729.2 L607.4 727.3 L607.7 725.4 L608.1 723.5 L608.4 721.7 L608.7 719.9 L609 718.2 L609.3 716.4 L609.6 714.7 L609.9 713 L610.1 711.3 L610.4 709.7 L610.6 708 L610.9 706.3 L611.2 704.6 L611.5 702.9 L611.8 701.1 L612.1 699.4 L612.4 697.6 L612.7 695.9 L613 694.1 L613.3 692.4 L613.6 690.7 L613.9 689.1 L614.1 687.5 L614.3 685.9 L614.6 684.2 L614.8 682.6 L615 680.9 L615.2 679.3 L615.4 677.8 L615.6 676.4 L615.8 675.2 L615.9 674.1 L616 673.3 L616 690.5 L615.9 691.3 L615.8 692.4 L615.6 693.6 L615.4 695 L615.2 696.5 L615 698.1 L614.8 699.8 L614.6 701.4 L614.3 703.1 L614.1 704.7 L613.9 706.3 L613.6 707.9 L613.3 709.6 L613 711.3 L612.7 713.1 L612.4 714.8 L612.1 716.6 L611.8 718.3 L611.5 720.1 L611.2 721.8 L610.9 723.5 L610.6 725.2 L610.4 726.9 L610.1 728.5 L609.9 730.2 L609.6 731.9 L609.3 733.6 L609 735.4 L608.7 737.1 L608.4 738.9 L608.1 740.7 L607.7 742.6 L607.4 744.5 L607 746.4 L606.6 748.3 L606.2 750.3 L605.8 752.2 L605.4 754.2 L605 756.1 L604.6 758 L604.2 759.9 L603.7 761.8 L603.2 763.8 L602.7 765.7 L602.3 767.6 L601.8 769.4 L601.3 771.1 L600.8 772.8 L600.3 774.5 L599.8 776.1 L599.3 777.7 L598.8 779.4 L598.4 781.1 L597.9 782.7 L597.4 784.3 L596.9 785.9 L596.4 787.4 L596 788.8 L595.5 790.1 L595.1 791.3 L594.7 792.4 L594.3 793.4 L593.9 794.3 L593.5 795.1 L593.1 795.9 L592.8 796.6 L592.4 797.3 L592 798 L591.7 798.8 L591.3 799.6 L590.9 800.5 L590.6 801.3 L590.2 802.2 L589.8 803 L589.5 803.8 L589.1 804.6 L588.7 805.3 L588.3 806 L587.9 806.6 L587.5 807.2 L587.1 807.7 L586.6 808 L586.2 808.3 L585.7 808.6 L585.2 808.8 L584.7 809 L584.2 809.2 L583.7 809.4 L583.2 809.7 L582.7 810 L582.2 810.4 L581.6 811 L581.1 811.6 L580.6 812.2 L580 812.8 L579.5 813.4 L578.9 813.9 L578.3 814.4 L577.7 814.7 L577 814.8 L576.3 814.8 L575.6 814.6 L574.8 814.3 L574 813.9 L573.3 813.5 L572.5 813 L571.7 812.5 L570.9 812 L570.1 811.5 L569.4 811 L568.7 810.6 L568 810.1 L567.3 809.7 L566.6 809.2 L565.9 808.7 L565.3 808.2 L564.6 807.7 L564 807.2 L563.4 806.7 L562.8 806.2 L562.3 805.7 L561.7 805.1 L561.3 804.6 L560.8 804 L560.3 803.5 L559.9 802.9 L559.4 802.3 L559 801.7 L558.5 801.1 L558 800.5 L557.5 799.9 L556.9 799.2 L556.3 798.5 L555.7 797.7 L555.1 797 L554.6 796.3 L554 795.7 L553.4 795.2 L552.8 794.8 L552.3 794.7 L551.8 794.9 L551.3 795.4 L550.8 796.3 L550.3 797.3 L549.8 798.4 L549.4 799.3 L548.9 799.8 L548.4 799.7 L548 799 L547.5 797.8 L547 796.2 L546.6 794.4 L546.1 792.7 L545.7 791.1 L545.3 789.6 L544.8 788.4 L544.4 787.4 L543.9 786.6 L543.4 785.9 L542.8 785.3 L542.2 784.9 L541.6 784.5 L541 784.1 L540.4 783.7 L539.7 783.4 L539 783.1 L538.3 782.9 L537.6 782.7 L536.9 782.6 L536.1 782.5 L535.3 782.5 L534.5 782.7 L533.7 782.9 L532.8 783.2 L531.9 783.5 L531 783.8 L530.1 784 L529.3 784.3 L528.4 784.4 L527.6 784.4 L526.8 784.3 L526 784.1 L525.3 783.8 L524.5 783.5 L523.7 783.1 L523 782.7 L522.3 782.4 L521.5 782 L520.8 781.7 L520 781.5 L519.2 781.3 L518.5 781.2 L517.8 781.1 L517 781 L516.3 781 L515.5 780.9 L514.8 780.9 L514 780.8 L513.2 780.7 L512.4 780.6 L511.6 780.5 L510.7 780.3 L509.8 780.2 L508.9 780.1 L508 780 L507.1 779.8 L506.2 779.6 L505.4 779.3 L504.5 779 L503.8 778.7 L503.1 778.3 L502.5 777.9 L501.9 777.4 L501.4 777 L500.9 776.4 L500.4 775.9 L499.9 775.2 L499.3 774.6 L498.7 773.8 L498.1 773 L497.4 772.1 L496.7 771.1 L495.9 769.9 L495.1 768.8 L494.3 767.5 L493.5 766.3 L492.7 765.1 L491.9 763.8 L491.2 762.7 L490.5 761.6 L489.8 760.6 L489.2 759.5 L488.6 758.6 L488 757.6 L487.5 756.6 L486.9 755.7 L486.4 754.8 L485.8 753.9 L485.3 753 L484.8 752.1 L484.3 751.3 L483.8 750.4 L483.3 749.6 L482.8 748.8 L482.3 748.1 L481.9 747.3 L481.4 746.6 L481 745.8 L480.5 745.1 L480.1 744.4 L479.7 743.7 L479.3 743 L478.9 742.3 L478.5 741.7 L478.1 741 L477.8 740.4 L477.4 739.8 L477 739.1 L476.7 738.5 L476.3 737.8 L475.9 737.1 L475.5 736.5 L475.2 735.8 L474.8 735.2 L474.4 734.5 L474 733.8 L473.6 733.2 L473.3 732.5 L472.9 731.8 L472.5 731.1 L472.1 730.4 L471.8 729.7 L471.4 728.9 L471.1 728.2 L470.7 727.4 L470.4 726.6 L470 725.9 L469.6 725.1 L469.2 724.3 L468.7 723.5 L468.2 722.7 L467.7 721.8 L467.1 720.9 L466.5 720 L465.9 719.1 L465.3 718.2 L464.7 717.4 L464.1 716.5 L463.5 715.7 L462.9 715 L462.3 714.3 L461.8 713.7 L461.2 713.1 L460.7 712.5 L460.1 711.9 L459.5 711.4 L459 710.9 L458.4 710.3 L457.8 709.8 L457.2 709.3 L456.6 708.8 L455.9 708.2 L455.3 707.6 L454.6 707 L454 706.5 L453.3 706 L452.6 705.5 L451.9 705.1 L451.3 704.7 L450.6 704.5 L449.9 704.3 L449.2 704.2 L448.5 704.2 L447.8 704.2 L447.1 704.3 L446.4 704.4 L445.8 704.6 L445.1 704.8 L444.5 705.1 L443.9 705.5 L443.3 705.9 L442.8 706.4 L442.3 706.9 L441.8 707.5 L441.4 708.2 L440.9 708.9 L440.5 709.7 L440.1 710.6 L439.6 711.5 L439.2 712.7 L438.8 714.1 L438.4 715.6 L438.1 717.4 L437.8 719.4 L437.4 721.6 L437.1 723.9 L436.7 726.3 L436.3 728.9 L435.9 731.3 L435.4 733.2 L434.9 734.5 L434.3 734.6 L433.6 733.8 L433 732.5 L432.3 731.2 L431.6 730.5 L430.9 730.5 L430.1 730.8 L429.4 731.4 L428.7 732.1 L428 732.8 L427.2 733.4 L426.5 734 L425.7 734.5 L425 735.1 L424.2 735.6 L423.4 736.1 L422.6 736.6 L421.9 737.2 L421.1 737.8 L420.3 738.4 L419.5 739.1 L418.8 739.7 L418 740.4 L417.2 741.1 L416.4 741.8 L415.6 742.5 L414.9 743.1 L414.2 743.8 L413.5 744.4 L412.9 745 L412.2 745.7 L411.7 746.3 L411.1 747 L410.5 747.6 L410 748.2 L409.5 748.8 L408.9 749.3 L408.4 749.8 L407.8 750.2 L407.2 750.5 L406.6 750.8 L406.1 751 L405.5 751.2 L404.9 751.4 L404.3 751.5 L403.7 751.5 L403.1 751.6 L402.6 751.6 L402 751.6 L401.4 751.6 L400.9 751.5 L400.4 751.5 L399.8 751.4 L399.3 751.2 L398.8 751.1 L398.2 751 L397.6 750.9 L397 751 L396.4 751.4 L395.7 752.5 L394.9 754.7 L394 757.8 L393.1 760.1 L392.2 759.9 L391.4 757.2 L390.6 753.5 L389.9 750.5 L389.3 748.6 L388.8 747.5Z" stroke="none" fill="#F3CDD1" stroke-width="1"/>
<g fill="#D01C28"><circle cx="390.6" cy="742.6" r="1.2"/><circle cx="397.6" cy="746.1" r="1.2"/><circle cx="405.2" cy="746.7" r="1.2"/><circle cx="411.3" cy="742.1" r="1.2"/><circle cx="416.9" cy="736.7" r="1.2"/><circle cx="423.0" cy="731.8" r="1.2"/><circle cx="429.2" cy="727.0" r="1.2"/><circle cx="434.1" cy="721.0" r="1.2"/><circle cx="437.2" cy="713.9" r="1.2"/><circle cx="439.7" cy="706.5" r="1.2"/><circle cx="444.5" cy="700.5" r="1.2"/><circle cx="452.0" cy="700.5" r="1.2"/><circle cx="458.0" cy="705.4" r="1.2"/><circle cx="463.4" cy="711.0" r="1.2"/><circle cx="467.8" cy="717.5" r="1.2"/><circle cx="471.4" cy="724.4" r="1.2"/><circle cx="475.2" cy="731.2" r="1.2"/><circle cx="479.0" cy="738.0" r="1.2"/><circle cx="483.1" cy="744.7" r="1.2"/><circle cx="487.1" cy="751.3" r="1.2"/><circle cx="491.1" cy="758.0" r="1.2"/><circle cx="495.4" cy="764.6" r="1.2"/><circle cx="500.0" cy="770.8" r="1.2"/><circle cx="506.4" cy="775.0" r="1.2"/><circle cx="514.1" cy="776.2" r="1.2"/><circle cx="521.7" cy="777.5" r="1.2"/><circle cx="529.1" cy="779.7" r="1.2"/><circle cx="536.6" cy="778.0" r="1.2"/><circle cx="543.5" cy="781.3" r="1.2"/><circle cx="548.6" cy="787.2" r="1.2"/><circle cx="554.7" cy="791.9" r="1.2"/><circle cx="559.6" cy="797.9" r="1.2"/><circle cx="565.0" cy="803.5" r="1.2"/><circle cx="571.5" cy="807.8" r="1.2"/><circle cx="578.6" cy="809.6" r="1.2"/><circle cx="584.4" cy="804.5" r="1.2"/><circle cx="589.5" cy="799.0" r="1.2"/><circle cx="592.7" cy="791.9" r="1.2"/><circle cx="595.4" cy="784.6" r="1.2"/><circle cx="597.5" cy="777.1" r="1.2"/><circle cx="599.5" cy="769.5" r="1.2"/><circle cx="601.5" cy="762.0" r="1.2"/><circle cx="603.4" cy="754.4" r="1.2"/><circle cx="605.2" cy="746.8" r="1.2"/><circle cx="606.7" cy="739.2" r="1.2"/><circle cx="608.2" cy="731.5" r="1.2"/><circle cx="609.5" cy="723.9" r="1.2"/><circle cx="610.7" cy="716.1" r="1.2"/><circle cx="612.0" cy="708.5" r="1.2"/><circle cx="613.3" cy="700.8" r="1.2"/><circle cx="614.5" cy="693.1" r="1.2"/><circle cx="615.6" cy="685.3" r="1.2"/></g>
<path d="M389.5 844 L392.4 836.2 L395.2 828.4 L398.1 820.7 L401 813.1 L403.9 805.5 L406.7 798 L409.6 790.6 L412.5 783.3 L415.3 776.2 L418.2 769.2 L421.1 762.3 L424 755.6 L426.8 749 L429.7 742.7 L432.6 736.5 L435.5 730.6 L438.3 724.8 L441.2 719.3 L444.1 714 L446.9 709 L449.8 704.2 L452.7 699.7 L455.6 695.4 L458.4 691.4 L461.3 687.7 L464.2 684.3 L467 681.1 L469.9 678.3 L472.8 675.8 L475.7 673.5 L478.5 671.6 L481.4 670 L484.3 668.8 L487.2 667.8 L490 667.2 L492.9 666.8 L495.8 666.8 L498.6 667.1 L501.5 667.6 L504.4 668.4 L507.3 669.4 L510.1 670.7 L513 672.3 L515.9 674.1 L518.7 676.1 L521.6 678.4 L524.5 681 L527.4 683.8 L530.2 686.8 L533.1 690 L536 693.5 L538.9 697.2 L541.7 701.1 L544.6 705.3 L547.5 709.6 L550.3 714.2 L553.2 718.9 L556.1 723.8 L559 728.9 L561.8 734.2 L564.7 739.7 L567.6 745.3 L570.4 751 L573.3 756.9 L576.2 763 L579.1 769.2 L581.9 775.4 L584.8 781.9 L587.7 788.4 L590.6 795 L593.4 801.6 L596.3 808.4 L599.2 815.2 L602 822.1 L604.9 829 L607.8 836 L610.7 843 L613.5 850 L616.4 857" stroke="#E0262A" fill="none" stroke-width="2.5"/>
<line x1="389.5" y1="667.7" x2="389.5" y2="912.1" stroke="#666" stroke-width="1.2"/>
<line x1="389" y1="911.6" x2="616.4" y2="911.6" stroke="#666" stroke-width="1.2"/>
<line x1="389.5" y1="667.7" x2="392.5" y2="667.7" stroke="#666" stroke-width="1.2"/>
<line x1="616.4" y1="671" x2="616.4" y2="911.6" stroke="#222" stroke-width="1.5" stroke-dasharray="1.5 3.8"/>
<text x="367" y="679.4" font-size="33.2">4</text>
<text x="367" y="923.2" font-size="33.2">2</text>
<text x="374.8" y="951.4" font-size="33.2">20</text>
<text x="600.5" y="951.4" font-size="33.2">80</text>
<text x="620.6" y="750.7" font-size="33.2">8.2</text>
<text x="620.4" y="921.9" font-size="33.2">7.9</text>
<text x="368" y="980.6" font-size="33.2">Rescaled Flight %</text>
<text x="322.8" y="829.4" font-size="33.2" transform="rotate(-90 322.8 829.4)">Flight</text>
<text x="359.6" y="882.4" font-size="33" transform="rotate(-90 359.6 882.4)">Speed (ms<tspan font-size="16.5" dy="-16">-1</tspan><tspan dy="16">)</tspan></text>
<text x="693.6" y="859.6" font-size="33.2" transform="rotate(-90 693.6 859.6)">Wingbeat</text>
<text x="730.9" y="904.4" font-size="33.2" transform="rotate(-90 730.9 904.4)">Frequency (Hz)</text>
<path d="M389.7 1159.6 L389.8 1158.6 L390 1159.5 L390.1 1158.7 L390.3 1159.2 L390.5 1158.2 L390.7 1159.9 L391 1161 L391.2 1163.8 L391.4 1165.2 L391.6 1168 L391.8 1169.4 L392 1171.1 L392.1 1172.8 L392.3 1174.5 L392.5 1176.8 L392.7 1179.7 L392.9 1181.3 L393.1 1182.6 L393.3 1183.9 L393.6 1185.4 L393.9 1186.7 L394.2 1186.4 L394.6 1188.8 L394.9 1190.1 L395.3 1191 L395.7 1192 L396.1 1193.3 L396.6 1193 L397 1192.6 L397.5 1190.8 L398 1189.7 L398.5 1188.5 L399.1 1186.9 L399.7 1187.1 L400.3 1187.8 L400.9 1185.6 L401.5 1185.4 L402.1 1185.2 L402.7 1184.4 L403.3 1183.7 L403.9 1185 L404.4 1184.5 L405 1184.1 L405.6 1184.7 L406.1 1186.1 L406.7 1186.4 L407.3 1188.5 L407.9 1190.5 L408.5 1190.4 L409.1 1189.1 L409.7 1189.9 L410.4 1190.8 L411.1 1191.3 L411.7 1194.8 L412.4 1198 L413.1 1198.7 L413.8 1198.9 L414.5 1201.3 L415.2 1201.9 L415.9 1201.6 L416.6 1202.9 L417.3 1203.8 L417.9 1202.7 L418.6 1201.9 L419.3 1203.2 L420 1202.3 L420.7 1201.9 L421.3 1202.3 L422 1202.4 L422.7 1200.8 L423.4 1201.5 L424.1 1200.5 L424.7 1199.7 L425.4 1198 L426.1 1198 L426.8 1197.6 L427.5 1198.8 L428.1 1199 L428.8 1199 L429.5 1196.7 L430.2 1196.9 L430.9 1196.3 L431.7 1195.4 L432.4 1195.6 L433.1 1197.9 L433.9 1197 L434.5 1197.3 L435.2 1197.6 L435.7 1197.1 L436.2 1195.3 L436.6 1195 L436.9 1193.6 L437.1 1192.5 L437.2 1191.6 L437.4 1191.5 L437.5 1191 L437.6 1189.7 L437.8 1188.5 L437.9 1188.7 L438.2 1188.9 L438.5 1187.3 L438.8 1186.4 L439.2 1185.5 L439.6 1184.2 L440 1182.8 L440.4 1182.4 L440.8 1182.3 L441.2 1182.4 L441.7 1181.7 L442.1 1180.4 L442.5 1178.3 L443 1177 L443.4 1175.1 L443.9 1173.6 L444.4 1170.9 L444.9 1170 L445.4 1168 L445.9 1166.1 L446.4 1164.5 L446.9 1164.6 L447.4 1162.9 L448 1161.4 L448.6 1160.1 L449.2 1158.8 L449.8 1157.4 L450.4 1157.7 L451 1158.2 L451.6 1158.2 L452.2 1158.2 L452.7 1157.6 L453.2 1157 L453.8 1156.1 L454.3 1156.5 L454.8 1155.5 L455.3 1154.4 L455.8 1153.9 L456.2 1152.6 L456.7 1150.4 L457.2 1150.6 L457.6 1150.9 L458 1150.5 L458.4 1148.9 L458.8 1148.2 L459.1 1146.1 L459.5 1144.6 L459.9 1141.2 L460.2 1137.9 L460.6 1134.7 L461 1131.7 L461.5 1129 L462 1131 L462.5 1135.5 L463.1 1139.6 L463.7 1143.6 L464.3 1146.9 L464.9 1147.4 L465.5 1148.6 L466.1 1149.9 L466.7 1150 L467.3 1149.9 L467.9 1151 L468.5 1151.6 L469 1151.4 L469.6 1151.1 L470.2 1150.5 L470.8 1150.6 L471.4 1149.5 L471.9 1149.3 L472.5 1149.9 L473.1 1150.2 L473.7 1149 L474.3 1148.3 L474.8 1149 L475.4 1148.2 L476 1148.1 L476.6 1148.2 L477.2 1148 L477.7 1146.3 L478.3 1146.6 L478.9 1146 L479.5 1145 L480.1 1145.8 L480.7 1144.9 L481.3 1143.4 L481.9 1142.2 L482.5 1141.1 L483.1 1138.3 L483.7 1137.9 L484.2 1137.2 L484.7 1135.4 L485.2 1134.9 L485.6 1135.2 L486 1134.6 L486.4 1131.9 L486.8 1130.6 L487.2 1128 L487.6 1125.9 L487.9 1124 L488.3 1124.6 L488.6 1125.4 L488.9 1125.9 L489.3 1126.4 L489.6 1125.8 L489.9 1125.9 L490.2 1125.5 L490.5 1125.9 L490.7 1124.5 L491 1125.3 L491.3 1123.4 L491.5 1121.2 L491.7 1119.5 L491.9 1118.7 L492.1 1118 L492.3 1117.3 L492.5 1117.8 L492.7 1116.2 L492.9 1115.2 L493.1 1113 L493.3 1110.7 L493.5 1108.1 L493.8 1107 L494 1105.7 L494.3 1104.5 L494.6 1103.5 L494.9 1100.8 L495.2 1099.3 L495.5 1097.2 L495.8 1095.1 L496.1 1093 L496.4 1092.7 L496.7 1091 L496.9 1090.8 L497.2 1089.2 L497.5 1087.3 L497.7 1085.7 L498 1082.8 L498.3 1079.2 L498.6 1076.5 L498.9 1072.8 L499.3 1067.8 L499.7 1064.5 L500.2 1062.7 L500.6 1063.3 L501.1 1069.2 L501.6 1075.8 L502.2 1081.2 L502.7 1086.2 L503.2 1088.6 L503.6 1089.9 L504.1 1091.5 L504.5 1091.8 L504.9 1091.5 L505.3 1091.8 L505.7 1091.6 L506.1 1091.8 L506.5 1093.7 L506.9 1094.7 L507.2 1095.3 L507.6 1096.9 L508 1098.2 L508.4 1098.3 L508.8 1098.7 L509.2 1100.4 L509.7 1101.3 L510.1 1102.6 L510.5 1103.8 L510.9 1105 L511.2 1105.5 L511.6 1106.9 L511.9 1105.6 L512.2 1104.2 L512.4 1100.3 L512.6 1095.6 L512.7 1089.2 L512.8 1084.1 L513 1079 L513.1 1074.8 L513.3 1071.4 L513.5 1067.9 L513.8 1065.2 L514.1 1062.1 L514.5 1060.5 L514.8 1059.3 L515.2 1062 L515.6 1064.8 L516 1068.6 L516.5 1075.4 L516.9 1081.4 L517.3 1085.7 L517.7 1090.1 L518.1 1094.5 L518.5 1096.3 L518.9 1098.3 L519.3 1099.9 L519.7 1102.4 L520 1104.8 L520.4 1107.4 L520.8 1110.6 L521.2 1113.2 L521.6 1115.7 L522 1117.4 L522.4 1120.3 L522.8 1121.8 L523.2 1122.9 L523.6 1124.5 L524 1127.3 L524.4 1127.3 L524.8 1129.6 L525.2 1134 L525.5 1135.8 L525.8 1136.1 L526.2 1138.1 L526.5 1138.5 L526.8 1137.7 L527.1 1138.8 L527.4 1141.6 L527.7 1143.8 L528 1145.7 L528.2 1147.1 L528.4 1149.2 L528.6 1149.9 L528.7 1150.5 L528.8 1153.3 L528.8 1156.4 L528.8 1157.6 L528.9 1158.7 L528.9 1160.8 L529 1162.6 L529.1 1162.9 L529.3 1165 L529.5 1166.2 L529.7 1167.5 L530 1167.6 L530.2 1168.7 L530.5 1169.8 L530.8 1171 L531.1 1171.5 L531.5 1172.5 L531.8 1172.9 L532.2 1173.5 L532.6 1173.6 L533 1174 L533.5 1174.3 L534 1174.5 L534.5 1173.7 L535 1173.7 L535.5 1173 L536 1171.1 L536.6 1170.8 L537.1 1170.2 L537.6 1170.8 L538.2 1170.9 L538.8 1171 L539.4 1170.7 L539.9 1170.9 L540.5 1170.8 L541.1 1172 L541.7 1173.3 L542.3 1175.2 L542.9 1176.8 L543.5 1176.7 L544.1 1177.6 L544.6 1177.6 L545.2 1178.9 L545.8 1179.1 L546.4 1181.5 L547 1181.8 L547.5 1184.3 L548.1 1183.9 L548.7 1184.3 L549.3 1183.5 L549.9 1182.5 L550.5 1179.8 L551.1 1178.8 L551.6 1176.3 L552.2 1173.6 L552.8 1170.3 L553.4 1165.2 L554 1161.8 L554.6 1160.8 L555.2 1163.4 L555.8 1167.5 L556.4 1172.9 L557 1172.2 L557.6 1173.3 L558.2 1172.4 L558.8 1172.5 L559.4 1173.5 L559.9 1176.4 L560.4 1176.4 L560.9 1178.1 L561.3 1179.6 L561.7 1180.1 L562.1 1182.2 L562.4 1184.6 L562.8 1185.4 L563.1 1185.9 L563.5 1187.3 L563.9 1186.8 L564.3 1186.3 L564.8 1186.2 L565.2 1185.3 L565.7 1183.7 L566.2 1182.2 L566.8 1181.6 L567.3 1180.7 L567.8 1179.4 L568.2 1179 L568.7 1177.6 L569.1 1176 L569.5 1174.7 L569.8 1173.5 L570.1 1171.9 L570.3 1171.6 L570.6 1170.6 L570.9 1169.1 L571.1 1166.9 L571.4 1166.9 L571.7 1165.5 L572 1164.4 L572.3 1163.1 L572.7 1164.1 L573.1 1163.6 L573.5 1162.1 L573.9 1161.9 L574.3 1161.8 L574.7 1161.6 L575.1 1159.8 L575.5 1159.6 L575.9 1156.7 L576.3 1153.9 L576.6 1150.9 L577 1147.4 L577.4 1145.2 L577.7 1144.3 L578.1 1144.5 L578.5 1144.6 L578.9 1147 L579.3 1149 L579.8 1150.8 L580.3 1152.4 L580.8 1154.4 L581.4 1154 L582 1155.2 L582.6 1155.8 L583.2 1156.8 L583.8 1156.6 L584.4 1159.8 L585 1159 L585.6 1160.1 L586.2 1161.3 L586.8 1162.1 L587.3 1159.4 L587.9 1160.3 L588.5 1160.8 L589.1 1160.2 L589.7 1159.3 L590.2 1161.4 L590.8 1161.8 L591.4 1161.4 L592 1160.1 L592.5 1161.4 L593.1 1160.2 L593.6 1161 L594.2 1161.8 L594.7 1163 L595.3 1162.9 L595.9 1165.1 L596.5 1164.6 L597.2 1164 L597.9 1165.1 L598.7 1165.3 L599.5 1164.1 L600.3 1164.7 L601.1 1165.3 L601.9 1165.2 L602.7 1165.3 L603.5 1166.1 L604.3 1165.6 L605 1165.9 L605.7 1165.1 L606.3 1164.1 L606.9 1162.2 L607.5 1158.9 L608.1 1153.7 L608.6 1150.7 L609.2 1151.2 L609.7 1151.5 L610.3 1154.3 L610.8 1157.8 L611.3 1160.5 L611.9 1160.8 L612.4 1161.5 L613 1162 L613.5 1163 L614 1163.9 L614.5 1165.1 L614.9 1166.6 L615.3 1166.9 L615.6 1168.4 L615.9 1169.3 L616.1 1170.9 L616.2 1173.4 L616.3 1176.1 L616.4 1177 L616.5 1179.6 L616.5 1181.7 L616.5 1182.1 L616.6 1183.4 L616.6 1184.4 L616.6 1202.5 L616.6 1200.2 L616.5 1198 L616.5 1197.1 L616.5 1194.6 L616.4 1191.4 L616.3 1188.7 L616.2 1187.3 L616.1 1185.3 L615.9 1182.9 L615.6 1182.7 L615.3 1182.2 L614.9 1181.6 L614.5 1179.8 L614 1178.4 L613.5 1176.8 L613 1175.9 L612.4 1175.2 L611.9 1174.8 L611.3 1176 L610.8 1176.8 L610.3 1176.6 L609.7 1177.4 L609.2 1178.2 L608.6 1177.9 L608.1 1178.2 L607.5 1179.2 L606.9 1178.5 L606.3 1178.2 L605.7 1178.3 L605 1178.8 L604.3 1179.8 L603.5 1181 L602.7 1181.6 L601.9 1182.4 L601.1 1181.9 L600.3 1181.1 L599.5 1180.6 L598.7 1181.3 L597.9 1181.8 L597.2 1181.6 L596.5 1181.4 L595.9 1181.4 L595.3 1180.5 L594.7 1179.2 L594.2 1178.3 L593.6 1177.4 L593.1 1176.2 L592.5 1175.7 L592 1175 L591.4 1174.4 L590.8 1175.7 L590.2 1175.9 L589.7 1178 L589.1 1179 L588.5 1180.4 L587.9 1178.9 L587.3 1178.9 L586.8 1177.5 L586.2 1177.3 L585.6 1176.5 L585 1176.1 L584.4 1174.7 L583.8 1174.2 L583.2 1172.9 L582.6 1172.2 L582 1171.5 L581.4 1170.5 L580.8 1168.3 L580.3 1168.5 L579.8 1168.1 L579.3 1168.6 L578.9 1168.9 L578.5 1169.6 L578.1 1170.5 L577.7 1170.8 L577.4 1170.4 L577 1171.2 L576.6 1172.7 L576.3 1171.1 L575.9 1172.1 L575.5 1173 L575.1 1175 L574.7 1175.2 L574.3 1175.5 L573.9 1176.2 L573.5 1177.5 L573.1 1177 L572.7 1177.2 L572.3 1179.3 L572 1180 L571.7 1180.5 L571.4 1181.4 L571.1 1183.2 L570.9 1184.4 L570.6 1186.2 L570.3 1188.8 L570.1 1190 L569.8 1190.6 L569.5 1191.2 L569.1 1192.2 L568.7 1192 L568.2 1193.2 L567.8 1194.5 L567.3 1195.9 L566.8 1196.2 L566.2 1196.7 L565.7 1198.4 L565.2 1199.3 L564.8 1201.1 L564.3 1201.4 L563.9 1202 L563.5 1201.5 L563.1 1200.8 L562.8 1199.6 L562.4 1198.5 L562.1 1197.3 L561.7 1196.3 L561.3 1194.7 L560.9 1193.4 L560.4 1192.6 L559.9 1192.8 L559.4 1192 L558.8 1191.9 L558.2 1191.5 L557.6 1191.8 L557 1191.1 L556.4 1191.1 L555.8 1190.7 L555.2 1189.4 L554.6 1189 L554 1189.1 L553.4 1189.3 L552.8 1190.9 L552.2 1193.2 L551.6 1197.1 L551.1 1200.7 L550.5 1203.9 L549.9 1205.5 L549.3 1206.1 L548.7 1203.3 L548.1 1201.3 L547.5 1200 L547 1198.6 L546.4 1196.8 L545.8 1195 L545.2 1193.1 L544.6 1191.5 L544.1 1190.7 L543.5 1189.7 L542.9 1190.3 L542.3 1189.7 L541.7 1189.8 L541.1 1188.7 L540.5 1187.4 L539.9 1186.2 L539.4 1187 L538.8 1188 L538.2 1187.2 L537.6 1187.3 L537.1 1187.6 L536.6 1187.6 L536 1186.1 L535.5 1187 L535 1188.2 L534.5 1188.4 L534 1188.7 L533.5 1190.5 L533 1191.7 L532.6 1194.5 L532.2 1198 L531.8 1201.4 L531.5 1205.8 L531.1 1209.5 L530.8 1211.9 L530.5 1212.3 L530.2 1211.9 L530 1208.7 L529.7 1206.4 L529.5 1200.6 L529.3 1195.5 L529.1 1192 L529 1189.2 L528.9 1186 L528.9 1184.5 L528.8 1182.6 L528.8 1180.5 L528.8 1178.4 L528.7 1175.3 L528.6 1173 L528.4 1170.4 L528.2 1166.2 L528 1162.4 L527.7 1160.7 L527.4 1157.8 L527.1 1155.7 L526.8 1155.1 L526.5 1154.1 L526.2 1153.2 L525.8 1151.3 L525.5 1149.3 L525.2 1147.7 L524.8 1146.2 L524.4 1143.4 L524 1142.2 L523.6 1141.4 L523.2 1138.7 L522.8 1137.7 L522.4 1136.7 L522 1134.7 L521.6 1132.2 L521.2 1130.3 L520.8 1127 L520.4 1124.9 L520 1122.4 L519.7 1119.7 L519.3 1117.2 L518.9 1114.3 L518.5 1111.7 L518.1 1108.6 L517.7 1107.6 L517.3 1106.8 L516.9 1105.1 L516.5 1101.6 L516 1100.4 L515.6 1097.9 L515.2 1094.5 L514.8 1093.4 L514.5 1093.6 L514.1 1095.2 L513.8 1097.8 L513.5 1102.5 L513.3 1107.3 L513.1 1113.7 L513 1119.7 L512.8 1125.4 L512.7 1131.8 L512.6 1137.9 L512.4 1141.7 L512.2 1145.9 L511.9 1149.1 L511.6 1147.9 L511.2 1143.9 L510.9 1140.1 L510.5 1132.9 L510.1 1127.3 L509.7 1122.6 L509.2 1119.4 L508.8 1115.4 L508.4 1114.7 L508 1112.1 L507.6 1110.7 L507.2 1110.3 L506.9 1111.7 L506.5 1110.2 L506.1 1108.9 L505.7 1108.7 L505.3 1108.9 L504.9 1105.5 L504.5 1105.4 L504.1 1105.6 L503.6 1105.4 L503.2 1103.1 L502.7 1104.6 L502.2 1102.6 L501.6 1101.7 L501.1 1100.7 L500.6 1100.3 L500.2 1098.5 L499.7 1099.2 L499.3 1099.3 L498.9 1099.5 L498.6 1099.9 L498.3 1101.3 L498 1101.5 L497.7 1102.9 L497.5 1104.5 L497.2 1105.7 L496.9 1106 L496.7 1106.8 L496.4 1107.6 L496.1 1107.7 L495.8 1110.2 L495.5 1110.9 L495.2 1113.1 L494.9 1115.4 L494.6 1117.5 L494.3 1118.4 L494 1120.2 L493.8 1123.6 L493.5 1124.6 L493.3 1125.8 L493.1 1126.8 L492.9 1129.1 L492.7 1129.2 L492.5 1130.1 L492.3 1131.5 L492.1 1133.5 L491.9 1134.2 L491.7 1135.3 L491.5 1136.3 L491.3 1137 L491 1138.1 L490.7 1140.1 L490.5 1141.4 L490.2 1142.9 L489.9 1144.6 L489.6 1145.2 L489.3 1145.5 L488.9 1146.2 L488.6 1147.3 L488.3 1147.6 L487.9 1147.5 L487.6 1149 L487.2 1149.3 L486.8 1149.7 L486.4 1151.7 L486 1153.4 L485.6 1153.4 L485.2 1154.7 L484.7 1156.4 L484.2 1156.5 L483.7 1159.7 L483.1 1162 L482.5 1164.5 L481.9 1167 L481.3 1170.5 L480.7 1168.5 L480.1 1168.3 L479.5 1165.5 L478.9 1164.3 L478.3 1164.3 L477.7 1165.2 L477.2 1165.2 L476.6 1166.1 L476 1166.3 L475.4 1166.2 L474.8 1167 L474.3 1166.1 L473.7 1167.2 L473.1 1169.1 L472.5 1173.3 L471.9 1176.7 L471.4 1181 L470.8 1179.6 L470.2 1177.1 L469.6 1171.8 L469 1168.7 L468.5 1165.8 L467.9 1164.9 L467.3 1163.5 L466.7 1164 L466.1 1164.6 L465.5 1164.5 L464.9 1164.2 L464.3 1162.7 L463.7 1161.6 L463.1 1160.2 L462.5 1159.5 L462 1159.1 L461.5 1159.5 L461 1159.3 L460.6 1159.9 L460.2 1159.3 L459.9 1160.2 L459.5 1162 L459.1 1163 L458.8 1164.8 L458.4 1166.6 L458 1168.1 L457.6 1168.8 L457.2 1169.6 L456.7 1169.9 L456.2 1170.5 L455.8 1170.4 L455.3 1171 L454.8 1171.2 L454.3 1171.5 L453.8 1170.6 L453.2 1171.1 L452.7 1171.5 L452.2 1172.8 L451.6 1172.2 L451 1173 L450.4 1174.2 L449.8 1174.2 L449.2 1174.4 L448.6 1176.6 L448 1178.6 L447.4 1178.5 L446.9 1178.6 L446.4 1180.4 L445.9 1181.6 L445.4 1183.6 L444.9 1185.9 L444.4 1188.9 L443.9 1190.2 L443.4 1189.6 L443 1190.1 L442.5 1192 L442.1 1192 L441.7 1193.4 L441.2 1197.3 L440.8 1199 L440.4 1198.4 L440 1200.5 L439.6 1201.3 L439.2 1201.5 L438.8 1202 L438.5 1203.8 L438.2 1204.3 L437.9 1205.4 L437.8 1206.5 L437.6 1207.9 L437.5 1208.6 L437.4 1209.2 L437.2 1209.7 L437.1 1209.4 L436.9 1209.4 L436.6 1209.3 L436.2 1211.8 L435.7 1213.5 L435.2 1214.3 L434.5 1215.5 L433.9 1216.6 L433.1 1214.6 L432.4 1212.8 L431.7 1213.1 L430.9 1212 L430.2 1212.3 L429.5 1212.5 L428.8 1213.8 L428.1 1214.7 L427.5 1216 L426.8 1216.5 L426.1 1216.4 L425.4 1216.1 L424.7 1214.1 L424.1 1213.5 L423.4 1212.8 L422.7 1213.7 L422 1213.7 L421.3 1215.7 L420.7 1216.3 L420 1217.1 L419.3 1217.6 L418.6 1218 L417.9 1217.6 L417.3 1218.1 L416.6 1217.3 L415.9 1216.4 L415.2 1217.4 L414.5 1219.8 L413.8 1222.1 L413.1 1223.2 L412.4 1221.9 L411.7 1216.5 L411.1 1211 L410.4 1207.6 L409.7 1204.8 L409.1 1203.3 L408.5 1203.1 L407.9 1202.2 L407.3 1201.6 L406.7 1202 L406.1 1201.1 L405.6 1200.4 L405 1200.5 L404.4 1198.9 L403.9 1198.6 L403.3 1199.3 L402.7 1199.3 L402.1 1200.4 L401.5 1202.1 L400.9 1202.3 L400.3 1203 L399.7 1204.5 L399.1 1205.4 L398.5 1206.5 L398 1209.2 L397.5 1210.9 L397 1214.5 L396.6 1216.9 L396.1 1218.9 L395.7 1219.4 L395.3 1218.8 L394.9 1215.4 L394.6 1212.8 L394.2 1209.8 L393.9 1206.9 L393.6 1204.8 L393.3 1201.5 L393.1 1199.2 L392.9 1197 L392.7 1196.2 L392.5 1195 L392.3 1195.8 L392.1 1195.5 L392 1195 L391.8 1194.5 L391.6 1193 L391.4 1191 L391.2 1189.1 L391 1189.7 L390.7 1188 L390.5 1187.8 L390.3 1186.7 L390.1 1185.8 L390 1183.9 L389.8 1183.3 L389.7 1182.8Z" stroke="none" fill="#C9C9F6" stroke-width="1"/>
<g fill="#2020C0"><circle cx="390.1" cy="1177.5" r="1.15"/><circle cx="391.6" cy="1184.1" r="1.15"/><circle cx="392.9" cy="1190.8" r="1.15"/><circle cx="395.2" cy="1197.2" r="1.15"/><circle cx="399.5" cy="1197.5" r="1.15"/><circle cx="403.3" cy="1192.0" r="1.15"/><circle cx="408.1" cy="1196.4" r="1.15"/><circle cx="411.5" cy="1202.3" r="1.15"/><circle cx="414.8" cy="1208.3" r="1.15"/><circle cx="420.6" cy="1208.6" r="1.15"/><circle cx="426.7" cy="1205.7" r="1.15"/><circle cx="433.3" cy="1204.4" r="1.15"/><circle cx="437.4" cy="1200.2" r="1.15"/><circle cx="439.1" cy="1193.6" r="1.15"/><circle cx="441.7" cy="1187.3" r="1.15"/><circle cx="443.9" cy="1180.9" r="1.15"/><circle cx="446.1" cy="1174.5" r="1.15"/><circle cx="449.7" cy="1168.8" r="1.15"/><circle cx="454.3" cy="1163.8" r="1.15"/><circle cx="458.1" cy="1158.1" r="1.15"/><circle cx="460.7" cy="1151.9" r="1.15"/><circle cx="465.2" cy="1155.5" r="1.15"/><circle cx="470.6" cy="1159.3" r="1.15"/><circle cx="476.6" cy="1156.7" r="1.15"/><circle cx="480.9" cy="1151.4" r="1.15"/><circle cx="484.6" cy="1145.7" r="1.15"/><circle cx="488.4" cy="1140.1" r="1.15"/><circle cx="490.6" cy="1133.7" r="1.15"/><circle cx="492.0" cy="1127.0" r="1.15"/><circle cx="492.9" cy="1120.3" r="1.15"/><circle cx="494.0" cy="1113.6" r="1.15"/><circle cx="495.2" cy="1106.9" r="1.15"/><circle cx="496.6" cy="1100.2" r="1.15"/><circle cx="498.0" cy="1093.6" r="1.15"/><circle cx="502.1" cy="1093.8" r="1.15"/><circle cx="505.6" cy="1099.6" r="1.15"/><circle cx="508.5" cy="1105.8" r="1.15"/><circle cx="510.6" cy="1112.2" r="1.15"/><circle cx="512.4" cy="1107.9" r="1.15"/><circle cx="512.7" cy="1101.1" r="1.15"/><circle cx="513.0" cy="1094.3" r="1.15"/><circle cx="513.4" cy="1087.5" r="1.15"/><circle cx="515.6" cy="1088.7" r="1.15"/><circle cx="517.0" cy="1095.3" r="1.15"/><circle cx="518.3" cy="1102.0" r="1.15"/><circle cx="519.3" cy="1108.7" r="1.15"/><circle cx="520.2" cy="1115.5" r="1.15"/><circle cx="521.3" cy="1122.2" r="1.15"/><circle cx="522.5" cy="1128.9" r="1.15"/><circle cx="524.1" cy="1135.5" r="1.15"/><circle cx="525.6" cy="1142.1" r="1.15"/><circle cx="527.2" cy="1148.7" r="1.15"/><circle cx="528.4" cy="1155.4" r="1.15"/><circle cx="528.8" cy="1162.2" r="1.15"/><circle cx="529.1" cy="1169.0" r="1.15"/><circle cx="530.0" cy="1175.7" r="1.15"/><circle cx="531.6" cy="1182.3" r="1.15"/><circle cx="535.8" cy="1179.4" r="1.15"/><circle cx="541.4" cy="1180.8" r="1.15"/><circle cx="545.2" cy="1186.4" r="1.15"/><circle cx="549.3" cy="1190.6" r="1.15"/><circle cx="552.2" cy="1184.4" r="1.15"/><circle cx="556.4" cy="1181.1" r="1.15"/><circle cx="560.1" cy="1186.8" r="1.15"/><circle cx="562.9" cy="1193.0" r="1.15"/><circle cx="566.6" cy="1189.7" r="1.15"/><circle cx="568.8" cy="1183.3" r="1.15"/><circle cx="570.7" cy="1176.8" r="1.15"/><circle cx="573.0" cy="1170.4" r="1.15"/><circle cx="576.6" cy="1164.6" r="1.15"/><circle cx="581.0" cy="1162.1" r="1.15"/><circle cx="584.7" cy="1167.8" r="1.15"/><circle cx="591.0" cy="1168.6" r="1.15"/><circle cx="596.5" cy="1172.4" r="1.15"/><circle cx="603.2" cy="1172.1" r="1.15"/><circle cx="609.1" cy="1168.9" r="1.15"/><circle cx="614.1" cy="1172.5" r="1.15"/><circle cx="616.0" cy="1178.9" r="1.15"/><circle cx="616.4" cy="1185.7" r="1.15"/></g>
<path d="M390.2 1064.5 L392.5 1057.5 L394.8 1050.9 L397.1 1044.8 L399.3 1039.1 L401.6 1033.9 L403.9 1029.2 L406.2 1025.1 L408.5 1021.5 L410.8 1018.5 L413 1016.1 L415.3 1014.4 L417.6 1013.2 L419.9 1012.7 L422.2 1012.9 L424.5 1014 L426.8 1015.9 L429 1018.6 L431.3 1022.2 L433.6 1026.6 L435.9 1031.8 L438.2 1037.7 L440.5 1044.3 L442.8 1051.5 L445 1059.4 L447.3 1067.7 L449.6 1076.5 L451.9 1085.8 L454.2 1095.3 L456.5 1105.1 L458.7 1115.1 L461 1125.3 L463.3 1135.4 L465.6 1145.5 L467.9 1155.5 L470.2 1165.4 L472.5 1174.9 L474.7 1184.1 L477 1193 L479.3 1201.3 L481.6 1209.2 L483.9 1216.4 L486.2 1223 L488.4 1229 L490.7 1234.2 L493 1238.6 L495.3 1242.2 L497.6 1245 L499.9 1246.9 L502.2 1248 L504.4 1248.2 L506.7 1247.7 L509 1246.5 L511.3 1244.6 L513.6 1242.2 L515.9 1239.1 L518.2 1235.4 L520.4 1231.1 L522.7 1226.2 L525 1220.9 L527.3 1215 L529.6 1208.8 L531.9 1202.1 L534.1 1195 L536.4 1187.7 L538.7 1180 L541 1172.2 L543.3 1164.2 L545.6 1156.1 L547.9 1147.9 L550.1 1139.8 L552.4 1131.7 L554.7 1123.7 L557 1115.8 L559.3 1108.2 L561.6 1100.9 L563.8 1093.8 L566.1 1087.1 L568.4 1080.8 L570.7 1075 L573 1069.6 L575.3 1064.8 L577.6 1060.5 L579.8 1056.8 L582.1 1053.7 L584.4 1051.3 L586.7 1049.4 L589 1048.2 L591.3 1047.7 L593.6 1047.9 L595.8 1048.7 L598.1 1050.2 L600.4 1052.4 L602.7 1055.2 L605 1058.6 L607.3 1062.6 L609.5 1067.2 L611.8 1072.4 L614.1 1078 L616.4 1084.1 L616.4 1094.1 L614.1 1088 L611.8 1082.4 L609.5 1077.2 L607.3 1072.6 L605 1068.6 L602.7 1065.2 L600.4 1062.4 L598.1 1060.2 L595.8 1058.7 L593.6 1057.9 L591.3 1057.7 L589 1058.2 L586.7 1059.4 L584.4 1061.3 L582.1 1063.7 L579.8 1066.8 L577.6 1070.5 L575.3 1074.8 L573 1079.6 L570.7 1085 L568.4 1090.8 L566.1 1097.1 L563.8 1103.8 L561.6 1110.9 L559.3 1118.2 L557 1125.8 L554.7 1133.7 L552.4 1141.7 L550.1 1149.8 L547.9 1157.9 L545.6 1166.1 L543.3 1174.2 L541 1182.2 L538.7 1190 L536.4 1197.7 L534.1 1205 L531.9 1212.1 L529.6 1218.8 L527.3 1225 L525 1230.9 L522.7 1236.2 L520.4 1241.1 L518.2 1245.4 L515.9 1249.1 L513.6 1252.2 L511.3 1254.6 L509 1256.5 L506.7 1257.7 L504.4 1258.2 L502.2 1258 L499.9 1256.9 L497.6 1255 L495.3 1252.2 L493 1248.6 L490.7 1244.2 L488.4 1239 L486.2 1233 L483.9 1226.4 L481.6 1219.2 L479.3 1211.3 L477 1203 L474.7 1194.1 L472.5 1184.9 L470.2 1175.4 L467.9 1165.5 L465.6 1155.5 L463.3 1145.4 L461 1135.3 L458.7 1125.1 L456.5 1115.1 L454.2 1105.3 L451.9 1095.8 L449.6 1086.5 L447.3 1077.7 L445 1069.4 L442.8 1061.5 L440.5 1054.3 L438.2 1047.7 L435.9 1041.8 L433.6 1036.6 L431.3 1032.2 L429 1028.6 L426.8 1025.9 L424.5 1024 L422.2 1022.9 L419.9 1022.7 L417.6 1023.2 L415.3 1024.4 L413 1026.1 L410.8 1028.5 L408.5 1031.5 L406.2 1035.1 L403.9 1039.2 L401.6 1043.9 L399.3 1049.1 L397.1 1054.8 L394.8 1060.9 L392.5 1067.5 L390.2 1074.5Z" stroke="none" fill="#C8C8F5" stroke-width="1"/>
<path d="M390.2 1069.5 L392.5 1062.5 L394.8 1055.9 L397.1 1049.8 L399.3 1044.1 L401.6 1038.9 L403.9 1034.2 L406.2 1030.1 L408.5 1026.5 L410.8 1023.5 L413 1021.1 L415.3 1019.4 L417.6 1018.2 L419.9 1017.7 L422.2 1017.9 L424.5 1019 L426.8 1020.9 L429 1023.6 L431.3 1027.2 L433.6 1031.6 L435.9 1036.8 L438.2 1042.7 L440.5 1049.3 L442.8 1056.5 L445 1064.4 L447.3 1072.7 L449.6 1081.5 L451.9 1090.8 L454.2 1100.3 L456.5 1110.1 L458.7 1120.1 L461 1130.3 L463.3 1140.4 L465.6 1150.5 L467.9 1160.5 L470.2 1170.4 L472.5 1179.9 L474.7 1189.1 L477 1198 L479.3 1206.3 L481.6 1214.2 L483.9 1221.4 L486.2 1228 L488.4 1234 L490.7 1239.2 L493 1243.6 L495.3 1247.2 L497.6 1250 L499.9 1251.9 L502.2 1253 L504.4 1253.2 L506.7 1252.7 L509 1251.5 L511.3 1249.6 L513.6 1247.2 L515.9 1244.1 L518.2 1240.4 L520.4 1236.1 L522.7 1231.2 L525 1225.9 L527.3 1220 L529.6 1213.8 L531.9 1207.1 L534.1 1200 L536.4 1192.7 L538.7 1185 L541 1177.2 L543.3 1169.2 L545.6 1161.1 L547.9 1152.9 L550.1 1144.8 L552.4 1136.7 L554.7 1128.7 L557 1120.8 L559.3 1113.2 L561.6 1105.9 L563.8 1098.8 L566.1 1092.1 L568.4 1085.8 L570.7 1080 L573 1074.6 L575.3 1069.8 L577.6 1065.5 L579.8 1061.8 L582.1 1058.7 L584.4 1056.3 L586.7 1054.4 L589 1053.2 L591.3 1052.7 L593.6 1052.9 L595.8 1053.7 L598.1 1055.2 L600.4 1057.4 L602.7 1060.2 L605 1063.6 L607.3 1067.6 L609.5 1072.2 L611.8 1077.4 L614.1 1083 L616.4 1089.1" stroke="#2222CC" fill="none" stroke-width="2.4"/>
<line x1="390.2" y1="1013.5" x2="390.2" y2="1256.5" stroke="#666" stroke-width="1.2"/>
<line x1="389.7" y1="1256" x2="616.4" y2="1256" stroke="#666" stroke-width="1.2"/>
<line x1="390.2" y1="1013.5" x2="393.2" y2="1013.5" stroke="#666" stroke-width="1.2"/>
<line x1="616.4" y1="1016" x2="616.4" y2="1256" stroke="#222" stroke-width="1.5" stroke-dasharray="1.5 3.8"/>
<text x="367" y="1025.9" font-size="33.2">4</text>
<text x="367" y="1268.2" font-size="33.2">2</text>
<text x="374.8" y="1299.3" font-size="33.2">20</text>
<text x="600.5" y="1299.3" font-size="33.2">80</text>
<text x="620.6" y="1038.3" font-size="33.2">8.2</text>
<text x="620.4" y="1265" font-size="33.2">7.6</text>
<text x="368" y="1328.5" font-size="33.2">Rescaled Flight %</text>
<text x="322.8" y="1174.4" font-size="33.2" transform="rotate(-90 322.8 1174.4)">Flight</text>
<text x="359.6" y="1227.4" font-size="33" transform="rotate(-90 359.6 1227.4)">Speed (ms<tspan font-size="16.5" dy="-16">-1</tspan><tspan dy="16">)</tspan></text>
<text x="693.6" y="1204.7" font-size="33.2" transform="rotate(-90 693.6 1204.7)">Wingbeat</text>
<text x="730.9" y="1249.5" font-size="33.2" transform="rotate(-90 730.9 1249.5)">Frequency (Hz)</text>
<g><path d="M914.8 903 L914.8 892.4 L916.1 892.4 L917.4 893.8 L918.8 894.4 L920.1 893.7 L921.4 894.5 L922.7 894.3 L924.1 894 L925.4 892 L926.7 894.1 L928 893.7 L929.4 895.3 L930.7 893.6 L932 895.6 L933.3 895.4 L934.7 896.1 L936 895.5 L937.3 896.6 L938.6 896.1 L940 895 L941.3 896.7 L942.6 895.3 L943.9 896.8 L945.3 896.5 L946.6 895.9 L947.9 896.4 L949.2 896.5 L950.6 894.8 L951.9 897 L953.2 896.9 L954.5 895.7 L955.9 897.5 L957.2 897.9 L958.5 897.6 L959.8 898.2 L961.2 898.3 L962.5 897.6 L963.8 892.7 L965.1 898.1 L966.5 897.8 L967.8 897.7 L969.1 897.3 L970.4 897.1 L971.8 896.4 L973.1 898.2 L974.4 898.7 L975.7 898.1 L977.1 897.5 L978.4 898 L979.7 899 L981 898.9 L982.4 897.4 L983.7 898.7 L985 898.8 L986.3 898 L987.7 898.6 L989 897.3 L990.3 898.8 L991.6 898.3 L993 898.6 L994.3 898.1 L995.6 899.4 L996.9 895.8 L998.3 898.8 L999.6 898 L1000.9 899.3 L1002.2 899.1 L1003.6 897.9 L1004.9 899.4 L1006.2 898 L1007.5 896.3 L1008.9 898.3 L1010.2 898 L1011.5 898.6 L1012.8 898.9 L1014.2 898.8 L1015.5 899 L1016.8 897.6 L1018.1 896.9 L1019.5 898.7 L1020.8 898 L1022.1 897.7 L1023.4 898.6 L1024.8 897.7 L1026.1 897.8 L1027.4 897.1 L1028.7 896.1 L1030.1 897.2 L1031.4 896.7 L1032.7 897 L1034 896.3 L1035.4 894.8 L1036.2 893.5 L1036.6 895.8 L1036.9 893.7 L1037.2 895.1 L1037.6 895.3 L1037.9 895.1 L1038.2 894.4 L1038.6 895 L1038.9 894.5 L1039.2 894.7 L1039.6 893.3 L1039.9 894.7 L1040.2 894.6 L1040.5 892.8 L1040.9 892.6 L1041.2 893.4 L1041.5 892.8 L1041.9 892.9 L1042.2 892.1 L1042.5 892.7 L1042.9 890.9 L1043.2 891.3 L1043.5 890.1 L1043.9 889.6 L1044.2 890.1 L1044.5 890.2 L1044.9 888.4 L1045.2 886.9 L1045.5 887.7 L1045.8 887.2 L1046.2 887.9 L1046.5 887.5 L1046.8 886 L1047.2 886.1 L1047.5 884.9 L1047.8 882.1 L1048.2 884.3 L1048.5 883.2 L1048.8 881.5 L1049.2 880 L1049.5 879.9 L1049.8 878.6 L1050.2 876.6 L1050.5 873.8 L1050.8 873.7 L1051.1 871.1 L1051.5 869.5 L1051.8 865.4 L1052.1 865.5 L1052.5 860.6 L1052.8 858.7 L1053.1 855 L1053.5 851 L1053.8 846.1 L1054.1 843.1 L1054.5 836.9 L1054.8 830.1 L1055.1 824.1 L1055.4 815.6 L1055.8 806 L1056.1 795.6 L1056.4 785.7 L1056.8 772.6 L1057.1 758.1 L1057.4 740.3 L1057.8 725.3 L1058.1 710.2 L1058.4 695.6 L1058.8 680.3 L1059.1 670.4 L1059.4 664.6 L1059.8 664.6 L1060.1 665.8 L1060.4 673.1 L1060.7 685.1 L1061.1 700.4 L1061.4 716.9 L1061.7 730.7 L1062.1 747.4 L1062.4 763.8 L1062.7 777 L1063.1 789.7 L1063.4 800.2 L1063.7 810.7 L1064.1 819.2 L1064.4 826.8 L1064.7 833.2 L1065.1 839.7 L1065.4 843 L1065.7 849.4 L1066 853 L1066.4 857.5 L1066.7 860.1 L1067 863.5 L1067.4 866.1 L1067.7 867.6 L1068 868 L1068.4 872.7 L1068.7 875 L1069 876.5 L1069.4 876.4 L1069.7 878.7 L1070 879.1 L1070.4 880.4 L1070.7 882.8 L1071 883 L1071.3 883.5 L1071.7 883.1 L1072 884.7 L1072.3 886.9 L1072.7 887.6 L1073 888.1 L1073.3 888.6 L1073.7 888.8 L1074 888.9 L1074.3 889.5 L1074.7 889.8 L1075 890.8 L1075.3 890.9 L1075.7 891.7 L1076 889.5 L1076.3 891.6 L1076.6 893 L1077 893.1 L1077.3 892.9 L1077.6 893.5 L1078 893.1 L1078.3 891.6 L1078.6 893.9 L1079 893.4 L1079.3 892.5 L1079.6 894.3 L1080 895.2 L1080.3 894.4 L1080.6 894.2 L1081 895.4 L1081.3 894.5 L1081.6 894.3 L1081.9 895 L1082.3 895.2 L1082.6 894.9 L1082.9 896.4 L1083.3 893.1 L1083.6 894.6 L1083.9 896.3 L1084.3 896.7 L1084.6 896 L1084.9 897.1 L1085.3 897.3 L1085.6 896.5 L1085.9 897.5 L1086.3 895.7 L1086.6 896.6 L1086.9 895.9 L1087.2 896.3 L1087.6 897.7 L1087.9 897.9 L1088.2 897.9 L1088.6 898.1 L1088.9 895.9 L1089.2 897.1 L1089.6 897.5 L1089.9 898.2 L1090.2 895 L1090.6 898.2 L1090.9 896.7 L1091.2 895.6 L1091.6 896.6 L1091.9 898.1 L1092.2 897.8 L1092.5 896.6 L1092.9 897.3 L1093.2 898.5 L1093.5 898.1 L1093.9 898.6 L1094.2 897.9 L1094.5 897.9 L1094.9 897.8 L1095.2 897.9 L1095.5 896.9 L1095.9 897.9 L1096.2 897.2 L1096.5 897.5 L1096.8 896.9 L1097.2 897.8 L1097.5 898.4 L1097.8 899.1 L1098.2 896.4 L1098.5 896.9 L1098.8 898.6 L1099.2 898.5 L1099.5 897 L1099.8 898.3 L1100.2 899.1 L1100.5 899.3 L1100.8 897.7 L1101.2 898.4 L1101.5 898.5 L1101.8 898.2 L1102.1 899.1 L1102.5 899.3 L1102.8 899.4 L1103.1 899.4 L1103.5 898.8 L1103.8 899.4 L1104.1 897.5 L1104.5 898.9 L1104.8 898.5 L1105.1 899.4 L1105.5 899.2 L1105.8 899.4 L1106.1 897.1 L1106.5 899.7 L1106.8 898.1 L1107.1 898.5 L1107.4 899 L1107.8 898.5 L1108.1 899 L1108.4 898.9 L1108.8 899.8 L1109.1 898 L1109.4 899.1 L1109.8 897.6 L1110.1 899.6 L1110.4 898.2 L1110.8 900 L1111.1 899.9 L1111.4 897.5 L1111.8 899.1 L1112.1 899.1 L1112.4 898.3 L1112.7 900 L1113.1 899.2 L1113.4 899.8 L1113.5 899 L1114.6 900 L1115.7 898.8 L1116.8 900.1 L1117.9 900.1 L1119 899.7 L1120.1 899.3 L1121.2 900.1 L1122.4 899.8 L1123.5 899.4 L1124.6 899.9 L1125.7 899.7 L1126.8 900.2 L1127.9 900.3 L1129 900.4 L1130.1 900.5 L1131.2 900.4 L1132.3 898.5 L1133.4 899 L1134.5 899.8 L1135.6 900.1 L1136.7 900.2 L1137.8 900.5 L1138.9 900.3 L1140 899.8 L1141.1 898.8 L1142.2 897.3 L1143.3 900.5 L1144.4 899.1 L1145.5 899.5 L1146.6 900.1 L1147.7 900.2 L1148.8 900.4 L1150 899.6 L1151.1 900.4 L1152.2 900.6 L1153.3 897.5 L1154.4 900.5 L1155.5 900.6 L1156.6 897.4 L1157.7 899.9 L1158.8 900.8 L1159.9 900.6 L1161 900.4 L1162.1 900.2 L1163.2 899.3 L1164.3 900.2 L1165.4 900.2 L1166.5 897.8 L1167.6 898.4 L1168.7 900.2 L1169.8 900.3 L1170.9 900.5 L1172 900.1 L1173.1 899.9 L1174.2 899.5 L1175.3 898.3 L1176.4 899.5 L1177.6 898.7 L1178.7 898.4 L1179.8 899.7 L1180.9 900.6 L1182 900.2 L1183.1 900.4 L1184.2 898.6 L1185.3 900.7 L1186.4 900.1 L1187.5 900.9 L1188.6 900.2 L1189.7 900.2 L1190.8 900.8 L1191.9 899.3 L1193 900.8 L1194.1 899.1 L1195.2 899.6 L1196.3 900.3 L1197.4 899.4 L1198.5 900.6 L1199.6 899.1 L1200.7 897.7 L1201.8 887.6 L1202.9 898.4 L1204 898.4 L1205.2 900.2 L1206.3 898.3 L1207.4 900 L1208.5 896.6 L1209.6 897.5 L1210.7 898.7 L1211.8 899.1 L1212.9 898.4 L1214 897.9 L1215.1 896.5 L1216.2 896.6 L1217.3 896 L1218.4 895 L1219.5 895.5 L1220.6 890.6 L1221.7 891.1 L1222.8 892.3 L1223.9 891.5 L1225 890.3 L1226.1 890.1 L1227.2 887 L1228.3 888.2 L1229.4 887.7 L1230.5 883.9 L1231.6 883.1 L1232.8 884.8 L1233.9 882.1 L1235 882.9 L1236.1 879.6 L1237.2 882.3 L1238.3 882.3 L1239.4 881.2 L1240.5 882.1 L1241.6 880.6 L1242.7 881.9 L1243.8 880.8 L1244.9 882.3 L1246 881.9 L1247.1 883.4 L1248.2 884.5 L1249.3 885.4 L1250.4 885.1 L1251.5 887.5 L1252.6 883.8 L1253.7 888.9 L1254.8 886.3 L1255.9 891.1 L1257 891.7 L1258.1 891.2 L1259.2 894 L1260.4 894.4 L1261.5 880.7 L1262.6 895.6 L1263.7 894.2 L1264.8 895.6 L1265.9 882.2 L1267 897.2 L1268.1 892.8 L1269.2 899 L1270.3 899.3 L1271.4 899.4 L1272.5 898.2 L1273.6 899.6 L1274.7 899 L1275.8 898.3 L1276.9 900.1 L1278 898.2 L1279.1 898.5 L1280.2 900.7 L1281.3 900.7 L1282.4 900.2 L1283.5 899.1 L1284.6 900.6 L1285.7 900.3 L1286.8 900.4 L1288 899.4 L1289.1 897.4 L1290.2 900.1 L1291.3 898.1 L1292.4 899.9 L1293.5 900.9 L1294.6 900.9 L1295.7 899.3 L1296.8 901 L1297.9 899.1 L1299 898.2 L1300.1 900.9 L1301.2 899.4 L1302.3 900.7 L1303.4 899.2 L1304.5 900.5 L1305.6 898.9 L1306.7 900.5 L1307.8 900.4 L1308.9 900.2 L1310 899.2 L1311.1 900.8 L1312.2 899.8 L1313.3 898.3 L1314.4 900.6 L1315.6 900.2 L1316.7 900.2 L1317.8 899 L1318.9 899.7 L1320 900.1 L1321.1 900 L1322.2 899.8 L1323.3 900.2 L1324.4 900.9 L1325.5 901 L1326.6 901 L1327.7 900.7 L1328.8 901.1 L1329.9 900.4 L1331 898.7 L1332.1 899.9 L1333.2 900.3 L1334.3 899.8 L1334.3 903Z" fill="#f046eb" fill-opacity="0.4" stroke="#f046eb" stroke-width="0.8"/><path d="M914.8 903 L914.8 893.3 L916.1 892.7 L917.4 892.2 L918.8 894.3 L920.1 893.8 L921.4 892.3 L922.7 894.5 L924.1 895 L925.4 894.7 L926.7 895.2 L928 893.8 L929.4 894.5 L930.7 894.4 L932 896 L933.3 895.8 L934.7 895.9 L936 896 L937.3 894.3 L938.6 896.2 L940 895.6 L941.3 896.9 L942.6 896.4 L943.9 897.1 L945.3 896.9 L946.6 896.9 L947.9 894.8 L949.2 896.4 L950.6 897.1 L951.9 896.7 L953.2 897.7 L954.5 897.7 L955.9 896.6 L957.2 897.3 L958.5 897.1 L959.8 896.1 L961.2 897.4 L962.5 897.7 L963.8 897.7 L965.1 897 L966.5 898.2 L967.8 897.9 L969.1 897.3 L970.4 897.1 L971.8 898.7 L973.1 896.3 L974.4 896.1 L975.7 897.8 L977.1 896.8 L978.4 898.2 L979.7 897.6 L981 898.7 L982.4 899 L983.7 898.9 L985 898.9 L986.3 899 L987.7 898.7 L989 898.7 L990.3 898.2 L991.6 898.6 L993 898.1 L994.3 898.8 L995.6 897.2 L996.9 899.1 L998.3 897.3 L999.6 897.7 L1000.9 898.4 L1002.2 898.6 L1003.6 898.6 L1004.9 899.2 L1006.2 896.4 L1007.5 899.2 L1008.9 898.9 L1010.2 898.5 L1011.5 896.8 L1012.8 894 L1014.2 898.6 L1015.5 896.9 L1016.8 898.5 L1018.1 898.4 L1019.5 898.4 L1020.8 897.6 L1022.1 897.8 L1023.4 898.4 L1024.8 897.3 L1026.1 898.3 L1027.4 898 L1028.7 896.8 L1030.1 897.2 L1031.4 896.1 L1032.7 896.2 L1034 897.2 L1035.4 895.4 L1036.2 896.8 L1036.6 895 L1036.9 892 L1037.2 894.8 L1037.6 894.7 L1037.9 894.3 L1038.2 895.3 L1038.6 895.8 L1038.9 895.5 L1039.2 894.7 L1039.6 895.1 L1039.9 895.3 L1040.2 894.7 L1040.5 895 L1040.9 894.9 L1041.2 894 L1041.5 894.8 L1041.9 892.3 L1042.2 892.4 L1042.5 891.8 L1042.9 894 L1043.2 893.3 L1043.5 893 L1043.9 893 L1044.2 891.3 L1044.5 891.3 L1044.9 892.5 L1045.2 892 L1045.5 891.3 L1045.8 890.8 L1046.2 889.4 L1046.5 889.9 L1046.8 889.9 L1047.2 889.8 L1047.5 889.4 L1047.8 888.9 L1048.2 888.4 L1048.5 887.6 L1048.8 887.3 L1049.2 886.2 L1049.5 884.3 L1049.8 884.4 L1050.2 882.5 L1050.5 883.4 L1050.8 882.2 L1051.1 882 L1051.5 880.8 L1051.8 877.4 L1052.1 876.6 L1052.5 876.6 L1052.8 875.1 L1053.1 873.1 L1053.5 872.9 L1053.8 868.4 L1054.1 866.7 L1054.5 865.9 L1054.8 864.1 L1055.1 860.6 L1055.4 856.9 L1055.8 855.1 L1056.1 851.5 L1056.4 846.9 L1056.8 842.5 L1057.1 835.7 L1057.4 830.6 L1057.8 823.5 L1058.1 816.2 L1058.4 809.6 L1058.8 798.3 L1059.1 789.6 L1059.4 777.3 L1059.8 764.8 L1060.1 751.2 L1060.4 735.2 L1060.7 721.1 L1061.1 707.4 L1061.4 692 L1061.7 680 L1062.1 670 L1062.4 664.6 L1062.7 664.6 L1063.1 664.6 L1063.4 672.2 L1063.7 682.8 L1064.1 694.6 L1064.4 710.8 L1064.7 725.8 L1065.1 739.8 L1065.4 754.2 L1065.7 768 L1066 780 L1066.4 791.7 L1066.7 802.5 L1067 811.8 L1067.4 817.4 L1067.7 826.8 L1068 832.9 L1068.4 837.8 L1068.7 843.9 L1069 848.1 L1069.4 851.5 L1069.7 856.2 L1070 859.3 L1070.4 860.7 L1070.7 865.1 L1071 866.8 L1071.3 869.6 L1071.7 871 L1072 873.2 L1072.3 872.1 L1072.7 874.4 L1073 876.4 L1073.3 878.6 L1073.7 880.4 L1074 881.4 L1074.3 880.9 L1074.7 882.1 L1075 882.7 L1075.3 884.6 L1075.7 884.9 L1076 884.5 L1076.3 885.3 L1076.6 886.3 L1077 888.2 L1077.3 888.4 L1077.6 889.2 L1078 886.9 L1078.3 890 L1078.6 890.7 L1079 887.6 L1079.3 889.6 L1079.6 891.7 L1080 890.7 L1080.3 892.1 L1080.6 891.2 L1081 892.8 L1081.3 892.9 L1081.6 893.1 L1081.9 893.5 L1082.3 893.7 L1082.6 893.6 L1082.9 892.4 L1083.3 893.9 L1083.6 894.5 L1083.9 894.1 L1084.3 895 L1084.6 894.6 L1084.9 894.4 L1085.3 893.7 L1085.6 895.3 L1085.9 894.5 L1086.3 893.3 L1086.6 894.7 L1086.9 895.3 L1087.2 894.7 L1087.6 894.6 L1087.9 896.3 L1088.2 896.2 L1088.6 895.3 L1088.9 895.5 L1089.2 896.8 L1089.6 895.1 L1089.9 896.4 L1090.2 896.9 L1090.6 894.9 L1090.9 895.8 L1091.2 897 L1091.6 897.5 L1091.9 897.1 L1092.2 897.6 L1092.5 896.8 L1092.9 897.7 L1093.2 896.3 L1093.5 897.4 L1093.9 897.8 L1094.2 897 L1094.5 897.7 L1094.9 897.5 L1095.2 897.9 L1095.5 896.8 L1095.9 895.7 L1096.2 898.4 L1096.5 897.8 L1096.8 896.7 L1097.2 897.5 L1097.5 897.9 L1097.8 897.7 L1098.2 898 L1098.5 896.5 L1098.8 897.6 L1099.2 897.8 L1099.5 895.8 L1099.8 897.5 L1100.2 897.4 L1100.5 896.7 L1100.8 897.4 L1101.2 897.4 L1101.5 896.4 L1101.8 898.1 L1102.1 899 L1102.5 898.2 L1102.8 898.8 L1103.1 898.3 L1103.5 896.9 L1103.8 898.1 L1104.1 899.4 L1104.5 899 L1104.8 898.5 L1105.1 898.1 L1105.5 898.1 L1105.8 898.3 L1106.1 898.9 L1106.5 899.4 L1106.8 898.1 L1107.1 899.6 L1107.4 898.6 L1107.8 897.2 L1108.1 899.7 L1108.4 899.7 L1108.8 898.6 L1109.1 899.4 L1109.4 898.4 L1109.8 898.9 L1110.1 896.3 L1110.4 898.3 L1110.8 898 L1111.1 897.7 L1111.4 898.8 L1111.8 899.5 L1112.1 899.1 L1112.4 899.2 L1112.7 897.5 L1113.1 898.7 L1113.4 898.3 L1113.5 898.3 L1114.6 899.7 L1115.7 899.6 L1116.8 899.6 L1117.9 899.4 L1119 898.9 L1120.1 897.5 L1121.2 900 L1122.4 899.6 L1123.5 900 L1124.6 897.9 L1125.7 899.5 L1126.8 899.4 L1127.9 899.6 L1129 898.3 L1130.1 899 L1131.2 900.1 L1132.3 900.2 L1133.4 899.7 L1134.5 898.5 L1135.6 899.9 L1136.7 899.2 L1137.8 897.6 L1138.9 900.6 L1140 898.5 L1141.1 899.7 L1142.2 900.1 L1143.3 899.7 L1144.4 899.7 L1145.5 900.3 L1146.6 899.7 L1147.7 898.5 L1148.8 900.2 L1150 897.8 L1151.1 900.4 L1152.2 899.4 L1153.3 899 L1154.4 899.9 L1155.5 900.1 L1156.6 900.7 L1157.7 899.6 L1158.8 898.1 L1159.9 900 L1161 899.5 L1162.1 898.9 L1163.2 899.9 L1164.3 900.2 L1165.4 900.2 L1166.5 900.4 L1167.6 899.8 L1168.7 900.3 L1169.8 899.4 L1170.9 900.2 L1172 898.9 L1173.1 899.9 L1174.2 899.2 L1175.3 897.8 L1176.4 899.6 L1177.6 899.4 L1178.7 898.4 L1179.8 900 L1180.9 899.8 L1182 898 L1183.1 900.7 L1184.2 900.1 L1185.3 900.8 L1186.4 897 L1187.5 900.6 L1188.6 899.7 L1189.7 899 L1190.8 900.3 L1191.9 898.5 L1193 900.6 L1194.1 899.6 L1195.2 899.7 L1196.3 900.1 L1197.4 900.2 L1198.5 900.7 L1199.6 899.8 L1200.7 899.8 L1201.8 896.7 L1202.9 900.5 L1204 900.2 L1205.2 899.6 L1206.3 900.5 L1207.4 900.1 L1208.5 898.3 L1209.6 898 L1210.7 899.6 L1211.8 899.7 L1212.9 895.9 L1214 896.3 L1215.1 898.6 L1216.2 898.6 L1217.3 897.4 L1218.4 896.1 L1219.5 896.5 L1220.6 896.4 L1221.7 895.5 L1222.8 895.4 L1223.9 893.5 L1225 893.5 L1226.1 892.2 L1227.2 891.8 L1228.3 891.6 L1229.4 889.5 L1230.5 889.6 L1231.6 889.1 L1232.8 888.3 L1233.9 887.2 L1235 887 L1236.1 886 L1237.2 886.4 L1238.3 884.6 L1239.4 885.7 L1240.5 884.3 L1241.6 884.8 L1242.7 884.5 L1243.8 885.6 L1244.9 884.1 L1246 884.1 L1247.1 883.8 L1248.2 886.5 L1249.3 887 L1250.4 888.1 L1251.5 888.3 L1252.6 885.6 L1253.7 888.9 L1254.8 891.2 L1255.9 892 L1257 891.2 L1258.1 891.8 L1259.2 893.3 L1260.4 894.5 L1261.5 895 L1262.6 895.2 L1263.7 895.2 L1264.8 896.9 L1265.9 895.8 L1267 897.1 L1268.1 897.1 L1269.2 894.9 L1270.3 898.2 L1271.4 899 L1272.5 899.1 L1273.6 898.3 L1274.7 899.7 L1275.8 900.3 L1276.9 899.1 L1278 900.2 L1279.1 900.1 L1280.2 900.1 L1281.3 899.3 L1282.4 900.6 L1283.5 898.8 L1284.6 900 L1285.7 899.8 L1286.8 899.8 L1288 900.4 L1289.1 900.9 L1290.2 900.7 L1291.3 900.8 L1292.4 900.1 L1293.5 900.3 L1294.6 898.1 L1295.7 900 L1296.8 900.3 L1297.9 898.2 L1299 897.6 L1300.1 901 L1301.2 900.8 L1302.3 899.5 L1303.4 899.4 L1304.5 900.8 L1305.6 899.8 L1306.7 900.5 L1307.8 899.1 L1308.9 900.1 L1310 897.9 L1311.1 899.4 L1312.2 900.4 L1313.3 901 L1314.4 900.3 L1315.6 899.3 L1316.7 899.8 L1317.8 899.5 L1318.9 900.7 L1320 900 L1321.1 899.3 L1322.2 900.8 L1323.3 899.2 L1324.4 898.6 L1325.5 900.2 L1326.6 900.4 L1327.7 900.7 L1328.8 900.7 L1329.9 898.6 L1331 900.8 L1332.1 899 L1333.2 900.8 L1334.3 900.9 L1334.3 903Z" fill="#f04be0" fill-opacity="0.4" stroke="#f04be0" stroke-width="0.8"/><path d="M914.8 903 L914.8 893.2 L916.1 892.7 L917.4 889.7 L918.8 893.6 L920.1 893.2 L921.4 893.1 L922.7 894.5 L924.1 894.3 L925.4 894.7 L926.7 895.3 L928 894.9 L929.4 894.3 L930.7 894.8 L932 895.8 L933.3 894.4 L934.7 896.3 L936 894.4 L937.3 896.4 L938.6 893.4 L940 896.1 L941.3 895.7 L942.6 896.4 L943.9 894.1 L945.3 896.7 L946.6 897.3 L947.9 895.9 L949.2 896.9 L950.6 897.4 L951.9 895.9 L953.2 895.5 L954.5 897.2 L955.9 896.6 L957.2 896.5 L958.5 897.5 L959.8 896.9 L961.2 897 L962.5 897.6 L963.8 895.3 L965.1 898.2 L966.5 896.4 L967.8 896.1 L969.1 896.9 L970.4 897.9 L971.8 896.7 L973.1 897.5 L974.4 898.2 L975.7 898.9 L977.1 886.7 L978.4 898.1 L979.7 895.6 L981 897.5 L982.4 896.6 L983.7 899 L985 897.2 L986.3 898.5 L987.7 899.1 L989 897.8 L990.3 899.1 L991.6 897.9 L993 897.9 L994.3 897.3 L995.6 898.5 L996.9 896.8 L998.3 899.2 L999.6 899.1 L1000.9 896.3 L1002.2 898.4 L1003.6 897.9 L1004.9 898.6 L1006.2 897.6 L1007.5 898.9 L1008.9 897.7 L1010.2 897.7 L1011.5 898.5 L1012.8 896.9 L1014.2 897.7 L1015.5 898.1 L1016.8 898.8 L1018.1 898.5 L1019.5 897.7 L1020.8 896.7 L1022.1 897.9 L1023.4 898.2 L1024.8 898 L1026.1 898.1 L1027.4 896.4 L1028.7 896.9 L1030.1 897.3 L1031.4 896 L1032.7 895.9 L1034 896.5 L1035.4 896.3 L1036.2 896.5 L1036.6 895.6 L1036.9 896.2 L1037.2 894.5 L1037.6 896.2 L1037.9 892.5 L1038.2 895.8 L1038.6 894 L1038.9 894.6 L1039.2 894.5 L1039.6 894.9 L1039.9 894.7 L1040.2 894.6 L1040.5 894.9 L1040.9 894.7 L1041.2 890 L1041.5 893.3 L1041.9 893.7 L1042.2 893 L1042.5 892.6 L1042.9 892.8 L1043.2 892.8 L1043.5 890.1 L1043.9 890.5 L1044.2 892.6 L1044.5 891.5 L1044.9 892 L1045.2 890.9 L1045.5 889.4 L1045.8 888.4 L1046.2 888.8 L1046.5 888.9 L1046.8 888 L1047.2 888.6 L1047.5 888.9 L1047.8 886.6 L1048.2 887.5 L1048.5 885.6 L1048.8 885.3 L1049.2 883.4 L1049.5 883.9 L1049.8 884.6 L1050.2 881.4 L1050.5 882 L1050.8 879.5 L1051.1 880.7 L1051.5 877 L1051.8 877.1 L1052.1 877.2 L1052.5 875.3 L1052.8 874.3 L1053.1 871.6 L1053.5 869.5 L1053.8 868.1 L1054.1 865.6 L1054.5 864.5 L1054.8 861.8 L1055.1 857.1 L1055.4 854.3 L1055.8 851.1 L1056.1 848 L1056.4 841.4 L1056.8 838.8 L1057.1 832.7 L1057.4 824.6 L1057.8 817.9 L1058.1 809.5 L1058.4 802.8 L1058.8 792.5 L1059.1 780.9 L1059.4 770.8 L1059.8 756.6 L1060.1 743.5 L1060.4 727.3 L1060.7 713.2 L1061.1 699.1 L1061.4 685.1 L1061.7 675.2 L1062.1 665.8 L1062.4 664.6 L1062.7 664.6 L1063.1 664.7 L1063.4 672.1 L1063.7 686.7 L1064.1 700.4 L1064.4 713.6 L1064.7 728.7 L1065.1 744.5 L1065.4 756.8 L1065.7 771 L1066 783.2 L1066.4 793.8 L1066.7 803.2 L1067 810.7 L1067.4 819.4 L1067.7 825.7 L1068 833.1 L1068.4 837.4 L1068.7 842.9 L1069 848.4 L1069.4 851.9 L1069.7 855.7 L1070 858.2 L1070.4 859.3 L1070.7 863.8 L1071 866.2 L1071.3 869.3 L1071.7 871.2 L1072 872.8 L1072.3 873.8 L1072.7 876.2 L1073 876.5 L1073.3 878.7 L1073.7 878.8 L1074 880.7 L1074.3 882.2 L1074.7 882.9 L1075 883.3 L1075.3 884.2 L1075.7 883 L1076 886 L1076.3 885.6 L1076.6 887 L1077 886.9 L1077.3 887.4 L1077.6 889 L1078 889.5 L1078.3 889.5 L1078.6 889.6 L1079 890.9 L1079.3 890.2 L1079.6 889.3 L1080 891.9 L1080.3 891.3 L1080.6 892.4 L1081 891.3 L1081.3 891.2 L1081.6 891.6 L1081.9 893.5 L1082.3 891.2 L1082.6 893.2 L1082.9 894.2 L1083.3 892.8 L1083.6 893 L1083.9 894.5 L1084.3 894.8 L1084.6 894.6 L1084.9 894.2 L1085.3 893.7 L1085.6 895.5 L1085.9 893 L1086.3 895.2 L1086.6 893.1 L1086.9 894.9 L1087.2 896.1 L1087.6 896.1 L1087.9 896.1 L1088.2 895.5 L1088.6 896.2 L1088.9 894.6 L1089.2 896.6 L1089.6 896.1 L1089.9 896.2 L1090.2 897.3 L1090.6 895.8 L1090.9 896.9 L1091.2 896.3 L1091.6 897.1 L1091.9 897.7 L1092.2 896.8 L1092.5 894.3 L1092.9 897.1 L1093.2 897.9 L1093.5 895.4 L1093.9 895.4 L1094.2 897 L1094.5 897 L1094.9 898.3 L1095.2 897.2 L1095.5 897.9 L1095.9 898.4 L1096.2 897.3 L1096.5 898.4 L1096.8 898 L1097.2 896.9 L1097.5 898 L1097.8 898.6 L1098.2 897.1 L1098.5 898.7 L1098.8 898.3 L1099.2 898.5 L1099.5 898 L1099.8 894.9 L1100.2 898.1 L1100.5 897.5 L1100.8 898.1 L1101.2 896.7 L1101.5 897.4 L1101.8 898 L1102.1 899.1 L1102.5 898.6 L1102.8 897.7 L1103.1 899.2 L1103.5 899.1 L1103.8 897.4 L1104.1 896.5 L1104.5 899 L1104.8 898.9 L1105.1 896.4 L1105.5 899.4 L1105.8 899.4 L1106.1 899.4 L1106.5 898.9 L1106.8 898.6 L1107.1 898.8 L1107.4 899.5 L1107.8 897.1 L1108.1 897.5 L1108.4 899.1 L1108.8 899.3 L1109.1 899.4 L1109.4 898.3 L1109.8 899.1 L1110.1 899.6 L1110.4 899.2 L1110.8 899 L1111.1 899.8 L1111.4 899.8 L1111.8 899.1 L1112.1 899.8 L1112.4 899.8 L1112.7 899.3 L1113.1 899 L1113.4 899.8 L1113.5 899 L1114.6 898.5 L1115.7 899.8 L1116.8 899.7 L1117.9 900.1 L1119 897.5 L1120.1 898.9 L1121.2 898.9 L1122.4 900.2 L1123.5 899.6 L1124.6 899.8 L1125.7 898.1 L1126.8 900.3 L1127.9 898.6 L1129 899.6 L1130.1 898.3 L1131.2 899.1 L1132.3 899.3 L1133.4 899.1 L1134.5 899.3 L1135.6 898 L1136.7 899.2 L1137.8 900.2 L1138.9 899.2 L1140 899.5 L1141.1 900.6 L1142.2 899.9 L1143.3 898.2 L1144.4 899.6 L1145.5 900.5 L1146.6 898.1 L1147.7 898.9 L1148.8 899.7 L1150 900.2 L1151.1 900.1 L1152.2 898.8 L1153.3 898.1 L1154.4 898.7 L1155.5 899 L1156.6 900 L1157.7 898.5 L1158.8 899.3 L1159.9 900.7 L1161 900.4 L1162.1 899 L1163.2 900.8 L1164.3 900.5 L1165.4 899.5 L1166.5 900.4 L1167.6 899.6 L1168.7 900.8 L1169.8 899.7 L1170.9 899.9 L1172 899.7 L1173.1 899.5 L1174.2 898.2 L1175.3 900.7 L1176.4 898.4 L1177.6 900.1 L1178.7 900.5 L1179.8 900.5 L1180.9 899.3 L1182 900.3 L1183.1 900.3 L1184.2 898.8 L1185.3 900.3 L1186.4 900.6 L1187.5 900.8 L1188.6 898.4 L1189.7 900.2 L1190.8 899.6 L1191.9 898.2 L1193 900.7 L1194.1 897.8 L1195.2 899.9 L1196.3 900.2 L1197.4 900.2 L1198.5 900.7 L1199.6 900.2 L1200.7 898.1 L1201.8 899.4 L1202.9 899.1 L1204 900.3 L1205.2 896.8 L1206.3 899.8 L1207.4 899.3 L1208.5 899.8 L1209.6 899.6 L1210.7 899.4 L1211.8 899.4 L1212.9 897.7 L1214 898.5 L1215.1 898 L1216.2 891.8 L1217.3 897.6 L1218.4 897 L1219.5 896.5 L1220.6 895.6 L1221.7 892.2 L1222.8 894.2 L1223.9 891.7 L1225 891.7 L1226.1 889.6 L1227.2 891.2 L1228.3 889.2 L1229.4 888.6 L1230.5 887.7 L1231.6 887.6 L1232.8 885.6 L1233.9 885 L1235 885.4 L1236.1 884.8 L1237.2 882.2 L1238.3 883.5 L1239.4 882.2 L1240.5 881.8 L1241.6 881.8 L1242.7 882.7 L1243.8 881 L1244.9 881.9 L1246 881.9 L1247.1 884.5 L1248.2 883.5 L1249.3 883.6 L1250.4 886.2 L1251.5 878.4 L1252.6 886.1 L1253.7 888.1 L1254.8 889.5 L1255.9 890.8 L1257 891.4 L1258.1 892.4 L1259.2 892.5 L1260.4 893 L1261.5 893.5 L1262.6 895.7 L1263.7 895.3 L1264.8 895.7 L1265.9 883 L1267 897.2 L1268.1 897.7 L1269.2 897.1 L1270.3 890.8 L1271.4 888.4 L1272.5 898.5 L1273.6 898.4 L1274.7 899.8 L1275.8 899.8 L1276.9 899.7 L1278 900.5 L1279.1 888.7 L1280.2 898.6 L1281.3 900 L1282.4 899.4 L1283.5 898.9 L1284.6 900.8 L1285.7 900.3 L1286.8 899.1 L1288 900.8 L1289.1 899.4 L1290.2 900.9 L1291.3 900 L1292.4 898.8 L1293.5 900.4 L1294.6 900.3 L1295.7 900.6 L1296.8 899.4 L1297.9 900.7 L1299 900.7 L1300.1 899.7 L1301.2 900.6 L1302.3 900.6 L1303.4 896 L1304.5 899.8 L1305.6 901 L1306.7 900.8 L1307.8 900.6 L1308.9 901 L1310 900.7 L1311.1 899.2 L1312.2 900.9 L1313.3 900.9 L1314.4 901 L1315.6 899 L1316.7 900.9 L1317.8 899.3 L1318.9 900.6 L1320 899.2 L1321.1 899.8 L1322.2 900.6 L1323.3 900.3 L1324.4 900.3 L1325.5 900.6 L1326.6 900.1 L1327.7 900.3 L1328.8 897.6 L1329.9 899.9 L1331 900 L1332.1 900.3 L1333.2 899.4 L1334.3 899.2 L1334.3 903Z" fill="#f051d5" fill-opacity="0.4" stroke="#f051d5" stroke-width="0.8"/><path d="M914.8 903 L914.8 891.3 L916.1 893.6 L917.4 891.8 L918.8 893.6 L920.1 893.3 L921.4 892.3 L922.7 894.1 L924.1 894.4 L925.4 893.8 L926.7 894.6 L928 895.1 L929.4 895.2 L930.7 894.2 L932 893.2 L933.3 891.5 L934.7 896.3 L936 895.6 L937.3 896.1 L938.6 895.5 L940 895.8 L941.3 894.7 L942.6 896 L943.9 894.3 L945.3 896.3 L946.6 897 L947.9 896.7 L949.2 896 L950.6 894.5 L951.9 897.3 L953.2 895.1 L954.5 896.6 L955.9 896.9 L957.2 898 L958.5 897.1 L959.8 897.8 L961.2 898 L962.5 898.1 L963.8 897.5 L965.1 897.7 L966.5 895.7 L967.8 894.1 L969.1 897.4 L970.4 897.7 L971.8 897.7 L973.1 898.6 L974.4 897.8 L975.7 896.7 L977.1 898.4 L978.4 898.2 L979.7 898.8 L981 898.3 L982.4 898.8 L983.7 896.9 L985 895.9 L986.3 897 L987.7 898.9 L989 897.8 L990.3 898.4 L991.6 899.1 L993 897.6 L994.3 897.9 L995.6 898 L996.9 897.8 L998.3 898.9 L999.6 898.4 L1000.9 899 L1002.2 898.5 L1003.6 898.2 L1004.9 897.8 L1006.2 898.3 L1007.5 898 L1008.9 898.8 L1010.2 898.9 L1011.5 897.7 L1012.8 891.5 L1014.2 898.6 L1015.5 898.2 L1016.8 896.6 L1018.1 896.7 L1019.5 898.2 L1020.8 897 L1022.1 898.2 L1023.4 897.7 L1024.8 896.8 L1026.1 896.2 L1027.4 897 L1028.7 896.6 L1030.1 896.9 L1031.4 896.4 L1032.7 896.4 L1034 895 L1035.4 894.6 L1036.2 895.6 L1036.6 895.4 L1036.9 893.7 L1037.2 895.4 L1037.6 894.7 L1037.9 895.2 L1038.2 894.1 L1038.6 894.2 L1038.9 894.3 L1039.2 892.9 L1039.6 892.7 L1039.9 894.1 L1040.2 893.9 L1040.5 893.8 L1040.9 893.2 L1041.2 890.8 L1041.5 892.2 L1041.9 893 L1042.2 892.3 L1042.5 892.6 L1042.9 889.2 L1043.2 891.2 L1043.5 891.6 L1043.9 890.2 L1044.2 889.2 L1044.5 890.6 L1044.9 889.8 L1045.2 889.1 L1045.5 888.6 L1045.8 889.5 L1046.2 888.6 L1046.5 886.7 L1046.8 886.8 L1047.2 887.4 L1047.5 887 L1047.8 883.6 L1048.2 884.6 L1048.5 885.1 L1048.8 880.9 L1049.2 882.6 L1049.5 879.7 L1049.8 881.2 L1050.2 880.4 L1050.5 878.2 L1050.8 878.5 L1051.1 877.6 L1051.5 875.3 L1051.8 873.4 L1052.1 873.7 L1052.5 872.4 L1052.8 868 L1053.1 867.5 L1053.5 864.7 L1053.8 862.6 L1054.1 861.7 L1054.5 858.9 L1054.8 856 L1055.1 852 L1055.4 849.1 L1055.8 843.2 L1056.1 840 L1056.4 835 L1056.8 829.1 L1057.1 824.2 L1057.4 816.4 L1057.8 808.2 L1058.1 801.3 L1058.4 789.2 L1058.8 780.4 L1059.1 770.2 L1059.4 757.7 L1059.8 745 L1060.1 730.8 L1060.4 718 L1060.7 704.4 L1061.1 689.1 L1061.4 679.6 L1061.7 669.1 L1062.1 664.6 L1062.4 664.6 L1062.7 664.6 L1063.1 667.6 L1063.4 676.6 L1063.7 687.9 L1064.1 700.2 L1064.4 714.7 L1064.7 727.2 L1065.1 741.4 L1065.4 754.5 L1065.7 766.9 L1066 778.9 L1066.4 789.6 L1066.7 796.9 L1067 808 L1067.4 814.9 L1067.7 820.1 L1068 828.9 L1068.4 834.1 L1068.7 839.4 L1069 843.6 L1069.4 847.5 L1069.7 850.8 L1070 855.4 L1070.4 857.8 L1070.7 858.4 L1071 862.1 L1071.3 865.8 L1071.7 867.2 L1072 870.1 L1072.3 871.6 L1072.7 873.4 L1073 874.9 L1073.3 875.5 L1073.7 877.3 L1074 877.3 L1074.3 879 L1074.7 879.6 L1075 881.2 L1075.3 881.5 L1075.7 881.8 L1076 884.5 L1076.3 885 L1076.6 884.2 L1077 886 L1077.3 886.7 L1077.6 886.8 L1078 887.4 L1078.3 887.2 L1078.6 885.9 L1079 889 L1079.3 888.2 L1079.6 890.1 L1080 889.7 L1080.3 891.1 L1080.6 890.5 L1081 888.6 L1081.3 891 L1081.6 889.7 L1081.9 891.9 L1082.3 892 L1082.6 891.2 L1082.9 892.4 L1083.3 892.5 L1083.6 893.1 L1083.9 892.9 L1084.3 893.3 L1084.6 894.2 L1084.9 894.3 L1085.3 893.1 L1085.6 895.1 L1085.9 892.6 L1086.3 894.3 L1086.6 894.6 L1086.9 894.7 L1087.2 895.8 L1087.6 895.1 L1087.9 895.9 L1088.2 895.2 L1088.6 896 L1088.9 895.1 L1089.2 895.5 L1089.6 895.4 L1089.9 894.7 L1090.2 894.3 L1090.6 896.3 L1090.9 897 L1091.2 896.8 L1091.6 897.2 L1091.9 894.4 L1092.2 895.8 L1092.5 897 L1092.9 896.8 L1093.2 896.3 L1093.5 895.8 L1093.9 897.7 L1094.2 896.1 L1094.5 896.2 L1094.9 895.3 L1095.2 894.8 L1095.5 896.8 L1095.9 898.1 L1096.2 898 L1096.5 897.5 L1096.8 896.4 L1097.2 897.7 L1097.5 897.4 L1097.8 897.5 L1098.2 895.2 L1098.5 897.5 L1098.8 898 L1099.2 897.6 L1099.5 897.7 L1099.8 897 L1100.2 897.9 L1100.5 898.3 L1100.8 897.8 L1101.2 898.8 L1101.5 897.4 L1101.8 898.2 L1102.1 896.4 L1102.5 898.8 L1102.8 898 L1103.1 899 L1103.5 897 L1103.8 898.5 L1104.1 898.2 L1104.5 897.4 L1104.8 899.2 L1105.1 898.4 L1105.5 897.8 L1105.8 897.4 L1106.1 899 L1106.5 898.8 L1106.8 898.4 L1107.1 897.6 L1107.4 898.1 L1107.8 898.4 L1108.1 897.7 L1108.4 897.9 L1108.8 897.1 L1109.1 899.2 L1109.4 898.6 L1109.8 897.9 L1110.1 899 L1110.4 898.5 L1110.8 897.6 L1111.1 898.4 L1111.4 899.5 L1111.8 899 L1112.1 899.1 L1112.4 899.4 L1112.7 899.7 L1113.1 898.1 L1113.4 896.7 L1113.5 898.6 L1114.6 899.1 L1115.7 899.8 L1116.8 899.5 L1117.9 899.8 L1119 899 L1120.1 899.8 L1121.2 898 L1122.4 900 L1123.5 900 L1124.6 899.7 L1125.7 900.2 L1126.8 900.1 L1127.9 898.8 L1129 898.7 L1130.1 897.2 L1131.2 899.5 L1132.3 898.9 L1133.4 899.3 L1134.5 898.9 L1135.6 898.7 L1136.7 898.4 L1137.8 899.8 L1138.9 900.4 L1140 900 L1141.1 900.5 L1142.2 899.8 L1143.3 898.3 L1144.4 898 L1145.5 900.6 L1146.6 900.3 L1147.7 899.9 L1148.8 898.2 L1150 899.7 L1151.1 899.9 L1152.2 900.6 L1153.3 899.2 L1154.4 898 L1155.5 899.8 L1156.6 898.2 L1157.7 897.7 L1158.8 900.5 L1159.9 899.5 L1161 899.1 L1162.1 898.7 L1163.2 900.7 L1164.3 900.4 L1165.4 899.9 L1166.5 898.4 L1167.6 898.6 L1168.7 899.8 L1169.8 900.7 L1170.9 900.3 L1172 899.5 L1173.1 900.5 L1174.2 898.7 L1175.3 899 L1176.4 900 L1177.6 899.7 L1178.7 898.6 L1179.8 899.9 L1180.9 899.5 L1182 900.5 L1183.1 900.4 L1184.2 900.7 L1185.3 900.8 L1186.4 900.4 L1187.5 899.6 L1188.6 898.9 L1189.7 900.1 L1190.8 898.8 L1191.9 900.3 L1193 900.8 L1194.1 900.2 L1195.2 899.9 L1196.3 900.4 L1197.4 899.6 L1198.5 899.2 L1199.6 898.3 L1200.7 899.5 L1201.8 897.1 L1202.9 900.1 L1204 900 L1205.2 900.2 L1206.3 900.4 L1207.4 899.6 L1208.5 896.3 L1209.6 899.4 L1210.7 899.5 L1211.8 899 L1212.9 884 L1214 898 L1215.1 891.6 L1216.2 896.6 L1217.3 897 L1218.4 896.9 L1219.5 895.9 L1220.6 894.7 L1221.7 895.3 L1222.8 882.8 L1223.9 893.8 L1225 893.9 L1226.1 889.7 L1227.2 889.6 L1228.3 889.2 L1229.4 879.4 L1230.5 889.3 L1231.6 889.2 L1232.8 887.8 L1233.9 886.5 L1235 885 L1236.1 883.5 L1237.2 884.6 L1238.3 884.5 L1239.4 884.7 L1240.5 882.5 L1241.6 884.8 L1242.7 884.7 L1243.8 883.4 L1244.9 884.1 L1246 885.2 L1247.1 886 L1248.2 886.5 L1249.3 886.3 L1250.4 887.3 L1251.5 888.4 L1252.6 886.9 L1253.7 888.3 L1254.8 887.7 L1255.9 890.7 L1257 890.8 L1258.1 887.9 L1259.2 893.6 L1260.4 892.2 L1261.5 895.1 L1262.6 893.9 L1263.7 896.2 L1264.8 895.8 L1265.9 897.8 L1267 896.1 L1268.1 896 L1269.2 897.9 L1270.3 886.6 L1271.4 899.3 L1272.5 898.7 L1273.6 899.1 L1274.7 899.3 L1275.8 899.6 L1276.9 899 L1278 900 L1279.1 897.9 L1280.2 899.4 L1281.3 898.4 L1282.4 900 L1283.5 899.7 L1284.6 898.5 L1285.7 899.8 L1286.8 899.6 L1288 898.9 L1289.1 900.6 L1290.2 899.7 L1291.3 899.4 L1292.4 900.4 L1293.5 900.6 L1294.6 899.8 L1295.7 899.4 L1296.8 900.3 L1297.9 900 L1299 899.7 L1300.1 900.9 L1301.2 900.8 L1302.3 900.2 L1303.4 899.2 L1304.5 900.9 L1305.6 899.1 L1306.7 899.8 L1307.8 900.4 L1308.9 899.6 L1310 900.5 L1311.1 899.9 L1312.2 900.8 L1313.3 900 L1314.4 899.9 L1315.6 898.7 L1316.7 901 L1317.8 900.1 L1318.9 900.5 L1320 899.9 L1321.1 899.7 L1322.2 900.8 L1323.3 899.8 L1324.4 900 L1325.5 900.2 L1326.6 899.2 L1327.7 900.3 L1328.8 900.8 L1329.9 900 L1331 900.1 L1332.1 900.4 L1333.2 901 L1334.3 899 L1334.3 903Z" fill="#f056ca" fill-opacity="0.4" stroke="#f056ca" stroke-width="0.8"/><path d="M914.8 903 L914.8 892 L916.1 892.5 L917.4 892.5 L918.8 893.2 L920.1 893.4 L921.4 893.1 L922.7 894.3 L924.1 895.1 L925.4 893 L926.7 894.7 L928 894.7 L929.4 895 L930.7 894.9 L932 894 L933.3 895.5 L934.7 896.2 L936 896.5 L937.3 895.1 L938.6 896.3 L940 895.5 L941.3 896.7 L942.6 896.9 L943.9 896.6 L945.3 896.9 L946.6 897.2 L947.9 896.8 L949.2 896.9 L950.6 896.8 L951.9 897 L953.2 896.3 L954.5 897 L955.9 898.1 L957.2 897.4 L958.5 897.8 L959.8 897.1 L961.2 897.6 L962.5 897.1 L963.8 896.4 L965.1 896.7 L966.5 898.6 L967.8 896.7 L969.1 896.5 L970.4 897.6 L971.8 898.9 L973.1 898.3 L974.4 896 L975.7 898 L977.1 898.6 L978.4 897.2 L979.7 898.8 L981 898.5 L982.4 898.3 L983.7 899 L985 898.7 L986.3 898.7 L987.7 895.5 L989 899.2 L990.3 897.9 L991.6 899.4 L993 897.9 L994.3 898.9 L995.6 899.1 L996.9 898.6 L998.3 898.5 L999.6 897.9 L1000.9 898.9 L1002.2 899.3 L1003.6 898.9 L1004.9 897.4 L1006.2 899.1 L1007.5 899 L1008.9 899.6 L1010.2 897.6 L1011.5 897.2 L1012.8 899.3 L1014.2 895.9 L1015.5 898.2 L1016.8 898.3 L1018.1 899.4 L1019.5 899.2 L1020.8 895.6 L1022.1 898.5 L1023.4 899 L1024.8 898.9 L1026.1 897.3 L1027.4 894.6 L1028.7 898.8 L1030.1 898.3 L1031.4 898.3 L1032.7 892.9 L1034 897.6 L1035.4 897.5 L1036.2 896 L1036.6 896.2 L1036.9 897 L1037.2 897.1 L1037.6 898.1 L1037.9 898.1 L1038.2 897.3 L1038.6 897.4 L1038.9 896.6 L1039.2 897 L1039.6 896.6 L1039.9 897 L1040.2 896.8 L1040.5 897.3 L1040.9 896.2 L1041.2 894.6 L1041.5 896.9 L1041.9 896.4 L1042.2 896.4 L1042.5 896 L1042.9 896.1 L1043.2 895.3 L1043.5 896.1 L1043.9 895.2 L1044.2 895.5 L1044.5 894.8 L1044.9 894.9 L1045.2 895.3 L1045.5 894.6 L1045.8 894.5 L1046.2 892.4 L1046.5 894.2 L1046.8 894.7 L1047.2 892.1 L1047.5 893.6 L1047.8 892.1 L1048.2 893.8 L1048.5 893.3 L1048.8 892.3 L1049.2 891.8 L1049.5 890.4 L1049.8 891.5 L1050.2 891.7 L1050.5 891.4 L1050.8 890.8 L1051.1 888.8 L1051.5 889.5 L1051.8 889.2 L1052.1 887.7 L1052.5 887.4 L1052.8 886.1 L1053.1 886.2 L1053.5 882.3 L1053.8 883.3 L1054.1 881.2 L1054.5 882.4 L1054.8 880.4 L1055.1 880.3 L1055.4 878.2 L1055.8 876.2 L1056.1 875.2 L1056.4 871.9 L1056.8 870.9 L1057.1 868 L1057.4 862.7 L1057.8 862.6 L1058.1 858.6 L1058.4 855.2 L1058.8 850.7 L1059.1 843 L1059.4 838.9 L1059.8 831 L1060.1 823.8 L1060.4 812.6 L1060.7 803.7 L1061.1 790.2 L1061.4 775.3 L1061.7 761.5 L1062.1 743.2 L1062.4 724.4 L1062.7 707.1 L1063.1 689 L1063.4 674.4 L1063.7 664.6 L1064.1 664.6 L1064.4 665.6 L1064.7 675.6 L1065.1 690.1 L1065.4 706.9 L1065.7 724.6 L1066 744.6 L1066.4 760.4 L1066.7 777.3 L1067 791.7 L1067.4 804.3 L1067.7 813 L1068 824.1 L1068.4 832.1 L1068.7 838.9 L1069 843.4 L1069.4 849.5 L1069.7 855.4 L1070 857.2 L1070.4 862.2 L1070.7 865.7 L1071 868.8 L1071.3 869.9 L1071.7 873.7 L1072 875.3 L1072.3 876.1 L1072.7 878.5 L1073 879.6 L1073.3 880.9 L1073.7 882.4 L1074 883.7 L1074.3 884.9 L1074.7 884.4 L1075 884.8 L1075.3 886.5 L1075.7 886.3 L1076 887 L1076.3 888.5 L1076.6 888 L1077 888.5 L1077.3 890.2 L1077.6 890.9 L1078 889.6 L1078.3 892.3 L1078.6 891.1 L1079 892.4 L1079.3 893.1 L1079.6 892.5 L1080 893.9 L1080.3 894.1 L1080.6 894.4 L1081 893.5 L1081.3 892.9 L1081.6 895.2 L1081.9 895.1 L1082.3 895.1 L1082.6 895.7 L1082.9 894.8 L1083.3 894.9 L1083.6 895.9 L1083.9 895.4 L1084.3 895.5 L1084.6 895.4 L1084.9 895.7 L1085.3 896.7 L1085.6 895.4 L1085.9 896 L1086.3 897 L1086.6 896.2 L1086.9 897.1 L1087.2 896.5 L1087.6 896.4 L1087.9 896.4 L1088.2 897.1 L1088.6 897.3 L1088.9 896.6 L1089.2 897.3 L1089.6 897.5 L1089.9 897.2 L1090.2 896 L1090.6 896.4 L1090.9 898.3 L1091.2 897.2 L1091.6 898.3 L1091.9 896.3 L1092.2 898.1 L1092.5 897.2 L1092.9 897 L1093.2 896.5 L1093.5 898.3 L1093.9 898.9 L1094.2 898.9 L1094.5 897.5 L1094.9 898 L1095.2 898.1 L1095.5 898.7 L1095.9 898.2 L1096.2 898.3 L1096.5 898.6 L1096.8 897.5 L1097.2 898.5 L1097.5 898.7 L1097.8 899 L1098.2 898 L1098.5 898.3 L1098.8 899.2 L1099.2 896.1 L1099.5 896.7 L1099.8 899 L1100.2 899.2 L1100.5 898.4 L1100.8 899.4 L1101.2 899.7 L1101.5 899.6 L1101.8 897.7 L1102.1 899.6 L1102.5 897.1 L1102.8 899.6 L1103.1 898.6 L1103.5 899 L1103.8 899.4 L1104.1 898.7 L1104.5 898.2 L1104.8 899.9 L1105.1 898.4 L1105.5 897.8 L1105.8 898 L1106.1 899.2 L1106.5 899.7 L1106.8 899 L1107.1 898.1 L1107.4 899.5 L1107.8 898.5 L1108.1 899.7 L1108.4 898.9 L1108.8 899.9 L1109.1 899.9 L1109.4 899.7 L1109.8 899.6 L1110.1 899.3 L1110.4 899.9 L1110.8 898.1 L1111.1 899.8 L1111.4 896.4 L1111.8 899.8 L1112.1 899.1 L1112.4 899.1 L1112.7 896.4 L1113.1 897.4 L1113.4 899.8 L1113.5 898 L1114.6 899.7 L1115.7 899.7 L1116.8 899.8 L1117.9 897.3 L1119 899.3 L1120.1 900 L1121.2 900.3 L1122.4 899.5 L1123.5 900.1 L1124.6 898.8 L1125.7 899.4 L1126.8 899.9 L1127.9 899.2 L1129 899.7 L1130.1 898.4 L1131.2 900.2 L1132.3 900.1 L1133.4 898.9 L1134.5 900.5 L1135.6 897.9 L1136.7 899 L1137.8 900 L1138.9 899.5 L1140 898.2 L1141.1 898.5 L1142.2 899.5 L1143.3 899.7 L1144.4 900.7 L1145.5 898.5 L1146.6 899.3 L1147.7 900.7 L1148.8 900.1 L1150 900.3 L1151.1 900.4 L1152.2 900.4 L1153.3 900.4 L1154.4 899.2 L1155.5 900.7 L1156.6 900.1 L1157.7 898.7 L1158.8 898.7 L1159.9 898.8 L1161 900.6 L1162.1 897.9 L1163.2 899.7 L1164.3 899.6 L1165.4 900 L1166.5 899.9 L1167.6 898.3 L1168.7 900.8 L1169.8 900.8 L1170.9 900.4 L1172 898.7 L1173.1 900.7 L1174.2 900.4 L1175.3 900.5 L1176.4 899.1 L1177.6 900.7 L1178.7 898.9 L1179.8 900.5 L1180.9 900.7 L1182 900.2 L1183.1 898.1 L1184.2 900.6 L1185.3 899 L1186.4 900.2 L1187.5 900.7 L1188.6 900.9 L1189.7 899.8 L1190.8 900.1 L1191.9 900.4 L1193 900 L1194.1 899.7 L1195.2 900 L1196.3 899.5 L1197.4 900.5 L1198.5 900.6 L1199.6 900.4 L1200.7 900.1 L1201.8 899.5 L1202.9 900.5 L1204 899.5 L1205.2 898.3 L1206.3 900.5 L1207.4 898.8 L1208.5 898.5 L1209.6 898.9 L1210.7 899.8 L1211.8 898.5 L1212.9 899.2 L1214 898.9 L1215.1 897.4 L1216.2 898.1 L1217.3 898.2 L1218.4 897.7 L1219.5 896.7 L1220.6 895.8 L1221.7 894 L1222.8 879.4 L1223.9 894 L1225 894.1 L1226.1 892 L1227.2 891.5 L1228.3 890.5 L1229.4 889.3 L1230.5 879.4 L1231.6 888.4 L1232.8 888.6 L1233.9 883.5 L1235 886.3 L1236.1 884.3 L1237.2 885.2 L1238.3 883.8 L1239.4 883.9 L1240.5 884.3 L1241.6 884.6 L1242.7 884.5 L1243.8 884.3 L1244.9 884.6 L1246 883.5 L1247.1 884.3 L1248.2 885.1 L1249.3 886.1 L1250.4 885.2 L1251.5 886.9 L1252.6 888.2 L1253.7 886.7 L1254.8 889.2 L1255.9 888.9 L1257 890.5 L1258.1 890.3 L1259.2 892.2 L1260.4 893.7 L1261.5 893.5 L1262.6 894.4 L1263.7 895 L1264.8 896.1 L1265.9 896.7 L1267 897.5 L1268.1 896.1 L1269.2 892.9 L1270.3 898.7 L1271.4 897.3 L1272.5 899.5 L1273.6 899.6 L1274.7 897.9 L1275.8 899.1 L1276.9 899.4 L1278 899.3 L1279.1 899.7 L1280.2 899.8 L1281.3 899.7 L1282.4 899.1 L1283.5 900.9 L1284.6 899.6 L1285.7 900 L1286.8 899 L1288 898.9 L1289.1 899.4 L1290.2 899.8 L1291.3 899.6 L1292.4 900.4 L1293.5 898.8 L1294.6 900 L1295.7 900.8 L1296.8 900.4 L1297.9 900.7 L1299 900.8 L1300.1 900.5 L1301.2 900.9 L1302.3 898.8 L1303.4 901 L1304.5 900.8 L1305.6 899.2 L1306.7 900.5 L1307.8 899.7 L1308.9 897.3 L1310 898.3 L1311.1 901 L1312.2 900.3 L1313.3 900.4 L1314.4 899 L1315.6 900.8 L1316.7 899.8 L1317.8 900.9 L1318.9 899 L1320 900.5 L1321.1 900.7 L1322.2 900.8 L1323.3 901 L1324.4 900.3 L1325.5 900.9 L1326.6 899.7 L1327.7 900.9 L1328.8 900.9 L1329.9 899.5 L1331 899.3 L1332.1 900.8 L1333.2 899.8 L1334.3 900.7 L1334.3 903Z" fill="#f05cbf" fill-opacity="0.4" stroke="#f05cbf" stroke-width="0.8"/><path d="M914.8 903 L914.8 893.1 L916.1 893.5 L917.4 893.7 L918.8 894.3 L920.1 894.1 L921.4 894 L922.7 894.8 L924.1 895.1 L925.4 894.8 L926.7 894.2 L928 894.1 L929.4 895 L930.7 892.9 L932 895.5 L933.3 894.5 L934.7 893.7 L936 894.5 L937.3 895.9 L938.6 895.4 L940 895.1 L941.3 895.8 L942.6 895.6 L943.9 895.1 L945.3 896 L946.6 896.5 L947.9 894.6 L949.2 896.8 L950.6 897.4 L951.9 897.2 L953.2 896.5 L954.5 897.6 L955.9 896.9 L957.2 896.7 L958.5 888 L959.8 897.4 L961.2 897.7 L962.5 898.1 L963.8 898.2 L965.1 896.5 L966.5 898.5 L967.8 897.5 L969.1 897.1 L970.4 898.1 L971.8 897.7 L973.1 895.5 L974.4 898.8 L975.7 898.6 L977.1 897.3 L978.4 897.5 L979.7 896.7 L981 896.5 L982.4 898.1 L983.7 899.1 L985 898.7 L986.3 896.9 L987.7 896.3 L989 896.7 L990.3 896.9 L991.6 897.6 L993 897.4 L994.3 899.1 L995.6 899 L996.9 897.9 L998.3 898.4 L999.6 897.9 L1000.9 898.3 L1002.2 898 L1003.6 898.8 L1004.9 899.1 L1006.2 898.5 L1007.5 899.1 L1008.9 896.8 L1010.2 898.9 L1011.5 898.4 L1012.8 899.1 L1014.2 898.2 L1015.5 899.1 L1016.8 898.6 L1018.1 897.9 L1019.5 897.7 L1020.8 896 L1022.1 892.1 L1023.4 898.6 L1024.8 897.6 L1026.1 896.4 L1027.4 897.4 L1028.7 897.3 L1030.1 897 L1031.4 897.7 L1032.7 896.5 L1034 895.3 L1035.4 896.9 L1036.2 896.2 L1036.6 894.4 L1036.9 893.7 L1037.2 896 L1037.6 896.1 L1037.9 896.2 L1038.2 896.3 L1038.6 894.5 L1038.9 895.3 L1039.2 895.2 L1039.6 893.5 L1039.9 894.3 L1040.2 895 L1040.5 888.5 L1040.9 895.3 L1041.2 895 L1041.5 895.1 L1041.9 894.5 L1042.2 894.3 L1042.5 892.6 L1042.9 894.4 L1043.2 893.9 L1043.5 894.1 L1043.9 893 L1044.2 893.3 L1044.5 892.2 L1044.9 893.1 L1045.2 893 L1045.5 892 L1045.8 891.3 L1046.2 891.9 L1046.5 891 L1046.8 889.9 L1047.2 890.9 L1047.5 890.6 L1047.8 890.3 L1048.2 890.1 L1048.5 888.1 L1048.8 887.3 L1049.2 887.6 L1049.5 886.9 L1049.8 883.8 L1050.2 886.9 L1050.5 885 L1050.8 886.3 L1051.1 885.9 L1051.5 884.3 L1051.8 883.6 L1052.1 883.1 L1052.5 881.3 L1052.8 880.6 L1053.1 880.5 L1053.5 880 L1053.8 879.2 L1054.1 877.2 L1054.5 874.5 L1054.8 874 L1055.1 874.4 L1055.4 872.9 L1055.8 870.8 L1056.1 868.6 L1056.4 866.6 L1056.8 864.5 L1057.1 862.2 L1057.4 860.1 L1057.8 854 L1058.1 854.1 L1058.4 848.9 L1058.8 844.6 L1059.1 839.4 L1059.4 837.3 L1059.8 832.5 L1060.1 826.5 L1060.4 819.2 L1060.7 810.8 L1061.1 802.6 L1061.4 795.5 L1061.7 785.7 L1062.1 773.9 L1062.4 762.8 L1062.7 751.3 L1063.1 736.1 L1063.4 723.2 L1063.7 709.1 L1064.1 696.2 L1064.4 684.6 L1064.7 673.8 L1065.1 666.2 L1065.4 664.6 L1065.7 664.6 L1066 665.9 L1066.4 671.7 L1066.7 682.6 L1067 693.5 L1067.4 706.3 L1067.7 720.2 L1068 735.4 L1068.4 748.3 L1068.7 761 L1069 772.9 L1069.4 784.1 L1069.7 793.5 L1070 803.1 L1070.4 811.4 L1070.7 817.8 L1071 824.2 L1071.3 829.7 L1071.7 836.6 L1072 840.1 L1072.3 845.3 L1072.7 850.1 L1073 853.4 L1073.3 854.5 L1073.7 858.9 L1074 862 L1074.3 863.8 L1074.7 866.9 L1075 867.9 L1075.3 870.8 L1075.7 871 L1076 873.5 L1076.3 875.2 L1076.6 876.7 L1077 877.5 L1077.3 877.6 L1077.6 877.6 L1078 881.4 L1078.3 881.4 L1078.6 882.3 L1079 883.8 L1079.3 884.6 L1079.6 884.6 L1080 884.3 L1080.3 885.8 L1080.6 886 L1081 886.2 L1081.3 888 L1081.6 886.8 L1081.9 888.6 L1082.3 889.1 L1082.6 889 L1082.9 889.7 L1083.3 890.5 L1083.6 889.7 L1083.9 891.4 L1084.3 891.9 L1084.6 889.7 L1084.9 892.1 L1085.3 891.7 L1085.6 892.8 L1085.9 893.1 L1086.3 892.8 L1086.6 892.6 L1086.9 892.8 L1087.2 894.2 L1087.6 893.8 L1087.9 894.2 L1088.2 893.5 L1088.6 892.2 L1088.9 894.6 L1089.2 894.2 L1089.6 893.1 L1089.9 895 L1090.2 894.5 L1090.6 895.2 L1090.9 895.9 L1091.2 895.2 L1091.6 894.3 L1091.9 893.8 L1092.2 895.5 L1092.5 896 L1092.9 896.6 L1093.2 896.7 L1093.5 896.5 L1093.9 894.3 L1094.2 897 L1094.5 895.2 L1094.9 896.2 L1095.2 896.3 L1095.5 896.7 L1095.9 895 L1096.2 895.2 L1096.5 897.3 L1096.8 896.7 L1097.2 895.3 L1097.5 897.2 L1097.8 895.6 L1098.2 894.7 L1098.5 896.2 L1098.8 897.6 L1099.2 897.4 L1099.5 896.6 L1099.8 898.2 L1100.2 897.3 L1100.5 895.6 L1100.8 895.9 L1101.2 894.8 L1101.5 898.4 L1101.8 896.3 L1102.1 897.6 L1102.5 897.8 L1102.8 898.3 L1103.1 897.9 L1103.5 898.4 L1103.8 898.7 L1104.1 897 L1104.5 896.8 L1104.8 897.3 L1105.1 897.2 L1105.5 897.4 L1105.8 895.7 L1106.1 897.9 L1106.5 897.2 L1106.8 897.7 L1107.1 898 L1107.4 898.1 L1107.8 899 L1108.1 895.9 L1108.4 898.4 L1108.8 899.2 L1109.1 899.2 L1109.4 897.2 L1109.8 898.6 L1110.1 895.3 L1110.4 897.1 L1110.8 898.2 L1111.1 899 L1111.4 899.4 L1111.8 898.6 L1112.1 897.1 L1112.4 896.3 L1112.7 898.5 L1113.1 898.1 L1113.4 896.2 L1113.5 898.2 L1114.6 899 L1115.7 898 L1116.8 898.1 L1117.9 898.4 L1119 898.3 L1120.1 899.5 L1121.2 899.7 L1122.4 899.5 L1123.5 896.7 L1124.6 898.1 L1125.7 896.5 L1126.8 898.8 L1127.9 899.8 L1129 899.8 L1130.1 898.7 L1131.2 899.3 L1132.3 899.8 L1133.4 899.8 L1134.5 898.7 L1135.6 898.2 L1136.7 899.6 L1137.8 898.7 L1138.9 899.7 L1140 900.1 L1141.1 898.9 L1142.2 898.7 L1143.3 899.9 L1144.4 896.5 L1145.5 899.8 L1146.6 900 L1147.7 898.2 L1148.8 898.3 L1150 898.3 L1151.1 899.1 L1152.2 900.4 L1153.3 900.4 L1154.4 899.9 L1155.5 899.9 L1156.6 900 L1157.7 898.3 L1158.8 900.6 L1159.9 900.6 L1161 900.5 L1162.1 899.7 L1163.2 899.8 L1164.3 900 L1165.4 899.3 L1166.5 899.8 L1167.6 898.1 L1168.7 900 L1169.8 900.2 L1170.9 900.6 L1172 898.6 L1173.1 899.4 L1174.2 900.6 L1175.3 900 L1176.4 900.6 L1177.6 900.5 L1178.7 899.6 L1179.8 900.8 L1180.9 896.8 L1182 899.9 L1183.1 899.5 L1184.2 900.8 L1185.3 899.5 L1186.4 899 L1187.5 899.9 L1188.6 898.9 L1189.7 900.5 L1190.8 899.8 L1191.9 900.6 L1193 899.9 L1194.1 900.6 L1195.2 900.2 L1196.3 900.5 L1197.4 900.2 L1198.5 900.8 L1199.6 900.3 L1200.7 900.8 L1201.8 900 L1202.9 899.9 L1204 884.6 L1205.2 899.7 L1206.3 900.6 L1207.4 898.9 L1208.5 898.5 L1209.6 899.2 L1210.7 900 L1211.8 898.1 L1212.9 878.6 L1214 899.6 L1215.1 898.9 L1216.2 899.1 L1217.3 896.7 L1218.4 896.6 L1219.5 895.5 L1220.6 897.3 L1221.7 896.1 L1222.8 896.5 L1223.9 895 L1225 891.5 L1226.1 892.8 L1227.2 892.4 L1228.3 893.1 L1229.4 890.3 L1230.5 890.6 L1231.6 889.1 L1232.8 884.5 L1233.9 889.4 L1235 887.2 L1236.1 885.7 L1237.2 887.4 L1238.3 887 L1239.4 886.2 L1240.5 884.9 L1241.6 885.5 L1242.7 885.8 L1243.8 884.9 L1244.9 885 L1246 885.3 L1247.1 883.4 L1248.2 886.2 L1249.3 886.2 L1250.4 886.5 L1251.5 888 L1252.6 889 L1253.7 889.3 L1254.8 888.8 L1255.9 882.6 L1257 891.7 L1258.1 892.5 L1259.2 882.5 L1260.4 893.2 L1261.5 894.6 L1262.6 894.8 L1263.7 895.8 L1264.8 895.7 L1265.9 896.1 L1267 897.2 L1268.1 897.5 L1269.2 897.6 L1270.3 897.4 L1271.4 899.3 L1272.5 898 L1273.6 898.8 L1274.7 899.6 L1275.8 898.5 L1276.9 899.6 L1278 899.1 L1279.1 900.6 L1280.2 899.8 L1281.3 900 L1282.4 899.4 L1283.5 900.4 L1284.6 900.8 L1285.7 900.6 L1286.8 897.5 L1288 900.7 L1289.1 900.9 L1290.2 900.9 L1291.3 900.7 L1292.4 900.6 L1293.5 900.9 L1294.6 900.7 L1295.7 900 L1296.8 900.4 L1297.9 899.8 L1299 901 L1300.1 900.6 L1301.2 900.7 L1302.3 900.7 L1303.4 900.9 L1304.5 900.2 L1305.6 900.8 L1306.7 900.3 L1307.8 901 L1308.9 899.3 L1310 899.7 L1311.1 900.1 L1312.2 900.7 L1313.3 895.9 L1314.4 900.2 L1315.6 901 L1316.7 900.9 L1317.8 899 L1318.9 900.3 L1320 898.3 L1321.1 900.5 L1322.2 900.7 L1323.3 901 L1324.4 901 L1325.5 899.7 L1326.6 900.9 L1327.7 900.3 L1328.8 899 L1329.9 900.7 L1331 897.3 L1332.1 898.7 L1333.2 899.9 L1334.3 899.4 L1334.3 903Z" fill="#f061b4" fill-opacity="0.4" stroke="#f061b4" stroke-width="0.8"/><path d="M914.8 903 L914.8 893.5 L916.1 893.1 L917.4 893.4 L918.8 893.8 L920.1 894.4 L921.4 894.7 L922.7 892.1 L924.1 894.4 L925.4 894.9 L926.7 895.4 L928 894.6 L929.4 894.7 L930.7 895.4 L932 894 L933.3 893.9 L934.7 894.1 L936 894.4 L937.3 894.9 L938.6 895.1 L940 895.2 L941.3 896 L942.6 894.7 L943.9 896.1 L945.3 896.7 L946.6 896.5 L947.9 897.4 L949.2 895.6 L950.6 896.5 L951.9 896.3 L953.2 897.6 L954.5 897.4 L955.9 896.6 L957.2 895.2 L958.5 897.5 L959.8 897.1 L961.2 898.2 L962.5 896.7 L963.8 896.7 L965.1 898.2 L966.5 895.9 L967.8 896.9 L969.1 896.4 L970.4 897.3 L971.8 897.3 L973.1 896.9 L974.4 898.4 L975.7 897.3 L977.1 896.9 L978.4 898 L979.7 898.6 L981 898 L982.4 897.3 L983.7 896.5 L985 898.6 L986.3 898.8 L987.7 898.2 L989 899.3 L990.3 897.5 L991.6 897.7 L993 898.2 L994.3 899.1 L995.6 896.2 L996.9 899 L998.3 897.2 L999.6 899.3 L1000.9 895.3 L1002.2 897.9 L1003.6 895.6 L1004.9 899.2 L1006.2 897.7 L1007.5 897.1 L1008.9 898.3 L1010.2 899.1 L1011.5 898 L1012.8 898.8 L1014.2 898 L1015.5 898.4 L1016.8 899.3 L1018.1 897.9 L1019.5 896.4 L1020.8 899 L1022.1 896.7 L1023.4 899 L1024.8 898 L1026.1 898.5 L1027.4 897.9 L1028.7 898.4 L1030.1 898 L1031.4 897.5 L1032.7 896.8 L1034 896.8 L1035.4 896.5 L1036.2 896.9 L1036.6 896.8 L1036.9 896.7 L1037.2 895.9 L1037.6 896.7 L1037.9 896 L1038.2 896.3 L1038.6 896.4 L1038.9 896.2 L1039.2 895.4 L1039.6 896.7 L1039.9 895.9 L1040.2 896.7 L1040.5 894 L1040.9 895.5 L1041.2 895.8 L1041.5 896.1 L1041.9 894.4 L1042.2 896 L1042.5 895.9 L1042.9 893.3 L1043.2 894.7 L1043.5 895.5 L1043.9 894.5 L1044.2 895 L1044.5 892.8 L1044.9 894.5 L1045.2 894.7 L1045.5 894.3 L1045.8 890.5 L1046.2 894.2 L1046.5 893.2 L1046.8 893.7 L1047.2 891.9 L1047.5 890 L1047.8 890.5 L1048.2 892.2 L1048.5 890.7 L1048.8 891.4 L1049.2 889.5 L1049.5 890.3 L1049.8 890.3 L1050.2 889.2 L1050.5 890.2 L1050.8 889.4 L1051.1 888.4 L1051.5 888.3 L1051.8 887.4 L1052.1 885.8 L1052.5 886.2 L1052.8 886 L1053.1 885.1 L1053.5 884.2 L1053.8 883.4 L1054.1 881.8 L1054.5 880.2 L1054.8 880.7 L1055.1 877.5 L1055.4 876 L1055.8 874.3 L1056.1 873.7 L1056.4 871.7 L1056.8 870.2 L1057.1 869.7 L1057.4 868.5 L1057.8 864.4 L1058.1 864.4 L1058.4 860.6 L1058.8 857.8 L1059.1 855.2 L1059.4 850.7 L1059.8 844.9 L1060.1 842.7 L1060.4 836.4 L1060.7 830.7 L1061.1 824.7 L1061.4 816.9 L1061.7 808.3 L1062.1 798.3 L1062.4 786.9 L1062.7 776.5 L1063.1 763.5 L1063.4 749.4 L1063.7 734.4 L1064.1 717.1 L1064.4 702.7 L1064.7 688.2 L1065.1 675.3 L1065.4 667.5 L1065.7 664.6 L1066 664.6 L1066.4 666.6 L1066.7 673 L1067 686.2 L1067.4 700.4 L1067.7 715.4 L1068 729.7 L1068.4 745.6 L1068.7 760.2 L1069 773 L1069.4 784.6 L1069.7 795.9 L1070 804.1 L1070.4 814.5 L1070.7 821.8 L1071 829.8 L1071.3 835.5 L1071.7 839.7 L1072 846.2 L1072.3 849.7 L1072.7 854.2 L1073 858.1 L1073.3 861.1 L1073.7 863.4 L1074 865 L1074.3 868 L1074.7 869.7 L1075 871.3 L1075.3 871.9 L1075.7 875.7 L1076 877.4 L1076.3 878.3 L1076.6 878.8 L1077 881.1 L1077.3 880.8 L1077.6 883.2 L1078 884.1 L1078.3 884.8 L1078.6 885.3 L1079 885.8 L1079.3 887.2 L1079.6 886.7 L1080 886.1 L1080.3 888.3 L1080.6 888.2 L1081 889 L1081.3 887.9 L1081.6 887.7 L1081.9 890.3 L1082.3 890.5 L1082.6 891.4 L1082.9 889.9 L1083.3 889 L1083.6 892 L1083.9 890.6 L1084.3 891.4 L1084.6 893.2 L1084.9 892.9 L1085.3 893.5 L1085.6 893.9 L1085.9 894 L1086.3 894.2 L1086.6 892 L1086.9 894.7 L1087.2 895.3 L1087.6 894.7 L1087.9 894.8 L1088.2 893.9 L1088.6 894.9 L1088.9 894.6 L1089.2 895.3 L1089.6 894.2 L1089.9 894.6 L1090.2 895.2 L1090.6 895.2 L1090.9 896.3 L1091.2 896.1 L1091.6 895 L1091.9 897.1 L1092.2 896.9 L1092.5 896.5 L1092.9 895.8 L1093.2 896.7 L1093.5 896.4 L1093.9 897.4 L1094.2 897.7 L1094.5 897.2 L1094.9 897 L1095.2 895.4 L1095.5 895.2 L1095.9 896.5 L1096.2 897.9 L1096.5 896.8 L1096.8 897.9 L1097.2 896.6 L1097.5 898 L1097.8 898 L1098.2 898.2 L1098.5 896.6 L1098.8 895.7 L1099.2 896 L1099.5 896.9 L1099.8 898.5 L1100.2 898.7 L1100.5 896.7 L1100.8 897.4 L1101.2 898.3 L1101.5 898 L1101.8 898.7 L1102.1 896.3 L1102.5 898.5 L1102.8 899 L1103.1 899 L1103.5 897.1 L1103.8 898.8 L1104.1 897.9 L1104.5 899.1 L1104.8 898 L1105.1 898.3 L1105.5 899 L1105.8 898.8 L1106.1 899.3 L1106.5 898.1 L1106.8 898.5 L1107.1 899 L1107.4 897.8 L1107.8 896.2 L1108.1 898.3 L1108.4 898.7 L1108.8 899.3 L1109.1 898.4 L1109.4 897.6 L1109.8 899.3 L1110.1 897.8 L1110.4 897.7 L1110.8 898.2 L1111.1 899 L1111.4 899 L1111.8 897.3 L1112.1 899 L1112.4 897.5 L1112.7 898.2 L1113.1 899 L1113.4 898.9 L1113.5 897.5 L1114.6 898.1 L1115.7 899.1 L1116.8 898.9 L1117.9 899.9 L1119 899 L1120.1 899 L1121.2 897.7 L1122.4 899.6 L1123.5 899.7 L1124.6 898.7 L1125.7 898.9 L1126.8 898.8 L1127.9 899.4 L1129 899.7 L1130.1 897.6 L1131.2 899.3 L1132.3 899.9 L1133.4 899 L1134.5 898.9 L1135.6 899.5 L1136.7 898.2 L1137.8 898.6 L1138.9 900.3 L1140 899.5 L1141.1 898 L1142.2 899.9 L1143.3 899.8 L1144.4 899.8 L1145.5 900.1 L1146.6 899.6 L1147.7 899.9 L1148.8 900.5 L1150 899.4 L1151.1 900.3 L1152.2 899.6 L1153.3 900.2 L1154.4 900 L1155.5 899 L1156.6 899.2 L1157.7 899.8 L1158.8 900.1 L1159.9 900.2 L1161 900.4 L1162.1 900 L1163.2 899.3 L1164.3 899.5 L1165.4 899.2 L1166.5 900.8 L1167.6 900.3 L1168.7 900.7 L1169.8 898.6 L1170.9 900.6 L1172 899.5 L1173.1 899.2 L1174.2 899.5 L1175.3 899.5 L1176.4 900.6 L1177.6 899.3 L1178.7 900.4 L1179.8 898.8 L1180.9 900.8 L1182 900.8 L1183.1 900.4 L1184.2 899.7 L1185.3 900.2 L1186.4 897.9 L1187.5 900.1 L1188.6 898.6 L1189.7 899.3 L1190.8 900.6 L1191.9 900.4 L1193 899.6 L1194.1 900.9 L1195.2 900 L1196.3 900.7 L1197.4 898.7 L1198.5 897.3 L1199.6 898.6 L1200.7 898.6 L1201.8 899.6 L1202.9 898.1 L1204 900 L1205.2 898.6 L1206.3 899.2 L1207.4 900.1 L1208.5 899.3 L1209.6 899 L1210.7 898.7 L1211.8 899 L1212.9 897.2 L1214 899.1 L1215.1 898.4 L1216.2 897.4 L1217.3 896.5 L1218.4 898.4 L1219.5 896.6 L1220.6 896 L1221.7 896.8 L1222.8 896.3 L1223.9 894.1 L1225 894.3 L1226.1 891.4 L1227.2 893.2 L1228.3 893.1 L1229.4 891 L1230.5 890.6 L1231.6 890 L1232.8 889.9 L1233.9 889.1 L1235 888 L1236.1 887.9 L1237.2 886 L1238.3 885.7 L1239.4 886 L1240.5 885.7 L1241.6 885.4 L1242.7 882.5 L1243.8 885.4 L1244.9 884.6 L1246 885.4 L1247.1 885.4 L1248.2 883.4 L1249.3 885.3 L1250.4 887.4 L1251.5 887.3 L1252.6 883.5 L1253.7 888.2 L1254.8 889.9 L1255.9 890.1 L1257 891.7 L1258.1 891.3 L1259.2 892.6 L1260.4 893.7 L1261.5 894.4 L1262.6 895.3 L1263.7 893.8 L1264.8 896.3 L1265.9 896.7 L1267 896.7 L1268.1 897.2 L1269.2 897.1 L1270.3 898.1 L1271.4 894.4 L1272.5 899.1 L1273.6 898.6 L1274.7 899.7 L1275.8 898.4 L1276.9 899.6 L1278 900.1 L1279.1 896.2 L1280.2 900.4 L1281.3 898.4 L1282.4 899.3 L1283.5 900 L1284.6 900.8 L1285.7 899.2 L1286.8 899.1 L1288 899.3 L1289.1 898.5 L1290.2 899.2 L1291.3 899.4 L1292.4 900.9 L1293.5 899.5 L1294.6 901 L1295.7 899.5 L1296.8 900.9 L1297.9 900.7 L1299 899.6 L1300.1 900.3 L1301.2 900.1 L1302.3 900.3 L1303.4 899.6 L1304.5 899.4 L1305.6 899.4 L1306.7 899.5 L1307.8 900.2 L1308.9 899.9 L1310 900.4 L1311.1 899.7 L1312.2 896.9 L1313.3 900.8 L1314.4 899.9 L1315.6 899.7 L1316.7 899 L1317.8 900.2 L1318.9 900.5 L1320 899.2 L1321.1 900.4 L1322.2 900.9 L1323.3 899.8 L1324.4 899.9 L1325.5 899.3 L1326.6 899.9 L1327.7 900.4 L1328.8 900.4 L1329.9 900.8 L1331 900.6 L1332.1 898.7 L1333.2 898.1 L1334.3 899.9 L1334.3 903Z" fill="#f067a9" fill-opacity="0.4" stroke="#f067a9" stroke-width="0.8"/><path d="M914.8 903 L914.8 893.5 L916.1 893.3 L917.4 894 L918.8 892.7 L920.1 892.8 L921.4 891.5 L922.7 894 L924.1 895.1 L925.4 894.6 L926.7 893 L928 895 L929.4 894.7 L930.7 895.6 L932 893 L933.3 895.8 L934.7 895.5 L936 895.9 L937.3 896.5 L938.6 895 L940 896.4 L941.3 896.7 L942.6 896.3 L943.9 894.6 L945.3 897.2 L946.6 895.8 L947.9 896.7 L949.2 893.6 L950.6 896.9 L951.9 893.9 L953.2 896.5 L954.5 896.3 L955.9 897.3 L957.2 898 L958.5 896.2 L959.8 897 L961.2 897.1 L962.5 897.4 L963.8 898.4 L965.1 897.2 L966.5 897.9 L967.8 898.5 L969.1 896.8 L970.4 898.7 L971.8 898.3 L973.1 897 L974.4 898.1 L975.7 897 L977.1 898.7 L978.4 898.9 L979.7 898.4 L981 895.7 L982.4 897.4 L983.7 898.8 L985 898.4 L986.3 897.9 L987.7 898.9 L989 897.3 L990.3 898.7 L991.6 897.8 L993 898.3 L994.3 899.3 L995.6 899.2 L996.9 898.4 L998.3 898.7 L999.6 899 L1000.9 899 L1002.2 898.6 L1003.6 899.4 L1004.9 897.2 L1006.2 898 L1007.5 898.7 L1008.9 898.4 L1010.2 897.5 L1011.5 898.8 L1012.8 899 L1014.2 897.3 L1015.5 898.9 L1016.8 898.9 L1018.1 896.2 L1019.5 898.5 L1020.8 899 L1022.1 898 L1023.4 898.1 L1024.8 897.4 L1026.1 898.1 L1027.4 898 L1028.7 898.2 L1030.1 897.4 L1031.4 897.8 L1032.7 898 L1034 895.2 L1035.4 895.6 L1036.2 896.9 L1036.6 896.6 L1036.9 896.3 L1037.2 896.8 L1037.6 895.9 L1037.9 896.3 L1038.2 896.9 L1038.6 896.5 L1038.9 896.1 L1039.2 895.8 L1039.6 896.4 L1039.9 895.7 L1040.2 896.4 L1040.5 895.2 L1040.9 895.9 L1041.2 895.2 L1041.5 895.5 L1041.9 894.3 L1042.2 894.2 L1042.5 893.4 L1042.9 895.4 L1043.2 895.4 L1043.5 894.4 L1043.9 894.4 L1044.2 894.5 L1044.5 893.3 L1044.9 893.2 L1045.2 893.2 L1045.5 894.1 L1045.8 893.2 L1046.2 890.4 L1046.5 892.2 L1046.8 892.7 L1047.2 893.3 L1047.5 892.8 L1047.8 891.1 L1048.2 891.3 L1048.5 891.4 L1048.8 890 L1049.2 891.2 L1049.5 891.1 L1049.8 890.3 L1050.2 890.6 L1050.5 887.8 L1050.8 888.8 L1051.1 889.4 L1051.5 888.4 L1051.8 885.8 L1052.1 887.3 L1052.5 884.5 L1052.8 884.9 L1053.1 885.3 L1053.5 882.2 L1053.8 882.6 L1054.1 881.8 L1054.5 879.8 L1054.8 880.9 L1055.1 880.1 L1055.4 877.5 L1055.8 878.5 L1056.1 876.5 L1056.4 875.7 L1056.8 874.1 L1057.1 871.4 L1057.4 869.1 L1057.8 866.2 L1058.1 864.7 L1058.4 864.4 L1058.8 859 L1059.1 858.2 L1059.4 854.1 L1059.8 851.3 L1060.1 847.3 L1060.4 843.3 L1060.7 836.6 L1061.1 832.4 L1061.4 826.8 L1061.7 819.4 L1062.1 810.8 L1062.4 803.3 L1062.7 792.4 L1063.1 780.5 L1063.4 769.9 L1063.7 757.7 L1064.1 744.1 L1064.4 729.3 L1064.7 714.5 L1065.1 698.8 L1065.4 685.7 L1065.7 675 L1066 664.7 L1066.4 664.6 L1066.7 664.6 L1067 666.4 L1067.4 674.1 L1067.7 684.5 L1068 697.6 L1068.4 712.6 L1068.7 727.4 L1069 743.4 L1069.4 756.3 L1069.7 770.2 L1070 782.3 L1070.4 792.3 L1070.7 802.2 L1071 811.3 L1071.3 819.2 L1071.7 826 L1072 831.1 L1072.3 838.3 L1072.7 842.5 L1073 846.2 L1073.3 849.6 L1073.7 854.4 L1074 857.9 L1074.3 860.5 L1074.7 863.8 L1075 864.8 L1075.3 868.6 L1075.7 870.6 L1076 872.1 L1076.3 873.6 L1076.6 875.8 L1077 874.8 L1077.3 877.5 L1077.6 878.8 L1078 878 L1078.3 881.1 L1078.6 882.6 L1079 883.8 L1079.3 884.3 L1079.6 881.8 L1080 885.8 L1080.3 885.3 L1080.6 887.4 L1081 887.5 L1081.3 887.4 L1081.6 888.5 L1081.9 889.3 L1082.3 888.6 L1082.6 889.8 L1082.9 885.9 L1083.3 891.1 L1083.6 890.6 L1083.9 891.1 L1084.3 887.2 L1084.6 890.5 L1084.9 892 L1085.3 890.5 L1085.6 892.3 L1085.9 893.3 L1086.3 893.2 L1086.6 894 L1086.9 892 L1087.2 892.5 L1087.6 893 L1087.9 891.1 L1088.2 893.8 L1088.6 895 L1088.9 894.1 L1089.2 891.7 L1089.6 893.4 L1089.9 895.3 L1090.2 893.7 L1090.6 894.5 L1090.9 895.2 L1091.2 894.9 L1091.6 895.7 L1091.9 895.6 L1092.2 894.3 L1092.5 894.9 L1092.9 896.1 L1093.2 895.9 L1093.5 894.2 L1093.9 895.5 L1094.2 894.1 L1094.5 895.9 L1094.9 895.7 L1095.2 896.5 L1095.5 896.9 L1095.9 896.4 L1096.2 897.3 L1096.5 896.2 L1096.8 896 L1097.2 896.2 L1097.5 896.9 L1097.8 894.7 L1098.2 896.7 L1098.5 897.2 L1098.8 897.2 L1099.2 897.5 L1099.5 897.4 L1099.8 898.1 L1100.2 897.9 L1100.5 896.9 L1100.8 898.5 L1101.2 897.9 L1101.5 897.8 L1101.8 896.9 L1102.1 898.5 L1102.5 897.6 L1102.8 898.7 L1103.1 898.3 L1103.5 898.3 L1103.8 898.3 L1104.1 896.3 L1104.5 897.4 L1104.8 898.1 L1105.1 899.1 L1105.5 898.7 L1105.8 898.2 L1106.1 898.1 L1106.5 898.3 L1106.8 896.8 L1107.1 899.1 L1107.4 897.2 L1107.8 896.7 L1108.1 899.3 L1108.4 898.6 L1108.8 896.6 L1109.1 896.9 L1109.4 899.3 L1109.8 899.4 L1110.1 899.3 L1110.4 898.9 L1110.8 897.2 L1111.1 898.5 L1111.4 898.5 L1111.8 899.1 L1112.1 899.3 L1112.4 898 L1112.7 898.3 L1113.1 898.7 L1113.4 898.8 L1113.5 898.3 L1114.6 898.5 L1115.7 899.3 L1116.8 898.5 L1117.9 899.7 L1119 898.9 L1120.1 899.6 L1121.2 898.7 L1122.4 899.4 L1123.5 897.8 L1124.6 900 L1125.7 896.5 L1126.8 899.2 L1127.9 900.2 L1129 898.7 L1130.1 899.7 L1131.2 897.5 L1132.3 898.6 L1133.4 898.2 L1134.5 900 L1135.6 898.6 L1136.7 899.9 L1137.8 899.3 L1138.9 900.2 L1140 900.2 L1141.1 898.9 L1142.2 897.9 L1143.3 900.4 L1144.4 899.4 L1145.5 898.9 L1146.6 898.1 L1147.7 900.5 L1148.8 898.4 L1150 899.6 L1151.1 900.3 L1152.2 899.7 L1153.3 898.6 L1154.4 898.2 L1155.5 899.4 L1156.6 900.6 L1157.7 900.4 L1158.8 900.7 L1159.9 899.1 L1161 899.9 L1162.1 899 L1163.2 897.8 L1164.3 900.6 L1165.4 900.6 L1166.5 900.3 L1167.6 900.2 L1168.7 900.5 L1169.8 900.2 L1170.9 899.1 L1172 899.4 L1173.1 900.2 L1174.2 900.2 L1175.3 899.7 L1176.4 900.1 L1177.6 898.9 L1178.7 899.6 L1179.8 897.3 L1180.9 898.6 L1182 897.3 L1183.1 899.8 L1184.2 899 L1185.3 899.1 L1186.4 900.3 L1187.5 899.3 L1188.6 900.6 L1189.7 900.4 L1190.8 897.1 L1191.9 900.7 L1193 900.5 L1194.1 900.2 L1195.2 900.6 L1196.3 900.8 L1197.4 899.6 L1198.5 900.8 L1199.6 900.6 L1200.7 898.9 L1201.8 900.8 L1202.9 898.9 L1204 898.3 L1205.2 900.6 L1206.3 900 L1207.4 899.3 L1208.5 899.6 L1209.6 898.2 L1210.7 898.9 L1211.8 899.7 L1212.9 899.7 L1214 899.1 L1215.1 899.1 L1216.2 897.7 L1217.3 897.9 L1218.4 897.8 L1219.5 897.2 L1220.6 897 L1221.7 896.3 L1222.8 894.8 L1223.9 894.6 L1225 894.4 L1226.1 894.1 L1227.2 892.2 L1228.3 892.4 L1229.4 891.4 L1230.5 890.2 L1231.6 889.5 L1232.8 888.5 L1233.9 888.4 L1235 887.9 L1236.1 886.7 L1237.2 886.7 L1238.3 883.1 L1239.4 885.5 L1240.5 884.8 L1241.6 882.3 L1242.7 882.1 L1243.8 872.2 L1244.9 883.3 L1246 881.1 L1247.1 884.3 L1248.2 883.9 L1249.3 885.1 L1250.4 885.7 L1251.5 886.3 L1252.6 887 L1253.7 888 L1254.8 889.1 L1255.9 889.2 L1257 889.9 L1258.1 891.7 L1259.2 891.1 L1260.4 892.7 L1261.5 893.7 L1262.6 893.7 L1263.7 894.6 L1264.8 895 L1265.9 893.4 L1267 896.2 L1268.1 896.9 L1269.2 898.3 L1270.3 898.2 L1271.4 886.1 L1272.5 898.9 L1273.6 898.3 L1274.7 897.9 L1275.8 898.6 L1276.9 898.9 L1278 899.7 L1279.1 899.9 L1280.2 900.5 L1281.3 899.6 L1282.4 899.9 L1283.5 899.9 L1284.6 893.1 L1285.7 899.8 L1286.8 899.2 L1288 899.2 L1289.1 900.4 L1290.2 899.1 L1291.3 898.5 L1292.4 900.8 L1293.5 899 L1294.6 901 L1295.7 899.3 L1296.8 901 L1297.9 900 L1299 899.2 L1300.1 897.9 L1301.2 899.8 L1302.3 899.5 L1303.4 900.3 L1304.5 900.9 L1305.6 900.7 L1306.7 899.4 L1307.8 899.9 L1308.9 899.9 L1310 900.5 L1311.1 900.5 L1312.2 899.8 L1313.3 897.7 L1314.4 899 L1315.6 901 L1316.7 898.3 L1317.8 900.3 L1318.9 899.4 L1320 900.9 L1321.1 900.5 L1322.2 898.9 L1323.3 899.9 L1324.4 899.8 L1325.5 899.5 L1326.6 900.8 L1327.7 900.5 L1328.8 900.4 L1329.9 898.6 L1331 900.9 L1332.1 899.4 L1333.2 900.8 L1334.3 898.3 L1334.3 903Z" fill="#f06c9e" fill-opacity="0.4" stroke="#f06c9e" stroke-width="0.8"/><path d="M914.8 903 L914.8 893.5 L916.1 894 L917.4 892.5 L918.8 892.8 L920.1 894.5 L921.4 893.6 L922.7 894.3 L924.1 894.7 L925.4 893.4 L926.7 894.9 L928 895.5 L929.4 893.4 L930.7 894.3 L932 895.4 L933.3 895.4 L934.7 895.9 L936 895.9 L937.3 895.5 L938.6 896.6 L940 896.8 L941.3 896.5 L942.6 896.9 L943.9 894.6 L945.3 895.9 L946.6 894.5 L947.9 896.1 L949.2 897 L950.6 896.7 L951.9 895.9 L953.2 896.9 L954.5 896 L955.9 896.1 L957.2 897.1 L958.5 897.8 L959.8 898 L961.2 898.2 L962.5 897.3 L963.8 898 L965.1 897.5 L966.5 898 L967.8 897.6 L969.1 898.6 L970.4 897.9 L971.8 897.4 L973.1 898.6 L974.4 897.9 L975.7 897.4 L977.1 898.4 L978.4 897.7 L979.7 898.9 L981 897.4 L982.4 899 L983.7 898.7 L985 898.2 L986.3 897.8 L987.7 899.2 L989 898.4 L990.3 897.2 L991.6 899 L993 898.7 L994.3 898.2 L995.6 897.4 L996.9 899.5 L998.3 898.7 L999.6 899 L1000.9 898.6 L1002.2 895.3 L1003.6 898.4 L1004.9 896.5 L1006.2 899.5 L1007.5 899 L1008.9 899.4 L1010.2 898.4 L1011.5 896.2 L1012.8 898.4 L1014.2 895.3 L1015.5 899.2 L1016.8 899.3 L1018.1 899.2 L1019.5 899.1 L1020.8 896.3 L1022.1 899 L1023.4 898.3 L1024.8 898.9 L1026.1 898.5 L1027.4 897.8 L1028.7 896.5 L1030.1 897.1 L1031.4 898.7 L1032.7 898.3 L1034 896.5 L1035.4 886.1 L1036.2 898.1 L1036.6 895 L1036.9 896.7 L1037.2 897.1 L1037.6 896.6 L1037.9 895.9 L1038.2 897.6 L1038.6 897.7 L1038.9 896 L1039.2 896 L1039.6 897.7 L1039.9 897 L1040.2 897.2 L1040.5 895.9 L1040.9 895.5 L1041.2 896.8 L1041.5 894.5 L1041.9 896.2 L1042.2 896.6 L1042.5 889.6 L1042.9 896.5 L1043.2 895.2 L1043.5 895.9 L1043.9 895.8 L1044.2 895.6 L1044.5 896.2 L1044.9 896.4 L1045.2 894.9 L1045.5 895.1 L1045.8 894.9 L1046.2 895 L1046.5 894.8 L1046.8 895.2 L1047.2 895 L1047.5 893.9 L1047.8 892.8 L1048.2 894.5 L1048.5 892.7 L1048.8 894 L1049.2 891.2 L1049.5 893.9 L1049.8 891.9 L1050.2 892.2 L1050.5 892.6 L1050.8 891 L1051.1 891 L1051.5 891.8 L1051.8 890.8 L1052.1 890.4 L1052.5 890.2 L1052.8 890.9 L1053.1 889.4 L1053.5 890 L1053.8 888.8 L1054.1 886.6 L1054.5 888.3 L1054.8 887.2 L1055.1 886.6 L1055.4 883 L1055.8 885.9 L1056.1 885.3 L1056.4 883.8 L1056.8 883.5 L1057.1 881.7 L1057.4 880.6 L1057.8 880.2 L1058.1 877.7 L1058.4 875.6 L1058.8 875.8 L1059.1 874.3 L1059.4 871.8 L1059.8 869.6 L1060.1 867.9 L1060.4 864.3 L1060.7 862.2 L1061.1 858.5 L1061.4 853.8 L1061.7 851.7 L1062.1 847.2 L1062.4 841.6 L1062.7 834.9 L1063.1 829.7 L1063.4 822.9 L1063.7 814.5 L1064.1 804.4 L1064.4 794.8 L1064.7 781.5 L1065.1 769 L1065.4 754.6 L1065.7 738.7 L1066 721.7 L1066.4 705.7 L1066.7 689.8 L1067 677.8 L1067.4 666.3 L1067.7 664.6 L1068 664.6 L1068.4 667.4 L1068.7 677.9 L1069 692.2 L1069.4 708 L1069.7 724 L1070 740.5 L1070.4 754 L1070.7 769.7 L1071 783.4 L1071.3 794.4 L1071.7 805 L1072 814.7 L1072.3 822.2 L1072.7 830.6 L1073 835.7 L1073.3 842.7 L1073.7 848.2 L1074 852.6 L1074.3 854.1 L1074.7 859.8 L1075 862.9 L1075.3 864.2 L1075.7 868.3 L1076 870.6 L1076.3 871.8 L1076.6 873.9 L1077 875.2 L1077.3 876.8 L1077.6 878 L1078 880.3 L1078.3 879.7 L1078.6 882.7 L1079 881.7 L1079.3 882.9 L1079.6 884.6 L1080 883.4 L1080.3 885.1 L1080.6 886.5 L1081 887 L1081.3 887.9 L1081.6 888.1 L1081.9 886.9 L1082.3 889.9 L1082.6 890.5 L1082.9 889.6 L1083.3 890.1 L1083.6 890.8 L1083.9 891.7 L1084.3 891.9 L1084.6 892.7 L1084.9 892.7 L1085.3 892.3 L1085.6 892.9 L1085.9 892 L1086.3 892.8 L1086.6 894.5 L1086.9 894.7 L1087.2 893.7 L1087.6 893.3 L1087.9 895.4 L1088.2 895.1 L1088.6 895.1 L1088.9 895.9 L1089.2 895.1 L1089.6 894.5 L1089.9 895.8 L1090.2 895.3 L1090.6 895.1 L1090.9 894.9 L1091.2 896.7 L1091.6 896 L1091.9 896.8 L1092.2 896.3 L1092.5 895.3 L1092.9 897.3 L1093.2 895.5 L1093.5 894.2 L1093.9 896.1 L1094.2 896.9 L1094.5 897.4 L1094.9 897.3 L1095.2 894.8 L1095.5 897.1 L1095.9 897 L1096.2 897.7 L1096.5 897.6 L1096.8 897.1 L1097.2 898.3 L1097.5 897.9 L1097.8 898.1 L1098.2 896.5 L1098.5 897.8 L1098.8 898 L1099.2 898.3 L1099.5 898.5 L1099.8 898.4 L1100.2 897.3 L1100.5 896.1 L1100.8 897.5 L1101.2 898.7 L1101.5 898.3 L1101.8 898.7 L1102.1 898.1 L1102.5 896 L1102.8 898.2 L1103.1 898.9 L1103.5 896.6 L1103.8 898.9 L1104.1 896.5 L1104.5 899.2 L1104.8 896.4 L1105.1 896.2 L1105.5 898.9 L1105.8 899.1 L1106.1 898.4 L1106.5 897.4 L1106.8 896.9 L1107.1 899 L1107.4 898.4 L1107.8 897.4 L1108.1 897.2 L1108.4 899.4 L1108.8 899.5 L1109.1 898.9 L1109.4 898.9 L1109.8 899.4 L1110.1 898.4 L1110.4 899.6 L1110.8 898.7 L1111.1 898.6 L1111.4 899.5 L1111.8 898.6 L1112.1 898.9 L1112.4 897.2 L1112.7 899.7 L1113.1 899.1 L1113.4 899.3 L1113.5 899.8 L1114.6 899.9 L1115.7 899.4 L1116.8 898.9 L1117.9 898.5 L1119 898.9 L1120.1 899.7 L1121.2 899.4 L1122.4 897.6 L1123.5 898.7 L1124.6 900 L1125.7 898.7 L1126.8 898.9 L1127.9 899.2 L1129 900.1 L1130.1 899.3 L1131.2 900.1 L1132.3 899.1 L1133.4 900.1 L1134.5 896.6 L1135.6 898.6 L1136.7 898.9 L1137.8 898.4 L1138.9 900.3 L1140 899.6 L1141.1 900 L1142.2 899.6 L1143.3 900 L1144.4 899.9 L1145.5 898.9 L1146.6 898.2 L1147.7 898.8 L1148.8 900.1 L1150 899 L1151.1 899.2 L1152.2 899 L1153.3 900 L1154.4 899.9 L1155.5 900.1 L1156.6 896.7 L1157.7 899.7 L1158.8 899.8 L1159.9 897.9 L1161 900.3 L1162.1 899.9 L1163.2 899.8 L1164.3 898.9 L1165.4 900.2 L1166.5 897.8 L1167.6 900.7 L1168.7 898.1 L1169.8 899.3 L1170.9 899.1 L1172 899.8 L1173.1 900.6 L1174.2 900.8 L1175.3 899.9 L1176.4 900.7 L1177.6 898.7 L1178.7 900.3 L1179.8 899.4 L1180.9 899.8 L1182 899.9 L1183.1 899.7 L1184.2 900 L1185.3 898.8 L1186.4 900.8 L1187.5 899.9 L1188.6 899.7 L1189.7 900.1 L1190.8 897.9 L1191.9 900.8 L1193 899.9 L1194.1 900.4 L1195.2 900.7 L1196.3 898.7 L1197.4 900.3 L1198.5 900 L1199.6 900.1 L1200.7 900.5 L1201.8 900.2 L1202.9 896.9 L1204 899.5 L1205.2 900 L1206.3 898.5 L1207.4 900.2 L1208.5 900.2 L1209.6 898.2 L1210.7 898 L1211.8 899.1 L1212.9 898.6 L1214 898.6 L1215.1 898.9 L1216.2 898.7 L1217.3 897.1 L1218.4 897.4 L1219.5 897 L1220.6 895.8 L1221.7 896.9 L1222.8 896.2 L1223.9 894.4 L1225 893.6 L1226.1 894.2 L1227.2 891.7 L1228.3 890.7 L1229.4 883.1 L1230.5 889 L1231.6 879 L1232.8 886.9 L1233.9 887.9 L1235 886.7 L1236.1 886.4 L1237.2 883.9 L1238.3 883.8 L1239.4 883.9 L1240.5 883.4 L1241.6 881.5 L1242.7 882.7 L1243.8 882.2 L1244.9 881.3 L1246 882.6 L1247.1 882.7 L1248.2 882.3 L1249.3 882.4 L1250.4 884.3 L1251.5 883.5 L1252.6 884.1 L1253.7 886.6 L1254.8 884.7 L1255.9 886.2 L1257 888.9 L1258.1 890.1 L1259.2 890.5 L1260.4 891.9 L1261.5 892.4 L1262.6 893.3 L1263.7 894 L1264.8 894.6 L1265.9 894.2 L1267 895.3 L1268.1 896.3 L1269.2 897.3 L1270.3 897.8 L1271.4 896.3 L1272.5 898.9 L1273.6 898.3 L1274.7 898.3 L1275.8 889.2 L1276.9 898 L1278 889.5 L1279.1 899.1 L1280.2 899.3 L1281.3 900.5 L1282.4 899.9 L1283.5 899.5 L1284.6 899.4 L1285.7 899.2 L1286.8 900.4 L1288 899.5 L1289.1 900.6 L1290.2 898.2 L1291.3 900.7 L1292.4 900.1 L1293.5 901 L1294.6 898.7 L1295.7 900 L1296.8 901 L1297.9 899.6 L1299 900.4 L1300.1 900.3 L1301.2 900.8 L1302.3 900.8 L1303.4 900.9 L1304.5 900.7 L1305.6 900 L1306.7 898.9 L1307.8 899.3 L1308.9 900.4 L1310 898.9 L1311.1 899.7 L1312.2 899.3 L1313.3 900.9 L1314.4 898.7 L1315.6 900.6 L1316.7 900.1 L1317.8 899.6 L1318.9 898.8 L1320 898.7 L1321.1 898.8 L1322.2 899.4 L1323.3 899.7 L1324.4 900.3 L1325.5 899.8 L1326.6 900.7 L1327.7 900.8 L1328.8 900.4 L1329.9 899 L1331 899.8 L1332.1 900.9 L1333.2 899.2 L1334.3 900 L1334.3 903Z" fill="#f07293" fill-opacity="0.4" stroke="#f07293" stroke-width="0.8"/><path d="M914.8 903 L914.8 893.5 L916.1 893.2 L917.4 894.1 L918.8 893.4 L920.1 894.2 L921.4 893.8 L922.7 894 L924.1 894.1 L925.4 891.6 L926.7 894.3 L928 894.4 L929.4 893.8 L930.7 895 L932 896.1 L933.3 894.4 L934.7 894 L936 896 L937.3 894.1 L938.6 896.2 L940 896.5 L941.3 896.7 L942.6 896.7 L943.9 894.5 L945.3 893.4 L946.6 895.3 L947.9 897.3 L949.2 897.3 L950.6 896.5 L951.9 897.4 L953.2 897.8 L954.5 897.9 L955.9 896.4 L957.2 896.8 L958.5 898 L959.8 897 L961.2 897.5 L962.5 896.7 L963.8 897.1 L965.1 896 L966.5 896.9 L967.8 898.6 L969.1 897.3 L970.4 898.1 L971.8 898.6 L973.1 898.7 L974.4 898.1 L975.7 896.7 L977.1 898.7 L978.4 897.6 L979.7 898.5 L981 898 L982.4 895.7 L983.7 899 L985 898.8 L986.3 898.3 L987.7 898.1 L989 899.2 L990.3 897.4 L991.6 898.3 L993 896.1 L994.3 899.1 L995.6 897.2 L996.9 897.2 L998.3 899 L999.6 899.4 L1000.9 899.3 L1002.2 898 L1003.6 898.4 L1004.9 898.4 L1006.2 898.1 L1007.5 898.5 L1008.9 899.3 L1010.2 896.8 L1011.5 898.7 L1012.8 898.7 L1014.2 899 L1015.5 899 L1016.8 896.1 L1018.1 897.3 L1019.5 898.1 L1020.8 898 L1022.1 899 L1023.4 898.3 L1024.8 898.6 L1026.1 897.6 L1027.4 897.6 L1028.7 896 L1030.1 895 L1031.4 898.2 L1032.7 898.3 L1034 895.7 L1035.4 897.4 L1036.2 896.9 L1036.6 897.3 L1036.9 897.4 L1037.2 895.1 L1037.6 893.4 L1037.9 897.3 L1038.2 896 L1038.6 896.7 L1038.9 896.2 L1039.2 896 L1039.6 897.1 L1039.9 895.7 L1040.2 896.6 L1040.5 895.8 L1040.9 895.7 L1041.2 895.6 L1041.5 894.6 L1041.9 896.7 L1042.2 893.8 L1042.5 895.2 L1042.9 895.3 L1043.2 893.7 L1043.5 895.7 L1043.9 895.6 L1044.2 892.7 L1044.5 893.9 L1044.9 894.3 L1045.2 893.3 L1045.5 892.9 L1045.8 893.7 L1046.2 894 L1046.5 894.7 L1046.8 894.5 L1047.2 894.1 L1047.5 893.4 L1047.8 892.2 L1048.2 894 L1048.5 893.2 L1048.8 891.8 L1049.2 893.4 L1049.5 891.5 L1049.8 892.1 L1050.2 890.3 L1050.5 891.5 L1050.8 890.7 L1051.1 891.1 L1051.5 889.8 L1051.8 889.1 L1052.1 890.5 L1052.5 889.8 L1052.8 889.4 L1053.1 889.7 L1053.5 889 L1053.8 888.5 L1054.1 885.9 L1054.5 887.8 L1054.8 886.6 L1055.1 884.6 L1055.4 884.3 L1055.8 885.2 L1056.1 883.9 L1056.4 883 L1056.8 881.1 L1057.1 880.1 L1057.4 879.3 L1057.8 878.9 L1058.1 877.4 L1058.4 877.6 L1058.8 876.1 L1059.1 873.8 L1059.4 872.7 L1059.8 871 L1060.1 869.6 L1060.4 867.6 L1060.7 864.5 L1061.1 862.5 L1061.4 860 L1061.7 857.2 L1062.1 853.8 L1062.4 850.1 L1062.7 845 L1063.1 842.3 L1063.4 835.3 L1063.7 830 L1064.1 826.5 L1064.4 819.5 L1064.7 812.1 L1065.1 801 L1065.4 793.1 L1065.7 783 L1066 771.9 L1066.4 759.1 L1066.7 746.8 L1067 733.8 L1067.4 718.4 L1067.7 703.8 L1068 689.7 L1068.4 679.7 L1068.7 670 L1069 664.6 L1069.4 664.6 L1069.7 664.6 L1070 667.8 L1070.4 677.5 L1070.7 690.4 L1071 703.3 L1071.3 717.5 L1071.7 730.8 L1072 744.2 L1072.3 756.9 L1072.7 770.4 L1073 782.4 L1073.3 791.5 L1073.7 802.7 L1074 810.5 L1074.3 818.5 L1074.7 823.6 L1075 830.5 L1075.3 836.1 L1075.7 841.6 L1076 845.7 L1076.3 849.7 L1076.6 853.5 L1077 857.6 L1077.3 859.3 L1077.6 861.5 L1078 865.4 L1078.3 867.3 L1078.6 868.9 L1079 870.8 L1079.3 871.4 L1079.6 874.9 L1080 875.6 L1080.3 877.5 L1080.6 878.4 L1081 879.9 L1081.3 880.9 L1081.6 879 L1081.9 880.4 L1082.3 882.6 L1082.6 884.6 L1082.9 882.5 L1083.3 885.1 L1083.6 884.1 L1083.9 887 L1084.3 886.5 L1084.6 885.1 L1084.9 887.3 L1085.3 888.8 L1085.6 889.2 L1085.9 889.8 L1086.3 889.9 L1086.6 890.2 L1086.9 889.7 L1087.2 890.8 L1087.6 889.8 L1087.9 892 L1088.2 892.3 L1088.6 892.3 L1088.9 892.4 L1089.2 893.4 L1089.6 893.2 L1089.9 892.5 L1090.2 891.5 L1090.6 893.4 L1090.9 893.9 L1091.2 894.5 L1091.6 894.1 L1091.9 893.6 L1092.2 895 L1092.5 894.8 L1092.9 895.1 L1093.2 895.1 L1093.5 895.8 L1093.9 895.1 L1094.2 895.5 L1094.5 895.4 L1094.9 893.5 L1095.2 893.9 L1095.5 896.1 L1095.9 895.5 L1096.2 896.5 L1096.5 896.6 L1096.8 897 L1097.2 897 L1097.5 896.9 L1097.8 896 L1098.2 896.5 L1098.5 897.4 L1098.8 894.8 L1099.2 896.4 L1099.5 897.1 L1099.8 897.6 L1100.2 895 L1100.5 896.6 L1100.8 895 L1101.2 897 L1101.5 897.9 L1101.8 898 L1102.1 896.7 L1102.5 898 L1102.8 896.9 L1103.1 897.6 L1103.5 895.2 L1103.8 898.3 L1104.1 896.2 L1104.5 897.7 L1104.8 896.8 L1105.1 896.7 L1105.5 898.2 L1105.8 898.7 L1106.1 896.8 L1106.5 897.8 L1106.8 898.6 L1107.1 898.4 L1107.4 897 L1107.8 896.9 L1108.1 898.2 L1108.4 897.9 L1108.8 899 L1109.1 897.8 L1109.4 898 L1109.8 897.7 L1110.1 898.9 L1110.4 898.8 L1110.8 898.9 L1111.1 899 L1111.4 898.5 L1111.8 897.7 L1112.1 897.6 L1112.4 899.4 L1112.7 896.1 L1113.1 896.4 L1113.4 898.2 L1113.5 897.3 L1114.6 899.5 L1115.7 899.1 L1116.8 898.8 L1117.9 899.5 L1119 899.6 L1120.1 898.7 L1121.2 899.8 L1122.4 898.2 L1123.5 899.3 L1124.6 899.1 L1125.7 899 L1126.8 898.5 L1127.9 899.7 L1129 900.1 L1130.1 897.7 L1131.2 897.1 L1132.3 900 L1133.4 900.3 L1134.5 899.6 L1135.6 900.1 L1136.7 897.1 L1137.8 899.2 L1138.9 898 L1140 899.7 L1141.1 899.2 L1142.2 900.3 L1143.3 900 L1144.4 897.6 L1145.5 899 L1146.6 898.3 L1147.7 900 L1148.8 900.4 L1150 900.5 L1151.1 899.1 L1152.2 900.6 L1153.3 900.5 L1154.4 900.1 L1155.5 898.8 L1156.6 899.8 L1157.7 900.3 L1158.8 900.4 L1159.9 898.6 L1161 900.6 L1162.1 899.1 L1163.2 900.4 L1164.3 898.7 L1165.4 900.4 L1166.5 900 L1167.6 899.2 L1168.7 899 L1169.8 899.7 L1170.9 900.4 L1172 899.2 L1173.1 900.3 L1174.2 898.4 L1175.3 897.9 L1176.4 900.5 L1177.6 900.7 L1178.7 900.3 L1179.8 900.4 L1180.9 900.8 L1182 900.3 L1183.1 900.5 L1184.2 899.5 L1185.3 899.8 L1186.4 900.8 L1187.5 900.8 L1188.6 900.7 L1189.7 899.8 L1190.8 899.1 L1191.9 897.9 L1193 900.2 L1194.1 899.7 L1195.2 900.6 L1196.3 899.9 L1197.4 899.5 L1198.5 898.9 L1199.6 900.7 L1200.7 900.1 L1201.8 899.6 L1202.9 898.6 L1204 890.7 L1205.2 900.3 L1206.3 899.4 L1207.4 899.8 L1208.5 899 L1209.6 899.9 L1210.7 900.3 L1211.8 899.5 L1212.9 896.3 L1214 895.2 L1215.1 899.6 L1216.2 898.2 L1217.3 897 L1218.4 897.5 L1219.5 894.8 L1220.6 896.9 L1221.7 895.9 L1222.8 895.5 L1223.9 895.7 L1225 895.2 L1226.1 895 L1227.2 894.9 L1228.3 893.5 L1229.4 891.9 L1230.5 891.9 L1231.6 891.6 L1232.8 889.3 L1233.9 889.5 L1235 888.1 L1236.1 878.7 L1237.2 886.5 L1238.3 887.1 L1239.4 884.7 L1240.5 886.5 L1241.6 885.3 L1242.7 885.6 L1243.8 884.6 L1244.9 877.1 L1246 884 L1247.1 885.1 L1248.2 885.1 L1249.3 884.7 L1250.4 883.9 L1251.5 886.8 L1252.6 887.6 L1253.7 887.9 L1254.8 887.5 L1255.9 889 L1257 889 L1258.1 890.9 L1259.2 890.3 L1260.4 892 L1261.5 892.9 L1262.6 891.1 L1263.7 893.6 L1264.8 893.2 L1265.9 895.3 L1267 896.5 L1268.1 896.3 L1269.2 897.5 L1270.3 897.5 L1271.4 896.7 L1272.5 898.6 L1273.6 899.1 L1274.7 899 L1275.8 897.5 L1276.9 889.3 L1278 899 L1279.1 898.7 L1280.2 900.1 L1281.3 900.3 L1282.4 899 L1283.5 899.9 L1284.6 900.7 L1285.7 899.1 L1286.8 900.6 L1288 899 L1289.1 900 L1290.2 900.6 L1291.3 900 L1292.4 900.9 L1293.5 900 L1294.6 900.2 L1295.7 899.3 L1296.8 900.5 L1297.9 898.6 L1299 900.9 L1300.1 900.4 L1301.2 900.2 L1302.3 900.5 L1303.4 899.3 L1304.5 900.3 L1305.6 900.2 L1306.7 900 L1307.8 900.4 L1308.9 900 L1310 899.6 L1311.1 899.9 L1312.2 899.4 L1313.3 899.7 L1314.4 900.8 L1315.6 898.6 L1316.7 900 L1317.8 899.7 L1318.9 900.4 L1320 898.1 L1321.1 899.8 L1322.2 900.6 L1323.3 899 L1324.4 900.5 L1325.5 900.3 L1326.6 900.6 L1327.7 899.9 L1328.8 898.9 L1329.9 897.9 L1331 900.9 L1332.1 900 L1333.2 900.3 L1334.3 900.1 L1334.3 903Z" fill="#f07788" fill-opacity="0.4" stroke="#f07788" stroke-width="0.8"/><path d="M914.8 903 L914.8 892.9 L916.1 893.8 L917.4 894.3 L918.8 894.1 L920.1 893 L921.4 893.9 L922.7 892.6 L924.1 894.4 L925.4 893.5 L926.7 892.5 L928 894.2 L929.4 894.2 L930.7 894 L932 894.4 L933.3 896 L934.7 894.8 L936 895.7 L937.3 891.3 L938.6 895.5 L940 895.2 L941.3 894.5 L942.6 892.6 L943.9 895.8 L945.3 897.3 L946.6 897 L947.9 896.9 L949.2 897.1 L950.6 896.9 L951.9 897.3 L953.2 897.4 L954.5 896.4 L955.9 895.4 L957.2 897.3 L958.5 898.3 L959.8 895.8 L961.2 897.3 L962.5 898 L963.8 896.4 L965.1 897.2 L966.5 898.4 L967.8 889.4 L969.1 896.7 L970.4 898.3 L971.8 898.4 L973.1 897.1 L974.4 897.3 L975.7 898.6 L977.1 897.3 L978.4 896.9 L979.7 897.9 L981 898.2 L982.4 897.8 L983.7 898.9 L985 899 L986.3 898.5 L987.7 898.9 L989 898.2 L990.3 898.1 L991.6 899.3 L993 898.7 L994.3 899.6 L995.6 896.2 L996.9 899.3 L998.3 897.2 L999.6 899.5 L1000.9 897.9 L1002.2 899.3 L1003.6 899.4 L1004.9 898.5 L1006.2 896.9 L1007.5 899.1 L1008.9 898.3 L1010.2 899.1 L1011.5 897.2 L1012.8 898.4 L1014.2 899.1 L1015.5 899.1 L1016.8 899.6 L1018.1 898.5 L1019.5 899.6 L1020.8 899.4 L1022.1 898.3 L1023.4 897.2 L1024.8 895.8 L1026.1 899.1 L1027.4 896.4 L1028.7 899.3 L1030.1 897.6 L1031.4 898.7 L1032.7 896.4 L1034 899.1 L1035.4 899.1 L1036.2 897 L1036.6 897.9 L1036.9 896.7 L1037.2 897.1 L1037.6 896.5 L1037.9 898.3 L1038.2 896.6 L1038.6 897.4 L1038.9 897.5 L1039.2 897.7 L1039.6 898.8 L1039.9 897.3 L1040.2 898.7 L1040.5 898.3 L1040.9 896.5 L1041.2 896 L1041.5 898.2 L1041.9 898.1 L1042.2 897.6 L1042.5 898.1 L1042.9 898.2 L1043.2 897.4 L1043.5 897.6 L1043.9 898.2 L1044.2 895.7 L1044.5 897 L1044.9 897.5 L1045.2 897.3 L1045.5 896.8 L1045.8 896.6 L1046.2 895.9 L1046.5 896.7 L1046.8 895.6 L1047.2 897.1 L1047.5 894.8 L1047.8 896.4 L1048.2 896.4 L1048.5 896.4 L1048.8 896.5 L1049.2 894.7 L1049.5 895.3 L1049.8 895.3 L1050.2 894.5 L1050.5 893.9 L1050.8 894.6 L1051.1 895.4 L1051.5 894.6 L1051.8 893.9 L1052.1 894.8 L1052.5 894.9 L1052.8 894.6 L1053.1 894.2 L1053.5 894.3 L1053.8 892.4 L1054.1 893.4 L1054.5 892.4 L1054.8 892.4 L1055.1 892.8 L1055.4 891 L1055.8 892 L1056.1 891.3 L1056.4 891.1 L1056.8 889.2 L1057.1 889.7 L1057.4 888.8 L1057.8 887.6 L1058.1 887.6 L1058.4 886.5 L1058.8 886 L1059.1 884.4 L1059.4 884.6 L1059.8 882.4 L1060.1 879.8 L1060.4 880 L1060.7 878.7 L1061.1 877.6 L1061.4 875.3 L1061.7 874.3 L1062.1 870.8 L1062.4 866.6 L1062.7 866.5 L1063.1 862 L1063.4 857.9 L1063.7 855.3 L1064.1 849.4 L1064.4 843.7 L1064.7 837.8 L1065.1 829.3 L1065.4 821.1 L1065.7 809 L1066 797.6 L1066.4 783.5 L1066.7 767.8 L1067 748.2 L1067.4 730.2 L1067.7 709.2 L1068 690.9 L1068.4 674.6 L1068.7 664.6 L1069 664.6 L1069.4 666.2 L1069.7 679.5 L1070 695.6 L1070.4 716 L1070.7 734.2 L1071 753.3 L1071.3 771.9 L1071.7 788.4 L1072 802.1 L1072.3 812.8 L1072.7 823.8 L1073 831.2 L1073.3 838.9 L1073.7 844.2 L1074 850.4 L1074.3 856.6 L1074.7 860 L1075 864.4 L1075.3 867.6 L1075.7 870.5 L1076 871.3 L1076.3 871.3 L1076.6 875.8 L1077 878.9 L1077.3 879.5 L1077.6 878.6 L1078 882.7 L1078.3 883 L1078.6 885.2 L1079 884.9 L1079.3 885.6 L1079.6 887.3 L1080 888 L1080.3 886.5 L1080.6 889.9 L1081 890.6 L1081.3 890.7 L1081.6 890.9 L1081.9 890.3 L1082.3 891.4 L1082.6 891.2 L1082.9 892 L1083.3 893.5 L1083.6 893.1 L1083.9 892.5 L1084.3 891.8 L1084.6 893.9 L1084.9 894.6 L1085.3 895.1 L1085.6 895.4 L1085.9 894.5 L1086.3 894.6 L1086.6 895.7 L1086.9 896.1 L1087.2 894.3 L1087.6 895 L1087.9 896.5 L1088.2 893.1 L1088.6 897 L1088.9 896.8 L1089.2 896.2 L1089.6 897.3 L1089.9 896.8 L1090.2 896.8 L1090.6 896.5 L1090.9 896.2 L1091.2 897.7 L1091.6 897.7 L1091.9 897.6 L1092.2 896.9 L1092.5 897.7 L1092.9 897.9 L1093.2 898.1 L1093.5 897.7 L1093.9 897.7 L1094.2 897.2 L1094.5 898.6 L1094.9 898.3 L1095.2 898.3 L1095.5 898.7 L1095.9 898.8 L1096.2 897.1 L1096.5 898.6 L1096.8 897.6 L1097.2 898.1 L1097.5 896.5 L1097.8 898.3 L1098.2 898.7 L1098.5 897.4 L1098.8 899 L1099.2 897.1 L1099.5 898.7 L1099.8 898.1 L1100.2 898.9 L1100.5 896.9 L1100.8 899.3 L1101.2 896.7 L1101.5 898.8 L1101.8 896.9 L1102.1 898.6 L1102.5 899 L1102.8 898.2 L1103.1 899.2 L1103.5 897.2 L1103.8 897.9 L1104.1 899.7 L1104.5 898.8 L1104.8 898.4 L1105.1 899.8 L1105.5 899.1 L1105.8 898.4 L1106.1 898.5 L1106.5 899 L1106.8 899.4 L1107.1 899.5 L1107.4 898.7 L1107.8 899.4 L1108.1 897.8 L1108.4 899.5 L1108.8 896.3 L1109.1 899 L1109.4 898.5 L1109.8 899.3 L1110.1 897.9 L1110.4 899.3 L1110.8 899.2 L1111.1 899.5 L1111.4 898.2 L1111.8 898.8 L1112.1 898.5 L1112.4 899.3 L1112.7 899.2 L1113.1 898.4 L1113.4 899.4 L1113.5 899.5 L1114.6 899.3 L1115.7 900 L1116.8 900.2 L1117.9 898.9 L1119 899.9 L1120.1 899.2 L1121.2 900.2 L1122.4 898.6 L1123.5 899.7 L1124.6 898.2 L1125.7 898.7 L1126.8 899.9 L1127.9 899.4 L1129 900.3 L1130.1 900.2 L1131.2 899.6 L1132.3 899.5 L1133.4 899.7 L1134.5 900.5 L1135.6 900.2 L1136.7 899.8 L1137.8 898.7 L1138.9 898.3 L1140 900.1 L1141.1 899.4 L1142.2 900.8 L1143.3 899.6 L1144.4 898.6 L1145.5 900.3 L1146.6 900.1 L1147.7 900.1 L1148.8 900.1 L1150 897.1 L1151.1 900.1 L1152.2 899.4 L1153.3 900.3 L1154.4 899.3 L1155.5 900.4 L1156.6 899 L1157.7 899.7 L1158.8 899.8 L1159.9 899 L1161 900.4 L1162.1 899.1 L1163.2 900.7 L1164.3 900.7 L1165.4 900.1 L1166.5 898.9 L1167.6 899.7 L1168.7 899.5 L1169.8 898.3 L1170.9 900.6 L1172 899.8 L1173.1 900.9 L1174.2 898.8 L1175.3 900.7 L1176.4 898.6 L1177.6 898.1 L1178.7 898.1 L1179.8 900.6 L1180.9 899.1 L1182 899.1 L1183.1 899.1 L1184.2 901 L1185.3 899.1 L1186.4 899.5 L1187.5 900.5 L1188.6 899.7 L1189.7 900.1 L1190.8 900.3 L1191.9 899 L1193 899.4 L1194.1 899.2 L1195.2 900.6 L1196.3 899.8 L1197.4 900.5 L1198.5 899.1 L1199.6 900 L1200.7 897.7 L1201.8 900.2 L1202.9 898.9 L1204 887 L1205.2 899.6 L1206.3 900.5 L1207.4 899.2 L1208.5 898.5 L1209.6 900.4 L1210.7 899.4 L1211.8 896.9 L1212.9 899.7 L1214 896.5 L1215.1 899.6 L1216.2 898.1 L1217.3 898.3 L1218.4 897.5 L1219.5 896.8 L1220.6 895.3 L1221.7 896.9 L1222.8 896.6 L1223.9 895.8 L1225 894.7 L1226.1 892.2 L1227.2 892.7 L1228.3 892.1 L1229.4 889.6 L1230.5 890.6 L1231.6 889.3 L1232.8 888 L1233.9 887.6 L1235 886.9 L1236.1 886.3 L1237.2 883.6 L1238.3 883 L1239.4 884.1 L1240.5 882.8 L1241.6 882.3 L1242.7 880.8 L1243.8 881.6 L1244.9 882.1 L1246 881.6 L1247.1 882.6 L1248.2 882.4 L1249.3 881.5 L1250.4 883.5 L1251.5 884.4 L1252.6 883.2 L1253.7 886 L1254.8 886.8 L1255.9 887.3 L1257 886.4 L1258.1 889.5 L1259.2 888.4 L1260.4 890.3 L1261.5 892.2 L1262.6 891.8 L1263.7 893.2 L1264.8 892 L1265.9 894.5 L1267 895.7 L1268.1 895.5 L1269.2 897 L1270.3 896.2 L1271.4 896.3 L1272.5 897.2 L1273.6 898.7 L1274.7 898.7 L1275.8 899.5 L1276.9 899.7 L1278 899.6 L1279.1 899.2 L1280.2 899.7 L1281.3 898.9 L1282.4 900.2 L1283.5 887.4 L1284.6 897.7 L1285.7 899.3 L1286.8 899.1 L1288 900.6 L1289.1 898.7 L1290.2 899 L1291.3 900.9 L1292.4 899.1 L1293.5 899.5 L1294.6 897.9 L1295.7 899.4 L1296.8 899.8 L1297.9 898.5 L1299 900.3 L1300.1 898.6 L1301.2 901 L1302.3 901 L1303.4 900.2 L1304.5 900.4 L1305.6 900.5 L1306.7 900.6 L1307.8 900 L1308.9 899.8 L1310 899.4 L1311.1 899.6 L1312.2 899.1 L1313.3 900.3 L1314.4 898.8 L1315.6 901 L1316.7 900.4 L1317.8 899.7 L1318.9 901 L1320 899.9 L1321.1 898.1 L1322.2 901.1 L1323.3 899.9 L1324.4 900.5 L1325.5 899.4 L1326.6 900.6 L1327.7 900.3 L1328.8 900.8 L1329.9 900.8 L1331 900.6 L1332.1 900.6 L1333.2 896.8 L1334.3 900.9 L1334.3 903Z" fill="#f07d7d" fill-opacity="0.4" stroke="#f07d7d" stroke-width="0.8"/><path d="M914.8 903 L914.8 892.3 L916.1 892 L917.4 889.8 L918.8 891.9 L920.1 894.1 L921.4 894.1 L922.7 894.6 L924.1 893 L925.4 894.3 L926.7 893.5 L928 895.1 L929.4 894.4 L930.7 895.5 L932 893.1 L933.3 895.4 L934.7 895 L936 896.1 L937.3 894.9 L938.6 892.8 L940 892.9 L941.3 894.6 L942.6 896.6 L943.9 895.3 L945.3 896.2 L946.6 896.9 L947.9 897.1 L949.2 897 L950.6 896.6 L951.9 897 L953.2 897.6 L954.5 897.3 L955.9 897.8 L957.2 898.1 L958.5 898.3 L959.8 898 L961.2 898.2 L962.5 897.5 L963.8 898.4 L965.1 898.5 L966.5 896.3 L967.8 896.2 L969.1 898.7 L970.4 890.1 L971.8 896.9 L973.1 896.8 L974.4 896.9 L975.7 897.3 L977.1 898.4 L978.4 899 L979.7 897.7 L981 899 L982.4 897.7 L983.7 897.3 L985 899.2 L986.3 898.5 L987.7 899.3 L989 899 L990.3 898.4 L991.6 899.3 L993 898.2 L994.3 899 L995.6 898.8 L996.9 898 L998.3 898.9 L999.6 898.8 L1000.9 898.5 L1002.2 899.5 L1003.6 897.9 L1004.9 898.8 L1006.2 897.9 L1007.5 899.3 L1008.9 897.6 L1010.2 889.8 L1011.5 899.5 L1012.8 898.9 L1014.2 899.6 L1015.5 899.1 L1016.8 899.7 L1018.1 899.6 L1019.5 898 L1020.8 898.8 L1022.1 899.3 L1023.4 898.9 L1024.8 898 L1026.1 898.7 L1027.4 898.4 L1028.7 899.5 L1030.1 898.6 L1031.4 897.5 L1032.7 896.7 L1034 899.3 L1035.4 895.6 L1036.2 898.7 L1036.6 896.8 L1036.9 899.2 L1037.2 898.7 L1037.6 897.2 L1037.9 897.7 L1038.2 898.8 L1038.6 898.7 L1038.9 897.5 L1039.2 897.5 L1039.6 898.4 L1039.9 897.8 L1040.2 898.6 L1040.5 896.3 L1040.9 896.2 L1041.2 898.6 L1041.5 898.2 L1041.9 888.9 L1042.2 898.1 L1042.5 897.5 L1042.9 897 L1043.2 897.4 L1043.5 898.1 L1043.9 895.5 L1044.2 897.5 L1044.5 897.2 L1044.9 897.6 L1045.2 896.4 L1045.5 897.6 L1045.8 896.7 L1046.2 897.4 L1046.5 897.4 L1046.8 894.9 L1047.2 896.5 L1047.5 895.2 L1047.8 897.6 L1048.2 896.2 L1048.5 897.1 L1048.8 895.7 L1049.2 895.4 L1049.5 896.5 L1049.8 895.4 L1050.2 896.8 L1050.5 895.1 L1050.8 894.6 L1051.1 896.1 L1051.5 896 L1051.8 895.8 L1052.1 894.9 L1052.5 895.3 L1052.8 893.9 L1053.1 895.4 L1053.5 893.9 L1053.8 893 L1054.1 894.6 L1054.5 893.2 L1054.8 894.4 L1055.1 892.5 L1055.4 893.6 L1055.8 892.3 L1056.1 893.4 L1056.4 890.4 L1056.8 891.5 L1057.1 890.4 L1057.4 889.2 L1057.8 891.2 L1058.1 889.6 L1058.4 889.9 L1058.8 889.6 L1059.1 888.9 L1059.4 888.4 L1059.8 886 L1060.1 886.5 L1060.4 885.9 L1060.7 882.8 L1061.1 883.6 L1061.4 882.4 L1061.7 882.7 L1062.1 879.2 L1062.4 879 L1062.7 878.1 L1063.1 876.6 L1063.4 874.7 L1063.7 872.7 L1064.1 869.3 L1064.4 867.7 L1064.7 863.5 L1065.1 861.8 L1065.4 856.4 L1065.7 853.2 L1066 848.5 L1066.4 842.7 L1066.7 836.1 L1067 828.7 L1067.4 820 L1067.7 809.9 L1068 796.4 L1068.4 784.2 L1068.7 768.1 L1069 752 L1069.4 733.8 L1069.7 710.9 L1070 695.9 L1070.4 677.2 L1070.7 667.3 L1071 664.6 L1071.3 664.6 L1071.7 671.1 L1072 685.2 L1072.3 703.8 L1072.7 722.7 L1073 741.4 L1073.3 759.8 L1073.7 775 L1074 789.2 L1074.3 801.8 L1074.7 813.8 L1075 822.3 L1075.3 828.8 L1075.7 838.6 L1076 844.8 L1076.3 850.4 L1076.6 855 L1077 857.9 L1077.3 862.3 L1077.6 866.3 L1078 868.6 L1078.3 871.4 L1078.6 874 L1079 876 L1079.3 876.9 L1079.6 878.7 L1080 879.3 L1080.3 880.1 L1080.6 883 L1081 883.3 L1081.3 885 L1081.6 885.7 L1081.9 887 L1082.3 886.4 L1082.6 888.4 L1082.9 887.4 L1083.3 888.6 L1083.6 887.4 L1083.9 890.5 L1084.3 889 L1084.6 891.6 L1084.9 889.5 L1085.3 892.3 L1085.6 892.5 L1085.9 893 L1086.3 893.1 L1086.6 890.9 L1086.9 893.2 L1087.2 894 L1087.6 894.2 L1087.9 894.9 L1088.2 894 L1088.6 895 L1088.9 893.9 L1089.2 894.5 L1089.6 895.2 L1089.9 895.8 L1090.2 894 L1090.6 896 L1090.9 895.8 L1091.2 896.8 L1091.6 893.6 L1091.9 896.2 L1092.2 895.9 L1092.5 895.9 L1092.9 896.6 L1093.2 895.1 L1093.5 897.6 L1093.9 897 L1094.2 896.8 L1094.5 895.6 L1094.9 897.8 L1095.2 896.9 L1095.5 897.7 L1095.9 895.7 L1096.2 896.8 L1096.5 895.7 L1096.8 896.2 L1097.2 898.5 L1097.5 896.9 L1097.8 897.4 L1098.2 896.8 L1098.5 896.4 L1098.8 897 L1099.2 897.9 L1099.5 898.4 L1099.8 897.3 L1100.2 897.9 L1100.5 897.8 L1100.8 897.6 L1101.2 897.6 L1101.5 898.2 L1101.8 898.9 L1102.1 897.7 L1102.5 897.3 L1102.8 897.9 L1103.1 897.3 L1103.5 898.5 L1103.8 899 L1104.1 898.1 L1104.5 899.3 L1104.8 897.9 L1105.1 899.3 L1105.5 899.1 L1105.8 899.3 L1106.1 899.3 L1106.5 898.2 L1106.8 899.6 L1107.1 899.6 L1107.4 897.4 L1107.8 897.6 L1108.1 899.4 L1108.4 899.5 L1108.8 898.5 L1109.1 898.8 L1109.4 897 L1109.8 897.2 L1110.1 897.6 L1110.4 899.2 L1110.8 899.2 L1111.1 899.2 L1111.4 898.5 L1111.8 899.7 L1112.1 899.6 L1112.4 897.8 L1112.7 896.8 L1113.1 899.5 L1113.4 898.5 L1113.5 898.1 L1114.6 898.7 L1115.7 898.7 L1116.8 898.9 L1117.9 900.1 L1119 899.9 L1120.1 899.8 L1121.2 899.8 L1122.4 900.2 L1123.5 899.2 L1124.6 899.3 L1125.7 899.4 L1126.8 898.8 L1127.9 897.6 L1129 900.5 L1130.1 900.5 L1131.2 900 L1132.3 900.2 L1133.4 898.3 L1134.5 898.1 L1135.6 899.9 L1136.7 900.5 L1137.8 898 L1138.9 899 L1140 900.6 L1141.1 899.7 L1142.2 899.8 L1143.3 899.4 L1144.4 898.6 L1145.5 899.7 L1146.6 898.6 L1147.7 899.1 L1148.8 900.1 L1150 898.5 L1151.1 900.1 L1152.2 900.8 L1153.3 900.6 L1154.4 898.8 L1155.5 900.7 L1156.6 898.4 L1157.7 900.7 L1158.8 899 L1159.9 896.5 L1161 900.6 L1162.1 897.4 L1163.2 899.1 L1164.3 900.6 L1165.4 898.9 L1166.5 900.2 L1167.6 898.8 L1168.7 900.7 L1169.8 900.5 L1170.9 898.7 L1172 899.1 L1173.1 899.8 L1174.2 900.7 L1175.3 898.4 L1176.4 898.4 L1177.6 899.4 L1178.7 900.8 L1179.8 900.3 L1180.9 899.1 L1182 898.9 L1183.1 900.7 L1184.2 899.8 L1185.3 899.4 L1186.4 898.7 L1187.5 900.3 L1188.6 900.5 L1189.7 900.6 L1190.8 900.3 L1191.9 900.3 L1193 900.3 L1194.1 900.1 L1195.2 900.8 L1196.3 899.1 L1197.4 899.4 L1198.5 899.9 L1199.6 899.5 L1200.7 900.7 L1201.8 900.3 L1202.9 900.2 L1204 899.9 L1205.2 898.4 L1206.3 898.8 L1207.4 898.7 L1208.5 899.8 L1209.6 899.5 L1210.7 900.3 L1211.8 899.2 L1212.9 899.6 L1214 899.6 L1215.1 899.6 L1216.2 898.8 L1217.3 898.8 L1218.4 897.4 L1219.5 898.2 L1220.6 895.8 L1221.7 897.2 L1222.8 884.2 L1223.9 889.4 L1225 895.6 L1226.1 894.4 L1227.2 893.3 L1228.3 894 L1229.4 892.5 L1230.5 891.3 L1231.6 870.1 L1232.8 891.1 L1233.9 889.8 L1235 886.5 L1236.1 888.4 L1237.2 886.6 L1238.3 886.7 L1239.4 884.4 L1240.5 883 L1241.6 885 L1242.7 884.4 L1243.8 884.2 L1244.9 882.3 L1246 883.1 L1247.1 882.8 L1248.2 884.1 L1249.3 883.5 L1250.4 877.4 L1251.5 884.9 L1252.6 883.8 L1253.7 886.6 L1254.8 887.2 L1255.9 886.9 L1257 887 L1258.1 888 L1259.2 890.7 L1260.4 888.9 L1261.5 891 L1262.6 893.1 L1263.7 892.8 L1264.8 893.8 L1265.9 894.9 L1267 896 L1268.1 895.8 L1269.2 896.7 L1270.3 895.3 L1271.4 896.6 L1272.5 898 L1273.6 895.2 L1274.7 897.3 L1275.8 898.2 L1276.9 899.3 L1278 897.9 L1279.1 896.2 L1280.2 898.2 L1281.3 899.2 L1282.4 900.6 L1283.5 899.2 L1284.6 898.1 L1285.7 900.2 L1286.8 899 L1288 900.6 L1289.1 900.4 L1290.2 899.7 L1291.3 899.7 L1292.4 899.1 L1293.5 899.4 L1294.6 900.7 L1295.7 901 L1296.8 900.7 L1297.9 898.1 L1299 900.2 L1300.1 898.4 L1301.2 901 L1302.3 900.2 L1303.4 900.8 L1304.5 899.3 L1305.6 900.2 L1306.7 897.9 L1307.8 899.9 L1308.9 899.6 L1310 898.2 L1311.1 900.7 L1312.2 899.8 L1313.3 899 L1314.4 900.2 L1315.6 897.4 L1316.7 900.3 L1317.8 900.9 L1318.9 900.3 L1320 900.2 L1321.1 899.8 L1322.2 899.7 L1323.3 900.1 L1324.4 900.3 L1325.5 896.7 L1326.6 900.4 L1327.7 900.8 L1328.8 900.2 L1329.9 900.7 L1331 900.8 L1332.1 899.1 L1333.2 899.3 L1334.3 900.7 L1334.3 903Z" fill="#f08575" fill-opacity="0.4" stroke="#f08575" stroke-width="0.8"/><path d="M914.8 903 L914.8 893.2 L916.1 892.7 L917.4 893.9 L918.8 893.4 L920.1 892.8 L921.4 893.7 L922.7 893.9 L924.1 895.2 L925.4 894.5 L926.7 894.1 L928 894.7 L929.4 894.7 L930.7 896 L932 895.9 L933.3 891.4 L934.7 895.9 L936 896.1 L937.3 895.4 L938.6 893.3 L940 896.9 L941.3 893.4 L942.6 897 L943.9 895.7 L945.3 895.7 L946.6 894.8 L947.9 895 L949.2 896 L950.6 897.6 L951.9 896.5 L953.2 888.9 L954.5 896.3 L955.9 897.5 L957.2 896.1 L958.5 896.5 L959.8 896.9 L961.2 897.8 L962.5 897.4 L963.8 897.9 L965.1 897.4 L966.5 897.7 L967.8 893.3 L969.1 896.6 L970.4 897.4 L971.8 898.2 L973.1 896.6 L974.4 899 L975.7 898.8 L977.1 897.8 L978.4 896.3 L979.7 898.9 L981 897.1 L982.4 899.1 L983.7 898.2 L985 898.2 L986.3 897.1 L987.7 899.1 L989 897.9 L990.3 899.3 L991.6 898.8 L993 899.2 L994.3 899.6 L995.6 898.1 L996.9 896.7 L998.3 898.3 L999.6 899.2 L1000.9 898.7 L1002.2 898.2 L1003.6 899.1 L1004.9 898.9 L1006.2 898.2 L1007.5 898.2 L1008.9 899.7 L1010.2 898.3 L1011.5 899.8 L1012.8 899.8 L1014.2 898.9 L1015.5 898.1 L1016.8 899.6 L1018.1 898.3 L1019.5 899 L1020.8 897.6 L1022.1 898.3 L1023.4 899.5 L1024.8 897.8 L1026.1 899.7 L1027.4 897.5 L1028.7 898.7 L1030.1 899.3 L1031.4 898.9 L1032.7 899.3 L1034 898.9 L1035.4 897.3 L1036.2 898.7 L1036.6 897.8 L1036.9 899.4 L1037.2 898.5 L1037.6 899.1 L1037.9 897.8 L1038.2 898.5 L1038.6 898.5 L1038.9 898.9 L1039.2 898.6 L1039.6 898.9 L1039.9 898.3 L1040.2 897.7 L1040.5 897.4 L1040.9 896.8 L1041.2 898 L1041.5 898.9 L1041.9 897.5 L1042.2 898.1 L1042.5 898.2 L1042.9 898 L1043.2 897.4 L1043.5 898.7 L1043.9 898.5 L1044.2 898.6 L1044.5 898.2 L1044.9 898.3 L1045.2 898.3 L1045.5 897.9 L1045.8 894.5 L1046.2 897.6 L1046.5 897.6 L1046.8 898.1 L1047.2 897.5 L1047.5 897.7 L1047.8 897.4 L1048.2 896.6 L1048.5 895.4 L1048.8 896.8 L1049.2 897.8 L1049.5 897.6 L1049.8 896.2 L1050.2 895.5 L1050.5 897.4 L1050.8 897.2 L1051.1 896.5 L1051.5 897.1 L1051.8 895.5 L1052.1 896.1 L1052.5 896.7 L1052.8 895.8 L1053.1 895.4 L1053.5 895.5 L1053.8 895 L1054.1 895.5 L1054.5 895.5 L1054.8 894.4 L1055.1 895.4 L1055.4 894.5 L1055.8 893.2 L1056.1 894 L1056.4 894.1 L1056.8 892.7 L1057.1 891.4 L1057.4 892.6 L1057.8 890.9 L1058.1 892.1 L1058.4 891.8 L1058.8 889.8 L1059.1 889.6 L1059.4 890.9 L1059.8 889.1 L1060.1 888.6 L1060.4 888.8 L1060.7 887.2 L1061.1 887.3 L1061.4 885.6 L1061.7 885.6 L1062.1 884.3 L1062.4 882.8 L1062.7 881.2 L1063.1 877.8 L1063.4 876.9 L1063.7 877.1 L1064.1 873.5 L1064.4 872.4 L1064.7 870.3 L1065.1 865.9 L1065.4 862.9 L1065.7 859.8 L1066 854.8 L1066.4 848.3 L1066.7 842.2 L1067 836.6 L1067.4 828.9 L1067.7 818 L1068 807.1 L1068.4 793.3 L1068.7 778.5 L1069 758 L1069.4 740.7 L1069.7 719.5 L1070 699.6 L1070.4 681.1 L1070.7 668.1 L1071 664.6 L1071.3 664.6 L1071.7 675.3 L1072 693.4 L1072.3 712.6 L1072.7 734 L1073 754.6 L1073.3 773.2 L1073.7 788.4 L1074 802.9 L1074.3 814.1 L1074.7 824 L1075 834.8 L1075.3 841.2 L1075.7 846.7 L1076 853.4 L1076.3 858.4 L1076.6 861.6 L1077 866.2 L1077.3 869.3 L1077.6 871.8 L1078 873.1 L1078.3 876.7 L1078.6 876.8 L1079 879.2 L1079.3 881.7 L1079.6 881.8 L1080 883.1 L1080.3 885.2 L1080.6 885 L1081 886.2 L1081.3 886.9 L1081.6 888.9 L1081.9 888.6 L1082.3 889.8 L1082.6 888.5 L1082.9 890 L1083.3 889.4 L1083.6 892.2 L1083.9 890.8 L1084.3 890.8 L1084.6 893.1 L1084.9 893.2 L1085.3 893 L1085.6 893.9 L1085.9 893.8 L1086.3 894.9 L1086.6 893.1 L1086.9 895 L1087.2 894.7 L1087.6 893.7 L1087.9 895.1 L1088.2 896.2 L1088.6 896.2 L1088.9 895.8 L1089.2 895.6 L1089.6 894.4 L1089.9 894.6 L1090.2 896.5 L1090.6 896.7 L1090.9 896.4 L1091.2 896.8 L1091.6 896.8 L1091.9 895.8 L1092.2 897.8 L1092.5 896.6 L1092.9 897.2 L1093.2 897.7 L1093.5 897.3 L1093.9 898.1 L1094.2 897.3 L1094.5 896.6 L1094.9 898.1 L1095.2 896.1 L1095.5 898.1 L1095.9 898.3 L1096.2 898.3 L1096.5 897.4 L1096.8 898.4 L1097.2 897.4 L1097.5 896.8 L1097.8 898.6 L1098.2 898.7 L1098.5 898.6 L1098.8 899.1 L1099.2 899.1 L1099.5 898.7 L1099.8 897.6 L1100.2 898.6 L1100.5 899 L1100.8 898.9 L1101.2 899.4 L1101.5 898.5 L1101.8 898.3 L1102.1 899.2 L1102.5 899.4 L1102.8 899 L1103.1 899.4 L1103.5 897.9 L1103.8 899.5 L1104.1 898.3 L1104.5 899.2 L1104.8 899 L1105.1 898.6 L1105.5 899 L1105.8 899.7 L1106.1 897.7 L1106.5 899.1 L1106.8 899 L1107.1 898.9 L1107.4 899 L1107.8 898.3 L1108.1 898.8 L1108.4 899.7 L1108.8 899.8 L1109.1 899.4 L1109.4 897.6 L1109.8 899.7 L1110.1 899.7 L1110.4 900.1 L1110.8 899.4 L1111.1 898.3 L1111.4 899.2 L1111.8 897.7 L1112.1 897.8 L1112.4 899.7 L1112.7 898.5 L1113.1 900 L1113.4 898.1 L1113.5 899.4 L1114.6 899.3 L1115.7 899.2 L1116.8 900.2 L1117.9 899.2 L1119 898.5 L1120.1 898.3 L1121.2 898.6 L1122.4 899.6 L1123.5 899.2 L1124.6 897.3 L1125.7 900.2 L1126.8 897.8 L1127.9 897.8 L1129 899.5 L1130.1 899 L1131.2 900.3 L1132.3 898.5 L1133.4 900.2 L1134.5 897.4 L1135.6 899.1 L1136.7 900.5 L1137.8 900.6 L1138.9 899.8 L1140 899.8 L1141.1 898.9 L1142.2 900.5 L1143.3 899.9 L1144.4 900.4 L1145.5 899.2 L1146.6 900.8 L1147.7 900 L1148.8 900.6 L1150 900.7 L1151.1 900.7 L1152.2 899.6 L1153.3 900.8 L1154.4 900.3 L1155.5 900.6 L1156.6 899.5 L1157.7 898.8 L1158.8 899.9 L1159.9 898.4 L1161 900.8 L1162.1 899.1 L1163.2 898.7 L1164.3 900.4 L1165.4 898.4 L1166.5 900.3 L1167.6 899.8 L1168.7 899.6 L1169.8 898.7 L1170.9 900.1 L1172 898.9 L1173.1 899.7 L1174.2 900.2 L1175.3 899.7 L1176.4 900.4 L1177.6 899.7 L1178.7 900.8 L1179.8 898.8 L1180.9 899.7 L1182 900.2 L1183.1 900.2 L1184.2 899.7 L1185.3 899.8 L1186.4 899.4 L1187.5 899.9 L1188.6 899.5 L1189.7 899.2 L1190.8 899.6 L1191.9 899 L1193 898.7 L1194.1 898.9 L1195.2 899.9 L1196.3 899.9 L1197.4 900.2 L1198.5 898.2 L1199.6 892.7 L1200.7 899.4 L1201.8 899.9 L1202.9 900.7 L1204 899.5 L1205.2 899.8 L1206.3 900.4 L1207.4 899.6 L1208.5 898.4 L1209.6 899.9 L1210.7 900.1 L1211.8 899.9 L1212.9 898.3 L1214 899.8 L1215.1 899.6 L1216.2 897.2 L1217.3 899.3 L1218.4 898.5 L1219.5 897.3 L1220.6 896.4 L1221.7 896.3 L1222.8 895.6 L1223.9 896.3 L1225 894.1 L1226.1 895.6 L1227.2 895 L1228.3 894.2 L1229.4 891.7 L1230.5 892.4 L1231.6 891.8 L1232.8 890.5 L1233.9 889.8 L1235 889.1 L1236.1 888.2 L1237.2 884.8 L1238.3 885 L1239.4 880.1 L1240.5 885.1 L1241.6 882.9 L1242.7 875.2 L1243.8 883.1 L1244.9 882.9 L1246 884.1 L1247.1 882 L1248.2 882.4 L1249.3 882.5 L1250.4 883.6 L1251.5 884.2 L1252.6 886 L1253.7 886.2 L1254.8 886.6 L1255.9 886 L1257 887.6 L1258.1 887.7 L1259.2 889.4 L1260.4 890.8 L1261.5 890.4 L1262.6 892.9 L1263.7 893.7 L1264.8 892.8 L1265.9 895 L1267 895.5 L1268.1 895.7 L1269.2 897.2 L1270.3 895.5 L1271.4 895.7 L1272.5 896.9 L1273.6 897.3 L1274.7 897.4 L1275.8 898 L1276.9 899.2 L1278 899.5 L1279.1 900.2 L1280.2 899.6 L1281.3 900 L1282.4 899.6 L1283.5 900.5 L1284.6 900 L1285.7 900.6 L1286.8 899.6 L1288 900.5 L1289.1 900.5 L1290.2 899.8 L1291.3 900.4 L1292.4 900.2 L1293.5 900.8 L1294.6 900.7 L1295.7 900.8 L1296.8 900.8 L1297.9 897.4 L1299 900.6 L1300.1 900.8 L1301.2 898.4 L1302.3 899 L1303.4 899.3 L1304.5 900.9 L1305.6 900.6 L1306.7 900.9 L1307.8 901.1 L1308.9 899.3 L1310 900.5 L1311.1 900.3 L1312.2 899.6 L1313.3 900 L1314.4 900.9 L1315.6 900.2 L1316.7 900.3 L1317.8 900.9 L1318.9 898.6 L1320 901.1 L1321.1 899 L1322.2 899.9 L1323.3 898.8 L1324.4 901 L1325.5 900.7 L1326.6 897.9 L1327.7 898.7 L1328.8 898.1 L1329.9 900 L1331 897.8 L1332.1 899.6 L1333.2 900.4 L1334.3 899.9 L1334.3 903Z" fill="#f0906f" fill-opacity="0.4" stroke="#f0906f" stroke-width="0.8"/><path d="M914.8 903 L914.8 892.5 L916.1 893.3 L917.4 894 L918.8 892.3 L920.1 893.5 L921.4 894.4 L922.7 893.9 L924.1 894.9 L925.4 894 L926.7 894 L928 893.9 L929.4 895.7 L930.7 895.5 L932 895.3 L933.3 895.9 L934.7 895.3 L936 894.8 L937.3 895.6 L938.6 895.7 L940 895.6 L941.3 897 L942.6 897.2 L943.9 895.9 L945.3 896.5 L946.6 897.5 L947.9 893.3 L949.2 896.7 L950.6 895.9 L951.9 896.9 L953.2 897.5 L954.5 897.4 L955.9 892.1 L957.2 896.8 L958.5 896.9 L959.8 898.2 L961.2 898.3 L962.5 896.1 L963.8 898.1 L965.1 898 L966.5 898 L967.8 897.3 L969.1 897.5 L970.4 897.7 L971.8 897.3 L973.1 897.2 L974.4 895.4 L975.7 897.5 L977.1 896.9 L978.4 898.6 L979.7 898.6 L981 890.5 L982.4 898.5 L983.7 898.3 L985 898.2 L986.3 898.2 L987.7 898.9 L989 894.3 L990.3 899.1 L991.6 898.8 L993 899 L994.3 898.8 L995.6 898.8 L996.9 898.8 L998.3 899.1 L999.6 898.8 L1000.9 898.2 L1002.2 898.5 L1003.6 898.8 L1004.9 897 L1006.2 899.4 L1007.5 898.4 L1008.9 899.1 L1010.2 898.6 L1011.5 899.8 L1012.8 898.3 L1014.2 897.8 L1015.5 897.8 L1016.8 899.4 L1018.1 898.8 L1019.5 899.3 L1020.8 898.5 L1022.1 898.7 L1023.4 898.3 L1024.8 899.2 L1026.1 899.2 L1027.4 899.6 L1028.7 896.7 L1030.1 898.1 L1031.4 898.6 L1032.7 898.9 L1034 899.1 L1035.4 897.9 L1036.2 887.1 L1036.6 897.5 L1036.9 897.4 L1037.2 896.5 L1037.6 895.4 L1037.9 899.2 L1038.2 899.3 L1038.6 899.2 L1038.9 892.1 L1039.2 897.6 L1039.6 897.6 L1039.9 898.2 L1040.2 896 L1040.5 897.8 L1040.9 898.2 L1041.2 896.9 L1041.5 898 L1041.9 898.5 L1042.2 898 L1042.5 897.7 L1042.9 897.9 L1043.2 898.9 L1043.5 897.4 L1043.9 898.6 L1044.2 897.4 L1044.5 897.4 L1044.9 897.3 L1045.2 897 L1045.5 897.2 L1045.8 897.6 L1046.2 896.8 L1046.5 898.3 L1046.8 895.5 L1047.2 898.2 L1047.5 897.3 L1047.8 897.9 L1048.2 898.1 L1048.5 895.1 L1048.8 897.2 L1049.2 897.6 L1049.5 897.2 L1049.8 896.4 L1050.2 897.3 L1050.5 897 L1050.8 896 L1051.1 896.5 L1051.5 894.4 L1051.8 896.2 L1052.1 896.7 L1052.5 894.8 L1052.8 895.4 L1053.1 896.6 L1053.5 896.3 L1053.8 895.4 L1054.1 896.4 L1054.5 894.8 L1054.8 894.8 L1055.1 894.9 L1055.4 894.2 L1055.8 894.8 L1056.1 895.3 L1056.4 893.4 L1056.8 891.4 L1057.1 893 L1057.4 893.1 L1057.8 894 L1058.1 891.3 L1058.4 892.6 L1058.8 889.7 L1059.1 890.4 L1059.4 892.2 L1059.8 891.7 L1060.1 890.6 L1060.4 889.5 L1060.7 889 L1061.1 887.8 L1061.4 889.2 L1061.7 887.5 L1062.1 887.7 L1062.4 886.4 L1062.7 885 L1063.1 884.6 L1063.4 883.8 L1063.7 880.5 L1064.1 879.3 L1064.4 877.7 L1064.7 878.5 L1065.1 875.9 L1065.4 874 L1065.7 870.5 L1066 869.2 L1066.4 867 L1066.7 863.2 L1067 858 L1067.4 855.5 L1067.7 850.6 L1068 843.4 L1068.4 836.6 L1068.7 830 L1069 820.1 L1069.4 809.5 L1069.7 798.8 L1070 784.5 L1070.4 767.9 L1070.7 749.6 L1071 730.5 L1071.3 709.4 L1071.7 688.2 L1072 673.6 L1072.3 664.6 L1072.7 664.6 L1073 666.3 L1073.3 676.6 L1073.7 696.2 L1074 714.4 L1074.3 734.9 L1074.7 755 L1075 772.3 L1075.3 789 L1075.7 798.7 L1076 812 L1076.3 822.8 L1076.6 832.3 L1077 839.7 L1077.3 846.7 L1077.6 852.2 L1078 857.1 L1078.3 861.2 L1078.6 864.9 L1079 867.7 L1079.3 868.8 L1079.6 872.6 L1080 872.1 L1080.3 876.7 L1080.6 876.7 L1081 878 L1081.3 881.9 L1081.6 882.7 L1081.9 880.8 L1082.3 883.3 L1082.6 885.9 L1082.9 886.9 L1083.3 886.8 L1083.6 888.2 L1083.9 889.5 L1084.3 888.7 L1084.6 890.4 L1084.9 888.1 L1085.3 891.7 L1085.6 891.7 L1085.9 890.7 L1086.3 892.6 L1086.6 892.4 L1086.9 892.8 L1087.2 893.7 L1087.6 893.2 L1087.9 893.3 L1088.2 894.2 L1088.6 894.2 L1088.9 892.6 L1089.2 894 L1089.6 893.4 L1089.9 894.9 L1090.2 894.3 L1090.6 895.4 L1090.9 894 L1091.2 894.3 L1091.6 896.4 L1091.9 896.7 L1092.2 893.5 L1092.5 893.5 L1092.9 897.1 L1093.2 897 L1093.5 896.8 L1093.9 896.4 L1094.2 897.4 L1094.5 893.2 L1094.9 896.6 L1095.2 897.2 L1095.5 897.5 L1095.9 896 L1096.2 897.7 L1096.5 897.9 L1096.8 894.3 L1097.2 897.5 L1097.5 897.1 L1097.8 897.2 L1098.2 898.4 L1098.5 895.6 L1098.8 897.9 L1099.2 897.4 L1099.5 898.1 L1099.8 897.2 L1100.2 897.2 L1100.5 896.6 L1100.8 897.8 L1101.2 899.1 L1101.5 898.8 L1101.8 897.4 L1102.1 897.9 L1102.5 899.1 L1102.8 898.5 L1103.1 899.2 L1103.5 897.8 L1103.8 898.4 L1104.1 898.7 L1104.5 899.2 L1104.8 897.9 L1105.1 896.6 L1105.5 898.2 L1105.8 898.9 L1106.1 899.2 L1106.5 898.3 L1106.8 899.1 L1107.1 898.9 L1107.4 899.6 L1107.8 897.1 L1108.1 899.6 L1108.4 899.7 L1108.8 898.2 L1109.1 899.2 L1109.4 898.9 L1109.8 898 L1110.1 899 L1110.4 898.4 L1110.8 899.4 L1111.1 899.5 L1111.4 897.2 L1111.8 899.6 L1112.1 898.3 L1112.4 899.7 L1112.7 900.1 L1113.1 899.6 L1113.4 899.9 L1113.5 898.6 L1114.6 898.7 L1115.7 900.1 L1116.8 898.1 L1117.9 899.9 L1119 899.8 L1120.1 897.1 L1121.2 900.2 L1122.4 899.3 L1123.5 900 L1124.6 900.2 L1125.7 897.6 L1126.8 899.8 L1127.9 900.2 L1129 898.6 L1130.1 898.6 L1131.2 899.8 L1132.3 900.6 L1133.4 900.4 L1134.5 900.1 L1135.6 900.4 L1136.7 899.9 L1137.8 900.4 L1138.9 900.2 L1140 898.5 L1141.1 900.3 L1142.2 899.8 L1143.3 899.1 L1144.4 900.8 L1145.5 900 L1146.6 900.3 L1147.7 900.1 L1148.8 899.9 L1150 896.6 L1151.1 900.6 L1152.2 899.7 L1153.3 900.2 L1154.4 899.7 L1155.5 898 L1156.6 900.8 L1157.7 898.2 L1158.8 900.5 L1159.9 899.5 L1161 899.8 L1162.1 900.2 L1163.2 900.6 L1164.3 899 L1165.4 900.7 L1166.5 899.1 L1167.6 900.8 L1168.7 898.4 L1169.8 900.3 L1170.9 900.6 L1172 900.8 L1173.1 898.8 L1174.2 898.5 L1175.3 900 L1176.4 899.2 L1177.6 900.7 L1178.7 900 L1179.8 900.8 L1180.9 899.8 L1182 900.4 L1183.1 898.4 L1184.2 899.5 L1185.3 900.2 L1186.4 898.6 L1187.5 900.2 L1188.6 898.7 L1189.7 899.3 L1190.8 900.5 L1191.9 897.8 L1193 900.7 L1194.1 900.1 L1195.2 899.9 L1196.3 899.3 L1197.4 899.9 L1198.5 900.1 L1199.6 888.2 L1200.7 900.9 L1201.8 899.8 L1202.9 900.6 L1204 899.4 L1205.2 899.2 L1206.3 900.7 L1207.4 900.3 L1208.5 900.6 L1209.6 895 L1210.7 898.9 L1211.8 898.5 L1212.9 899.2 L1214 898 L1215.1 898.4 L1216.2 898.1 L1217.3 889.6 L1218.4 898.2 L1219.5 897.7 L1220.6 897.7 L1221.7 896.5 L1222.8 895.9 L1223.9 895.1 L1225 895.2 L1226.1 895.1 L1227.2 894.1 L1228.3 891.6 L1229.4 893 L1230.5 889.9 L1231.6 889.9 L1232.8 889 L1233.9 889.1 L1235 887.4 L1236.1 886.8 L1237.2 885.7 L1238.3 884.9 L1239.4 882.8 L1240.5 882.2 L1241.6 880.9 L1242.7 881.9 L1243.8 882.4 L1244.9 882.2 L1246 881.3 L1247.1 881.7 L1248.2 878.1 L1249.3 879.7 L1250.4 882.6 L1251.5 882.8 L1252.6 881.5 L1253.7 884.3 L1254.8 884.7 L1255.9 883.4 L1257 886.5 L1258.1 875.3 L1259.2 888.2 L1260.4 888.7 L1261.5 889.5 L1262.6 890.3 L1263.7 892.4 L1264.8 893.1 L1265.9 893.5 L1267 894.8 L1268.1 892.5 L1269.2 895.3 L1270.3 895.5 L1271.4 895.5 L1272.5 896.5 L1273.6 896.4 L1274.7 897.7 L1275.8 898.7 L1276.9 898.4 L1278 899.1 L1279.1 899.5 L1280.2 898.3 L1281.3 899.1 L1282.4 899.9 L1283.5 900.3 L1284.6 900.5 L1285.7 898.9 L1286.8 900.8 L1288 900.1 L1289.1 899.4 L1290.2 899.2 L1291.3 899.6 L1292.4 899.8 L1293.5 899.9 L1294.6 898.9 L1295.7 898.9 L1296.8 901 L1297.9 900.8 L1299 899.5 L1300.1 900.7 L1301.2 899.1 L1302.3 898.3 L1303.4 901.1 L1304.5 897.8 L1305.6 900.4 L1306.7 900.3 L1307.8 898.8 L1308.9 897.8 L1310 900.7 L1311.1 900.4 L1312.2 898.3 L1313.3 900.5 L1314.4 900.8 L1315.6 899.4 L1316.7 899.7 L1317.8 899.2 L1318.9 900.5 L1320 900.7 L1321.1 899.2 L1322.2 901 L1323.3 898.8 L1324.4 899.2 L1325.5 900.8 L1326.6 900.3 L1327.7 900.1 L1328.8 899.6 L1329.9 898.4 L1331 900.5 L1332.1 899.9 L1333.2 899.3 L1334.3 900.1 L1334.3 903Z" fill="#f09a69" fill-opacity="0.4" stroke="#f09a69" stroke-width="0.8"/><path d="M914.8 903 L914.8 892.8 L916.1 891.4 L917.4 894 L918.8 893.9 L920.1 893.5 L921.4 892.6 L922.7 894.9 L924.1 894.4 L925.4 893.7 L926.7 894.9 L928 895.5 L929.4 894.8 L930.7 895.3 L932 893.8 L933.3 896.2 L934.7 895.3 L936 895.8 L937.3 895.6 L938.6 891.9 L940 895.2 L941.3 895.1 L942.6 896.4 L943.9 896.8 L945.3 897.2 L946.6 896 L947.9 895.2 L949.2 895 L950.6 897.7 L951.9 897.2 L953.2 897.5 L954.5 896.1 L955.9 897.7 L957.2 895.9 L958.5 898.2 L959.8 897.4 L961.2 896.2 L962.5 897.5 L963.8 898.1 L965.1 898.5 L966.5 898.4 L967.8 897.2 L969.1 897.7 L970.4 898.3 L971.8 897 L973.1 898.2 L974.4 896.8 L975.7 898.6 L977.1 898.2 L978.4 899 L979.7 898.3 L981 898.4 L982.4 898 L983.7 898 L985 898.4 L986.3 898.6 L987.7 898.7 L989 897.8 L990.3 896.9 L991.6 898.8 L993 897.7 L994.3 899.5 L995.6 897.4 L996.9 898.8 L998.3 899.3 L999.6 897.2 L1000.9 899.5 L1002.2 899.6 L1003.6 896.6 L1004.9 898.6 L1006.2 899.5 L1007.5 898.2 L1008.9 899.5 L1010.2 899.7 L1011.5 899.5 L1012.8 898.9 L1014.2 898.9 L1015.5 897.6 L1016.8 899.4 L1018.1 897.1 L1019.5 899.4 L1020.8 898.3 L1022.1 898.4 L1023.4 897.3 L1024.8 898.4 L1026.1 899.1 L1027.4 899.4 L1028.7 897.7 L1030.1 898.8 L1031.4 898.7 L1032.7 898.5 L1034 896.3 L1035.4 898.3 L1036.2 898.3 L1036.6 898.4 L1036.9 897.6 L1037.2 898.6 L1037.6 896.3 L1037.9 897.2 L1038.2 898.7 L1038.6 897.8 L1038.9 898.7 L1039.2 898.3 L1039.6 887.4 L1039.9 897.6 L1040.2 898.1 L1040.5 898 L1040.9 897.8 L1041.2 897.7 L1041.5 897.6 L1041.9 898.1 L1042.2 898.1 L1042.5 897.4 L1042.9 897 L1043.2 896.2 L1043.5 896.8 L1043.9 897.7 L1044.2 897.4 L1044.5 897.1 L1044.9 896.8 L1045.2 897.8 L1045.5 895.1 L1045.8 894.7 L1046.2 894 L1046.5 893.9 L1046.8 895.1 L1047.2 896.4 L1047.5 896.7 L1047.8 896.4 L1048.2 896.6 L1048.5 895.4 L1048.8 896.2 L1049.2 896.6 L1049.5 893.9 L1049.8 895.7 L1050.2 896 L1050.5 895.2 L1050.8 895.2 L1051.1 895.9 L1051.5 895.9 L1051.8 894.3 L1052.1 895.1 L1052.5 895.2 L1052.8 895.4 L1053.1 893.2 L1053.5 893.3 L1053.8 894.7 L1054.1 894.1 L1054.5 892.7 L1054.8 893.2 L1055.1 893.4 L1055.4 893.8 L1055.8 893 L1056.1 893.2 L1056.4 892.9 L1056.8 890.7 L1057.1 889.8 L1057.4 889.6 L1057.8 890.9 L1058.1 889.8 L1058.4 890.7 L1058.8 889.5 L1059.1 889.7 L1059.4 889.3 L1059.8 886.9 L1060.1 887.2 L1060.4 886.9 L1060.7 887.2 L1061.1 886.2 L1061.4 885 L1061.7 883.9 L1062.1 884.2 L1062.4 882.2 L1062.7 880.8 L1063.1 879.6 L1063.4 879.5 L1063.7 876.6 L1064.1 875.9 L1064.4 875.1 L1064.7 873.5 L1065.1 871.5 L1065.4 867.4 L1065.7 866.8 L1066 862.6 L1066.4 860.3 L1066.7 858.9 L1067 855.3 L1067.4 849.2 L1067.7 844.2 L1068 841 L1068.4 835.4 L1068.7 827.2 L1069 821.3 L1069.4 811.7 L1069.7 802.5 L1070 789.1 L1070.4 779.6 L1070.7 764.9 L1071 751 L1071.3 735.2 L1071.7 718.4 L1072 702.4 L1072.3 687.1 L1072.7 674.6 L1073 665.1 L1073.3 664.6 L1073.7 664.6 L1074 670.7 L1074.3 680.1 L1074.7 695.5 L1075 710.9 L1075.3 727.9 L1075.7 743.8 L1076 757.2 L1076.3 773.5 L1076.6 784.7 L1077 796.7 L1077.3 806.6 L1077.6 817.5 L1078 824 L1078.3 830.9 L1078.6 837.7 L1079 843.2 L1079.3 848.9 L1079.6 852.9 L1080 856.9 L1080.3 860.8 L1080.6 863 L1081 865.5 L1081.3 868.1 L1081.6 870.5 L1081.9 870.8 L1082.3 873.5 L1082.6 876.2 L1082.9 876.9 L1083.3 879.3 L1083.6 879.9 L1083.9 880.7 L1084.3 882.7 L1084.6 883.6 L1084.9 883.6 L1085.3 883.3 L1085.6 886.4 L1085.9 884.6 L1086.3 885.8 L1086.6 886.3 L1086.9 888.5 L1087.2 888.3 L1087.6 889.6 L1087.9 890.2 L1088.2 889.9 L1088.6 891.4 L1088.9 890.9 L1089.2 890.8 L1089.6 892.3 L1089.9 892.2 L1090.2 893 L1090.6 890.9 L1090.9 892.2 L1091.2 893.8 L1091.6 892.8 L1091.9 894.3 L1092.2 894.2 L1092.5 894.1 L1092.9 889.5 L1093.2 893 L1093.5 893.9 L1093.9 895.5 L1094.2 895.6 L1094.5 895.6 L1094.9 894.4 L1095.2 895.5 L1095.5 895.3 L1095.9 894.6 L1096.2 895.5 L1096.5 894.7 L1096.8 894.9 L1097.2 895.9 L1097.5 896.5 L1097.8 894 L1098.2 896 L1098.5 897 L1098.8 895.7 L1099.2 897 L1099.5 897.4 L1099.8 895.3 L1100.2 896.7 L1100.5 897.3 L1100.8 894.4 L1101.2 897.1 L1101.5 897.8 L1101.8 896.3 L1102.1 895.9 L1102.5 898.2 L1102.8 897 L1103.1 895.6 L1103.5 898.3 L1103.8 898 L1104.1 897.3 L1104.5 897.8 L1104.8 897.6 L1105.1 898.5 L1105.5 898.4 L1105.8 898.7 L1106.1 898.7 L1106.5 896.4 L1106.8 898.1 L1107.1 896 L1107.4 898.3 L1107.8 897.5 L1108.1 896.9 L1108.4 898 L1108.8 898.4 L1109.1 898 L1109.4 897.6 L1109.8 898 L1110.1 897.7 L1110.4 898.8 L1110.8 898.1 L1111.1 898.1 L1111.4 899.1 L1111.8 898.5 L1112.1 899 L1112.4 898 L1112.7 896.6 L1113.1 896.5 L1113.4 899.1 L1113.5 898.6 L1114.6 898.9 L1115.7 899.6 L1116.8 897.2 L1117.9 899.4 L1119 898.3 L1120.1 897.8 L1121.2 898.5 L1122.4 898.7 L1123.5 898.1 L1124.6 899.3 L1125.7 898.8 L1126.8 898.8 L1127.9 898.8 L1129 899.4 L1130.1 898.9 L1131.2 899.8 L1132.3 900 L1133.4 898.7 L1134.5 899.3 L1135.6 899.9 L1136.7 899.5 L1137.8 899.3 L1138.9 900.4 L1140 899.8 L1141.1 899.8 L1142.2 899.9 L1143.3 899.3 L1144.4 898.3 L1145.5 900.6 L1146.6 898 L1147.7 899.5 L1148.8 900.1 L1150 900.6 L1151.1 899.1 L1152.2 899.2 L1153.3 897.8 L1154.4 900.6 L1155.5 900.4 L1156.6 899 L1157.7 899.4 L1158.8 899.8 L1159.9 899.7 L1161 899.9 L1162.1 899.8 L1163.2 900.1 L1164.3 900.3 L1165.4 898.9 L1166.5 899.6 L1167.6 900.6 L1168.7 898.8 L1169.8 899.5 L1170.9 900.4 L1172 899.2 L1173.1 899.3 L1174.2 899.9 L1175.3 900.5 L1176.4 900.4 L1177.6 898.9 L1178.7 900.6 L1179.8 899.9 L1180.9 898.8 L1182 898.9 L1183.1 898.6 L1184.2 899.2 L1185.3 899.8 L1186.4 900.5 L1187.5 900.7 L1188.6 899.8 L1189.7 899.8 L1190.8 900.9 L1191.9 899.9 L1193 900.7 L1194.1 900.7 L1195.2 899.5 L1196.3 900.6 L1197.4 896.9 L1198.5 892.5 L1199.6 900.7 L1200.7 900.6 L1201.8 898.9 L1202.9 897.5 L1204 899 L1205.2 900.3 L1206.3 898.5 L1207.4 900.2 L1208.5 900.6 L1209.6 900.2 L1210.7 899 L1211.8 898.9 L1212.9 899.7 L1214 899.8 L1215.1 899.5 L1216.2 899.3 L1217.3 897.9 L1218.4 896.7 L1219.5 899 L1220.6 896.3 L1221.7 895.8 L1222.8 894.1 L1223.9 895.8 L1225 896.7 L1226.1 894 L1227.2 894.9 L1228.3 894.1 L1229.4 893.5 L1230.5 891.4 L1231.6 890.8 L1232.8 890.2 L1233.9 889.9 L1235 889.5 L1236.1 888.1 L1237.2 886.2 L1238.3 885.7 L1239.4 883.6 L1240.5 885.7 L1241.6 884.6 L1242.7 883.8 L1243.8 881.6 L1244.9 883.2 L1246 883.3 L1247.1 883 L1248.2 882.5 L1249.3 882.8 L1250.4 883.7 L1251.5 883.6 L1252.6 884 L1253.7 885.1 L1254.8 885.1 L1255.9 884.8 L1257 886.5 L1258.1 886.9 L1259.2 888.7 L1260.4 882.2 L1261.5 890.1 L1262.6 891 L1263.7 892.6 L1264.8 893.4 L1265.9 893.6 L1267 894.8 L1268.1 893.8 L1269.2 896.4 L1270.3 895.5 L1271.4 894.8 L1272.5 896.4 L1273.6 897.5 L1274.7 897.1 L1275.8 898.6 L1276.9 899.5 L1278 899.2 L1279.1 897.7 L1280.2 900.2 L1281.3 900 L1282.4 898.9 L1283.5 899.2 L1284.6 900.1 L1285.7 898.6 L1286.8 900 L1288 900.3 L1289.1 899.2 L1290.2 899.6 L1291.3 898.7 L1292.4 898.7 L1293.5 900.7 L1294.6 900.3 L1295.7 900.3 L1296.8 898.7 L1297.9 900.7 L1299 900.2 L1300.1 899.7 L1301.2 898.9 L1302.3 900.6 L1303.4 899.4 L1304.5 900.4 L1305.6 897.9 L1306.7 899.6 L1307.8 900.8 L1308.9 900.4 L1310 900.9 L1311.1 900.6 L1312.2 899.7 L1313.3 899.6 L1314.4 899.1 L1315.6 899.9 L1316.7 900.2 L1317.8 900.3 L1318.9 900.8 L1320 900.2 L1321.1 900.4 L1322.2 899.5 L1323.3 899 L1324.4 901 L1325.5 900 L1326.6 900.6 L1327.7 898.6 L1328.8 900.3 L1329.9 900.5 L1331 899.6 L1332.1 901 L1333.2 899.9 L1334.3 900.5 L1334.3 903Z" fill="#f0a564" fill-opacity="0.4" stroke="#f0a564" stroke-width="0.8"/><path d="M914.8 903 L914.8 890.7 L916.1 892.7 L917.4 892.1 L918.8 893.5 L920.1 892.7 L921.4 894.4 L922.7 894.5 L924.1 894.9 L925.4 894.9 L926.7 895.5 L928 895.5 L929.4 894.8 L930.7 895.9 L932 894.2 L933.3 895.1 L934.7 895.5 L936 894 L937.3 896.5 L938.6 894.6 L940 895.5 L941.3 894.2 L942.6 896 L943.9 897.1 L945.3 896.9 L946.6 897.2 L947.9 890.9 L949.2 895.2 L950.6 896.7 L951.9 897.8 L953.2 897.7 L954.5 895.8 L955.9 896.7 L957.2 897.8 L958.5 897.4 L959.8 897.4 L961.2 898.4 L962.5 897.8 L963.8 896.5 L965.1 897.7 L966.5 896.8 L967.8 898.4 L969.1 897 L970.4 898.6 L971.8 897.4 L973.1 897.6 L974.4 897.9 L975.7 898.1 L977.1 896.5 L978.4 899.1 L979.7 898.9 L981 898.3 L982.4 897.8 L983.7 898.6 L985 899.2 L986.3 899.1 L987.7 896.9 L989 899.3 L990.3 899.2 L991.6 898.8 L993 898.5 L994.3 898.9 L995.6 896.1 L996.9 899 L998.3 899.2 L999.6 898.4 L1000.9 897.3 L1002.2 898.7 L1003.6 899.6 L1004.9 898.7 L1006.2 892.6 L1007.5 899.2 L1008.9 898.4 L1010.2 898 L1011.5 898.2 L1012.8 899.3 L1014.2 899.6 L1015.5 898.2 L1016.8 899.4 L1018.1 897.7 L1019.5 899.3 L1020.8 899.6 L1022.1 899.2 L1023.4 899 L1024.8 899.5 L1026.1 898.2 L1027.4 898.9 L1028.7 897.6 L1030.1 898.2 L1031.4 897.7 L1032.7 899.3 L1034 898.3 L1035.4 899 L1036.2 897.2 L1036.6 899.1 L1036.9 896.7 L1037.2 895.7 L1037.6 897 L1037.9 898.3 L1038.2 898.8 L1038.6 897.2 L1038.9 897.7 L1039.2 898.6 L1039.6 897.6 L1039.9 886.3 L1040.2 898.4 L1040.5 896.1 L1040.9 888.7 L1041.2 896.6 L1041.5 897 L1041.9 898.3 L1042.2 897.9 L1042.5 896.9 L1042.9 896.8 L1043.2 897.6 L1043.5 895.8 L1043.9 897.9 L1044.2 898 L1044.5 896.5 L1044.9 898.2 L1045.2 897 L1045.5 895.5 L1045.8 896.9 L1046.2 898 L1046.5 897.6 L1046.8 896.5 L1047.2 897.8 L1047.5 897.4 L1047.8 895 L1048.2 896.6 L1048.5 897.3 L1048.8 897.2 L1049.2 897.3 L1049.5 895.6 L1049.8 894.1 L1050.2 896.5 L1050.5 896.9 L1050.8 894.5 L1051.1 896.3 L1051.5 896.6 L1051.8 894.1 L1052.1 896.3 L1052.5 895.6 L1052.8 895.8 L1053.1 895.1 L1053.5 895 L1053.8 895.5 L1054.1 895.5 L1054.5 894.5 L1054.8 893.7 L1055.1 891.5 L1055.4 892.8 L1055.8 892.4 L1056.1 894.1 L1056.4 894 L1056.8 892.2 L1057.1 892.7 L1057.4 891.5 L1057.8 891.4 L1058.1 889.8 L1058.4 888.6 L1058.8 891 L1059.1 888.3 L1059.4 890.5 L1059.8 889.5 L1060.1 889.8 L1060.4 888.8 L1060.7 887.9 L1061.1 887.8 L1061.4 888.2 L1061.7 885.9 L1062.1 886.2 L1062.4 885.1 L1062.7 883.5 L1063.1 882.4 L1063.4 882.8 L1063.7 881.4 L1064.1 880.4 L1064.4 878.9 L1064.7 877.9 L1065.1 876.2 L1065.4 874.6 L1065.7 872.9 L1066 871.5 L1066.4 869.1 L1066.7 866.5 L1067 864.5 L1067.4 861.4 L1067.7 858.3 L1068 852.4 L1068.4 849.9 L1068.7 841.8 L1069 839.1 L1069.4 831.4 L1069.7 825.9 L1070 817.5 L1070.4 808.8 L1070.7 797.7 L1071 785.3 L1071.3 770.7 L1071.7 756.9 L1072 742.7 L1072.3 724.1 L1072.7 707.1 L1073 691.9 L1073.3 678.5 L1073.7 668.6 L1074 664.6 L1074.3 664.6 L1074.7 667.4 L1075 678.6 L1075.3 693.2 L1075.7 708.5 L1076 726.7 L1076.3 743.4 L1076.6 759.6 L1077 774.1 L1077.3 785.4 L1077.6 798.2 L1078 808.2 L1078.3 816.5 L1078.6 826.3 L1079 833.2 L1079.3 839.8 L1079.6 843.6 L1080 850.4 L1080.3 853.9 L1080.6 856.6 L1081 860.8 L1081.3 862.7 L1081.6 866.7 L1081.9 869 L1082.3 871.4 L1082.6 873.1 L1082.9 875.9 L1083.3 876.3 L1083.6 878.2 L1083.9 880.3 L1084.3 880.3 L1084.6 880.9 L1084.9 880.1 L1085.3 884 L1085.6 885.2 L1085.9 885.7 L1086.3 886.7 L1086.6 887.7 L1086.9 886.4 L1087.2 887.2 L1087.6 888.9 L1087.9 888.6 L1088.2 888.6 L1088.6 888.9 L1088.9 890.8 L1089.2 889.5 L1089.6 891.6 L1089.9 892.3 L1090.2 892.7 L1090.6 893 L1090.9 892.5 L1091.2 892.4 L1091.6 893.6 L1091.9 893.4 L1092.2 894.2 L1092.5 894.1 L1092.9 893.9 L1093.2 894.8 L1093.5 893.7 L1093.9 895 L1094.2 895.3 L1094.5 894.1 L1094.9 895.8 L1095.2 895.7 L1095.5 895 L1095.9 894.8 L1096.2 895.3 L1096.5 894.6 L1096.8 894.5 L1097.2 896.5 L1097.5 897 L1097.8 896.5 L1098.2 896.4 L1098.5 895.4 L1098.8 893.8 L1099.2 897.3 L1099.5 895.2 L1099.8 896.2 L1100.2 896.9 L1100.5 897.1 L1100.8 897.7 L1101.2 897.9 L1101.5 897.3 L1101.8 897.3 L1102.1 897.3 L1102.5 897.1 L1102.8 896.4 L1103.1 897.1 L1103.5 897.8 L1103.8 896.8 L1104.1 897.4 L1104.5 897.1 L1104.8 898.4 L1105.1 897 L1105.5 898.3 L1105.8 898.8 L1106.1 898.7 L1106.5 896.8 L1106.8 898.1 L1107.1 898.7 L1107.4 897.5 L1107.8 898.2 L1108.1 897.9 L1108.4 899 L1108.8 898.3 L1109.1 899 L1109.4 897.8 L1109.8 899 L1110.1 898.9 L1110.4 897.5 L1110.8 898.2 L1111.1 897.6 L1111.4 898.8 L1111.8 898.3 L1112.1 899.3 L1112.4 896.7 L1112.7 896.8 L1113.1 899.2 L1113.4 898.4 L1113.5 898.8 L1114.6 898.1 L1115.7 898.6 L1116.8 898.9 L1117.9 899.3 L1119 899.5 L1120.1 899.2 L1121.2 899.2 L1122.4 897.4 L1123.5 899.3 L1124.6 897.6 L1125.7 898.3 L1126.8 899.5 L1127.9 899.2 L1129 899.9 L1130.1 898.4 L1131.2 899.5 L1132.3 900 L1133.4 898.5 L1134.5 899.8 L1135.6 899.5 L1136.7 900.3 L1137.8 898.8 L1138.9 899.9 L1140 900.1 L1141.1 900.6 L1142.2 899.3 L1143.3 898.3 L1144.4 900.1 L1145.5 899.5 L1146.6 899.3 L1147.7 898.9 L1148.8 898.3 L1150 899.5 L1151.1 900.4 L1152.2 900 L1153.3 899.5 L1154.4 899 L1155.5 899.3 L1156.6 899.9 L1157.7 899.4 L1158.8 900.5 L1159.9 899.7 L1161 899 L1162.1 900.6 L1163.2 900.2 L1164.3 900.4 L1165.4 899.2 L1166.5 899.6 L1167.6 900.1 L1168.7 900.8 L1169.8 897.8 L1170.9 898.7 L1172 899 L1173.1 898.8 L1174.2 900 L1175.3 900.4 L1176.4 899.3 L1177.6 899.9 L1178.7 900.4 L1179.8 899.4 L1180.9 900.2 L1182 899.3 L1183.1 900.4 L1184.2 898.4 L1185.3 900.8 L1186.4 898 L1187.5 899.9 L1188.6 899.1 L1189.7 899.2 L1190.8 899.1 L1191.9 900.2 L1193 900.3 L1194.1 900.6 L1195.2 900.6 L1196.3 900.2 L1197.4 896.1 L1198.5 899.9 L1199.6 900 L1200.7 900.1 L1201.8 900.2 L1202.9 899.3 L1204 899.7 L1205.2 900.1 L1206.3 900.2 L1207.4 900.7 L1208.5 899.4 L1209.6 899 L1210.7 899.5 L1211.8 899.5 L1212.9 898.3 L1214 899.9 L1215.1 899.8 L1216.2 897.9 L1217.3 898.6 L1218.4 883 L1219.5 899 L1220.6 898.7 L1221.7 896 L1222.8 897.4 L1223.9 895.9 L1225 896.5 L1226.1 896.3 L1227.2 894.8 L1228.3 894.2 L1229.4 894.2 L1230.5 891.5 L1231.6 891.1 L1232.8 889.2 L1233.9 889.5 L1235 888.2 L1236.1 887.5 L1237.2 887.7 L1238.3 887.3 L1239.4 885.9 L1240.5 884.1 L1241.6 883.9 L1242.7 883.5 L1243.8 882.2 L1244.9 883.7 L1246 880.6 L1247.1 881.7 L1248.2 883.1 L1249.3 882.8 L1250.4 882.7 L1251.5 883.8 L1252.6 882.5 L1253.7 884.7 L1254.8 884.3 L1255.9 885.3 L1257 877.1 L1258.1 887.2 L1259.2 887.7 L1260.4 889 L1261.5 889.8 L1262.6 891.6 L1263.7 892.1 L1264.8 890.6 L1265.9 893.5 L1267 894.7 L1268.1 883.8 L1269.2 895.6 L1270.3 895.6 L1271.4 897.3 L1272.5 896.5 L1273.6 887.8 L1274.7 898.2 L1275.8 897.7 L1276.9 898.2 L1278 899.5 L1279.1 898.1 L1280.2 899.9 L1281.3 900 L1282.4 898.5 L1283.5 900 L1284.6 900.5 L1285.7 899.3 L1286.8 899.3 L1288 899.5 L1289.1 900.5 L1290.2 899.8 L1291.3 899.7 L1292.4 900.4 L1293.5 899.3 L1294.6 900.8 L1295.7 900 L1296.8 900.4 L1297.9 900.9 L1299 899.6 L1300.1 900.4 L1301.2 900.4 L1302.3 900 L1303.4 900.8 L1304.5 900.6 L1305.6 899.5 L1306.7 899.1 L1307.8 900.8 L1308.9 901 L1310 900.8 L1311.1 899.9 L1312.2 898.9 L1313.3 899.3 L1314.4 900.2 L1315.6 900.5 L1316.7 900.8 L1317.8 900.9 L1318.9 900.1 L1320 899.8 L1321.1 900.9 L1322.2 900.8 L1323.3 901 L1324.4 900 L1325.5 897.3 L1326.6 900.6 L1327.7 900.4 L1328.8 897.6 L1329.9 899.6 L1331 900 L1332.1 897.7 L1333.2 900.4 L1334.3 900.4 L1334.3 903Z" fill="#f0b05e" fill-opacity="0.4" stroke="#f0b05e" stroke-width="0.8"/><path d="M914.8 903 L914.8 892.9 L916.1 893 L917.4 893.3 L918.8 894 L920.1 892 L921.4 894.6 L922.7 894.2 L924.1 895 L925.4 895.1 L926.7 895.4 L928 893.3 L929.4 894.2 L930.7 895 L932 895.2 L933.3 895.4 L934.7 894.8 L936 896 L937.3 895.5 L938.6 893 L940 894.6 L941.3 896.4 L942.6 895 L943.9 893.8 L945.3 896.8 L946.6 896.5 L947.9 897.1 L949.2 896.9 L950.6 896.8 L951.9 896.3 L953.2 895.8 L954.5 897.3 L955.9 897.7 L957.2 898 L958.5 897.2 L959.8 894 L961.2 896.8 L962.5 897.1 L963.8 896.8 L965.1 897 L966.5 898.1 L967.8 897.6 L969.1 897.6 L970.4 896.5 L971.8 897.8 L973.1 898.8 L974.4 898.9 L975.7 897.7 L977.1 897.1 L978.4 896.9 L979.7 898 L981 895.9 L982.4 898.7 L983.7 898.5 L985 898.4 L986.3 899.2 L987.7 896.6 L989 897.8 L990.3 899.4 L991.6 899.3 L993 899 L994.3 898.4 L995.6 898.5 L996.9 898.9 L998.3 894.8 L999.6 898.2 L1000.9 899.5 L1002.2 898.8 L1003.6 898.9 L1004.9 893.7 L1006.2 897.7 L1007.5 898 L1008.9 898 L1010.2 898.3 L1011.5 897.6 L1012.8 898 L1014.2 897 L1015.5 897.8 L1016.8 898.6 L1018.1 895.3 L1019.5 897.6 L1020.8 898.5 L1022.1 897.4 L1023.4 896.2 L1024.8 899.3 L1026.1 899 L1027.4 896.9 L1028.7 898.7 L1030.1 898.3 L1031.4 896.6 L1032.7 898.5 L1034 898.1 L1035.4 898.1 L1036.2 896.9 L1036.6 898.1 L1036.9 896.6 L1037.2 897.5 L1037.6 890.2 L1037.9 898 L1038.2 895.9 L1038.6 897.5 L1038.9 896.4 L1039.2 895 L1039.6 897.7 L1039.9 898.2 L1040.2 898.1 L1040.5 897 L1040.9 896.9 L1041.2 897.2 L1041.5 897.2 L1041.9 897.9 L1042.2 897.2 L1042.5 897 L1042.9 896.4 L1043.2 897.1 L1043.5 896.2 L1043.9 895.6 L1044.2 894.6 L1044.5 895.2 L1044.9 895.7 L1045.2 896.1 L1045.5 896.3 L1045.8 896.2 L1046.2 896.1 L1046.5 896.8 L1046.8 894.8 L1047.2 896.1 L1047.5 896.3 L1047.8 896.5 L1048.2 896 L1048.5 894.1 L1048.8 895 L1049.2 896 L1049.5 894.1 L1049.8 895.5 L1050.2 895.3 L1050.5 894.7 L1050.8 893.8 L1051.1 894.8 L1051.5 893.9 L1051.8 894.4 L1052.1 894.7 L1052.5 891.7 L1052.8 893.9 L1053.1 893 L1053.5 893 L1053.8 892.5 L1054.1 893.3 L1054.5 892.8 L1054.8 893.1 L1055.1 891.2 L1055.4 891.9 L1055.8 891.8 L1056.1 891.5 L1056.4 889.9 L1056.8 890.3 L1057.1 888.7 L1057.4 889 L1057.8 889 L1058.1 889.2 L1058.4 887.4 L1058.8 888.8 L1059.1 886.8 L1059.4 886.7 L1059.8 886 L1060.1 886.5 L1060.4 885.9 L1060.7 884.5 L1061.1 884.2 L1061.4 882.2 L1061.7 882.2 L1062.1 881.2 L1062.4 880.5 L1062.7 879.1 L1063.1 878.5 L1063.4 874.3 L1063.7 875.5 L1064.1 873.8 L1064.4 870.7 L1064.7 870.4 L1065.1 868.5 L1065.4 864.9 L1065.7 864 L1066 860.3 L1066.4 857.4 L1066.7 855 L1067 849.2 L1067.4 846.1 L1067.7 842.1 L1068 837.7 L1068.4 830 L1068.7 825.1 L1069 818.7 L1069.4 809.7 L1069.7 801.8 L1070 791.3 L1070.4 780.4 L1070.7 768.7 L1071 753.4 L1071.3 741.6 L1071.7 726.2 L1072 712.1 L1072.3 697.7 L1072.7 684.6 L1073 674.1 L1073.3 666.2 L1073.7 664.6 L1074 664.6 L1074.3 667.3 L1074.7 676 L1075 688.2 L1075.3 701.4 L1075.7 715.9 L1076 728.9 L1076.3 744.8 L1076.6 759 L1077 770.1 L1077.3 784 L1077.6 793.7 L1078 803.1 L1078.3 812.1 L1078.6 819.3 L1079 826.8 L1079.3 833.3 L1079.6 839.2 L1080 844 L1080.3 847.9 L1080.6 852.1 L1081 854.3 L1081.3 858.4 L1081.6 862 L1081.9 862.8 L1082.3 866.4 L1082.6 868.5 L1082.9 869.7 L1083.3 872.6 L1083.6 874 L1083.9 876.2 L1084.3 877.5 L1084.6 878.2 L1084.9 880.1 L1085.3 880.1 L1085.6 881.1 L1085.9 880.6 L1086.3 882 L1086.6 883.3 L1086.9 885.3 L1087.2 884.4 L1087.6 885.8 L1087.9 884.8 L1088.2 887 L1088.6 887.1 L1088.9 885.3 L1089.2 888.9 L1089.6 890 L1089.9 888.7 L1090.2 890 L1090.6 889.6 L1090.9 890.7 L1091.2 891.9 L1091.6 890.9 L1091.9 892 L1092.2 892.6 L1092.5 892.3 L1092.9 891.5 L1093.2 892.7 L1093.5 892.6 L1093.9 893.3 L1094.2 893.5 L1094.5 893.4 L1094.9 894 L1095.2 894.7 L1095.5 894.9 L1095.9 894.1 L1096.2 894.2 L1096.5 895.4 L1096.8 895.5 L1097.2 894.7 L1097.5 896 L1097.8 892.9 L1098.2 892.8 L1098.5 895 L1098.8 894.6 L1099.2 896.6 L1099.5 894.2 L1099.8 896 L1100.2 897 L1100.5 896.2 L1100.8 895.3 L1101.2 897.2 L1101.5 897 L1101.8 896.5 L1102.1 896.8 L1102.5 896.8 L1102.8 897.4 L1103.1 897.5 L1103.5 896.5 L1103.8 896.1 L1104.1 897.7 L1104.5 897 L1104.8 895.2 L1105.1 894.9 L1105.5 896.8 L1105.8 896.2 L1106.1 896.1 L1106.5 898.1 L1106.8 896.4 L1107.1 897.4 L1107.4 898 L1107.8 897.5 L1108.1 898.4 L1108.4 898.3 L1108.8 897.1 L1109.1 896.2 L1109.4 896.5 L1109.8 897.6 L1110.1 896.3 L1110.4 898.5 L1110.8 898.4 L1111.1 898.1 L1111.4 898.3 L1111.8 896.5 L1112.1 897.3 L1112.4 898.3 L1112.7 897.2 L1113.1 898.6 L1113.4 897.8 L1113.5 897.6 L1114.6 899 L1115.7 899.2 L1116.8 898.3 L1117.9 897.9 L1119 896.8 L1120.1 899.2 L1121.2 898 L1122.4 899.4 L1123.5 898.5 L1124.6 898.5 L1125.7 897.4 L1126.8 899.3 L1127.9 899.7 L1129 898.9 L1130.1 899.1 L1131.2 896 L1132.3 898.1 L1133.4 899.4 L1134.5 899.3 L1135.6 898.3 L1136.7 899.5 L1137.8 899.8 L1138.9 898.9 L1140 900.1 L1141.1 899.9 L1142.2 899.9 L1143.3 897.6 L1144.4 899 L1145.5 899.2 L1146.6 899.6 L1147.7 897.8 L1148.8 898.6 L1150 898.8 L1151.1 899.5 L1152.2 900.4 L1153.3 899.6 L1154.4 899.6 L1155.5 900 L1156.6 900.4 L1157.7 899.7 L1158.8 899.7 L1159.9 900.5 L1161 898.6 L1162.1 899.3 L1163.2 900.3 L1164.3 898.2 L1165.4 898.6 L1166.5 897.7 L1167.6 899.1 L1168.7 900.7 L1169.8 898.2 L1170.9 899.1 L1172 900.2 L1173.1 900.2 L1174.2 900.3 L1175.3 899.7 L1176.4 898.7 L1177.6 899.7 L1178.7 899.9 L1179.8 899 L1180.9 900.3 L1182 898.5 L1183.1 900.2 L1184.2 897.6 L1185.3 899.8 L1186.4 900.2 L1187.5 899.8 L1188.6 899.8 L1189.7 899.7 L1190.8 900.1 L1191.9 900.1 L1193 900.8 L1194.1 900.1 L1195.2 900.8 L1196.3 898.2 L1197.4 900.6 L1198.5 899.1 L1199.6 899.1 L1200.7 899.1 L1201.8 900.7 L1202.9 900.4 L1204 896.7 L1205.2 900 L1206.3 900.4 L1207.4 899.8 L1208.5 899.5 L1209.6 900.5 L1210.7 899.6 L1211.8 899 L1212.9 898.3 L1214 898.6 L1215.1 900 L1216.2 898.2 L1217.3 899 L1218.4 897.9 L1219.5 898.8 L1220.6 896.6 L1221.7 897.3 L1222.8 896.9 L1223.9 897.1 L1225 896.7 L1226.1 895.9 L1227.2 894.5 L1228.3 892.9 L1229.4 894 L1230.5 892.2 L1231.6 892.3 L1232.8 890.5 L1233.9 889.9 L1235 888.7 L1236.1 888.8 L1237.2 885.7 L1238.3 885.7 L1239.4 885.4 L1240.5 885.1 L1241.6 884 L1242.7 883.8 L1243.8 883 L1244.9 882.3 L1246 883 L1247.1 881.9 L1248.2 881.7 L1249.3 881.9 L1250.4 880.5 L1251.5 871.2 L1252.6 883.4 L1253.7 884.1 L1254.8 885.6 L1255.9 882.2 L1257 886.6 L1258.1 885.5 L1259.2 887.7 L1260.4 888 L1261.5 889.7 L1262.6 890.4 L1263.7 892.1 L1264.8 892.3 L1265.9 894 L1267 892.7 L1268.1 894.3 L1269.2 896.3 L1270.3 895.8 L1271.4 896.7 L1272.5 897.5 L1273.6 897.4 L1274.7 897.5 L1275.8 899 L1276.9 899.4 L1278 898.7 L1279.1 897.4 L1280.2 899.6 L1281.3 898.2 L1282.4 898 L1283.5 900.2 L1284.6 900.2 L1285.7 899.6 L1286.8 899.7 L1288 899.5 L1289.1 898.3 L1290.2 900.8 L1291.3 900.2 L1292.4 900 L1293.5 898.8 L1294.6 899.7 L1295.7 899.9 L1296.8 899.7 L1297.9 899.3 L1299 898.9 L1300.1 900.2 L1301.2 900.8 L1302.3 900.1 L1303.4 898.6 L1304.5 899.8 L1305.6 899.5 L1306.7 899.9 L1307.8 900.9 L1308.9 900 L1310 898.4 L1311.1 897.7 L1312.2 900.1 L1313.3 900.6 L1314.4 900.1 L1315.6 900.9 L1316.7 901 L1317.8 900.7 L1318.9 900.1 L1320 899.1 L1321.1 898.2 L1322.2 900.2 L1323.3 900.7 L1324.4 900.6 L1325.5 900.3 L1326.6 900.4 L1327.7 900.9 L1328.8 900 L1329.9 899.5 L1331 900.2 L1332.1 900.3 L1333.2 900.6 L1334.3 898.2 L1334.3 903Z" fill="#f0ba58" fill-opacity="0.4" stroke="#f0ba58" stroke-width="0.8"/><path d="M914.8 903 L914.8 893 L916.1 893.3 L917.4 893.2 L918.8 894.4 L920.1 894.5 L921.4 894.5 L922.7 894.2 L924.1 894.1 L925.4 892.8 L926.7 892.6 L928 894.4 L929.4 891.7 L930.7 895.6 L932 894.6 L933.3 891.7 L934.7 891.6 L936 893.7 L937.3 894.6 L938.6 896.5 L940 896.3 L941.3 895.8 L942.6 896.3 L943.9 897.3 L945.3 897.3 L946.6 896.2 L947.9 897.1 L949.2 895.9 L950.6 896.2 L951.9 897.2 L953.2 896.6 L954.5 897 L955.9 895.7 L957.2 892.2 L958.5 897 L959.8 898.3 L961.2 897 L962.5 898.5 L963.8 898.5 L965.1 896.3 L966.5 898.4 L967.8 897.2 L969.1 898.5 L970.4 897.3 L971.8 898.2 L973.1 897.8 L974.4 898.2 L975.7 896.8 L977.1 898.8 L978.4 897.6 L979.7 898 L981 898.5 L982.4 898.9 L983.7 899.1 L985 897.7 L986.3 898.8 L987.7 897.1 L989 897.8 L990.3 897.9 L991.6 898.3 L993 897.6 L994.3 899.6 L995.6 897.7 L996.9 899.1 L998.3 899.5 L999.6 899.3 L1000.9 897.2 L1002.2 898.7 L1003.6 899.2 L1004.9 899.4 L1006.2 898.9 L1007.5 899.2 L1008.9 899.6 L1010.2 899.4 L1011.5 898.5 L1012.8 898 L1014.2 898.8 L1015.5 898.9 L1016.8 899 L1018.1 899.2 L1019.5 899.6 L1020.8 899 L1022.1 898.6 L1023.4 897.8 L1024.8 898.9 L1026.1 898.9 L1027.4 899.1 L1028.7 899.5 L1030.1 899.1 L1031.4 898.7 L1032.7 897.9 L1034 898.7 L1035.4 898.8 L1036.2 897.6 L1036.6 898.5 L1036.9 898.1 L1037.2 888.6 L1037.6 897.4 L1037.9 897.6 L1038.2 898.4 L1038.6 898.4 L1038.9 897.2 L1039.2 897.6 L1039.6 897.2 L1039.9 897.7 L1040.2 897 L1040.5 898.2 L1040.9 897.6 L1041.2 898.6 L1041.5 898.6 L1041.9 897.1 L1042.2 898.3 L1042.5 897.4 L1042.9 897.8 L1043.2 895.9 L1043.5 898.5 L1043.9 897.3 L1044.2 896.1 L1044.5 897.1 L1044.9 897.5 L1045.2 896.9 L1045.5 896.7 L1045.8 898.1 L1046.2 896.3 L1046.5 897.1 L1046.8 898.3 L1047.2 896.1 L1047.5 897.8 L1047.8 896.8 L1048.2 897.6 L1048.5 897.7 L1048.8 896.7 L1049.2 897.3 L1049.5 896.5 L1049.8 896.3 L1050.2 896.3 L1050.5 894.2 L1050.8 896.6 L1051.1 897.1 L1051.5 896.5 L1051.8 897 L1052.1 896.1 L1052.5 896.8 L1052.8 895 L1053.1 896.5 L1053.5 895.1 L1053.8 895.8 L1054.1 893.5 L1054.5 894.6 L1054.8 894.6 L1055.1 896 L1055.4 895.7 L1055.8 892.3 L1056.1 895.1 L1056.4 895.1 L1056.8 894.6 L1057.1 892.7 L1057.4 894.6 L1057.8 894.1 L1058.1 893.9 L1058.4 892 L1058.8 892.9 L1059.1 892.6 L1059.4 893 L1059.8 892.2 L1060.1 891.4 L1060.4 891.2 L1060.7 891.9 L1061.1 888.8 L1061.4 888.4 L1061.7 890.7 L1062.1 888.9 L1062.4 889.1 L1062.7 887.5 L1063.1 888.6 L1063.4 886.4 L1063.7 887.3 L1064.1 884.1 L1064.4 884.6 L1064.7 883.8 L1065.1 883.9 L1065.4 880.1 L1065.7 881.4 L1066 879.5 L1066.4 877.9 L1066.7 877 L1067 874.7 L1067.4 874.7 L1067.7 872.7 L1068 869.1 L1068.4 866.8 L1068.7 865.2 L1069 862.5 L1069.4 859.6 L1069.7 855.3 L1070 848.9 L1070.4 846.6 L1070.7 840.3 L1071 833.8 L1071.3 827.4 L1071.7 816.9 L1072 811.3 L1072.3 801.2 L1072.7 789.3 L1073 776.5 L1073.3 761.6 L1073.7 744.9 L1074 728 L1074.3 712 L1074.7 694.3 L1075 680.7 L1075.3 669.3 L1075.7 664.6 L1076 664.6 L1076.3 667.1 L1076.6 676.5 L1077 692.3 L1077.3 708.5 L1077.6 723.8 L1078 742.5 L1078.3 758.5 L1078.6 774.1 L1079 787.4 L1079.3 799 L1079.6 807.5 L1080 817.7 L1080.3 825.1 L1080.6 833.6 L1081 839.4 L1081.3 844.9 L1081.6 850.5 L1081.9 854.7 L1082.3 857.6 L1082.6 861 L1082.9 862.8 L1083.3 868 L1083.6 869.4 L1083.9 872.3 L1084.3 874.3 L1084.6 875.7 L1084.9 874.7 L1085.3 877.6 L1085.6 878 L1085.9 880.6 L1086.3 883 L1086.6 883.8 L1086.9 883.7 L1087.2 883.8 L1087.6 885.1 L1087.9 885.5 L1088.2 887 L1088.6 887.4 L1088.9 888.7 L1089.2 889.7 L1089.6 889.5 L1089.9 890.5 L1090.2 890.8 L1090.6 890.5 L1090.9 891.1 L1091.2 890 L1091.6 892.4 L1091.9 890.9 L1092.2 890.4 L1092.5 892.7 L1092.9 892.3 L1093.2 892.9 L1093.5 892.7 L1093.9 893.3 L1094.2 894.7 L1094.5 894.5 L1094.9 894.8 L1095.2 894.8 L1095.5 892.9 L1095.9 894.4 L1096.2 894.2 L1096.5 892.6 L1096.8 894.8 L1097.2 896.3 L1097.5 895.6 L1097.8 895.2 L1098.2 896.4 L1098.5 894 L1098.8 895.4 L1099.2 896.9 L1099.5 896.8 L1099.8 896.6 L1100.2 895.5 L1100.5 896.8 L1100.8 896.7 L1101.2 897.5 L1101.5 896.7 L1101.8 896.3 L1102.1 897.6 L1102.5 897.2 L1102.8 897.8 L1103.1 896.4 L1103.5 897.5 L1103.8 898.3 L1104.1 896 L1104.5 897.7 L1104.8 898.4 L1105.1 897.9 L1105.5 898.3 L1105.8 897.6 L1106.1 897.9 L1106.5 897.2 L1106.8 898.7 L1107.1 898.5 L1107.4 897.2 L1107.8 897.5 L1108.1 899 L1108.4 898.8 L1108.8 898.8 L1109.1 897.7 L1109.4 897.5 L1109.8 897.8 L1110.1 898.6 L1110.4 897.4 L1110.8 898.5 L1111.1 897 L1111.4 898.3 L1111.8 898.7 L1112.1 898.7 L1112.4 897.9 L1112.7 899.4 L1113.1 898.7 L1113.4 899.1 L1113.5 898.9 L1114.6 898.7 L1115.7 899.3 L1116.8 899.2 L1117.9 899.8 L1119 898.2 L1120.1 899 L1121.2 897.3 L1122.4 898.1 L1123.5 899.6 L1124.6 898.5 L1125.7 898.3 L1126.8 896.7 L1127.9 899.3 L1129 899.1 L1130.1 898.6 L1131.2 898.1 L1132.3 899.3 L1133.4 899 L1134.5 899.7 L1135.6 900.3 L1136.7 900.5 L1137.8 899.2 L1138.9 899.6 L1140 899.7 L1141.1 900.1 L1142.2 900.3 L1143.3 898.3 L1144.4 899.6 L1145.5 898.4 L1146.6 898.7 L1147.7 898.9 L1148.8 898.7 L1150 899.5 L1151.1 898.5 L1152.2 900.4 L1153.3 900.7 L1154.4 899.8 L1155.5 900.7 L1156.6 898.1 L1157.7 899.4 L1158.8 898.3 L1159.9 899.4 L1161 899 L1162.1 899.4 L1163.2 900.2 L1164.3 900 L1165.4 898.6 L1166.5 900.6 L1167.6 900.4 L1168.7 900.1 L1169.8 898.7 L1170.9 899.1 L1172 898.4 L1173.1 899.8 L1174.2 900.5 L1175.3 899.7 L1176.4 899.7 L1177.6 899.3 L1178.7 900.4 L1179.8 899.8 L1180.9 900.2 L1182 899.7 L1183.1 900.7 L1184.2 899.9 L1185.3 900.7 L1186.4 897.6 L1187.5 899.8 L1188.6 900.9 L1189.7 900.6 L1190.8 899.2 L1191.9 899.4 L1193 897.3 L1194.1 900.3 L1195.2 900.8 L1196.3 900.6 L1197.4 900.8 L1198.5 899.2 L1199.6 900.9 L1200.7 897.9 L1201.8 891 L1202.9 900.1 L1204 899.3 L1205.2 900.3 L1206.3 900.6 L1207.4 899.8 L1208.5 900.5 L1209.6 900.5 L1210.7 900.1 L1211.8 899.8 L1212.9 898.1 L1214 900.2 L1215.1 900.3 L1216.2 888.1 L1217.3 899.3 L1218.4 899.5 L1219.5 898.6 L1220.6 898.8 L1221.7 894.7 L1222.8 898.3 L1223.9 898 L1225 895.2 L1226.1 896.3 L1227.2 894.9 L1228.3 895.2 L1229.4 893.7 L1230.5 892 L1231.6 893.7 L1232.8 891.9 L1233.9 890.9 L1235 891.1 L1236.1 890.1 L1237.2 887.6 L1238.3 887.1 L1239.4 887.7 L1240.5 887.2 L1241.6 886 L1242.7 886.4 L1243.8 884.4 L1244.9 884.1 L1246 883.9 L1247.1 884.2 L1248.2 884.9 L1249.3 884.6 L1250.4 884.6 L1251.5 872.8 L1252.6 882.4 L1253.7 885.5 L1254.8 886.2 L1255.9 885.6 L1257 885.1 L1258.1 888.6 L1259.2 889.2 L1260.4 889.7 L1261.5 890.2 L1262.6 890 L1263.7 891.7 L1264.8 893.1 L1265.9 892.4 L1267 893.2 L1268.1 895.1 L1269.2 894.4 L1270.3 894.3 L1271.4 896.3 L1272.5 897.5 L1273.6 897.6 L1274.7 898 L1275.8 896.6 L1276.9 898.8 L1278 899.6 L1279.1 898 L1280.2 899.6 L1281.3 899.2 L1282.4 900 L1283.5 899.1 L1284.6 899.5 L1285.7 899.7 L1286.8 897.2 L1288 900 L1289.1 899.5 L1290.2 899.6 L1291.3 900.7 L1292.4 898.8 L1293.5 900.1 L1294.6 898.3 L1295.7 898.7 L1296.8 900.7 L1297.9 899.6 L1299 899.1 L1300.1 899.8 L1301.2 900.6 L1302.3 899.6 L1303.4 899.6 L1304.5 900.8 L1305.6 900.5 L1306.7 899.4 L1307.8 898.4 L1308.9 900.2 L1310 900.2 L1311.1 899.9 L1312.2 900 L1313.3 900.4 L1314.4 900.1 L1315.6 900.8 L1316.7 899.9 L1317.8 899 L1318.9 899.2 L1320 896.9 L1321.1 900.1 L1322.2 900.2 L1323.3 900 L1324.4 899.8 L1325.5 899.7 L1326.6 898.8 L1327.7 900.8 L1328.8 900.5 L1329.9 900.3 L1331 900.9 L1332.1 900.6 L1333.2 899.8 L1334.3 900.5 L1334.3 903Z" fill="#f0c552" fill-opacity="0.4" stroke="#f0c552" stroke-width="0.8"/><path d="M914.8 903 L914.8 893.1 L916.1 892.9 L917.4 893.7 L918.8 893.9 L920.1 892.2 L921.4 892.4 L922.7 893.9 L924.1 894.2 L925.4 893.1 L926.7 894.7 L928 893.2 L929.4 894.5 L930.7 894.2 L932 892.9 L933.3 889.8 L934.7 895.9 L936 893.1 L937.3 896.6 L938.6 896.2 L940 895.8 L941.3 896.2 L942.6 895.7 L943.9 896.9 L945.3 895.7 L946.6 896.7 L947.9 896.2 L949.2 891.3 L950.6 894.6 L951.9 895.4 L953.2 897.4 L954.5 896.3 L955.9 897 L957.2 897.6 L958.5 897 L959.8 898.2 L961.2 894.2 L962.5 898 L963.8 896.9 L965.1 898.1 L966.5 898.4 L967.8 896.4 L969.1 896.2 L970.4 897.3 L971.8 899 L973.1 897.2 L974.4 894.9 L975.7 899 L977.1 898.4 L978.4 897.8 L979.7 897.4 L981 898.9 L982.4 899 L983.7 898.3 L985 898.8 L986.3 895.7 L987.7 898.1 L989 899.5 L990.3 898.6 L991.6 898.3 L993 898.6 L994.3 897.1 L995.6 899.3 L996.9 899.4 L998.3 899.4 L999.6 896.7 L1000.9 898.6 L1002.2 899.1 L1003.6 898.9 L1004.9 898.3 L1006.2 898 L1007.5 898.7 L1008.9 891 L1010.2 899 L1011.5 898.5 L1012.8 899.3 L1014.2 899.5 L1015.5 898.6 L1016.8 896.3 L1018.1 898.2 L1019.5 899.3 L1020.8 898.6 L1022.1 896.7 L1023.4 899 L1024.8 898.3 L1026.1 899.1 L1027.4 898.9 L1028.7 897.6 L1030.1 898.3 L1031.4 899 L1032.7 898.9 L1034 899.2 L1035.4 899.7 L1036.2 898.7 L1036.6 899.1 L1036.9 898.7 L1037.2 895.9 L1037.6 898.6 L1037.9 898.6 L1038.2 898.6 L1038.6 897.5 L1038.9 899 L1039.2 898.1 L1039.6 897.4 L1039.9 897.4 L1040.2 898.9 L1040.5 898.5 L1040.9 897.9 L1041.2 898.5 L1041.5 899.1 L1041.9 898.8 L1042.2 898.3 L1042.5 899 L1042.9 897.7 L1043.2 898.7 L1043.5 897.9 L1043.9 896.4 L1044.2 898.7 L1044.5 898.4 L1044.9 897.1 L1045.2 897.9 L1045.5 898 L1045.8 897.9 L1046.2 899.1 L1046.5 896.5 L1046.8 898.7 L1047.2 897.8 L1047.5 897.2 L1047.8 898.6 L1048.2 898.8 L1048.5 898.4 L1048.8 898 L1049.2 897.4 L1049.5 898.1 L1049.8 896.7 L1050.2 895.1 L1050.5 897.9 L1050.8 897.2 L1051.1 897.5 L1051.5 897.2 L1051.8 898.3 L1052.1 896.1 L1052.5 896.9 L1052.8 898.1 L1053.1 897 L1053.5 895.9 L1053.8 897.3 L1054.1 897.2 L1054.5 897.7 L1054.8 896.2 L1055.1 896.7 L1055.4 896.4 L1055.8 896 L1056.1 894.3 L1056.4 896 L1056.8 895.8 L1057.1 895.5 L1057.4 895.5 L1057.8 896.2 L1058.1 895.7 L1058.4 894.4 L1058.8 895.5 L1059.1 893.7 L1059.4 895.4 L1059.8 895.6 L1060.1 894.6 L1060.4 893.6 L1060.7 894.4 L1061.1 894.3 L1061.4 894.4 L1061.7 893.5 L1062.1 892.6 L1062.4 892.5 L1062.7 893.5 L1063.1 892.7 L1063.4 891.2 L1063.7 891.9 L1064.1 891.4 L1064.4 889.3 L1064.7 889.3 L1065.1 888.3 L1065.4 889.7 L1065.7 887.9 L1066 887.2 L1066.4 888.4 L1066.7 887.6 L1067 886.3 L1067.4 884 L1067.7 884.9 L1068 883.2 L1068.4 881.1 L1068.7 881.3 L1069 879.9 L1069.4 878.5 L1069.7 876.7 L1070 874.4 L1070.4 871.6 L1070.7 869.1 L1071 867.4 L1071.3 864.5 L1071.7 860.3 L1072 855.6 L1072.3 853 L1072.7 847.6 L1073 840.3 L1073.3 833 L1073.7 826.5 L1074 816.1 L1074.3 804.2 L1074.7 792 L1075 778.6 L1075.3 762.5 L1075.7 744.4 L1076 725.4 L1076.3 706 L1076.6 687.1 L1077 673.6 L1077.3 664.6 L1077.6 664.6 L1078 667.8 L1078.3 679.8 L1078.6 695.7 L1079 712.7 L1079.3 735.1 L1079.6 753.3 L1080 770.7 L1080.3 785.5 L1080.6 799.1 L1081 811.5 L1081.3 822 L1081.6 830.2 L1081.9 838 L1082.3 843.1 L1082.6 849.8 L1082.9 854.4 L1083.3 857.4 L1083.6 862 L1083.9 865.1 L1084.3 866.9 L1084.6 871.2 L1084.9 873.8 L1085.3 872.5 L1085.6 877.9 L1085.9 878.9 L1086.3 880.8 L1086.6 881.8 L1086.9 881.6 L1087.2 883.4 L1087.6 885.4 L1087.9 884.5 L1088.2 886.4 L1088.6 886.3 L1088.9 888.8 L1089.2 887.9 L1089.6 889.7 L1089.9 890.5 L1090.2 889.8 L1090.6 890.5 L1090.9 891.8 L1091.2 892 L1091.6 891.1 L1091.9 892 L1092.2 891.9 L1092.5 892.6 L1092.9 893.3 L1093.2 893.8 L1093.5 894 L1093.9 892.8 L1094.2 893.4 L1094.5 894.1 L1094.9 892.9 L1095.2 895 L1095.5 895 L1095.9 894.9 L1096.2 895.5 L1096.5 895.2 L1096.8 896.1 L1097.2 895.5 L1097.5 896 L1097.8 896.8 L1098.2 897 L1098.5 897.1 L1098.8 896.2 L1099.2 896.9 L1099.5 896.8 L1099.8 897.3 L1100.2 896.2 L1100.5 897.7 L1100.8 897.8 L1101.2 896.7 L1101.5 897.9 L1101.8 897.8 L1102.1 898.1 L1102.5 898.2 L1102.8 898.3 L1103.1 896.6 L1103.5 897.5 L1103.8 898 L1104.1 898.5 L1104.5 898.3 L1104.8 896.6 L1105.1 897.8 L1105.5 898.8 L1105.8 897.4 L1106.1 896.1 L1106.5 899.1 L1106.8 898.9 L1107.1 898.1 L1107.4 897.3 L1107.8 899 L1108.1 898.1 L1108.4 899.2 L1108.8 897.4 L1109.1 898.2 L1109.4 898 L1109.8 899.2 L1110.1 898 L1110.4 897.7 L1110.8 899.3 L1111.1 898.2 L1111.4 898.8 L1111.8 898.9 L1112.1 899.1 L1112.4 898.9 L1112.7 899.4 L1113.1 899.7 L1113.4 899.5 L1113.5 899.6 L1114.6 899.4 L1115.7 898.3 L1116.8 899.2 L1117.9 899.8 L1119 899.9 L1120.1 899.1 L1121.2 899.9 L1122.4 899.4 L1123.5 899.8 L1124.6 900.1 L1125.7 898.4 L1126.8 899.7 L1127.9 899.8 L1129 899.6 L1130.1 900.1 L1131.2 899.6 L1132.3 899.6 L1133.4 898.7 L1134.5 900.2 L1135.6 898.9 L1136.7 899.5 L1137.8 900.2 L1138.9 897.4 L1140 900.5 L1141.1 900.3 L1142.2 900.6 L1143.3 898.1 L1144.4 898.5 L1145.5 896.6 L1146.6 900 L1147.7 899 L1148.8 900.4 L1150 899.6 L1151.1 898.7 L1152.2 899.9 L1153.3 900.7 L1154.4 899.5 L1155.5 899.4 L1156.6 899.2 L1157.7 900.7 L1158.8 899.1 L1159.9 900.5 L1161 900.8 L1162.1 898.8 L1163.2 899.9 L1164.3 900.5 L1165.4 899.6 L1166.5 900.3 L1167.6 900.8 L1168.7 898.9 L1169.8 899.1 L1170.9 899.6 L1172 900.4 L1173.1 897.9 L1174.2 899 L1175.3 898.2 L1176.4 900.3 L1177.6 899.3 L1178.7 900.7 L1179.8 898.7 L1180.9 898.7 L1182 898 L1183.1 899.7 L1184.2 899.6 L1185.3 898.9 L1186.4 900.7 L1187.5 899 L1188.6 899.6 L1189.7 898.4 L1190.8 900.9 L1191.9 900.7 L1193 898.9 L1194.1 898.8 L1195.2 899.5 L1196.3 899.8 L1197.4 898.9 L1198.5 900.5 L1199.6 900.8 L1200.7 899.7 L1201.8 900.5 L1202.9 900.4 L1204 898 L1205.2 899.7 L1206.3 898.9 L1207.4 900.8 L1208.5 886 L1209.6 900 L1210.7 898.9 L1211.8 898.4 L1212.9 900.6 L1214 899.7 L1215.1 898.3 L1216.2 900.1 L1217.3 899.8 L1218.4 900 L1219.5 899.1 L1220.6 898.3 L1221.7 899.2 L1222.8 883.9 L1223.9 896.5 L1225 897.5 L1226.1 896.9 L1227.2 896.5 L1228.3 896.2 L1229.4 895.8 L1230.5 894.1 L1231.6 891.7 L1232.8 893 L1233.9 891.2 L1235 890.7 L1236.1 891.3 L1237.2 887.7 L1238.3 889.5 L1239.4 888.3 L1240.5 886.5 L1241.6 886.5 L1242.7 871.6 L1243.8 885.9 L1244.9 885.3 L1246 884.3 L1247.1 884.9 L1248.2 885.1 L1249.3 883.7 L1250.4 884.3 L1251.5 883.4 L1252.6 883.4 L1253.7 885 L1254.8 886.2 L1255.9 885.6 L1257 887.7 L1258.1 887.8 L1259.2 886 L1260.4 888 L1261.5 887.7 L1262.6 889.8 L1263.7 891.2 L1264.8 891.9 L1265.9 893.5 L1267 893.8 L1268.1 893.9 L1269.2 895.7 L1270.3 894.4 L1271.4 896.2 L1272.5 895.4 L1273.6 897.5 L1274.7 896.5 L1275.8 895.9 L1276.9 896.3 L1278 899 L1279.1 899.4 L1280.2 899.1 L1281.3 899.4 L1282.4 898.1 L1283.5 899.9 L1284.6 896.1 L1285.7 900.4 L1286.8 898.8 L1288 900.2 L1289.1 899.6 L1290.2 900.6 L1291.3 899.9 L1292.4 900.2 L1293.5 900.5 L1294.6 900.5 L1295.7 898.1 L1296.8 897.9 L1297.9 899.4 L1299 900.4 L1300.1 899.3 L1301.2 898.5 L1302.3 900.3 L1303.4 900 L1304.5 900.1 L1305.6 900 L1306.7 899.1 L1307.8 900.4 L1308.9 900.4 L1310 898.9 L1311.1 900.9 L1312.2 900.4 L1313.3 900.3 L1314.4 899.6 L1315.6 900.8 L1316.7 900.6 L1317.8 900.7 L1318.9 900.7 L1320 900.2 L1321.1 899.3 L1322.2 900.8 L1323.3 901 L1324.4 900.6 L1325.5 901 L1326.6 898.8 L1327.7 900.1 L1328.8 900.2 L1329.9 899.8 L1331 900.5 L1332.1 899.9 L1333.2 900.6 L1334.3 900.3 L1334.3 903Z" fill="#f0d04d" fill-opacity="0.4" stroke="#f0d04d" stroke-width="0.8"/><path d="M914.8 903 L914.8 892.9 L916.1 892 L917.4 894.2 L918.8 894 L920.1 893.7 L921.4 893 L922.7 894.7 L924.1 893.7 L925.4 894.7 L926.7 895.3 L928 893.2 L929.4 893.2 L930.7 894.5 L932 895.8 L933.3 896.2 L934.7 895.5 L936 895.9 L937.3 894.2 L938.6 896 L940 895.8 L941.3 894.9 L942.6 895.8 L943.9 897.2 L945.3 896.3 L946.6 893.7 L947.9 896 L949.2 897.4 L950.6 894.8 L951.9 887.6 L953.2 896.3 L954.5 897.4 L955.9 898 L957.2 896.4 L958.5 897.6 L959.8 897.3 L961.2 897.8 L962.5 897.9 L963.8 897.6 L965.1 898.1 L966.5 898.2 L967.8 896.1 L969.1 898.6 L970.4 897.1 L971.8 898.5 L973.1 896.1 L974.4 896.6 L975.7 897.6 L977.1 898.8 L978.4 898.7 L979.7 899.1 L981 898.2 L982.4 899.1 L983.7 896.7 L985 899.1 L986.3 897.1 L987.7 898.4 L989 897 L990.3 899.4 L991.6 898.6 L993 898.6 L994.3 897.9 L995.6 898 L996.9 897.9 L998.3 898.9 L999.6 898.8 L1000.9 897.7 L1002.2 897.7 L1003.6 888.9 L1004.9 898.7 L1006.2 898.4 L1007.5 898.6 L1008.9 897.7 L1010.2 899.3 L1011.5 899.5 L1012.8 898.9 L1014.2 894.6 L1015.5 897.1 L1016.8 899.4 L1018.1 899.2 L1019.5 899.2 L1020.8 898 L1022.1 896.2 L1023.4 898.4 L1024.8 899.1 L1026.1 895.9 L1027.4 897.2 L1028.7 898.5 L1030.1 899 L1031.4 898.7 L1032.7 896.4 L1034 898.1 L1035.4 898.2 L1036.2 896.7 L1036.6 896.6 L1036.9 898.4 L1037.2 898.6 L1037.6 897.1 L1037.9 897.4 L1038.2 898.1 L1038.6 897.8 L1038.9 897 L1039.2 896.2 L1039.6 898.3 L1039.9 898.3 L1040.2 896.2 L1040.5 897.6 L1040.9 896.4 L1041.2 897.8 L1041.5 896.8 L1041.9 897.4 L1042.2 896.9 L1042.5 897.5 L1042.9 896.1 L1043.2 897.8 L1043.5 897.2 L1043.9 897.8 L1044.2 896.1 L1044.5 897.3 L1044.9 896.9 L1045.2 896 L1045.5 895.7 L1045.8 896.3 L1046.2 897.3 L1046.5 895.6 L1046.8 896.5 L1047.2 896.6 L1047.5 897.1 L1047.8 894.9 L1048.2 896.2 L1048.5 896.6 L1048.8 896.6 L1049.2 895.7 L1049.5 895.1 L1049.8 893.3 L1050.2 896.1 L1050.5 896.3 L1050.8 894.7 L1051.1 895.9 L1051.5 895.5 L1051.8 893 L1052.1 895.7 L1052.5 895.8 L1052.8 893.8 L1053.1 895.2 L1053.5 893.9 L1053.8 893.3 L1054.1 893.3 L1054.5 894 L1054.8 894.6 L1055.1 892.5 L1055.4 890.7 L1055.8 893.6 L1056.1 894 L1056.4 891.7 L1056.8 893.3 L1057.1 892.4 L1057.4 892.9 L1057.8 892.6 L1058.1 892.4 L1058.4 891.5 L1058.8 891.3 L1059.1 891.4 L1059.4 889.6 L1059.8 889.1 L1060.1 889.2 L1060.4 888.8 L1060.7 889.5 L1061.1 889.2 L1061.4 888 L1061.7 887.5 L1062.1 888 L1062.4 887.6 L1062.7 883.4 L1063.1 886 L1063.4 884.5 L1063.7 883.1 L1064.1 884.5 L1064.4 881.2 L1064.7 882.9 L1065.1 881.4 L1065.4 879.8 L1065.7 877.5 L1066 876.8 L1066.4 876.4 L1066.7 875.8 L1067 874.6 L1067.4 872.8 L1067.7 871.3 L1068 869.6 L1068.4 867.9 L1068.7 865.2 L1069 861.7 L1069.4 860.8 L1069.7 857.6 L1070 852.3 L1070.4 849.7 L1070.7 845.5 L1071 843.1 L1071.3 838.5 L1071.7 833.1 L1072 827.4 L1072.3 820.3 L1072.7 814.5 L1073 806.6 L1073.3 794.7 L1073.7 786.3 L1074 777.2 L1074.3 765.5 L1074.7 752.8 L1075 738.7 L1075.3 725.2 L1075.7 711.6 L1076 695.4 L1076.3 684.7 L1076.6 674.3 L1077 667.4 L1077.3 664.6 L1077.6 664.6 L1078 666 L1078.3 672.3 L1078.6 681.7 L1079 694.7 L1079.3 706.9 L1079.6 722.6 L1080 736.4 L1080.3 747.9 L1080.6 762.9 L1081 774.2 L1081.3 784.8 L1081.6 793.2 L1081.9 804.6 L1082.3 812.2 L1082.6 819.6 L1082.9 825.7 L1083.3 832.5 L1083.6 837.4 L1083.9 841.4 L1084.3 846.9 L1084.6 850.2 L1084.9 850.7 L1085.3 855.9 L1085.6 860.3 L1085.9 863.1 L1086.3 865.4 L1086.6 867.3 L1086.9 868.9 L1087.2 869.9 L1087.6 872.3 L1087.9 873 L1088.2 875.9 L1088.6 876.3 L1088.9 878 L1089.2 878 L1089.6 880.8 L1089.9 881.7 L1090.2 882.2 L1090.6 883.5 L1090.9 884.1 L1091.2 882.3 L1091.6 883.5 L1091.9 884.2 L1092.2 885.5 L1092.5 887.6 L1092.9 886.9 L1093.2 888.4 L1093.5 888.9 L1093.9 888.7 L1094.2 889.5 L1094.5 890.2 L1094.9 889.3 L1095.2 890.5 L1095.5 891.3 L1095.9 891.6 L1096.2 891.6 L1096.5 891.9 L1096.8 889.4 L1097.2 892.1 L1097.5 891 L1097.8 890.5 L1098.2 892.7 L1098.5 890.9 L1098.8 893.5 L1099.2 892.4 L1099.5 894.3 L1099.8 893 L1100.2 893.1 L1100.5 895 L1100.8 894.9 L1101.2 893.3 L1101.5 895.2 L1101.8 893.4 L1102.1 895.7 L1102.5 895.9 L1102.8 895.9 L1103.1 894.3 L1103.5 895.3 L1103.8 893.9 L1104.1 894.7 L1104.5 895.3 L1104.8 895 L1105.1 895.8 L1105.5 895.8 L1105.8 895 L1106.1 896.8 L1106.5 895.8 L1106.8 895.1 L1107.1 895.6 L1107.4 896.3 L1107.8 897.4 L1108.1 897.2 L1108.4 895.5 L1108.8 897.4 L1109.1 895.9 L1109.4 897.3 L1109.8 895.6 L1110.1 898 L1110.4 897.7 L1110.8 897.2 L1111.1 897.7 L1111.4 897.3 L1111.8 896.3 L1112.1 898.1 L1112.4 898.1 L1112.7 897.4 L1113.1 896.7 L1113.4 897.7 L1113.5 898 L1114.6 898.4 L1115.7 897.4 L1116.8 896.9 L1117.9 898.3 L1119 897 L1120.1 899.1 L1121.2 897.2 L1122.4 896.9 L1123.5 899.5 L1124.6 896.6 L1125.7 899.5 L1126.8 897.9 L1127.9 898.1 L1129 899.6 L1130.1 898.6 L1131.2 898.5 L1132.3 898.4 L1133.4 899.6 L1134.5 898.5 L1135.6 898.4 L1136.7 900 L1137.8 899.8 L1138.9 899.2 L1140 899.5 L1141.1 899.4 L1142.2 898.7 L1143.3 898.3 L1144.4 899.9 L1145.5 899.9 L1146.6 900.3 L1147.7 899 L1148.8 899.2 L1150 899.7 L1151.1 899.9 L1152.2 899.1 L1153.3 899.1 L1154.4 899.3 L1155.5 900.3 L1156.6 898.4 L1157.7 899.6 L1158.8 897.4 L1159.9 900.6 L1161 898.9 L1162.1 900.1 L1163.2 899.1 L1164.3 900.5 L1165.4 898.7 L1166.5 899.3 L1167.6 898.2 L1168.7 898.1 L1169.8 898.5 L1170.9 899.4 L1172 900 L1173.1 900 L1174.2 900.6 L1175.3 897.6 L1176.4 898.7 L1177.6 900.1 L1178.7 900.1 L1179.8 898.3 L1180.9 897.7 L1182 899.9 L1183.1 900.4 L1184.2 900 L1185.3 899.5 L1186.4 900 L1187.5 899.9 L1188.6 897.4 L1189.7 900.6 L1190.8 900.4 L1191.9 899.3 L1193 900.2 L1194.1 899 L1195.2 898.8 L1196.3 900.2 L1197.4 900.4 L1198.5 899.8 L1199.6 899.6 L1200.7 899.3 L1201.8 900.6 L1202.9 900.7 L1204 897.8 L1205.2 899.2 L1206.3 900.2 L1207.4 900.2 L1208.5 900.4 L1209.6 898.8 L1210.7 899.6 L1211.8 899.7 L1212.9 899 L1214 898.2 L1215.1 898.9 L1216.2 899.1 L1217.3 898.2 L1218.4 899.6 L1219.5 899 L1220.6 897.9 L1221.7 898.9 L1222.8 898.2 L1223.9 896 L1225 896.9 L1226.1 896.2 L1227.2 896.4 L1228.3 895.5 L1229.4 894.3 L1230.5 892 L1231.6 892.5 L1232.8 891.1 L1233.9 891.6 L1235 890.8 L1236.1 890 L1237.2 887.9 L1238.3 888 L1239.4 885.2 L1240.5 885.9 L1241.6 884.7 L1242.7 883.2 L1243.8 882.9 L1244.9 881.8 L1246 882.4 L1247.1 881.3 L1248.2 880.4 L1249.3 881.7 L1250.4 882.4 L1251.5 882.1 L1252.6 880.9 L1253.7 883.4 L1254.8 882.4 L1255.9 881.8 L1257 885.4 L1258.1 884.2 L1259.2 886.1 L1260.4 887.8 L1261.5 888.2 L1262.6 888.4 L1263.7 890.5 L1264.8 890.7 L1265.9 889.8 L1267 892.3 L1268.1 891.9 L1269.2 894.8 L1270.3 893.9 L1271.4 895.9 L1272.5 894.7 L1273.6 896.1 L1274.7 897.3 L1275.8 897.2 L1276.9 898.2 L1278 898.2 L1279.1 899.4 L1280.2 898.5 L1281.3 899.7 L1282.4 898.3 L1283.5 898.6 L1284.6 897.6 L1285.7 899.4 L1286.8 896.8 L1288 900.1 L1289.1 898.5 L1290.2 899.6 L1291.3 898 L1292.4 898 L1293.5 899.9 L1294.6 898.9 L1295.7 899.9 L1296.8 900.3 L1297.9 900.9 L1299 899.8 L1300.1 899.9 L1301.2 900.1 L1302.3 900 L1303.4 900.8 L1304.5 900.5 L1305.6 900.9 L1306.7 899.9 L1307.8 900.7 L1308.9 898.7 L1310 897.6 L1311.1 900.2 L1312.2 898 L1313.3 900.8 L1314.4 899.7 L1315.6 898.6 L1316.7 898.8 L1317.8 899.2 L1318.9 899.9 L1320 899 L1321.1 899.2 L1322.2 900.9 L1323.3 899.2 L1324.4 899.7 L1325.5 898.8 L1326.6 900.8 L1327.7 900 L1328.8 898.1 L1329.9 900.4 L1331 899.1 L1332.1 900.4 L1333.2 900.7 L1334.3 899.7 L1334.3 903Z" fill="#f0da47" fill-opacity="0.4" stroke="#f0da47" stroke-width="0.8"/><path d="M914.8 903 L914.8 893.8 L916.1 891.8 L917.4 892.6 L918.8 894 L920.1 894 L921.4 893.4 L922.7 893.2 L924.1 894.2 L925.4 894.4 L926.7 893.1 L928 894.1 L929.4 894.8 L930.7 896 L932 895.9 L933.3 895.9 L934.7 896.2 L936 895.6 L937.3 894.9 L938.6 895.1 L940 896.3 L941.3 895.2 L942.6 895.4 L943.9 897.1 L945.3 897.3 L946.6 895.7 L947.9 896.6 L949.2 897 L950.6 897 L951.9 896.7 L953.2 897.4 L954.5 897.8 L955.9 897.8 L957.2 897.7 L958.5 898.3 L959.8 897.5 L961.2 895.8 L962.5 897.3 L963.8 897 L965.1 898.6 L966.5 898.3 L967.8 898.5 L969.1 897.5 L970.4 898 L971.8 898.4 L973.1 896.3 L974.4 898.3 L975.7 897.6 L977.1 898.1 L978.4 899.1 L979.7 897.6 L981 898.4 L982.4 898.6 L983.7 899.4 L985 897.5 L986.3 897.2 L987.7 897.5 L989 898.6 L990.3 897 L991.6 899.2 L993 899.1 L994.3 899.6 L995.6 899.2 L996.9 898.6 L998.3 899.1 L999.6 899.7 L1000.9 899.8 L1002.2 899.7 L1003.6 887.1 L1004.9 899.5 L1006.2 898.5 L1007.5 898.1 L1008.9 899.2 L1010.2 898.4 L1011.5 899.4 L1012.8 898.9 L1014.2 899.2 L1015.5 899.1 L1016.8 898.8 L1018.1 897.5 L1019.5 898.9 L1020.8 898.3 L1022.1 899.5 L1023.4 899.7 L1024.8 897.2 L1026.1 888.4 L1027.4 898.3 L1028.7 899 L1030.1 899.6 L1031.4 899.7 L1032.7 899.4 L1034 899.3 L1035.4 899.4 L1036.2 897.4 L1036.6 897.1 L1036.9 899.4 L1037.2 897.7 L1037.6 899.6 L1037.9 899.2 L1038.2 899.6 L1038.6 897.3 L1038.9 897.9 L1039.2 897.2 L1039.6 898.6 L1039.9 897.9 L1040.2 897.6 L1040.5 897.3 L1040.9 890.4 L1041.2 899 L1041.5 898.9 L1041.9 898.3 L1042.2 899 L1042.5 899 L1042.9 896.3 L1043.2 898.4 L1043.5 899 L1043.9 897.9 L1044.2 895.6 L1044.5 895.9 L1044.9 898.8 L1045.2 897 L1045.5 897.6 L1045.8 898.9 L1046.2 897.6 L1046.5 899.2 L1046.8 898.2 L1047.2 898 L1047.5 896.3 L1047.8 899.1 L1048.2 897.6 L1048.5 896.1 L1048.8 897.4 L1049.2 898.8 L1049.5 896.3 L1049.8 896 L1050.2 898.6 L1050.5 895.5 L1050.8 897.7 L1051.1 898.2 L1051.5 898.4 L1051.8 898.2 L1052.1 896.4 L1052.5 898.2 L1052.8 896.4 L1053.1 898.1 L1053.5 897.7 L1053.8 897.1 L1054.1 898.2 L1054.5 896.2 L1054.8 896.7 L1055.1 895.7 L1055.4 896.1 L1055.8 897.5 L1056.1 895.5 L1056.4 895.4 L1056.8 896.8 L1057.1 896.9 L1057.4 897 L1057.8 896.3 L1058.1 895.7 L1058.4 897 L1058.8 896.7 L1059.1 895.9 L1059.4 892.9 L1059.8 895.8 L1060.1 896.3 L1060.4 895.7 L1060.7 894.7 L1061.1 893.9 L1061.4 895.3 L1061.7 895.1 L1062.1 893.6 L1062.4 893.9 L1062.7 894.6 L1063.1 893.5 L1063.4 891.9 L1063.7 891.8 L1064.1 893.2 L1064.4 891.8 L1064.7 890.4 L1065.1 890.9 L1065.4 891.2 L1065.7 890 L1066 890.3 L1066.4 889.8 L1066.7 889.9 L1067 888.9 L1067.4 887.2 L1067.7 887.9 L1068 885.1 L1068.4 884.7 L1068.7 884.2 L1069 883.3 L1069.4 882.4 L1069.7 881.9 L1070 880.4 L1070.4 875.3 L1070.7 875.3 L1071 874.8 L1071.3 871.8 L1071.7 869.3 L1072 867.5 L1072.3 863.2 L1072.7 860.1 L1073 855.7 L1073.3 850.7 L1073.7 846.3 L1074 840.3 L1074.3 832.9 L1074.7 824.2 L1075 814.2 L1075.3 801.2 L1075.7 787.6 L1076 773.4 L1076.3 755.4 L1076.6 736.7 L1077 714.9 L1077.3 695.7 L1077.6 678.8 L1078 666.2 L1078.3 664.6 L1078.6 664.6 L1079 673.9 L1079.3 689.7 L1079.6 708.5 L1080 729.2 L1080.3 746.2 L1080.6 766 L1081 783.2 L1081.3 797.2 L1081.6 808.5 L1081.9 819.2 L1082.3 829.4 L1082.6 836.6 L1082.9 842.9 L1083.3 849.7 L1083.6 853 L1083.9 859.1 L1084.3 861.9 L1084.6 865.2 L1084.9 868.8 L1085.3 870.9 L1085.6 873.2 L1085.9 875.5 L1086.3 878.3 L1086.6 879.1 L1086.9 880.3 L1087.2 882 L1087.6 881.3 L1087.9 881.4 L1088.2 884.3 L1088.6 886.3 L1088.9 887.5 L1089.2 887.1 L1089.6 888.4 L1089.9 886.3 L1090.2 890.4 L1090.6 890.4 L1090.9 888.7 L1091.2 890.3 L1091.6 891.8 L1091.9 891.5 L1092.2 891.3 L1092.5 892 L1092.9 893 L1093.2 891.8 L1093.5 893.7 L1093.9 893.4 L1094.2 892.7 L1094.5 893.8 L1094.9 894.8 L1095.2 894.1 L1095.5 894.9 L1095.9 893.8 L1096.2 894.9 L1096.5 896.1 L1096.8 895.4 L1097.2 894.1 L1097.5 896.3 L1097.8 895.9 L1098.2 896.5 L1098.5 894.7 L1098.8 896.8 L1099.2 896.4 L1099.5 896.1 L1099.8 897.6 L1100.2 895.9 L1100.5 896 L1100.8 896.2 L1101.2 898 L1101.5 897.6 L1101.8 898 L1102.1 895.1 L1102.5 897.6 L1102.8 898.3 L1103.1 898.3 L1103.5 898.1 L1103.8 898.5 L1104.1 897.3 L1104.5 898.4 L1104.8 898.3 L1105.1 898.7 L1105.5 898.3 L1105.8 898.3 L1106.1 898.5 L1106.5 896.9 L1106.8 896.9 L1107.1 898.4 L1107.4 897.9 L1107.8 898.6 L1108.1 896.8 L1108.4 897.3 L1108.8 897.8 L1109.1 899.2 L1109.4 898.9 L1109.8 897.8 L1110.1 897.3 L1110.4 898.6 L1110.8 898.4 L1111.1 899.5 L1111.4 896.2 L1111.8 899.1 L1112.1 899.1 L1112.4 899.4 L1112.7 899.7 L1113.1 896.3 L1113.4 899.5 L1113.5 899 L1114.6 898.8 L1115.7 899.3 L1116.8 898 L1117.9 896.4 L1119 899.6 L1120.1 900 L1121.2 899.3 L1122.4 899 L1123.5 900 L1124.6 899.4 L1125.7 899.4 L1126.8 900.1 L1127.9 899.3 L1129 900.4 L1130.1 898.6 L1131.2 898.6 L1132.3 900.3 L1133.4 899.6 L1134.5 898.9 L1135.6 899.1 L1136.7 899.8 L1137.8 900 L1138.9 898.1 L1140 899 L1141.1 899.7 L1142.2 900.2 L1143.3 899.2 L1144.4 898.3 L1145.5 898.6 L1146.6 900.5 L1147.7 900.3 L1148.8 899 L1150 899 L1151.1 900.6 L1152.2 898.5 L1153.3 899.4 L1154.4 900.4 L1155.5 900.8 L1156.6 899 L1157.7 900.2 L1158.8 898.2 L1159.9 899.7 L1161 897.9 L1162.1 899.9 L1163.2 899.2 L1164.3 898.8 L1165.4 899.3 L1166.5 899 L1167.6 899.4 L1168.7 900.6 L1169.8 900.4 L1170.9 897.9 L1172 898.7 L1173.1 900 L1174.2 900.9 L1175.3 899.3 L1176.4 898.7 L1177.6 898.3 L1178.7 898.7 L1179.8 900.3 L1180.9 900.4 L1182 900.4 L1183.1 898.4 L1184.2 899.6 L1185.3 899.4 L1186.4 900.6 L1187.5 900.3 L1188.6 900.1 L1189.7 899.6 L1190.8 898.8 L1191.9 900.2 L1193 900.3 L1194.1 898.7 L1195.2 898.5 L1196.3 900.3 L1197.4 900.8 L1198.5 898.5 L1199.6 900.6 L1200.7 899.9 L1201.8 899.5 L1202.9 900.3 L1204 899.9 L1205.2 899.2 L1206.3 900.4 L1207.4 899.2 L1208.5 900.1 L1209.6 898.2 L1210.7 900.3 L1211.8 900.2 L1212.9 900.5 L1214 899.1 L1215.1 900.4 L1216.2 900.3 L1217.3 899.1 L1218.4 899.2 L1219.5 899.5 L1220.6 898.9 L1221.7 898 L1222.8 896.5 L1223.9 897.4 L1225 896.6 L1226.1 896 L1227.2 896.7 L1228.3 893.4 L1229.4 896.1 L1230.5 895 L1231.6 894.6 L1232.8 893.4 L1233.9 891.9 L1235 890.8 L1236.1 890.2 L1237.2 890.3 L1238.3 889.1 L1239.4 888.8 L1240.5 887.6 L1241.6 887.5 L1242.7 886 L1243.8 885.3 L1244.9 884.3 L1246 882.9 L1247.1 870.5 L1248.2 882.7 L1249.3 882.1 L1250.4 884.4 L1251.5 884.9 L1252.6 884.3 L1253.7 884.8 L1254.8 885.9 L1255.9 886.1 L1257 882.8 L1258.1 887.2 L1259.2 887.6 L1260.4 888.4 L1261.5 889.9 L1262.6 890 L1263.7 889.2 L1264.8 891.2 L1265.9 891.9 L1267 891.9 L1268.1 894.2 L1269.2 894.3 L1270.3 895.6 L1271.4 892.9 L1272.5 896.1 L1273.6 897.6 L1274.7 897.9 L1275.8 897.8 L1276.9 899 L1278 896.9 L1279.1 898.4 L1280.2 899.8 L1281.3 900.1 L1282.4 899 L1283.5 889.8 L1284.6 898.7 L1285.7 896.7 L1286.8 899.6 L1288 899.6 L1289.1 900.6 L1290.2 900.5 L1291.3 900.1 L1292.4 899.4 L1293.5 899.9 L1294.6 900.9 L1295.7 900.4 L1296.8 900.1 L1297.9 898.1 L1299 900.3 L1300.1 900.6 L1301.2 899.8 L1302.3 899.5 L1303.4 898.9 L1304.5 900.2 L1305.6 898.4 L1306.7 899.6 L1307.8 900.8 L1308.9 900.4 L1310 900.4 L1311.1 899.5 L1312.2 899.3 L1313.3 897.6 L1314.4 900.7 L1315.6 898.7 L1316.7 900.8 L1317.8 900.5 L1318.9 900.5 L1320 899.2 L1321.1 899.8 L1322.2 899 L1323.3 899.7 L1324.4 899.3 L1325.5 897.4 L1326.6 898.9 L1327.7 899.2 L1328.8 900.6 L1329.9 899.4 L1331 900.9 L1332.1 899.2 L1333.2 900.9 L1334.3 900.9 L1334.3 903Z" fill="#f0e541" fill-opacity="0.4" stroke="#f0e541" stroke-width="0.8"/><path d="M914.8 903 L914.8 892.5 L916.1 891.8 L917.4 893.8 L918.8 894.4 L920.1 894.4 L921.4 893.3 L922.7 893.7 L924.1 893 L925.4 895 L926.7 894.4 L928 892.7 L929.4 892.7 L930.7 895.2 L932 893.9 L933.3 893.1 L934.7 894.8 L936 896.5 L937.3 895.9 L938.6 896.2 L940 896.1 L941.3 896.4 L942.6 896.9 L943.9 897 L945.3 896.1 L946.6 895.7 L947.9 896.5 L949.2 896.9 L950.6 889 L951.9 896.8 L953.2 894.8 L954.5 894.9 L955.9 896.1 L957.2 896.9 L958.5 896.7 L959.8 897.1 L961.2 897.2 L962.5 896.9 L963.8 898.2 L965.1 897 L966.5 896.8 L967.8 898.3 L969.1 898.3 L970.4 897.8 L971.8 898.4 L973.1 898.4 L974.4 898.8 L975.7 897.3 L977.1 896.5 L978.4 898.5 L979.7 895.5 L981 898.2 L982.4 889.1 L983.7 898.2 L985 898.9 L986.3 899.4 L987.7 899.4 L989 898.4 L990.3 899 L991.6 898.8 L993 898.6 L994.3 899.4 L995.6 896.1 L996.9 899.4 L998.3 897.4 L999.6 898.2 L1000.9 898.1 L1002.2 897.6 L1003.6 898.8 L1004.9 898.6 L1006.2 899.4 L1007.5 899.4 L1008.9 896.9 L1010.2 899.2 L1011.5 897.9 L1012.8 899.4 L1014.2 899.8 L1015.5 899.5 L1016.8 899.3 L1018.1 899.6 L1019.5 899.3 L1020.8 899.6 L1022.1 898.5 L1023.4 899.1 L1024.8 899.4 L1026.1 899.3 L1027.4 899 L1028.7 897.6 L1030.1 899.3 L1031.4 899 L1032.7 899.1 L1034 897.1 L1035.4 898.7 L1036.2 897.8 L1036.6 898.4 L1036.9 899 L1037.2 895.4 L1037.6 899.1 L1037.9 897.2 L1038.2 897.9 L1038.6 898.9 L1038.9 898.3 L1039.2 898.9 L1039.6 897.7 L1039.9 897.8 L1040.2 898 L1040.5 899 L1040.9 898.3 L1041.2 898.4 L1041.5 895.1 L1041.9 898.3 L1042.2 896.2 L1042.5 898.7 L1042.9 898.1 L1043.2 899.1 L1043.5 898.7 L1043.9 898.7 L1044.2 898.4 L1044.5 898.6 L1044.9 898.3 L1045.2 897.4 L1045.5 898.8 L1045.8 898.4 L1046.2 898.1 L1046.5 897.3 L1046.8 898.2 L1047.2 895.5 L1047.5 896.4 L1047.8 898.3 L1048.2 898 L1048.5 895.7 L1048.8 895.2 L1049.2 897.6 L1049.5 896.9 L1049.8 895.3 L1050.2 898 L1050.5 898 L1050.8 896.8 L1051.1 896.6 L1051.5 894.4 L1051.8 896.5 L1052.1 897.1 L1052.5 896.4 L1052.8 896.2 L1053.1 897.3 L1053.5 896.3 L1053.8 897.4 L1054.1 897.1 L1054.5 897 L1054.8 895.9 L1055.1 896.1 L1055.4 896.3 L1055.8 895.8 L1056.1 895.7 L1056.4 896.1 L1056.8 896.5 L1057.1 894.3 L1057.4 895.8 L1057.8 894.8 L1058.1 896.1 L1058.4 895.5 L1058.8 895.4 L1059.1 895.2 L1059.4 894 L1059.8 892.5 L1060.1 891.7 L1060.4 894 L1060.7 894 L1061.1 893.7 L1061.4 892.7 L1061.7 892.9 L1062.1 894 L1062.4 893.8 L1062.7 893.2 L1063.1 892.6 L1063.4 892.9 L1063.7 892.6 L1064.1 891.7 L1064.4 891 L1064.7 891.6 L1065.1 891.1 L1065.4 890.9 L1065.7 890.3 L1066 888 L1066.4 888.3 L1066.7 885.9 L1067 887.8 L1067.4 887.3 L1067.7 885.6 L1068 884.9 L1068.4 885.5 L1068.7 884.2 L1069 881.2 L1069.4 883 L1069.7 881.6 L1070 880.3 L1070.4 879.5 L1070.7 877.3 L1071 875.8 L1071.3 873.7 L1071.7 873.6 L1072 870.2 L1072.3 868 L1072.7 864.6 L1073 863.1 L1073.3 858.4 L1073.7 857.4 L1074 853.8 L1074.3 846.3 L1074.7 844.6 L1075 836.5 L1075.3 832.1 L1075.7 821.9 L1076 814.8 L1076.3 807.2 L1076.6 798.3 L1077 786.2 L1077.3 773 L1077.6 758.3 L1078 742.9 L1078.3 726.5 L1078.6 709.4 L1079 693.7 L1079.3 678.9 L1079.6 669.5 L1080 664.6 L1080.3 664.6 L1080.6 664.9 L1081 676.3 L1081.3 690 L1081.6 705.7 L1081.9 722.7 L1082.3 735.2 L1082.6 755.8 L1082.9 768.9 L1083.3 783.5 L1083.6 795.9 L1083.9 805.6 L1084.3 812.9 L1084.6 823.4 L1084.9 830.4 L1085.3 837.8 L1085.6 843.7 L1085.9 848.6 L1086.3 852 L1086.6 856.2 L1086.9 859.9 L1087.2 863.3 L1087.6 866.4 L1087.9 868.3 L1088.2 869.7 L1088.6 872.7 L1088.9 872.9 L1089.2 876.7 L1089.6 877.8 L1089.9 878.8 L1090.2 880.3 L1090.6 880.4 L1090.9 882.6 L1091.2 882 L1091.6 883.2 L1091.9 885.7 L1092.2 884.2 L1092.5 886.4 L1092.9 887.4 L1093.2 886.7 L1093.5 888.5 L1093.9 888.8 L1094.2 889 L1094.5 890.3 L1094.9 889.8 L1095.2 890.8 L1095.5 891.3 L1095.9 890.4 L1096.2 890 L1096.5 891.9 L1096.8 890.3 L1097.2 891.6 L1097.5 891.8 L1097.8 892.9 L1098.2 893.9 L1098.5 893.6 L1098.8 894.1 L1099.2 894 L1099.5 894 L1099.8 893 L1100.2 894.4 L1100.5 894.5 L1100.8 894.4 L1101.2 895.7 L1101.5 895.1 L1101.8 895 L1102.1 895.5 L1102.5 894.7 L1102.8 896.7 L1103.1 895.3 L1103.5 895.2 L1103.8 895.8 L1104.1 896.9 L1104.5 895.4 L1104.8 896 L1105.1 896.2 L1105.5 896.8 L1105.8 895.8 L1106.1 896.6 L1106.5 897.2 L1106.8 896 L1107.1 896.1 L1107.4 896.7 L1107.8 897.3 L1108.1 897.5 L1108.4 897.6 L1108.8 898.2 L1109.1 897.8 L1109.4 898.2 L1109.8 897.9 L1110.1 897.7 L1110.4 896.8 L1110.8 898.4 L1111.1 897.9 L1111.4 897.4 L1111.8 898.2 L1112.1 897.4 L1112.4 898.3 L1112.7 898.7 L1113.1 897.9 L1113.4 896.3 L1113.5 897.8 L1114.6 899.1 L1115.7 898.5 L1116.8 898.1 L1117.9 898.8 L1119 899.1 L1120.1 899 L1121.2 897.8 L1122.4 897.8 L1123.5 898.5 L1124.6 897.3 L1125.7 897.8 L1126.8 899.2 L1127.9 897.9 L1129 900 L1130.1 900.1 L1131.2 898.7 L1132.3 898.4 L1133.4 899.8 L1134.5 899.2 L1135.6 898.7 L1136.7 900.2 L1137.8 898.9 L1138.9 899.8 L1140 899.1 L1141.1 899.3 L1142.2 897.9 L1143.3 898 L1144.4 898.2 L1145.5 898.2 L1146.6 899.9 L1147.7 900 L1148.8 899.8 L1150 899 L1151.1 900 L1152.2 899.8 L1153.3 900.1 L1154.4 899.6 L1155.5 899.7 L1156.6 900.4 L1157.7 899.5 L1158.8 900.5 L1159.9 899.9 L1161 899.2 L1162.1 899.3 L1163.2 899.6 L1164.3 896.7 L1165.4 899.4 L1166.5 900.2 L1167.6 899.6 L1168.7 900.8 L1169.8 899.9 L1170.9 898.7 L1172 900.1 L1173.1 898.7 L1174.2 895.7 L1175.3 899.8 L1176.4 900.6 L1177.6 900 L1178.7 898.7 L1179.8 900.5 L1180.9 899 L1182 900.7 L1183.1 900.6 L1184.2 898.4 L1185.3 899.6 L1186.4 899.2 L1187.5 897.8 L1188.6 900.8 L1189.7 900.3 L1190.8 899.3 L1191.9 899 L1193 900.4 L1194.1 900.3 L1195.2 898.8 L1196.3 898.8 L1197.4 900.5 L1198.5 899.6 L1199.6 900.1 L1200.7 900.7 L1201.8 900.3 L1202.9 900.8 L1204 899.8 L1205.2 898.3 L1206.3 900.2 L1207.4 899.5 L1208.5 897.9 L1209.6 900.5 L1210.7 900.6 L1211.8 898.3 L1212.9 899.9 L1214 898.3 L1215.1 897.6 L1216.2 898.9 L1217.3 899.8 L1218.4 899.7 L1219.5 899.2 L1220.6 898.3 L1221.7 898.9 L1222.8 898.1 L1223.9 898.4 L1225 897.4 L1226.1 896.4 L1227.2 896.8 L1228.3 895.8 L1229.4 894.9 L1230.5 892.8 L1231.6 891.2 L1232.8 892.1 L1233.9 892.7 L1235 889.4 L1236.1 889.9 L1237.2 889.1 L1238.3 889.2 L1239.4 887.8 L1240.5 886.2 L1241.6 881.8 L1242.7 883.8 L1243.8 884.2 L1244.9 883.6 L1246 883.1 L1247.1 883.4 L1248.2 882.9 L1249.3 882.7 L1250.4 882.9 L1251.5 882.5 L1252.6 882.5 L1253.7 882.2 L1254.8 882.5 L1255.9 883.2 L1257 884.7 L1258.1 885.5 L1259.2 886.2 L1260.4 886.3 L1261.5 875.8 L1262.6 888.4 L1263.7 889.3 L1264.8 888.5 L1265.9 890.1 L1267 888.6 L1268.1 892 L1269.2 894 L1270.3 893.7 L1271.4 893.4 L1272.5 895.1 L1273.6 894.9 L1274.7 895.2 L1275.8 897.8 L1276.9 896.8 L1278 897.1 L1279.1 898.4 L1280.2 899.4 L1281.3 899.6 L1282.4 899.9 L1283.5 885.6 L1284.6 898.9 L1285.7 900.2 L1286.8 898.2 L1288 900.5 L1289.1 899.3 L1290.2 900 L1291.3 899.9 L1292.4 899.7 L1293.5 899 L1294.6 900.5 L1295.7 899.2 L1296.8 899.4 L1297.9 900.4 L1299 901 L1300.1 900.7 L1301.2 900.8 L1302.3 900.4 L1303.4 900.2 L1304.5 899.3 L1305.6 900.9 L1306.7 900.4 L1307.8 900.9 L1308.9 900.8 L1310 899 L1311.1 900.7 L1312.2 899.8 L1313.3 898.5 L1314.4 899.1 L1315.6 900.9 L1316.7 898.9 L1317.8 899.4 L1318.9 900.6 L1320 900.4 L1321.1 899.6 L1322.2 899.9 L1323.3 900.8 L1324.4 898.6 L1325.5 899.5 L1326.6 898.5 L1327.7 899.7 L1328.8 900.7 L1329.9 900.8 L1331 900.2 L1332.1 900.1 L1333.2 899.3 L1334.3 900.4 L1334.3 903Z" fill="#f0f03c" fill-opacity="0.4" stroke="#f0f03c" stroke-width="0.8"/></g>
<path d="M914.6 882.4 L915.4 880 L916.2 878.9 L917 879 L917.8 879.6 L918.6 879.5 L919.4 881.8 L920.2 883.5 L921 886.4 L921.8 888.6 L922.6 888.7 L923.4 888.2 L924.2 888.8 L925 889.6 L925.8 890.4 L926.6 890.4 L927.4 890 L928.2 889.4 L929 888.7 L929.8 888.4 L930.6 889.3 L931.4 891.6 L932.2 893.3 L933 893.8 L933.8 893.7 L934.6 893.1 L935.4 892.7 L936.2 892.9 L937 893.2 L937.8 892.8 L938.6 892.1 L939.4 891.8 L940.2 892.8 L941 893.9 L941.8 894.4 L942.6 893.6 L943.4 893.8 L944.2 893.6 L945 893.7 L945.8 893.7 L946.6 894.6 L947.4 894.9 L948.2 894.6 L949 894.3 L949.8 893.6 L950.6 893.5 L951.4 893.6 L952.2 893.9 L953 893.7 L953.8 894.1 L954.6 893.9 L955.4 894.2 L956.2 893.3 L957 893.4 L957.8 892.7 L958.6 893.4 L959.4 893.9 L960.2 893.8 L961 894.3 L961.8 894.1 L962.6 894.5 L963.4 894.5 L964.2 895.4 L965 895.4 L965.8 895 L966.6 894.6 L967.4 894.3 L968.2 894.3 L969 894.1 L969.8 893.9 L970.6 894.3 L971.4 895.8 L972.2 896.3 L973 896.3 L973.8 894.8 L974.6 894.2 L975.4 894.1 L976.2 895.5 L977 896.1 L977.8 895.8 L978.6 895.2 L979.4 895.5 L980.2 895.6 L981 895 L981.8 895.2 L982.6 896.2 L983.4 896.6 L984.2 896.1 L985 896.4 L985.8 897.3 L986.6 897.4 L987.4 896.8 L988.2 896.2 L989 896.1 L989.8 895.7 L990.6 895.8 L991.4 896.2 L992.2 897.3 L993 896.4 L993.8 896.3 L994.6 896.8 L995.4 898.3 L996.2 897.4 L997 896 L997.8 895.6 L998.6 896.3 L999.4 896.8 L1000.2 897.1 L1001 897.5 L1001.8 897.7 L1002.6 897.1 L1003.4 896.6 L1004.2 896.3 L1005 896.4 L1005.8 896.7 L1006.6 897.6 L1007.4 898.3 L1008.2 898.4 L1009 897.5 L1009.8 896.9 L1010.6 897 L1011.4 897.3 L1012.2 897.1 L1013 897.4 L1013.8 898.3 L1014.6 898.3 L1015.4 898.3 L1016.2 898 L1017 897.5 L1017.8 897.2 L1018.6 898.2 L1019.4 898.9 L1020.2 898.4 L1021 897.9 L1021.8 898.2 L1022.6 897.7 L1023.4 897 L1024.2 897 L1025 897.7 L1025.8 898.5 L1026.6 899.1 L1027.4 899.3 L1028.2 898.3 L1029 897.5 L1029.8 896.7 L1030.6 897.2 L1031.4 897 L1032.2 896.4 L1033 896.3 L1033.8 897 L1034.6 897.1 L1035.4 896.9 L1036.2 897.3 L1037 897.9 L1037.8 897.3 L1038.6 896.6 L1039.4 895.5 L1040.2 895.7 L1041 896.3 L1041.8 896.9 L1042.6 897.6 L1043.4 897.8 L1044.2 897 L1045 895.2 L1045.8 894.3 L1046.6 894.5 L1047.4 894.4 L1048.2 893.7 L1049 893.2 L1049.8 892.3 L1050.6 889.7 L1051.4 887.1 L1052.2 884.3 L1053 880.8 L1053.8 877.5 L1054.6 875.7 L1055.4 873.8 L1056.2 868 L1057 860.3 L1057.8 851.1 L1058.6 833.1 L1059.5 815 L1061 775 L1062 745 L1063 718 L1064 707 L1065 700 L1066 680 L1066.5 668 L1067.5 667 L1068.3 690 L1069 670 L1070 700 L1071 675 L1071.8 712 L1072.5 690 L1073 665 L1073.8 664 L1074.5 680 L1075.3 668 L1075.8 700 L1076.5 722 L1077.3 748 L1078.2 772 L1079 783.3 L1079.8 793.9 L1080.6 803.9 L1081.4 813.2 L1082.2 822.3 L1083 832.8 L1083.8 844.2 L1084.6 852.6 L1085.4 859.5 L1086.2 866.8 L1087 875.3 L1087.8 882.5 L1088.6 883.9 L1089.4 884.9 L1090.2 886.6 L1091 887.6 L1091.8 888.7 L1092.6 889.8 L1093.4 890.3 L1094.2 891.3 L1095 891.9 L1095.8 893.4 L1096.6 893.9 L1097.4 894.9 L1098.2 895.7 L1099 896.5 L1099.8 896.4 L1100.6 896.7 L1101.4 896.9 L1102.2 897.5 L1103 897 L1103.8 897 L1104.6 896.7 L1105.4 897.3 L1106.2 896.6 L1107 896.3 L1107.8 896.3 L1108.6 897.3 L1109.4 898.2 L1110.2 898.6 L1111 898.2 L1111.8 898.1 L1112.6 898.4 L1113.4 898.7 L1114.2 898.4 L1115 898.1 L1115.8 898.2 L1116.6 899.2 L1117.4 899.4 L1118.2 899.7 L1119 899 L1119.8 899.3 L1120.6 899.1 L1121.4 898.9 L1122.2 898.5 L1123 898.6 L1123.8 899.2 L1124.6 899.2 L1125.4 898.9 L1126.2 898.9 L1127 899.3 L1127.8 899.4 L1128.6 899.8 L1129.4 899.2 L1130.2 898.7 L1131 898.7 L1131.8 899.2 L1132.6 899.4 L1133.4 899.2 L1134.2 898.6 L1135 898.3 L1135.8 899.3 L1136.6 900 L1137.4 900 L1138.2 899.6 L1139 900 L1139.8 899.7 L1140.6 899.4 L1141.4 899.1 L1142.2 899.6 L1143 900 L1143.8 900.6 L1144.6 900.5 L1145.4 899.7 L1146.2 899.2 L1147 899.3 L1147.8 899.8 L1148.6 899.8 L1149.4 900 L1150.2 900.3 L1151 900.7 L1151.8 900.9 L1152.6 900.7 L1153.4 900.3 L1154.2 900.2 L1155 900.2 L1155.8 900.6 L1156.6 900.6 L1157.4 900.6 L1158.2 900.8 L1159 900.6 L1159.8 900.5 L1160.6 900.8 L1161.4 900.4 L1162.2 899.9 L1163 900.2 L1163.8 900.9 L1164.6 900.2 L1165.4 899.7 L1166.2 900.1 L1167 900.5 L1167.8 900.3 L1168.6 900.5 L1169.4 900.3 L1170.2 900.4 L1171 900 L1171.8 900.3 L1172.6 900.7 L1173.4 901.3 L1174.2 901.4 L1175 901.5 L1175.8 901.3 L1176.6 901.8 L1177.4 902.1 L1178.2 901.6 L1179 900.4 L1179.8 900.2 L1180.6 900.9 L1181.4 901.8 L1182.2 901.2 L1183 900.3 L1183.8 899.7 L1184.6 900.2 L1185.4 900.1 L1186.2 899.6 L1187 899.4 L1187.8 899.9 L1188.6 900.6 L1189.4 900.6 L1190.2 899.5 L1191 899 L1191.8 899.6 L1192.6 900.4 L1193.4 900.6 L1194.2 900.9 L1195 900.4 L1195.8 899.3 L1196.6 898.4 L1197.4 899 L1198.2 899.4 L1199 899.3 L1199.8 898.3 L1200.6 898 L1201.4 897.7 L1202.2 898.3 L1203 898.4 L1203.8 898.4 L1204.6 898.3 L1205.4 899 L1206.2 898.4 L1207 897.8 L1207.8 897.7 L1208.6 898.5 L1209.4 898.3 L1210.2 898 L1211 897.8 L1211.8 897.6 L1212.6 897.6 L1213.4 897.4 L1214.2 897.4 L1215 897.2 L1215.8 897 L1216.6 896.7 L1217.4 897.3 L1218.2 897.5 L1219 896.8 L1219.8 895.8 L1220.6 895.6 L1221.4 895.7 L1222.2 896.1 L1223 896.9 L1223.8 897.1 L1224.6 896.5 L1225.4 895.3 L1226.2 894.8 L1227 894.6 L1227.8 893.8 L1228.6 892.6 L1229.4 891 L1230.2 890.4 L1231 890.4 L1231.8 889.9 L1232.6 888.5 L1233.4 888.2 L1234.2 888.8 L1235 888.7 L1235.8 887.4 L1236.6 886.3 L1237.4 885.4 L1238.2 884.5 L1239 883.7 L1239.8 883.4 L1240.6 883 L1241.4 882.5 L1242.2 882 L1243 881.8 L1243.8 881.4 L1244.6 881.3 L1245.4 881.7 L1246.2 882.2 L1247 882.9 L1247.8 882.7 L1248.6 882.4 L1249.4 881.9 L1250.2 882.5 L1251 882.5 L1251.8 883.1 L1252.6 883.7 L1253.4 883.7 L1254.2 884 L1255 884.2 L1255.8 884.6 L1256.6 885 L1257.4 885.7 L1258.2 886.3 L1259 887 L1259.8 888 L1260.6 887.5 L1261.4 887 L1262.2 886.6 L1263 887.8 L1263.8 889.3 L1264.6 890.9 L1265.4 891.2 L1266.2 891.5 L1267 892 L1267.8 893.1 L1268.6 893.8 L1269.4 894.3 L1270.2 893.7 L1271 893.7 L1271.8 894.3 L1272.6 895.2 L1273.4 896.1 L1274.2 896.7 L1275 897 L1275.8 896.8 L1276.6 897.1 L1277.4 897.1 L1278.2 897.4 L1279 897.4 L1279.8 898 L1280.6 898.7 L1281.4 899.2 L1282.2 899.4 L1283 898.8 L1283.8 898.5 L1284.6 897.8 L1285.4 898.1 L1286.2 898.8 L1287 899.4 L1287.8 899.6 L1288.6 899.7 L1289.4 900.2 L1290.2 900.4 L1291 900.2 L1291.8 900.2 L1292.6 900.2 L1293.4 899.9 L1294.2 899 L1295 898.7 L1295.8 899.2 L1296.6 899.6 L1297.4 899.3 L1298.2 898.7 L1299 899 L1299.8 899.1 L1300.6 899 L1301.4 898.8 L1302.2 898.8 L1303 899.3 L1303.8 899.8 L1304.6 900 L1305.4 899.8 L1306.2 899.9 L1307 900.3 L1307.8 900.5 L1308.6 900.5 L1309.4 900.5 L1310.2 900.3 L1311 900 L1311.8 899.9 L1312.6 900.2 L1313.4 900.7 L1314.2 901 L1315 900.9 L1315.8 900.4 L1316.6 900.3 L1317.4 900.6 L1318.2 900.5 L1319 900.2 L1319.8 900.8 L1320.6 901.2 L1321.4 901.5 L1322.2 900.9 L1323 900.7 L1323.8 901 L1324.6 901.2 L1325.4 900.7 L1326.2 900.7 L1327 901.4 L1327.8 902.1 L1328.6 901.3 L1329.4 902.2 L1330.2 902.1 L1331 902.3 L1331.8 901.4 L1332.6 901.7 L1333.4 901.8 L1334.2 901.7" stroke="#000" fill="none" stroke-width="2.8" stroke-linejoin="round"/>
<line x1="914.8" y1="664.6" x2="914.8" y2="903.5" stroke="#666" stroke-width="1.2"/>
<line x1="914.3" y1="903" x2="1334.4" y2="903" stroke="#666" stroke-width="1.2"/>
<line x1="914.8" y1="664.6" x2="917.8" y2="664.6" stroke="#666" stroke-width="1.2"/>
<text x="896" y="676.6" font-size="33.2">1</text>
<text x="891.5" y="912.3" font-size="33.2">0</text>
<text x="906.5" y="934.3" font-size="33.2">1</text>
<text x="1093.7" y="933.7" font-size="33.2">10</text>
<text x="1314.5" y="933.7" font-size="33.2">20</text>
<text x="1007.3" y="958.7" font-size="33.2">Frequency (Hz)</text>
<text x="882.4" y="880.3" font-size="33.2" transform="rotate(-90 882.4 880.3)">PSD (Norm.)</text>
<text x="1146" y="690" font-size="33.2">All Sessions</text>
<rect x="1215.7" y="696.3" width="110.8" height="4.7" fill="url(#sg)"/>
<text x="1204.4" y="736" font-size="33.2">Average</text>
<line x1="1209.7" y1="747.8" x2="1326.5" y2="747.8" stroke="#000" stroke-width="2"/>
</svg></body></html>
